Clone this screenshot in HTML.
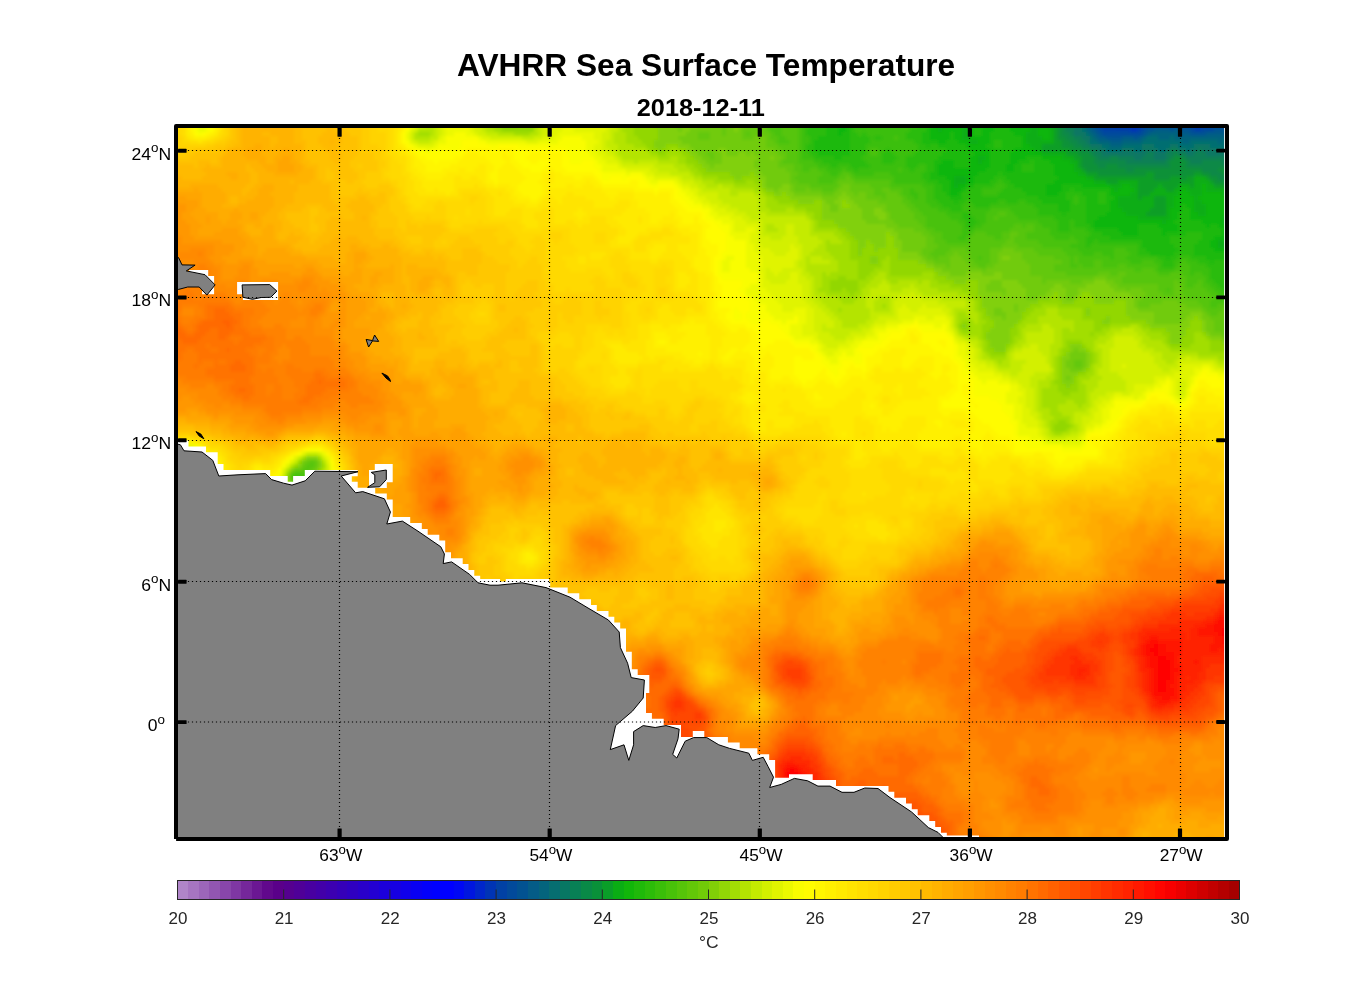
<!DOCTYPE html><html><head><meta charset="utf-8"><title>AVHRR Sea Surface Temperature</title>
<style>html,body{margin:0;padding:0;background:#fff}body{width:1356px;height:1000px;overflow:hidden}svg{display:block}text{font-family:"Liberation Sans",sans-serif}</style></head><body>
<svg width="1356" height="1000" viewBox="0 0 1356 1000">
<rect width="1356" height="1000" fill="#fff"/>
<defs><clipPath id="cp"><rect x="176" y="126" width="1051" height="713"/></clipPath><filter id="sm" x="170" y="120" width="1064" height="726" filterUnits="userSpaceOnUse"><feGaussianBlur stdDeviation="1.6"/></filter></defs>
<g clip-path="url(#cp)">
<rect x="170" y="120" width="1064" height="726" fill="#ffa800"/>
<g filter="url(#sm)">
<g shape-rendering="crispEdges" fill="none" stroke-width="4">
<path stroke="#0026ca" d="M1118 122h4"/>
<path stroke="#0034b5" d="M1114 122h4M1122 122h20M1194 122h12M1114 126h28M1194 126h8M1130 130h8"/>
<path stroke="#0141a5" d="M1102 122h12M1142 122h8M1166 122h28M1206 122h8M1098 126h16M1142 126h4M1190 126h4M1202 126h8M1102 130h28M1138 130h4M1194 130h8"/>
<path stroke="#024a9b" d="M1094 122h8M1150 122h16M1214 122h12M1094 126h4M1146 126h12M1162 126h28M1210 126h16M1098 130h4M1142 130h4M1190 130h4M1202 130h12M1102 134h40"/>
<path stroke="#025291" d="M1226 122h8M1158 126h4M1226 126h8M1094 130h4M1146 130h8M1170 130h4M1182 130h8M1214 130h12M1098 134h4M1142 134h4M1190 134h16M1106 138h16M1134 138h4"/>
<path stroke="#045c87" d="M1090 122h4M1090 126h4M1090 130h4M1154 130h16M1174 130h8M1226 130h8M1094 134h4M1146 134h4M1178 134h12M1206 134h20M1098 138h8M1122 138h12M1138 138h4M1110 142h12"/>
<path stroke="#04647d" d="M1086 126h4M1086 130h4M1090 134h4M1150 134h28M1226 134h8M1094 138h4M1142 138h4M1158 138h12M1174 138h52M1098 142h12M1122 142h20M1182 142h8M1218 142h4M1110 146h12"/>
<path stroke="#066e71" d="M1086 122h4M1082 130h4M1086 134h4M1090 138h4M1146 138h12M1170 138h4M1226 138h4M1090 142h8M1142 142h40M1190 142h28M1222 142h4M1102 146h8M1122 146h20M1154 146h16M1178 146h16M1210 146h16M1106 150h16M1134 150h8M1158 150h8M1186 150h4M1222 150h4"/>
<path stroke="#077763" d="M1082 122h4M1074 126h12M1074 130h8M1074 134h12M1082 138h8M1230 138h4M1086 142h4M1226 142h4M1090 146h12M1142 146h12M1170 146h8M1194 146h16M1226 146h4M1098 150h8M1122 150h12M1142 150h16M1166 150h4M1178 150h8M1190 150h8M1202 150h20M1226 150h4M1102 154h44M1154 154h12M1186 154h8M1206 154h28M1134 158h8M1154 158h12M1226 158h8"/>
<path stroke="#088055" d="M1066 122h16M1066 126h8M1066 130h8M1070 134h4M1074 138h8M1078 142h8M1230 142h4M1082 146h8M1230 146h4M1090 150h8M1170 150h8M1198 150h4M1230 150h4M1094 154h8M1146 154h8M1166 154h8M1178 154h8M1194 154h12M1098 158h12M1118 158h16M1142 158h12M1166 158h4M1186 158h40M1126 162h40M1190 162h12M1222 162h12"/>
<path stroke="#098947" d="M1062 122h4M1062 126h4M1062 130h4M1062 134h8M1066 138h8M1070 142h8M1074 146h8M1082 150h8M1090 154h4M1174 154h4M1094 158h4M1110 158h8M1170 158h4M1182 158h4M1094 162h32M1166 162h4M1186 162h4M1202 162h20M1098 166h8M1118 166h52M1186 166h48M1126 170h8M1202 170h16M1210 174h12M1218 178h16M1226 182h8"/>
<path stroke="#099139" d="M1054 122h8M1058 126h4M1058 130h4M1058 134h4M1058 138h8M1062 142h8M1062 146h12M1070 150h12M1078 154h12M1082 158h12M1174 158h8M1082 162h12M1170 162h16M1082 166h16M1106 166h12M1170 166h16M1086 170h40M1134 170h68M1218 170h16M1098 174h48M1154 174h40M1202 174h8M1222 174h12M1154 178h16M1182 178h4M1210 178h8M1214 182h12M1226 186h8"/>
<path stroke="#0a9e28" d="M1050 122h4M1050 126h8M1054 130h4M1054 134h4M1054 138h4M1054 142h8M1042 146h20M1042 150h28M1066 154h12M1074 158h8M1078 162h4M1078 166h4M1082 170h4M1086 174h12M1146 174h8M1194 174h8M1094 178h60M1170 178h12M1186 178h8M1206 178h4M1106 182h12M1138 182h56M1210 182h4M1138 186h20M1162 186h16M1190 186h4M1214 186h12M1138 190h16M1166 190h8M1226 190h8M1138 194h12M1138 198h4M1154 198h12M1230 198h4M1154 202h12M1230 202h4M1154 206h12M1230 206h4M1150 210h16M1146 214h20M1230 222h4"/>
<path stroke="#0aad14" d="M942 122h4M962 122h12M982 122h8M1018 122h32M942 126h4M962 126h8M986 126h4M1018 126h4M1030 126h20M938 130h4M962 130h8M1030 130h8M1050 130h4M962 134h8M1026 134h12M1050 134h4M962 138h8M1026 138h16M1050 138h4M970 142h8M1026 142h28M1030 146h12M1034 150h8M1042 154h24M978 158h8M1062 158h12M978 162h4M1070 162h8M1074 166h4M1074 170h8M1078 174h8M954 178h12M1086 178h8M1194 178h12M954 182h12M1094 182h12M1118 182h20M1194 182h16M954 186h4M1110 186h12M1130 186h8M1158 186h4M1178 186h12M1194 186h8M1206 186h8M1114 190h4M1134 190h4M1154 190h12M1174 190h8M1186 190h16M1206 190h20M1130 194h8M1150 194h28M1190 194h12M1222 194h12M1118 198h20M1142 198h12M1166 198h8M1194 198h4M1226 198h4M1118 202h36M1166 202h8M1194 202h8M1226 202h4M1118 206h36M1166 206h8M1194 206h12M1226 206h4M1122 210h28M1166 210h4M1194 210h12M1226 210h8M1126 214h20M1166 214h4M1198 214h8M1226 214h8M1138 218h32M1222 218h12M1162 222h4M1222 222h8M1226 226h8M1230 230h4M1218 242h8M1218 246h8"/>
<path stroke="#11b60a" d="M934 122h8M946 122h16M974 122h8M990 122h8M1010 122h8M842 126h4M934 126h8M946 126h16M970 126h16M990 126h4M1010 126h8M1022 126h8M838 130h8M930 130h8M942 130h20M970 130h4M982 130h12M1010 130h20M1038 130h12M838 134h4M930 134h20M954 134h8M970 134h4M982 134h8M1014 134h12M1038 134h12M930 138h20M954 138h8M970 138h20M1022 138h4M1042 138h8M938 142h8M958 142h12M978 142h12M1022 142h4M966 146h20M1022 146h8M970 150h20M1014 150h20M974 154h16M1010 154h32M970 158h8M986 158h4M1010 158h16M1042 158h20M942 162h12M970 162h8M982 162h8M1010 162h8M1050 162h20M938 166h16M970 166h20M1006 166h8M1054 166h20M938 170h48M1006 170h8M1054 170h20M938 174h40M1054 174h24M946 178h8M966 178h8M1058 178h28M950 182h4M966 182h8M1054 182h40M950 186h4M958 186h8M1046 186h16M1082 186h28M1122 186h8M1202 186h4M950 190h12M1046 190h16M1110 190h4M1118 190h16M1182 190h4M1202 190h4M950 194h8M1046 194h12M1110 194h20M1178 194h12M1202 194h20M1114 198h4M1174 198h20M1198 198h28M1110 202h8M1174 202h20M1202 202h24M1110 206h8M1174 206h8M1186 206h8M1206 206h20M1110 210h12M1170 210h12M1190 210h4M1206 210h20M1106 214h20M1170 214h8M1190 214h8M1206 214h20M1098 218h40M1170 218h8M1190 218h32M1094 222h68M1166 222h8M1202 222h20M1094 226h44M1158 226h20M1206 226h4M1218 226h8M1118 230h20M1162 230h16M1222 230h8M1122 234h16M1162 234h4M1222 234h12M1214 238h20M1210 242h8M1226 242h8M1210 246h8M1226 246h4M1214 250h16"/>
<path stroke="#1fb90a" d="M822 122h8M838 122h16M930 122h4M998 122h12M826 126h16M846 126h8M930 126h4M994 126h16M826 130h12M846 130h4M926 130h4M974 130h8M994 130h16M826 134h12M842 134h8M922 134h8M950 134h4M974 134h8M990 134h24M818 138h32M922 138h8M950 138h4M990 138h32M814 142h36M922 142h16M946 142h12M990 142h4M1002 142h20M814 146h36M926 146h4M938 146h28M986 146h8M1002 146h20M814 150h36M946 150h24M990 150h24M818 154h32M942 154h32M990 154h20M834 158h8M938 158h32M990 158h20M1026 158h16M934 162h8M954 162h16M990 162h20M1018 162h12M1034 162h16M934 166h4M954 166h16M990 166h16M1014 166h8M1034 166h20M934 170h4M986 170h20M1014 170h8M1034 170h20M930 174h8M978 174h20M1002 174h52M930 178h16M974 178h20M1006 178h52M938 182h12M974 182h16M1010 182h44M942 186h8M966 186h8M1014 186h32M1062 186h20M942 190h8M962 190h4M1022 190h24M1062 190h8M1074 190h36M946 194h4M958 194h4M1026 194h20M1058 194h8M1082 194h16M1106 194h4M950 198h12M1038 198h28M1086 198h12M1106 198h8M954 202h4M1042 202h28M1086 202h12M1106 202h4M1058 206h12M1086 206h24M1182 206h4M1058 210h12M1086 210h24M1182 210h8M1062 214h4M1086 214h20M1178 214h12M1086 218h12M1178 218h12M1086 222h8M1174 222h28M1090 226h4M1138 226h20M1178 226h28M1210 226h8M1094 230h24M1138 230h24M1178 230h44M1102 234h20M1138 234h24M1166 234h20M1202 234h20M1110 238h60M1202 238h12M1142 242h28M1198 242h12M1142 246h32M1194 246h16M1230 246h4M1146 250h32M1194 250h20M1230 250h4M1150 254h24M1194 254h40M1166 258h4M1206 258h28M1210 262h4M1230 278h4M1226 282h8M1230 286h4"/>
<path stroke="#2cbc09" d="M814 122h8M830 122h8M854 122h16M922 122h8M810 126h16M854 126h12M918 126h12M806 130h20M850 130h4M910 130h16M806 134h20M850 134h8M862 134h4M906 134h16M810 138h8M850 138h20M874 138h8M906 138h16M810 142h4M850 142h20M914 142h8M994 142h8M806 146h8M850 146h16M918 146h8M930 146h8M994 146h8M806 150h8M850 150h16M886 150h4M918 150h28M810 154h8M850 154h16M882 154h12M914 154h28M814 158h20M842 158h20M882 158h16M906 158h32M822 162h44M882 162h12M906 162h28M1030 162h4M830 166h8M850 166h20M906 166h12M926 166h8M1022 166h12M854 170h4M910 170h4M926 170h8M1022 170h12M922 174h8M998 174h4M922 178h8M994 178h12M926 182h12M990 182h8M1002 182h8M934 186h8M974 186h20M1006 186h8M934 190h8M966 190h16M1002 190h20M1070 190h4M934 194h12M962 194h20M998 194h28M1066 194h16M1098 194h8M934 198h16M962 198h76M1066 198h8M1078 198h8M1098 198h8M938 202h16M958 202h8M970 202h28M1006 202h12M1026 202h16M1070 202h4M1078 202h8M1098 202h8M942 206h20M974 206h16M1034 206h24M1070 206h16M950 210h12M1038 210h20M1070 210h16M962 214h8M1038 214h24M1066 214h20M962 218h12M1054 218h32M966 222h12M1058 222h12M1074 222h12M966 226h8M1058 226h12M1074 226h16M1058 230h12M1086 230h8M1090 234h12M1186 234h16M1086 238h24M1170 238h32M1086 242h8M1098 242h44M1170 242h28M1086 246h4M1138 246h4M1174 246h20M1138 250h8M1178 250h16M1138 254h12M1174 254h20M1158 258h8M1170 258h8M1190 258h16M1162 262h12M1198 262h12M1214 262h20M1162 266h12M1206 266h28M1210 270h24M1210 274h24M1210 278h20M1214 282h12M1218 286h12M1222 290h12"/>
<path stroke="#3abf09" d="M806 122h8M870 122h4M878 122h44M802 126h8M866 126h52M802 130h4M854 130h56M802 134h4M858 134h4M866 134h40M802 138h8M870 138h4M882 138h12M898 138h8M802 142h8M870 142h44M802 146h4M866 146h52M802 150h4M866 150h4M878 150h8M890 150h28M802 154h8M866 154h4M878 154h4M894 154h20M802 158h12M862 158h20M898 158h8M814 162h8M866 162h16M894 162h12M818 166h12M838 166h12M870 166h36M918 166h8M826 170h16M846 170h8M858 170h40M902 170h8M914 170h12M830 174h8M854 174h20M890 174h32M894 178h28M894 182h32M998 182h4M922 186h12M994 186h12M910 190h4M926 190h8M982 190h20M910 194h8M926 194h8M982 194h16M914 198h4M926 198h8M1074 198h4M926 202h12M966 202h4M998 202h8M1018 202h8M1074 202h4M930 206h12M962 206h12M990 206h44M938 210h12M962 210h28M1010 210h28M946 214h16M970 214h16M1014 214h24M950 218h12M974 218h12M1018 218h36M958 222h8M978 222h8M1038 222h20M1070 222h4M962 226h4M974 226h8M1042 226h16M1070 226h4M962 230h12M1050 230h8M1070 230h16M962 234h8M1050 234h40M958 238h8M1054 238h16M1074 238h12M1078 242h8M1094 242h4M1070 246h16M1090 246h48M1078 250h36M1126 250h12M1082 254h12M1102 254h12M1130 254h8M1110 258h4M1126 258h32M1178 258h12M1130 262h12M1154 262h8M1174 262h8M1186 262h12M1158 266h4M1174 266h4M1190 266h16M1158 270h16M1190 270h20M1190 274h4M1202 274h8M1206 278h4M1206 282h8M1210 286h8M1214 290h8M1218 294h16M1218 298h16M294 478h8"/>
<path stroke="#48c209" d="M798 122h8M874 122h4M778 126h4M798 126h4M770 130h12M798 130h4M774 134h8M798 134h4M778 138h8M798 138h4M894 138h4M778 142h12M798 142h4M798 146h4M798 150h4M870 150h8M798 154h4M870 154h8M798 158h4M798 162h16M802 166h16M802 170h8M818 170h8M842 170h4M898 170h4M822 174h8M838 174h4M850 174h4M874 174h16M818 178h20M854 178h40M818 182h16M890 182h4M890 186h32M902 190h8M914 190h12M902 194h8M918 194h8M906 198h8M918 198h8M910 202h16M914 206h16M918 210h20M990 210h20M922 214h24M986 214h12M1006 214h8M926 218h24M986 218h8M998 218h20M926 222h32M986 222h52M926 226h36M982 226h32M1022 226h4M1034 226h8M934 230h28M974 230h36M1034 230h16M942 234h20M970 234h4M986 234h16M1026 234h24M942 238h16M966 238h4M994 238h8M1026 238h28M1070 238h4M946 242h24M1038 242h40M1042 246h28M1062 250h16M1114 250h12M1066 254h16M1094 254h8M1114 254h16M978 258h4M1070 258h4M1078 258h32M1114 258h12M1070 262h4M1078 262h16M1102 262h28M1142 262h12M1182 262h4M1070 266h8M1082 266h12M1102 266h16M1126 266h32M1178 266h12M1134 270h8M1154 270h4M1174 270h16M1158 274h12M1182 274h8M1194 274h8M1186 278h20M1186 282h12M1202 282h4M1186 286h8M1202 286h8M1166 290h4M1206 290h8M1210 294h8M1214 298h4M1210 302h24M1210 306h8M294 474h12M290 478h4M302 478h4M294 482h8"/>
<path stroke="#56c509" d="M770 122h28M766 126h12M782 126h16M766 130h4M782 130h16M746 134h4M770 134h4M782 134h16M770 138h8M786 138h12M774 142h4M790 142h8M778 146h20M782 150h16M786 154h12M786 158h12M782 162h16M794 166h8M794 170h8M810 170h8M798 174h24M842 174h8M794 178h24M838 178h8M850 178h4M798 182h20M834 182h4M854 182h36M810 186h28M870 186h20M822 190h12M874 190h8M890 190h12M874 194h12M898 194h4M882 198h4M902 198h4M902 202h8M906 206h8M910 210h8M914 214h8M998 214h8M914 218h12M994 218h4M918 222h8M922 226h4M1014 226h8M1026 226h8M926 230h8M1010 230h24M930 234h12M974 234h12M1002 234h8M1018 234h8M934 238h8M970 238h24M1002 238h8M1014 238h12M934 242h12M970 242h36M1014 242h24M938 246h64M1018 246h24M934 250h16M966 250h24M1034 250h28M930 254h16M970 254h20M1038 254h28M934 258h4M970 258h8M982 258h8M1054 258h16M1074 258h4M974 262h16M1062 262h8M1074 262h4M1094 262h8M978 266h8M1054 266h16M1078 266h4M1094 266h8M1118 266h8M1054 270h80M1142 270h12M1066 274h32M1110 274h8M1126 274h32M1170 274h12M1122 278h64M1122 282h52M1178 282h8M1198 282h4M1158 286h16M1182 286h4M1194 286h8M1158 290h8M1170 290h4M1182 290h24M1162 294h12M1182 294h28M1186 298h28M1198 302h12M1202 306h8M1218 306h16M1206 310h16M1230 310h4M1210 314h8M1230 314h4M1230 318h4M1226 322h8M1226 326h8M1226 330h8M1226 334h8M310 462h4M306 466h8M302 470h8M290 474h4M306 474h4M302 482h4"/>
<path stroke="#63c808" d="M750 122h20M722 126h4M746 126h20M722 130h4M742 130h24M698 134h12M722 134h4M742 134h4M750 134h8M762 134h8M698 138h12M742 138h12M766 138h4M766 142h8M766 146h12M774 150h8M706 154h8M778 154h8M710 158h4M782 158h4M778 162h4M778 166h16M786 170h8M790 174h8M790 178h4M846 178h4M790 182h8M838 182h16M794 186h16M838 186h4M850 186h20M794 190h12M810 190h12M834 190h4M850 190h24M882 190h8M822 194h12M854 194h4M866 194h8M886 194h12M866 198h16M886 198h16M878 202h24M886 206h20M886 210h24M890 214h24M890 218h24M894 222h24M898 226h24M914 230h12M922 234h8M1010 234h8M926 238h8M1010 238h4M926 242h8M1006 242h8M926 246h12M1002 246h16M922 250h12M950 250h16M990 250h12M1014 250h20M922 254h8M946 254h8M958 254h12M990 254h8M1022 254h16M926 258h8M938 258h12M962 258h8M990 258h8M1022 258h32M934 262h16M966 262h8M990 262h8M1026 262h36M946 266h4M970 266h8M986 266h8M1030 266h24M982 270h4M1030 270h24M1030 274h36M1098 274h12M1118 274h8M1042 278h52M1106 278h16M1042 282h4M1070 282h12M1114 282h8M1174 282h4M1118 286h40M1174 286h8M1126 290h4M1142 290h16M1174 290h8M1146 294h16M1174 294h8M1142 298h44M1138 302h24M1178 302h20M1138 306h12M1186 306h16M1202 310h4M1222 310h8M1206 314h4M1218 314h12M1210 318h20M1214 322h12M1214 326h12M1214 330h12M1222 334h4M1230 338h4M1074 362h8M1074 366h8M306 462h4M314 462h4M302 466h4M314 466h4M294 470h8M310 470h4M306 478h4M290 482h4"/>
<path stroke="#71cb08" d="M670 122h12M714 122h20M746 122h4M674 126h8M698 126h24M726 126h8M742 126h4M678 130h4M690 130h32M726 130h8M738 130h4M686 134h12M710 134h12M726 134h16M758 134h4M678 138h20M710 138h32M754 138h12M682 142h84M690 146h76M694 150h24M726 150h48M698 154h8M714 154h8M726 154h12M746 154h4M754 154h24M702 158h8M714 158h8M758 158h12M774 158h8M706 162h16M754 162h24M710 166h4M754 166h24M758 170h28M762 174h28M766 178h24M766 182h24M766 186h16M790 186h4M842 186h8M774 190h4M790 190h4M806 190h4M838 190h12M794 194h28M834 194h8M846 194h8M858 194h8M822 198h16M850 198h16M826 202h8M854 202h24M830 206h8M858 206h28M830 210h8M862 210h12M882 210h4M862 214h12M886 214h4M862 218h16M886 218h4M866 222h28M886 226h12M894 230h20M898 234h24M898 238h28M902 242h24M902 246h24M902 250h20M1002 250h12M918 254h4M954 254h4M998 254h24M922 258h4M950 258h12M998 258h4M1010 258h12M926 262h8M950 262h16M998 262h28M934 266h12M950 266h20M994 266h36M942 270h40M986 270h44M950 274h16M982 274h12M1002 274h28M1002 278h40M1094 278h12M990 282h12M1018 282h24M1046 282h24M1082 282h12M1106 282h8M986 286h16M1022 286h32M1062 286h24M1110 286h8M986 290h20M1026 290h24M1066 290h12M1114 290h12M1130 290h12M1002 294h4M1026 294h20M1066 294h12M1130 294h16M1026 298h12M1066 298h8M1134 298h8M1134 302h4M1162 302h16M1014 306h4M1134 306h4M1150 306h36M994 310h8M1014 310h4M1138 310h64M994 314h12M1154 314h36M1202 314h4M1002 318h4M1154 318h32M1202 318h8M1154 322h28M1206 322h8M1206 326h8M1206 330h8M1210 334h12M1222 338h8M1074 350h4M1070 354h16M1070 358h16M1066 362h8M1082 362h4M1066 366h8M1082 366h4M1070 370h12M1066 378h4M302 462h4M314 470h4M310 474h4M306 482h4M294 486h8"/>
<path stroke="#81d007" d="M658 122h12M682 122h4M694 122h20M734 122h12M502 126h16M654 126h20M682 126h16M734 126h8M658 130h20M682 130h8M734 130h4M658 134h28M658 138h20M654 142h28M654 146h12M678 146h12M658 150h4M686 150h8M718 150h8M690 154h8M722 154h4M738 154h8M750 154h4M694 158h8M722 158h36M770 158h4M698 162h8M722 162h32M702 166h8M714 166h40M706 170h52M730 174h20M754 174h8M734 178h8M758 178h8M762 182h4M762 186h4M782 186h8M766 190h8M778 190h12M774 194h8M786 194h8M842 194h4M790 198h32M838 198h12M798 202h16M822 202h4M834 202h8M846 202h8M822 206h8M838 206h4M850 206h8M822 210h8M838 210h24M874 210h8M822 214h40M874 214h12M822 218h40M878 218h8M834 222h32M838 226h48M846 230h48M850 234h36M890 234h8M854 238h32M894 238h4M858 242h8M870 242h16M894 242h8M858 246h8M874 246h12M894 246h8M858 250h4M874 250h4M898 250h4M858 254h4M898 254h20M870 258h8M898 258h24M1002 258h8M870 262h8M918 262h8M926 266h8M934 270h8M938 274h12M966 274h16M994 274h8M946 278h56M954 282h12M978 282h12M1002 282h16M1094 282h12M978 286h8M1002 286h20M1054 286h8M1086 286h24M978 290h8M1006 290h20M1050 290h16M1078 290h36M978 294h24M1006 294h20M1046 294h8M1058 294h8M1078 294h4M1090 294h40M982 298h44M1038 298h12M1058 298h8M1074 298h4M1094 298h40M982 302h56M1062 302h12M1094 302h20M1126 302h8M982 306h32M1018 306h12M1126 306h8M986 310h8M1002 310h12M1018 310h8M1086 310h4M1126 310h12M986 314h8M1006 314h16M1086 314h4M1126 314h28M1190 314h12M990 318h12M1006 318h16M1106 318h4M1130 318h24M1186 318h8M1198 318h4M994 322h24M1102 322h8M1146 322h8M1182 322h8M1202 322h4M962 326h4M994 326h20M1150 326h40M1202 326h4M990 330h20M1166 330h20M1202 330h4M986 334h24M1170 334h16M1206 334h4M986 338h24M1170 338h12M1210 338h12M990 342h20M1170 342h12M1222 342h12M990 346h16M1070 346h12M994 350h12M1070 350h4M1078 350h8M1066 354h4M1086 354h4M1062 358h8M1086 358h4M1062 362h4M1086 362h4M1062 366h4M1086 366h4M1062 370h8M1082 370h4M1062 374h16M1062 378h4M1070 378h4M1062 382h12M1066 386h4M306 458h12M318 462h4M298 466h4M318 466h4M290 470h4M314 474h4M178 478h8M286 478h4M310 478h4M178 482h8M310 482h4M290 486h4M302 486h8"/>
<path stroke="#92d706" d="M498 122h20M526 122h8M634 122h12M650 122h8M686 122h8M498 126h4M518 126h16M634 126h20M502 130h32M634 130h24M634 134h24M638 138h20M642 142h12M646 146h8M666 146h12M650 150h8M662 150h8M678 150h8M658 154h8M682 154h8M686 158h8M686 162h12M694 166h8M698 170h8M702 174h28M750 174h4M718 178h16M742 178h16M734 182h12M754 182h8M758 186h4M762 190h4M766 194h8M782 194h4M774 198h16M778 202h20M814 202h8M842 202h4M794 206h28M842 206h8M806 210h16M814 214h8M814 218h8M818 222h16M818 226h20M838 230h8M842 234h8M886 234h4M846 238h8M886 238h8M850 242h8M866 242h4M886 242h8M850 246h8M866 246h8M886 246h8M850 250h8M862 250h12M878 250h20M850 254h8M862 254h36M850 258h20M878 258h8M890 258h8M858 262h12M878 262h4M890 262h28M858 266h24M890 266h36M858 270h16M890 270h44M858 274h12M890 274h32M934 274h4M838 278h8M858 278h8M934 278h12M830 282h28M938 282h16M966 282h12M830 286h28M950 286h28M830 290h12M846 290h12M962 290h16M850 294h4M970 294h8M1054 294h4M1082 294h8M974 298h8M1050 298h8M1078 298h16M978 302h4M1038 302h24M1074 302h20M1114 302h12M978 306h4M1030 306h12M1058 306h68M978 310h8M1026 310h8M1082 310h4M1090 310h36M982 314h4M1022 314h8M1082 314h4M1090 314h36M982 318h8M1022 318h4M1082 318h24M1110 318h20M1194 318h4M962 322h8M986 322h8M1018 322h4M1094 322h8M1110 322h36M1190 322h12M958 326h4M966 326h4M982 326h12M1014 326h4M1094 326h16M1142 326h8M1190 326h12M962 330h8M982 330h8M1010 330h8M1094 330h8M1150 330h16M1186 330h16M982 334h4M1010 334h8M1090 334h4M1162 334h8M1186 334h8M1202 334h4M982 338h4M1010 338h4M1166 338h4M1182 338h12M1206 338h4M986 342h4M1010 342h4M1066 342h16M1166 342h4M1182 342h12M1210 342h12M986 346h4M1006 346h4M1066 346h4M1082 346h4M1170 346h20M1210 346h24M986 350h8M1062 350h8M1086 350h4M1210 350h24M990 354h16M1062 354h4M1090 354h4M1058 358h4M1090 358h4M1058 362h4M1090 362h4M1058 366h4M1058 370h4M1086 370h4M1058 374h4M1078 374h8M1058 378h4M1074 378h4M1054 382h8M1074 382h4M1058 386h8M1070 386h8M1058 390h20M1062 394h8M1058 422h8M1054 426h16M1054 430h12M298 462h4M294 466h4M318 470h4M174 474h16M286 474h4M170 478h8M186 478h4M314 478h4M170 482h8M186 482h8M286 482h4M314 482h4M170 486h24M310 486h4M174 490h16M298 490h12M302 526h4M302 530h8M302 534h4M310 542h4M174 622h8M182 650h4M182 654h4M182 786h4M182 790h4M182 794h4M182 798h4M170 802h12M170 806h16M170 810h16M174 814h8"/>
<path stroke="#a2de04" d="M494 122h4M518 122h8M626 122h8M646 122h4M490 126h8M534 126h4M626 126h8M494 130h8M622 130h12M418 134h12M514 134h16M626 134h8M626 138h12M626 142h16M634 146h12M646 150h4M670 150h8M650 154h8M666 154h16M658 158h12M678 158h8M678 162h8M686 166h8M690 170h8M694 174h8M702 178h16M714 182h20M746 182h8M734 186h24M754 190h8M762 194h4M766 198h8M766 202h12M766 206h28M770 210h16M794 210h12M806 214h8M810 218h4M814 222h4M814 226h4M814 230h24M834 234h8M838 238h8M826 242h4M842 242h8M826 246h24M826 250h24M830 254h20M834 258h16M886 258h4M838 262h20M882 262h8M838 266h20M882 266h8M838 270h20M874 270h16M822 274h4M830 274h28M870 274h8M886 274h4M922 274h12M822 278h16M846 278h12M866 278h8M886 278h48M822 282h8M858 282h12M890 282h8M918 282h4M930 282h8M822 286h8M858 286h8M930 286h20M818 290h12M842 290h4M858 290h4M938 290h24M826 294h24M854 294h8M958 294h12M838 298h20M966 298h8M842 302h12M974 302h4M882 306h4M974 306h4M1042 306h16M838 310h4M974 310h4M1034 310h12M1058 310h24M958 314h8M978 314h4M1030 314h16M1058 314h24M958 318h12M978 318h4M1026 318h12M1062 318h20M958 322h4M970 322h4M978 322h8M1022 322h16M1074 322h20M970 326h12M1018 326h8M1074 326h20M1110 326h20M1138 326h4M958 330h4M970 330h12M1018 330h4M1062 330h8M1074 330h20M1102 330h8M1142 330h8M962 334h20M1018 334h4M1062 334h28M1094 334h12M1146 334h16M1194 334h8M978 338h4M1014 338h8M1062 338h36M1150 338h16M1194 338h12M982 342h4M1014 342h4M1062 342h4M1082 342h12M1162 342h4M1194 342h16M982 346h4M1010 346h4M1062 346h4M1086 346h8M1166 346h4M1190 346h20M982 350h4M1006 350h4M1058 350h4M1090 350h4M1170 350h40M986 354h4M1058 354h4M1094 354h4M1198 354h36M990 358h16M1054 358h4M1094 358h4M1218 358h16M998 362h4M1054 362h4M1094 362h4M1054 366h4M1090 366h4M1054 370h4M1090 370h4M1054 374h4M1086 374h8M1054 378h4M1078 378h12M1050 382h4M1078 382h4M1050 386h8M1078 386h8M1042 390h16M1078 390h8M1042 394h20M1070 394h16M1042 398h44M1042 402h24M1074 402h12M1042 406h16M1078 406h4M1050 410h8M1050 414h12M1054 418h16M1050 422h8M1066 422h4M1050 426h4M1070 426h4M1050 430h4M1066 430h4M1054 434h8M302 458h4M318 458h4M322 466h4M174 470h12M170 474h4M190 474h4M318 474h4M190 478h4M318 478h4M194 482h4M318 482h4M194 486h8M286 486h4M314 486h4M170 490h4M190 490h8M290 490h8M310 490h8M170 494h28M302 494h12M174 498h12M306 498h8M306 522h4M298 526h4M306 526h8M298 530h4M310 530h4M298 534h4M306 534h8M302 538h16M302 542h8M314 542h4M306 546h8M182 550h4M178 554h12M174 558h16M178 562h12M186 586h4M182 590h12M182 594h12M186 598h4M182 610h8M170 614h24M170 618h20M170 622h4M182 622h8M170 626h16M170 630h12M170 634h8M170 638h8M170 642h20M170 646h20M174 650h8M186 650h4M170 654h12M186 654h8M170 658h20M170 662h4M186 674h8M182 678h12M178 682h12M186 742h8M178 766h12M174 770h16M174 774h16M170 778h20M174 782h16M174 786h8M186 786h4M174 790h8M186 790h4M174 794h8M186 794h8M170 798h12M186 798h8M182 802h8M186 806h4M186 810h4M170 814h4M182 814h4M170 818h16M174 822h8M174 826h4"/>
<path stroke="#b4e402" d="M486 122h8M534 122h4M622 122h4M426 126h8M482 126h8M618 126h8M418 130h16M486 130h8M534 130h4M618 130h4M414 134h4M430 134h4M498 134h16M530 134h8M614 134h12M414 138h16M614 138h12M614 142h12M618 146h16M618 150h28M618 154h32M622 158h36M670 158h8M634 162h4M658 162h20M674 166h12M678 170h12M690 174h4M694 178h8M702 182h12M706 186h12M722 186h12M730 190h24M730 194h8M754 194h8M758 198h8M758 202h8M758 206h8M758 210h12M786 210h8M766 214h40M806 218h4M810 222h4M766 226h8M810 226h4M766 230h12M810 230h4M810 234h24M818 238h20M822 242h4M830 242h12M818 246h8M814 250h12M810 254h20M806 258h4M822 258h12M806 262h4M830 262h8M806 266h32M806 270h32M810 274h12M826 274h4M878 274h8M814 278h8M874 278h12M814 282h8M870 282h12M886 282h4M898 282h20M922 282h8M814 286h8M866 286h12M890 286h20M914 286h16M814 290h4M862 290h8M890 290h12M918 290h20M814 294h12M862 294h8M922 294h36M818 298h20M858 298h8M878 298h12M942 298h24M822 302h20M854 302h12M874 302h16M966 302h8M826 306h40M874 306h8M886 306h4M966 306h8M830 310h8M842 310h28M874 310h16M954 310h20M1046 310h12M834 314h36M954 314h4M966 314h12M1046 314h12M838 318h32M954 318h4M970 318h8M1038 318h24M842 322h24M954 322h4M974 322h4M1038 322h36M842 326h16M954 326h4M1026 326h16M1050 326h24M1130 326h8M1022 330h20M1054 330h8M1070 330h4M1110 330h12M1134 330h8M958 334h4M1022 334h4M1054 334h8M1106 334h8M1138 334h8M966 338h12M1022 338h4M1054 338h8M1098 338h12M1142 338h8M978 342h4M1018 342h8M1054 342h8M1094 342h12M1142 342h20M978 346h4M1014 346h8M1050 346h12M1094 346h4M1146 346h20M1010 350h4M1050 350h8M1094 350h8M1154 350h16M982 354h4M1006 354h4M1050 354h8M1098 354h4M1162 354h36M982 358h8M1006 358h4M1050 358h4M1098 358h4M1162 358h16M1198 358h20M994 362h4M1002 362h8M1050 362h4M1098 362h4M1166 362h8M1218 362h16M998 366h12M1050 366h4M1094 366h8M1094 370h4M1050 374h4M1094 374h4M1046 378h8M1090 378h12M1038 382h12M1082 382h16M1038 386h12M1086 386h12M1038 390h4M1086 390h8M1038 394h4M1086 394h4M1038 398h4M1086 398h4M1038 402h4M1066 402h8M1086 402h4M1038 406h4M1058 406h20M1082 406h8M1038 410h12M1058 410h28M1042 414h8M1062 414h12M1042 418h12M1070 418h4M1046 422h4M1070 422h4M1046 426h4M1074 426h4M1070 430h8M1050 434h4M1062 434h8M322 462h4M290 466h4M170 470h4M186 470h12M286 470h4M322 470h4M194 474h4M322 474h4M194 478h4M322 478h4M198 482h4M322 482h4M318 486h4M198 490h4M318 490h4M198 494h4M294 494h8M314 494h4M170 498h4M186 498h12M298 498h8M314 498h4M170 502h24M302 502h16M174 506h16M310 506h4M174 510h20M174 514h20M174 518h20M306 518h4M174 522h16M298 522h8M310 522h4M314 526h4M314 530h4M182 534h8M314 534h8M174 538h20M298 538h4M318 538h4M170 542h24M318 542h4M170 546h24M302 546h4M314 546h4M170 550h12M186 550h8M306 550h8M170 554h8M190 554h4M170 558h4M190 558h8M170 562h8M190 562h4M170 566h24M170 570h24M170 574h24M170 578h28M170 582h28M178 586h8M190 586h8M178 590h4M194 590h4M178 594h4M194 594h4M178 598h8M190 598h4M182 602h12M178 606h20M170 610h12M190 610h8M194 614h8M190 618h12M190 622h8M186 626h12M182 630h16M178 634h20M178 638h20M190 642h4M190 646h4M170 650h4M190 650h4M194 654h4M190 658h8M174 662h20M170 666h24M170 670h24M170 674h16M194 674h4M170 678h12M194 678h4M170 682h8M190 682h8M170 686h28M170 690h24M174 694h20M178 698h16M178 702h16M178 706h16M170 710h8M186 710h8M170 714h8M186 714h8M170 718h8M170 722h8M178 738h20M174 742h12M194 742h4M174 746h24M174 750h20M174 754h16M174 758h24M170 762h28M170 766h8M190 766h8M170 770h4M190 770h8M170 774h4M190 774h4M190 778h4M170 782h4M190 782h4M170 786h4M190 786h4M170 790h4M190 790h4M170 794h4M194 794h4M194 798h4M190 802h8M190 806h4M190 810h4M186 814h8M186 818h4M170 822h4M182 822h8M170 826h4M178 826h16M170 830h28M170 834h28M174 838h4M186 838h8M186 842h8M186 846h8"/>
<path stroke="#c4eb01" d="M430 122h4M482 122h4M538 122h4M614 122h8M422 126h4M434 126h4M478 126h4M538 126h4M614 126h4M434 130h4M482 130h4M538 130h4M610 130h8M434 134h4M486 134h12M538 134h4M610 134h4M430 138h8M522 138h12M610 138h4M418 142h12M606 142h8M606 146h12M610 150h8M614 154h4M618 158h4M622 162h12M638 162h20M654 166h20M658 170h20M670 174h20M682 178h12M694 182h8M698 186h8M718 186h4M702 190h28M718 194h12M738 194h16M718 198h40M722 202h36M730 206h28M738 210h20M746 214h20M750 218h56M762 222h48M762 226h4M774 226h12M794 226h16M762 230h4M778 230h8M794 230h16M762 234h24M794 234h16M770 238h12M798 238h20M798 242h24M802 246h16M802 250h12M802 254h8M802 258h4M810 258h12M798 262h8M810 262h20M798 266h8M802 270h4M802 274h8M806 278h8M810 282h4M882 282h4M810 286h4M878 286h12M910 286h4M810 290h4M870 290h20M902 290h16M810 294h4M870 294h40M914 294h8M810 298h8M866 298h12M890 298h8M922 298h20M814 302h8M866 302h8M890 302h4M938 302h28M818 306h8M866 306h8M890 306h4M946 306h20M822 310h8M870 310h4M890 310h4M950 310h4M826 314h8M870 314h24M950 314h4M830 318h8M870 318h8M834 322h8M866 322h8M822 326h4M834 326h8M858 326h12M1042 326h8M822 330h40M954 330h4M1042 330h12M1122 330h12M830 334h20M1026 334h28M1114 334h24M834 338h12M962 338h4M1026 338h28M1110 338h4M1134 338h8M970 342h8M1026 342h28M1106 342h8M1138 342h4M974 346h4M1022 346h8M1038 346h12M1098 346h16M1138 346h8M978 350h4M1014 350h8M1038 350h12M1102 350h8M1142 350h12M978 354h4M1010 354h4M1042 354h8M1102 354h8M1150 354h12M978 358h4M1010 358h4M1046 358h4M1102 358h8M1154 358h8M1178 358h8M1190 358h8M986 362h8M1010 362h16M1046 362h4M1102 362h8M1154 362h12M1174 362h4M1214 362h4M994 366h4M1010 366h12M1102 366h8M1158 366h20M1218 366h16M998 370h24M1050 370h4M1098 370h12M1162 370h8M1010 374h8M1034 374h16M1098 374h20M1030 378h16M1102 378h20M1030 382h8M1098 382h28M1030 386h8M1098 386h28M1034 390h4M1094 390h32M1034 394h4M1090 394h16M1034 398h4M1090 398h8M1034 402h4M1090 402h4M1034 406h4M1090 406h4M1034 410h4M1086 410h4M1038 414h4M1074 414h16M1038 418h4M1074 418h8M1042 422h4M1074 422h8M1042 426h4M1078 426h4M1046 430h4M1078 430h4M1046 434h4M1070 434h8M1050 438h16M306 454h12M298 458h4M294 462h4M170 466h32M198 470h4M198 474h4M198 478h4M282 478h4M202 482h4M282 482h4M202 486h4M322 486h4M202 490h4M286 490h4M202 494h4M290 494h4M318 494h4M198 498h4M294 498h4M318 498h4M194 502h4M298 502h4M318 502h4M170 506h4M190 506h8M302 506h8M314 506h8M170 510h4M194 510h4M306 510h12M170 514h4M194 514h4M302 514h16M170 518h4M194 518h4M298 518h8M310 518h8M170 522h4M190 522h8M314 522h4M174 526h20M294 526h4M318 526h4M174 530h20M294 530h4M318 530h4M170 534h12M190 534h8M294 534h4M170 538h4M194 538h4M294 538h4M322 538h4M194 542h4M298 542h4M322 542h4M194 546h4M298 546h4M318 546h4M194 550h4M302 550h4M314 550h4M194 554h4M198 558h4M194 562h8M194 566h4M194 570h4M194 574h4M198 578h4M198 582h4M170 586h8M198 586h4M170 590h8M198 590h4M170 594h8M198 594h4M170 598h8M194 598h4M170 602h12M194 602h4M170 606h8M198 606h4M198 610h4M202 614h4M202 618h4M198 622h8M198 626h8M198 630h8M198 634h4M198 638h4M194 642h8M194 646h8M194 650h8M198 654h4M198 658h4M194 662h8M194 666h4M194 670h4M198 674h4M198 678h4M198 682h4M198 686h4M194 690h8M170 694h4M194 694h8M170 698h8M194 698h8M170 702h8M194 702h4M170 706h8M194 706h4M178 710h8M194 710h4M178 714h8M194 714h8M178 718h24M178 722h24M170 726h20M198 726h8M170 730h16M198 730h12M174 734h36M170 738h8M198 738h12M170 742h4M198 742h8M170 746h4M198 746h4M170 750h4M194 750h8M170 754h4M190 754h12M170 758h4M198 758h4M198 762h4M198 766h4M194 774h4M194 778h4M194 782h4M194 786h4M194 790h4M194 806h4M194 810h4M194 814h4M190 818h8M190 822h8M194 826h4M198 834h4M170 838h4M178 838h8M194 838h8M170 842h16M194 842h8M170 846h16M194 846h8"/>
<path stroke="#d3f000" d="M426 122h4M434 122h4M478 122h4M610 122h4M418 126h4M438 126h4M474 126h4M542 126h4M610 126h4M414 130h4M438 130h4M474 130h8M542 130h8M606 130h4M410 134h4M438 134h4M478 134h8M542 134h8M602 134h8M410 138h4M490 138h32M534 138h8M602 138h8M414 142h4M430 142h4M602 142h4M602 146h4M602 150h8M606 154h8M614 158h4M618 162h4M622 166h32M650 170h8M654 174h16M678 178h4M682 182h12M690 186h8M698 190h4M698 194h20M706 198h12M710 202h12M718 206h12M726 210h12M734 214h12M742 218h8M746 222h16M758 226h4M786 226h8M758 230h4M786 230h8M758 234h4M786 234h8M758 238h12M782 238h16M758 242h40M762 246h28M794 246h8M770 250h20M798 250h4M774 254h12M798 254h4M798 258h4M794 262h4M794 266h4M766 270h4M782 270h20M766 274h8M778 274h12M798 274h4M766 278h24M798 278h8M770 282h16M798 282h12M802 286h8M802 290h8M802 294h8M910 294h4M802 298h8M898 298h24M806 302h8M894 302h44M810 306h8M894 306h8M906 306h16M926 306h20M814 310h8M894 310h4M910 310h8M942 310h8M814 314h12M894 314h4M946 314h4M814 318h16M878 318h20M950 318h4M814 322h20M874 322h12M950 322h4M814 326h8M826 326h8M870 326h4M950 326h4M814 330h8M862 330h8M818 334h12M850 334h16M954 334h4M818 338h16M846 338h8M958 338h4M1114 338h20M822 342h24M966 342h4M1114 342h24M826 346h12M970 346h4M1030 346h8M1114 346h24M974 350h4M1022 350h16M1110 350h32M974 354h4M1014 354h28M1110 354h40M974 358h4M1014 358h32M1110 358h44M1186 358h4M978 362h8M1026 362h20M1110 362h44M1178 362h36M986 366h8M1022 366h28M1110 366h12M1126 366h32M1178 366h4M1214 366h4M994 370h4M1022 370h28M1110 370h52M1170 370h12M1222 370h12M1002 374h8M1018 374h16M1118 374h56M1010 378h20M1122 378h32M1018 382h12M1126 382h28M1178 382h8M1022 386h8M1126 386h8M1178 386h8M1026 390h8M1126 390h8M1178 390h8M1026 394h8M1106 394h8M1122 394h8M1178 394h8M1026 398h8M1098 398h12M1026 402h8M1094 402h8M1026 406h8M1094 406h4M1030 410h4M1090 410h8M1030 414h8M1090 414h4M1034 418h4M1082 418h12M1038 422h4M1082 422h8M1038 426h4M1082 426h4M1042 430h4M1082 430h4M1042 434h4M1078 434h4M1046 438h4M1066 438h12M318 454h4M322 458h4M170 462h12M190 462h12M202 466h4M326 466h4M202 470h4M326 470h4M202 474h4M282 474h4M326 474h4M202 478h4M326 478h4M206 482h4M326 482h4M206 486h4M282 486h4M206 490h4M322 490h4M206 494h4M286 494h4M322 494h4M202 498h4M290 498h4M198 502h8M294 502h4M198 506h4M298 506h4M198 510h4M298 510h8M318 510h4M198 514h4M298 514h4M318 514h4M198 518h4M294 518h4M318 518h4M198 522h4M294 522h4M318 522h4M170 526h4M194 526h8M322 526h4M170 530h4M194 530h8M322 530h4M198 534h4M322 534h4M198 542h4M294 542h4M198 546h4M294 546h4M322 546h4M198 550h4M298 550h4M318 550h4M198 554h4M298 554h16M202 558h4M202 562h4M198 566h8M198 570h4M198 574h4M202 578h4M202 582h4M202 586h4M198 598h4M198 602h4M202 606h4M202 610h4M206 626h4M206 630h4M202 634h4M202 638h4M202 642h4M202 646h4M202 650h4M202 654h4M202 658h4M198 666h4M198 670h4M202 674h4M202 678h4M202 682h4M202 686h4M202 690h4M202 694h4M202 698h4M198 702h8M198 706h8M198 710h8M202 714h4M202 718h4M202 722h8M190 726h8M206 726h8M186 730h12M210 730h4M170 734h4M210 734h4M210 738h4M206 742h4M202 746h8M202 750h4M202 754h4M202 758h4M202 762h4M198 770h4M198 774h4M198 778h4M198 794h4M198 798h4M198 802h4M198 806h4M198 810h4M198 814h4M198 826h4M198 830h4M202 846h4"/>
<path stroke="#e0f400" d="M422 122h4M438 122h4M474 122h4M542 122h40M590 122h20M414 126h4M470 126h4M546 126h64M410 130h4M442 130h4M470 130h4M550 130h12M574 130h32M442 134h4M474 134h4M550 134h8M594 134h8M438 138h4M482 138h8M542 138h12M594 138h8M410 142h4M434 142h4M526 142h12M598 142h4M418 146h16M594 146h8M594 150h8M598 154h8M602 158h12M606 162h12M618 166h4M626 170h24M646 174h8M654 178h24M678 182h4M682 186h8M690 190h8M694 194h4M698 198h8M702 202h8M710 206h8M714 210h12M718 214h16M730 218h12M734 222h12M734 226h24M734 230h12M754 230h4M750 234h8M750 238h8M750 242h8M754 246h8M790 246h4M754 250h16M790 250h8M758 254h16M786 254h12M762 258h36M762 262h32M762 266h32M758 270h8M770 270h12M762 274h4M774 274h4M790 274h8M762 278h4M790 278h8M762 282h8M786 282h12M762 286h40M766 290h36M770 294h32M774 298h28M778 302h28M782 306h28M902 306h4M922 306h4M782 310h12M806 310h8M898 310h12M918 310h24M806 314h8M898 314h48M806 318h8M898 318h16M926 318h8M946 318h4M806 322h8M886 322h16M802 326h12M874 326h12M802 330h12M870 330h4M950 330h4M802 334h16M866 334h8M814 338h4M854 338h12M954 338h4M818 342h4M846 342h8M958 342h8M822 346h4M838 346h12M966 346h4M822 350h16M966 350h8M826 354h8M966 354h8M970 358h4M970 362h8M974 366h12M1122 366h4M1182 366h20M1210 366h4M978 370h16M1182 370h12M1214 370h8M994 374h8M1174 374h20M1002 378h8M1154 378h12M1170 378h20M1010 382h8M1154 382h4M1174 382h4M1186 382h4M1018 386h4M1134 386h20M1174 386h4M1186 386h4M1018 390h8M1134 390h12M1174 390h4M1022 394h4M1114 394h8M1130 394h12M1174 394h4M1018 398h8M1110 398h4M1134 398h4M1178 398h8M1018 402h8M1102 402h8M1022 406h4M1098 406h8M1022 410h8M1098 410h4M1022 414h8M1094 414h8M1022 418h12M1094 418h8M1022 422h16M1090 422h12M1026 426h12M1086 426h8M1038 430h4M1038 434h4M1082 434h4M1042 438h4M1078 438h4M1046 442h36M190 450h4M302 454h4M194 458h4M294 458h4M182 462h8M202 462h4M290 462h4M326 462h4M206 466h4M286 466h4M206 470h4M282 470h4M206 474h4M206 478h4M210 486h4M326 486h4M210 490h4M282 490h4M326 490h4M282 494h4M206 498h4M286 498h4M322 498h4M206 502h4M290 502h4M322 502h4M202 506h4M294 506h4M322 506h4M202 510h4M294 510h4M322 510h4M202 514h4M294 514h4M322 514h4M202 518h4M322 518h4M202 522h4M290 522h4M322 522h4M202 526h4M290 526h4M202 530h4M290 530h4M326 530h4M202 534h4M290 534h4M326 534h4M198 538h8M290 538h4M326 538h4M202 542h4M326 542h4M202 546h4M202 550h4M294 550h4M202 554h4M314 554h4M206 558h4M298 558h12M206 562h4M206 566h4M202 570h4M202 574h4M206 578h4M206 582h4M202 590h4M202 594h4M202 598h4M202 602h8M206 606h4M206 610h4M206 614h4M206 618h4M206 622h4M210 626h4M210 630h4M206 634h4M206 638h4M206 642h4M206 646h4M206 650h4M206 654h4M202 662h4M202 666h4M202 670h4M206 674h4M206 678h4M206 682h4M206 686h4M206 690h4M206 694h4M206 698h4M206 702h4M206 706h8M206 710h8M206 714h8M206 718h8M210 722h4M214 726h4M214 730h4M214 734h4M214 738h4M210 742h4M210 746h4M206 750h4M206 754h4M202 766h4M198 782h4M198 786h4M198 790h4M198 818h4M198 822h4M202 830h4M202 834h4M202 838h4M202 842h4"/>
<path stroke="#ecf900" d="M418 122h4M442 122h4M458 122h16M582 122h8M198 126h8M442 126h28M198 130h8M446 130h24M562 130h12M406 134h4M446 134h8M466 134h8M558 134h36M406 138h4M442 138h4M478 138h4M554 138h8M582 138h12M438 142h8M486 142h40M538 142h20M586 142h12M414 146h4M434 146h4M586 146h8M426 150h4M586 150h8M590 154h8M594 158h8M598 162h8M602 166h16M602 170h24M626 174h4M642 174h4M646 178h8M650 182h8M674 182h4M678 186h4M682 190h8M686 194h8M690 198h8M694 202h8M702 206h8M710 210h4M710 214h8M714 218h16M722 222h12M730 226h4M730 230h4M746 230h8M730 234h20M734 238h16M746 242h4M746 246h8M746 250h8M746 254h12M726 258h8M746 258h16M722 262h8M746 262h16M722 266h8M746 266h16M722 270h8M750 270h8M758 274h4M758 278h4M758 282h4M750 286h12M746 290h20M746 294h24M754 298h20M758 302h20M766 306h16M766 310h16M794 310h12M770 314h36M774 318h20M798 318h8M914 318h12M934 318h12M782 322h4M798 322h8M902 322h12M918 322h32M790 326h12M886 326h12M934 326h8M946 326h4M790 330h12M874 330h12M946 330h4M790 334h12M874 334h4M950 334h4M794 338h20M866 338h12M810 342h8M854 342h8M954 342h4M818 346h4M850 346h8M958 346h8M818 350h4M838 350h16M958 350h8M822 354h4M834 354h8M846 354h8M958 354h8M826 358h12M962 358h8M830 362h8M966 362h4M966 366h8M1202 366h8M970 370h8M1194 370h8M1210 370h4M974 374h20M1194 374h4M1218 374h16M978 378h24M1166 378h4M1190 378h4M982 382h4M998 382h12M1158 382h8M1170 382h4M1190 382h4M1010 386h8M1154 386h8M1170 386h4M1010 390h8M1146 390h8M1170 390h4M1186 390h4M1006 394h16M1142 394h4M1170 394h4M1186 394h4M1006 398h12M1114 398h20M1138 398h8M1174 398h4M1006 402h12M1110 402h4M1178 402h4M1014 406h8M1106 406h8M1014 410h8M1102 410h8M1014 414h8M1102 414h8M1014 418h8M1102 418h8M1018 422h4M1102 422h4M1018 426h8M1094 426h8M1018 430h20M1086 430h8M1018 434h20M1030 438h12M1082 438h4M1042 442h4M1082 442h4M186 446h8M1062 446h20M186 450h4M194 450h4M186 454h12M322 454h4M170 458h24M198 458h4M326 458h4M206 462h4M210 470h4M210 474h4M210 478h4M278 478h4M210 482h4M278 482h4M278 486h4M210 494h4M326 494h4M210 498h4M326 498h4M210 502h4M286 502h4M326 502h4M206 506h4M290 506h4M326 506h4M206 510h4M290 510h4M326 510h4M206 514h4M290 514h4M290 518h4M326 522h4M206 526h4M326 526h4M206 530h4M206 534h4M206 538h4M206 542h4M290 542h4M206 546h4M290 546h4M326 546h4M206 550h4M290 550h4M322 550h4M206 554h4M294 554h4M318 554h4M210 558h4M294 558h4M310 558h4M210 562h4M210 566h4M206 570h4M206 574h4M206 586h4M206 590h4M206 594h4M206 598h4M210 606h4M210 610h4M210 622h4M214 630h4M210 634h4M210 638h4M206 658h4M206 662h4M206 666h4M206 670h4M210 678h4M210 682h4M210 698h4M210 702h4M214 706h4M214 710h4M214 714h4M214 718h4M214 722h4M218 726h4M218 730h4M218 734h4M218 738h4M214 742h8M214 746h4M210 750h4M206 758h4M206 762h4M202 770h4M202 774h4M202 778h4M202 782h4M202 794h4M202 798h4M202 802h4M202 806h4M202 810h4M202 814h4M202 818h4M202 822h4M202 826h4M206 830h4M206 834h4M206 838h4M206 842h4M206 846h4"/>
<path stroke="#f9fd00" d="M414 122h4M446 122h12M206 126h4M410 126h4M194 130h4M206 130h4M406 130h4M198 134h4M454 134h12M446 138h32M562 138h20M406 142h4M446 142h16M478 142h8M558 142h28M410 146h4M438 146h24M490 146h8M518 146h68M418 150h8M430 150h12M450 150h8M566 150h20M566 154h24M570 158h24M570 162h12M594 162h4M594 166h8M598 170h4M602 174h24M630 174h12M602 178h8M622 178h4M642 178h4M646 182h4M658 182h16M650 186h8M674 186h4M678 190h4M678 194h8M682 198h8M686 202h8M690 206h12M702 210h8M706 214h4M706 218h8M714 222h8M718 226h12M722 230h8M726 234h4M726 238h8M726 242h20M726 246h20M726 250h20M722 254h24M722 258h4M734 258h12M718 262h4M730 262h16M718 266h4M730 266h16M718 270h4M730 270h20M718 274h40M722 278h36M742 282h16M742 286h8M738 290h8M742 294h4M746 298h8M750 302h8M750 306h16M734 310h4M750 310h16M734 314h8M746 314h24M734 318h8M746 318h28M794 318h4M750 322h12M770 322h12M786 322h12M914 322h4M778 326h12M898 326h12M918 326h16M942 326h4M782 330h8M886 330h16M922 330h24M786 334h4M878 334h12M946 334h4M790 338h4M878 338h8M950 338h4M794 342h16M862 342h20M810 346h8M858 346h16M954 346h4M814 350h4M854 350h4M954 350h4M818 354h4M842 354h4M854 354h8M954 354h4M822 358h4M838 358h24M954 358h8M822 362h8M838 362h4M854 362h8M958 362h8M826 366h16M962 366h4M830 370h8M962 370h8M1202 370h8M834 374h4M962 374h12M1198 374h4M1206 374h12M970 378h8M1194 378h4M1218 378h16M974 382h8M986 382h12M1166 382h4M1222 382h12M974 386h36M1162 386h8M1190 386h4M1226 386h8M974 390h36M1154 390h16M1230 390h4M974 394h32M1146 394h4M1166 394h4M990 398h16M1170 398h4M1186 398h4M998 402h8M1114 402h28M1174 402h4M1182 402h4M1002 406h12M1114 406h12M1002 410h12M1110 410h12M1006 414h8M1110 414h12M1010 418h4M1110 418h8M1010 422h8M1106 422h8M1014 426h4M1102 426h8M1014 430h4M1094 430h8M1014 434h4M1086 434h4M1018 438h12M1022 442h20M182 446h4M194 446h4M1026 446h36M1082 446h4M182 450h4M310 450h8M1062 450h20M174 454h12M198 454h4M298 454h4M202 458h4M290 458h4M210 462h4M286 462h4M210 466h4M282 466h4M330 466h4M330 470h4M278 474h4M330 474h4M214 478h4M330 478h4M214 482h4M330 482h4M214 486h4M330 486h4M214 490h4M278 490h4M330 490h4M214 494h4M278 494h4M214 498h4M282 498h4M214 502h4M210 506h8M286 506h4M210 510h4M286 510h4M210 514h4M286 514h4M326 514h4M206 518h4M286 518h4M326 518h4M206 522h4M286 522h4M286 526h4M330 526h4M286 530h4M330 530h4M210 534h4M286 534h4M210 538h4M286 538h4M210 542h4M286 542h4M210 546h4M286 546h4M210 550h4M326 550h4M210 554h4M290 554h4M314 558h4M298 562h12M210 570h4M210 574h4M210 578h4M210 582h4M210 586h4M210 590h4M210 594h4M210 598h4M210 602h4M210 614h4M210 618h4M214 626h4M214 634h4M210 642h4M210 646h4M210 650h4M210 654h4M210 658h4M210 666h4M210 670h4M210 674h4M210 686h4M210 690h4M210 694h4M214 698h4M214 702h4M218 706h4M218 710h4M218 714h4M218 718h4M218 722h4M222 730h4M222 734h4M222 738h4M218 746h4M210 754h4M206 766h4M206 770h4M202 786h4M202 790h4M206 822h4M206 826h8M210 830h4M210 834h4M210 842h4M210 846h4"/>
<path stroke="#fffc00" d="M198 122h12M410 122h4M194 126h4M210 126h4M406 126h4M210 130h4M194 134h4M202 134h4M402 134h4M402 138h4M402 142h4M462 142h16M406 146h4M462 146h28M498 146h20M414 150h4M442 150h8M458 150h8M490 150h8M514 150h52M418 154h44M514 154h16M562 154h4M426 158h28M514 158h12M562 158h8M434 162h4M518 162h12M538 162h12M562 162h8M582 162h12M522 166h24M562 166h32M530 170h12M566 170h32M594 174h8M598 178h4M610 178h12M626 178h16M602 182h28M638 182h8M638 186h12M658 186h16M654 190h4M674 190h4M674 194h4M674 198h8M678 202h8M682 206h8M686 210h16M702 214h4M702 218h4M706 222h8M710 226h8M706 230h16M706 234h20M706 238h20M710 242h16M718 246h8M718 250h8M718 254h4M714 258h8M714 262h4M714 266h4M714 270h4M714 274h4M718 278h4M718 282h24M722 286h20M722 290h16M722 294h20M722 298h24M718 302h32M718 306h32M730 310h4M738 310h12M726 314h8M742 314h4M726 318h8M742 318h4M730 322h20M762 322h8M746 326h32M910 326h8M754 330h28M902 330h4M918 330h4M758 334h28M890 334h16M922 334h24M758 338h32M886 338h16M922 338h28M758 342h16M790 342h4M882 342h8M922 342h16M946 342h8M762 346h4M794 346h16M874 346h12M930 346h12M946 346h8M810 350h4M858 350h20M934 350h20M814 354h4M862 354h12M942 354h12M794 358h8M814 358h8M862 358h4M950 358h4M794 362h28M842 362h12M862 362h4M954 362h4M794 366h32M842 366h8M854 366h12M958 366h4M794 370h28M826 370h4M838 370h8M862 370h4M958 370h4M794 374h24M826 374h8M838 374h8M958 374h4M1202 374h4M798 378h16M830 378h12M958 378h12M1198 378h20M802 382h4M834 382h4M958 382h16M1194 382h4M1206 382h16M958 386h4M970 386h4M1194 386h4M1210 386h16M958 390h4M970 390h4M1190 390h4M1222 390h8M954 394h8M970 394h4M1150 394h16M1222 394h12M950 398h16M970 398h20M1146 398h4M1158 398h12M1226 398h8M942 402h28M974 402h24M1142 402h4M1170 402h4M1186 402h4M942 406h32M978 406h24M1126 406h16M1178 406h8M970 410h32M1122 410h8M974 414h32M1122 414h4M978 418h32M1118 418h4M982 422h28M1114 422h4M990 426h24M1110 426h8M994 430h20M1102 430h12M998 434h16M1090 434h16M1010 438h8M1086 438h4M1014 442h8M1086 442h4M1014 446h12M1086 446h8M178 450h4M198 450h4M306 450h4M318 450h4M1014 450h48M1082 450h16M170 454h4M202 454h4M1054 454h44M206 458h8M1054 458h12M330 462h4M1058 462h4M214 466h4M214 470h4M278 470h4M214 474h4M274 478h4M274 482h4M218 486h4M274 486h4M218 490h4M330 494h4M278 498h4M282 502h4M330 502h4M282 506h4M330 506h4M214 510h4M282 510h4M330 510h4M214 514h4M282 514h4M330 514h4M210 518h4M282 518h4M330 518h4M210 522h4M282 522h4M330 522h4M210 526h4M282 526h4M210 530h4M282 530h4M282 534h4M330 534h4M214 538h4M330 538h4M214 542h4M330 542h4M214 546h4M330 546h4M214 550h4M286 550h4M214 554h4M286 554h4M322 554h4M214 558h4M286 558h8M318 558h4M214 562h4M290 562h8M310 562h4M214 566h4M298 566h4M214 570h4M214 574h4M214 578h4M214 582h4M214 586h4M214 598h4M214 602h4M214 606h4M214 610h4M214 614h4M214 618h4M214 622h4M218 626h4M218 630h4M218 634h4M214 638h4M214 642h4M210 662h4M214 670h4M214 674h4M214 678h4M214 682h4M214 686h4M214 690h4M214 694h4M218 702h4M222 722h4M222 726h4M226 734h4M226 738h4M222 742h4M214 750h4M210 758h4M210 762h4M206 774h4M206 778h4M206 782h4M206 810h4M206 814h4M206 818h4M210 822h4M210 838h4M214 846h4"/>
<path stroke="#fff600" d="M194 122h4M210 122h4M406 122h4M190 126h4M190 130h4M402 130h4M206 134h4M410 150h4M466 150h24M498 150h16M414 154h4M462 154h4M478 154h24M506 154h8M530 154h32M418 158h8M454 158h8M486 158h16M510 158h4M526 158h36M422 162h12M438 162h20M490 162h16M510 162h8M530 162h8M550 162h12M426 166h24M494 166h8M514 166h8M546 166h16M426 170h16M494 170h4M518 170h12M542 170h8M554 170h12M490 174h8M522 174h20M562 174h32M490 178h8M526 178h16M574 178h8M594 178h4M494 182h4M522 182h16M598 182h4M630 182h8M518 186h24M602 186h36M518 190h24M634 190h20M658 190h16M522 194h20M654 194h4M670 194h4M530 198h8M670 198h4M670 202h8M674 206h8M678 210h8M678 214h24M682 218h12M698 218h4M682 222h12M698 222h8M702 226h8M702 230h4M702 234h4M702 238h4M702 242h8M702 246h16M706 250h12M706 254h12M710 258h4M710 262h4M710 266h4M710 270h4M714 278h4M714 282h4M714 286h8M714 290h8M718 294h4M714 298h8M714 302h4M714 306h4M714 310h16M718 314h8M718 318h8M722 322h8M726 326h20M730 330h8M746 330h8M906 330h12M750 334h8M906 334h4M914 334h8M750 338h8M902 338h8M918 338h4M658 342h8M750 342h8M774 342h16M890 342h20M918 342h4M938 342h8M746 346h16M766 346h28M886 346h44M942 346h4M730 350h8M742 350h68M878 350h12M906 350h28M698 354h4M726 354h8M750 354h16M770 354h44M874 354h8M906 354h36M722 358h8M754 358h8M774 358h20M802 358h12M866 358h16M902 358h16M934 358h16M754 362h4M774 362h20M866 362h16M902 362h12M934 362h20M754 366h4M774 366h20M850 366h4M866 366h8M902 366h8M934 366h8M950 366h8M770 370h24M822 370h4M846 370h16M866 370h4M934 370h8M950 370h8M770 374h24M818 374h8M846 374h20M930 374h12M946 374h12M770 378h12M790 378h8M814 378h16M842 378h8M862 378h4M934 378h4M950 378h8M794 382h8M806 382h12M826 382h8M838 382h8M950 382h8M1198 382h8M802 386h12M834 386h8M954 386h4M962 386h8M1198 386h12M950 390h8M962 390h8M1194 390h4M1206 390h16M814 394h4M946 394h8M962 394h8M1190 394h4M1214 394h8M814 398h8M938 398h12M966 398h4M1150 398h8M1190 398h4M1222 398h4M938 402h4M970 402h4M1146 402h24M1190 402h4M1226 402h8M870 406h4M938 406h4M974 406h4M1142 406h4M1174 406h4M1186 406h4M938 410h32M1130 410h8M942 414h8M966 414h8M1126 414h4M970 418h8M1122 418h4M934 422h8M974 422h8M1118 422h4M938 426h4M974 426h16M1118 426h4M974 430h20M1114 430h4M970 434h16M990 434h8M1106 434h8M970 438h12M994 438h16M1090 438h20M186 442h4M970 442h12M994 442h20M1090 442h16M178 446h4M198 446h4M970 446h12M1006 446h8M1094 446h8M170 450h8M202 450h4M302 450h4M978 450h4M1010 450h4M1098 450h4M206 454h4M294 454h4M326 454h4M1014 454h20M1042 454h12M1098 454h4M214 458h4M286 458h4M330 458h4M1046 458h8M1066 458h32M214 462h4M282 462h4M1050 462h8M1062 462h20M1054 466h20M334 470h4M218 474h4M274 474h4M334 474h4M218 478h4M270 478h4M334 478h4M218 482h4M270 482h4M334 482h4M334 486h4M274 490h4M334 490h4M218 494h4M274 494h4M218 498h4M274 498h4M330 498h4M218 502h4M278 502h4M218 506h4M278 506h4M218 510h4M218 514h4M214 518h4M278 518h4M214 522h4M278 522h4M214 526h4M278 526h4M214 530h4M278 530h4M214 534h4M218 538h4M282 538h4M218 542h4M282 542h4M218 546h4M282 546h4M218 550h4M278 550h8M274 554h12M326 554h4M218 558h4M274 558h12M322 558h4M218 562h4M282 562h8M314 562h4M218 566h4M282 566h16M302 566h8M218 570h4M218 574h4M218 578h4M218 582h4M214 590h4M214 594h4M270 598h4M218 602h4M218 606h4M218 610h4M218 622h4M222 630h4M222 634h4M218 638h4M270 638h4M214 646h4M214 650h4M214 654h4M266 654h4M274 654h4M214 658h4M266 658h12M214 662h4M266 662h12M214 666h4M266 666h8M218 694h4M218 698h4M222 706h4M222 710h4M222 714h4M222 718h4M226 730h4M226 742h4M222 746h4M218 750h4M214 754h4M210 766h4M210 770h4M206 786h4M206 790h4M206 794h4M206 798h4M206 802h4M206 806h4M214 826h4M214 830h4M214 834h4M214 838h4M214 842h4"/>
<path stroke="#fff000" d="M190 122h4M214 126h4M402 126h4M214 130h4M190 134h4M210 134h4M398 134h4M194 138h12M398 138h4M398 142h4M402 146h4M406 150h4M410 154h4M466 154h12M502 154h4M414 158h4M462 158h24M502 158h8M414 162h8M458 162h32M506 162h4M414 166h12M450 166h28M486 166h8M502 166h12M418 170h8M442 170h16M466 170h8M486 170h8M498 170h20M550 170h4M422 174h24M486 174h4M498 174h24M542 174h8M554 174h8M426 178h16M486 178h4M498 178h28M542 178h4M554 178h20M582 178h12M486 182h8M498 182h24M538 182h8M554 182h32M590 182h8M494 186h4M510 186h8M542 186h24M574 186h8M594 186h8M514 190h4M542 190h4M602 190h32M514 194h8M542 194h4M606 194h12M634 194h20M658 194h12M518 198h12M538 198h4M610 198h4M634 198h36M530 202h8M638 202h32M638 206h36M646 210h32M650 214h20M674 214h4M650 218h12M674 218h8M694 218h4M650 222h8M678 222h4M694 222h4M678 226h24M690 230h12M698 234h4M698 238h4M698 242h4M698 246h4M698 250h8M698 254h8M694 258h16M694 262h16M694 266h16M698 270h12M706 274h8M710 278h4M710 282h4M710 286h4M710 290h4M714 294h4M710 298h4M710 302h4M710 306h4M710 310h4M710 314h8M710 318h8M690 322h4M714 322h8M682 326h24M718 326h8M678 330h28M722 330h8M738 330h8M654 334h12M686 334h20M726 334h24M910 334h4M654 338h16M682 338h28M722 338h28M910 338h8M654 342h4M666 342h4M678 342h32M722 342h28M910 342h8M654 346h56M722 346h24M666 350h44M718 350h12M738 350h4M890 350h16M682 354h16M702 354h8M718 354h8M734 354h16M766 354h4M882 354h24M686 358h24M718 358h4M730 358h24M762 358h12M882 358h20M918 358h16M694 362h8M722 362h12M746 362h8M758 362h16M882 362h20M914 362h20M746 366h8M758 366h16M874 366h28M910 366h24M942 366h8M746 370h24M870 370h4M882 370h12M902 370h12M922 370h12M942 370h8M750 374h8M766 374h4M866 374h8M926 374h4M942 374h4M750 378h4M766 378h4M782 378h8M850 378h12M866 378h4M922 378h12M938 378h12M750 382h4M766 382h28M818 382h8M846 382h28M918 382h32M770 386h4M794 386h8M814 386h20M842 386h40M898 386h4M918 386h36M802 390h52M862 390h20M894 390h8M926 390h24M1198 390h8M746 394h8M806 394h8M818 394h32M866 394h12M898 394h4M930 394h16M1194 394h20M742 398h16M806 398h8M822 398h24M866 398h8M922 398h16M1194 398h4M1206 398h16M746 402h8M810 402h28M862 402h16M902 402h36M1194 402h4M1206 402h20M814 406h20M862 406h8M874 406h4M898 406h40M1146 406h12M1166 406h8M1190 406h4M1218 406h16M862 410h20M894 410h44M1138 410h12M1174 410h16M1230 410h4M866 414h16M890 414h52M950 414h16M1130 414h8M1182 414h4M878 418h28M926 418h44M1126 418h8M878 422h24M926 422h8M942 422h8M966 422h8M1122 422h4M882 426h20M926 426h12M942 426h12M970 426h4M1122 426h4M882 430h4M890 430h8M922 430h52M1118 430h4M842 434h4M918 434h52M986 434h4M1114 434h4M918 438h36M962 438h8M982 438h12M1110 438h8M182 442h4M190 442h4M918 442h32M962 442h8M982 442h12M1106 442h8M170 446h8M922 446h28M966 446h4M982 446h24M1102 446h12M322 450h4M970 450h8M982 450h28M1102 450h4M210 454h4M290 454h4M974 454h20M1010 454h4M1034 454h8M1102 454h4M982 458h4M1022 458h24M1098 458h8M218 462h4M1030 462h4M1046 462h4M1082 462h4M1098 462h4M218 466h4M278 466h4M334 466h4M1050 466h4M1074 466h8M218 470h4M254 470h8M274 470h4M1054 470h20M222 474h4M270 474h4M222 478h4M222 482h4M222 486h4M270 486h4M222 490h4M270 490h4M222 494h4M334 494h4M222 498h4M222 502h4M274 502h4M222 506h4M334 506h4M222 510h4M278 510h4M334 510h4M222 514h4M278 514h4M334 514h4M218 518h4M274 518h4M334 518h4M218 522h4M274 522h4M334 522h4M218 526h4M274 526h4M334 526h4M218 530h4M334 530h4M218 534h4M278 534h4M222 538h4M222 542h4M222 546h4M278 546h4M222 550h4M274 550h4M330 550h4M218 554h8M266 554h8M526 554h4M266 558h8M526 558h8M274 562h8M318 562h4M278 566h4M310 566h4M278 570h24M270 574h12M270 578h8M270 582h8M218 586h4M218 590h4M218 594h4M266 594h12M218 598h4M262 598h8M274 598h8M266 602h16M274 606h4M274 610h8M218 614h4M270 614h12M218 618h4M270 618h8M222 622h4M222 626h4M274 626h4M270 630h12M266 634h20M222 638h4M262 638h8M274 638h16M218 642h4M258 642h28M218 646h4M258 646h28M218 650h4M258 650h28M218 654h4M258 654h8M270 654h4M278 654h8M218 658h4M258 658h8M278 658h8M218 662h4M262 662h4M278 662h4M218 666h4M258 666h8M274 666h8M218 670h4M262 670h16M218 674h4M218 678h4M218 682h4M218 686h4M218 690h4M222 698h4M222 702h4M226 710h4M226 714h4M226 718h4M226 722h4M226 726h4M230 734h4M230 738h4M230 742h4M226 746h4M222 750h4M218 754h4M214 758h4M214 762h4M210 774h4M210 778h4M210 814h4M210 818h4M214 822h4M218 838h4M218 842h4M218 846h4"/>
<path stroke="#ffea00" d="M214 122h4M402 122h4M186 126h4M186 130h4M398 130h4M186 134h4M214 134h4M190 138h4M206 138h4M398 146h4M402 150h4M406 154h4M410 158h4M410 162h4M410 166h4M478 166h8M410 170h8M458 170h8M474 170h12M414 174h8M446 174h40M550 174h4M418 178h8M442 178h12M462 178h8M478 178h8M546 178h8M422 182h32M482 182h4M546 182h8M586 182h4M422 186h32M486 186h8M498 186h12M566 186h8M582 186h12M426 190h8M438 190h16M506 190h8M546 190h56M446 194h4M510 194h4M546 194h20M574 194h32M618 194h16M510 198h8M542 198h4M554 198h8M586 198h24M614 198h20M514 202h16M538 202h4M558 202h4M594 202h24M630 202h8M526 206h12M594 206h20M630 206h8M578 210h4M626 210h20M574 214h12M622 214h28M670 214h4M578 218h4M614 218h24M642 218h8M662 218h12M618 222h20M642 222h8M658 222h20M622 226h40M674 226h4M626 230h20M678 230h12M626 234h12M682 234h16M618 238h16M690 238h8M618 242h12M690 242h8M654 246h12M678 246h20M650 250h16M678 250h20M650 254h12M682 254h16M650 258h8M686 258h8M690 262h4M690 266h4M694 270h4M678 274h8M698 274h8M678 278h12M698 278h12M678 282h12M698 282h12M678 286h8M698 286h12M698 290h12M698 294h16M702 298h8M706 302h4M706 306h4M706 310h4M706 314h4M686 318h24M682 322h8M694 322h20M650 326h12M670 326h12M706 326h12M650 330h28M706 330h16M650 334h4M666 334h20M706 334h20M650 338h4M670 338h12M710 338h12M646 342h8M670 342h8M710 342h12M610 346h12M646 346h8M710 346h12M614 350h12M646 350h20M710 350h8M614 354h24M646 354h36M710 354h8M614 358h28M650 358h4M674 358h12M710 358h8M618 362h20M682 362h12M702 362h8M714 362h8M734 362h12M690 366h12M722 366h24M742 370h4M874 370h8M894 370h8M914 370h8M742 374h8M758 374h8M874 374h52M742 378h8M754 378h12M870 378h52M742 382h8M754 382h12M874 382h44M746 386h24M774 386h20M882 386h16M902 386h16M742 390h40M786 390h16M854 390h8M882 390h12M902 390h24M742 394h4M754 394h52M850 394h16M878 394h20M902 394h28M738 398h4M758 398h48M846 398h20M874 398h8M890 398h32M1198 398h8M742 402h4M754 402h28M790 402h20M838 402h24M878 402h4M890 402h12M1198 402h8M746 406h12M766 406h12M790 406h24M834 406h28M878 406h20M1158 406h8M1194 406h24M750 410h4M766 410h16M794 410h68M882 410h12M1150 410h12M1166 410h8M1190 410h40M750 414h28M806 414h60M882 414h8M1138 414h20M1174 414h8M1186 414h4M1222 414h12M750 418h44M830 418h24M862 418h16M906 418h20M1134 418h4M1178 418h12M1230 418h4M750 422h16M774 422h20M830 422h24M870 422h8M902 422h24M950 422h16M1126 422h8M750 426h16M774 426h16M830 426h24M874 426h8M902 426h24M954 426h16M1126 426h4M754 430h12M834 430h20M874 430h8M886 430h4M898 430h24M1122 430h4M834 434h8M846 434h8M874 434h44M1118 434h8M838 438h16M874 438h44M954 438h8M1118 438h4M178 442h4M194 442h4M854 442h8M878 442h24M910 442h8M950 442h12M1114 442h8M202 446h4M310 446h12M854 446h8M878 446h20M914 446h8M950 446h16M1114 446h8M206 450h4M298 450h4M326 450h4M854 450h8M882 450h8M918 450h36M962 450h8M1106 450h16M214 454h4M330 454h4M854 454h12M942 454h12M966 454h8M994 454h16M1106 454h12M218 458h4M282 458h4M854 458h8M974 458h8M986 458h12M1010 458h12M1106 458h12M278 462h4M334 462h4M978 462h12M1022 462h8M1034 462h12M1086 462h12M1102 462h12M222 466h4M254 466h8M274 466h4M982 466h4M1026 466h24M1082 466h4M222 470h4M262 470h12M338 470h4M1046 470h8M1074 470h8M254 474h16M338 474h4M1050 474h20M226 478h4M266 478h4M338 478h4M226 482h4M266 482h4M338 482h4M226 486h4M338 486h4M226 490h4M338 490h4M226 494h4M270 494h4M226 498h4M270 498h4M334 498h4M226 502h4M270 502h4M334 502h4M226 506h4M270 506h8M226 510h4M274 510h4M226 514h4M274 514h4M222 518h4M222 522h4M270 522h4M714 522h12M222 526h4M714 526h12M222 530h4M274 530h4M714 530h8M222 534h8M334 534h4M226 538h4M278 538h4M334 538h4M226 542h4M278 542h4M334 542h4M226 546h4M274 546h4M334 546h4M226 550h4M266 550h8M226 554h4M330 554h4M522 554h4M530 554h4M222 558h4M262 558h4M326 558h4M522 558h4M534 558h4M222 562h4M266 562h8M322 562h4M522 562h12M222 566h4M270 566h8M314 566h4M222 570h4M270 570h8M302 570h8M222 574h4M266 574h4M282 574h16M222 578h4M266 578h4M278 578h12M222 582h4M266 582h4M278 582h8M222 586h4M262 586h24M222 590h4M262 590h24M222 594h4M258 594h8M278 594h8M258 598h4M282 598h4M222 602h4M258 602h8M282 602h4M222 606h4M258 606h16M278 606h8M222 610h4M258 610h16M282 610h4M222 614h4M262 614h8M222 618h4M262 618h8M278 618h4M226 622h4M266 622h16M226 626h4M266 626h8M278 626h8M226 630h4M266 630h4M282 630h4M226 634h4M262 634h4M286 634h4M226 638h4M258 638h4M290 638h4M222 642h4M286 642h8M222 646h4M254 646h4M286 646h4M222 650h4M254 650h4M286 650h4M222 654h4M222 658h4M222 662h4M258 662h4M282 662h4M222 666h4M222 670h4M258 670h4M278 670h4M222 674h4M258 674h16M222 678h4M222 690h4M222 694h4M226 702h4M226 706h4M230 730h4M234 734h4M234 738h4M226 750h4M222 754h4M218 758h4M214 766h4M214 770h4M210 782h4M210 786h4M210 790h4M210 794h4M210 798h4M210 810h4M218 830h4M218 834h4"/>
<path stroke="#ffe400" d="M186 122h4M398 122h4M218 126h4M398 126h4M218 130h4M394 130h4M394 134h4M186 138h4M210 138h4M394 138h4M198 142h4M394 142h4M394 146h4M394 150h8M398 154h8M406 158h4M406 162h4M406 166h4M406 170h4M410 174h4M410 178h8M454 178h8M470 178h8M414 182h8M454 182h28M414 186h8M454 186h20M478 186h8M414 190h12M434 190h4M454 190h4M486 190h20M418 194h28M450 194h8M490 194h8M502 194h8M566 194h8M494 198h16M546 198h8M562 198h24M494 202h20M542 202h16M562 202h32M618 202h12M494 206h32M538 206h56M614 206h16M494 210h16M522 210h20M554 210h24M582 210h44M494 214h12M522 214h12M554 214h20M586 214h36M522 218h12M554 218h24M582 218h8M606 218h8M638 218h4M522 222h16M554 222h12M574 222h16M606 222h12M638 222h4M526 226h12M578 226h4M610 226h12M662 226h12M618 230h8M646 230h16M670 230h8M618 234h8M638 234h12M674 234h8M614 238h4M634 238h4M662 238h28M610 242h8M630 242h4M650 242h40M610 246h24M646 246h8M666 246h12M630 250h4M646 250h4M666 250h12M590 254h16M630 254h20M662 254h20M578 258h8M590 258h12M630 258h20M658 258h28M578 262h8M650 262h8M674 262h16M674 266h16M674 270h20M674 274h4M686 274h12M674 278h4M690 278h8M674 282h4M690 282h8M674 286h4M686 286h12M674 290h24M690 294h8M694 298h8M698 302h8M662 306h8M702 306h4M658 310h12M686 310h8M702 310h4M658 314h16M686 314h20M658 318h28M650 322h32M638 326h12M662 326h8M638 330h12M638 334h12M638 338h12M602 342h20M630 342h16M606 346h4M622 346h24M610 350h4M626 350h20M610 354h4M638 354h8M610 358h4M642 358h8M654 358h20M610 362h8M638 362h20M666 362h16M710 362h4M614 366h24M662 366h28M702 366h8M714 366h8M618 370h8M662 370h12M678 370h28M718 370h24M618 374h8M722 374h20M610 378h20M722 378h8M734 378h8M610 382h20M738 382h4M614 386h12M742 386h4M738 390h4M782 390h4M730 394h12M730 398h8M882 398h8M734 402h8M782 402h8M882 402h8M742 406h4M758 406h8M778 406h12M742 410h8M754 410h12M782 410h12M1162 410h4M742 414h8M778 414h28M1158 414h16M1190 414h32M742 418h8M794 418h36M854 418h8M1138 418h40M1190 418h40M742 422h8M766 422h8M794 422h20M818 422h12M854 422h16M1134 422h8M1150 422h12M1174 422h20M1206 422h12M1230 422h4M746 426h4M766 426h8M790 426h12M822 426h8M854 426h20M1130 426h8M1158 426h4M1190 426h4M1206 426h8M750 430h4M766 430h28M822 430h12M854 430h20M1126 430h8M754 434h28M826 434h8M854 434h8M866 434h8M1126 434h12M830 438h8M854 438h20M1122 438h16M170 442h8M198 442h4M834 442h20M862 442h16M902 442h8M1122 442h12M306 446h4M322 446h4M850 446h4M862 446h16M898 446h16M1122 446h8M210 450h8M294 450h4M850 450h4M862 450h20M890 450h28M954 450h8M1122 450h4M218 454h4M286 454h4M850 454h4M866 454h28M898 454h44M954 454h12M1118 454h8M222 458h4M278 458h4M334 458h4M850 458h4M862 458h8M902 458h20M938 458h20M966 458h8M998 458h12M1118 458h8M222 462h4M274 462h4M846 462h24M906 462h16M942 462h12M974 462h4M990 462h32M1114 462h8M226 466h4M250 466h4M262 466h12M338 466h4M850 466h16M906 466h12M978 466h4M986 466h24M1018 466h8M1086 466h36M226 470h4M250 470h4M930 470h16M958 470h4M978 470h32M1022 470h24M1082 470h4M226 474h4M250 474h4M930 474h36M978 474h36M1026 474h8M1042 474h8M1070 474h8M258 478h8M342 478h4M946 478h20M978 478h32M1050 478h16M262 482h4M342 482h4M950 482h4M970 482h4M994 482h12M230 486h4M266 486h4M970 486h8M230 490h4M266 490h4M970 490h8M230 494h4M266 494h4M338 494h4M862 494h4M230 498h4M266 498h4M910 498h4M266 502h4M266 506h4M338 506h4M714 506h4M230 510h4M266 510h8M338 510h4M710 510h12M230 514h4M270 514h4M338 514h4M706 514h20M226 518h4M270 518h4M338 518h4M706 518h24M226 522h4M338 522h4M706 522h8M726 522h8M866 522h12M226 526h4M270 526h4M338 526h4M702 526h12M726 526h8M854 526h4M866 526h20M226 530h8M270 530h4M698 530h16M722 530h8M866 530h20M230 534h4M274 534h4M702 534h28M870 534h20M230 538h4M274 538h4M702 538h20M878 538h8M230 542h4M274 542h4M706 542h12M230 546h4M266 546h8M710 546h8M230 550h4M262 550h4M334 550h4M522 550h12M230 554h4M262 554h4M518 554h4M534 554h4M226 558h4M258 558h4M518 558h4M226 562h4M258 562h8M326 562h4M518 562h4M534 562h4M226 566h4M262 566h8M318 566h4M526 566h8M262 570h8M310 570h4M258 574h8M298 574h4M226 578h4M246 578h20M290 578h4M226 582h4M242 582h24M286 582h4M226 586h4M246 586h16M286 586h4M226 590h4M250 590h12M286 590h4M254 594h4M286 594h4M222 598h4M254 598h4M286 598h4M250 602h8M286 602h4M226 606h4M250 606h8M226 610h4M250 610h8M226 614h4M254 614h8M282 614h4M226 618h4M258 618h4M282 618h4M230 622h4M262 622h4M282 622h4M230 626h4M262 626h4M286 626h4M230 630h4M258 630h8M286 630h4M230 634h4M258 634h4M290 634h4M230 638h4M254 638h4M226 642h4M254 642h4M226 646h4M290 646h4M226 654h4M254 654h4M286 654h4M226 658h4M254 658h4M286 658h4M226 662h4M254 662h4M286 662h4M226 666h4M254 666h4M282 666h4M226 670h4M254 670h4M282 670h4M226 674h4M254 674h4M274 674h8M226 678h4M258 678h8M222 682h4M222 686h4M226 690h4M226 694h4M226 698h4M230 710h4M230 714h4M230 718h4M230 722h4M230 726h4M234 730h4M238 738h4M234 742h4M230 746h4M226 754h4M222 758h4M218 762h4M214 774h4M214 778h4M210 802h4M210 806h4M214 818h4M218 826h4M222 838h4M222 842h4M222 846h4"/>
<path stroke="#ffde00" d="M182 122h4M218 122h4M182 126h4M394 126h4M182 130h4M390 130h4M182 134h4M218 134h4M390 134h4M214 138h4M390 138h4M190 142h8M202 142h4M390 142h4M390 146h4M390 150h4M390 154h8M394 158h12M398 162h8M402 166h4M402 170h4M402 174h8M406 178h4M406 182h8M406 186h8M474 186h4M406 190h8M458 190h28M406 194h12M458 194h4M482 194h8M498 194h4M410 198h52M486 198h8M410 202h16M486 202h8M414 206h8M486 206h8M466 210h4M486 210h8M510 210h12M542 210h12M466 214h4M486 214h8M506 214h16M534 214h20M454 218h4M490 218h32M534 218h20M590 218h16M518 222h4M538 222h16M566 222h8M590 222h16M522 226h4M538 226h40M582 226h28M522 230h20M570 230h48M662 230h8M570 234h24M606 234h12M650 234h24M570 238h24M606 238h8M638 238h24M570 242h24M606 242h4M634 242h16M574 246h36M634 246h12M578 250h52M634 250h12M574 254h16M606 254h8M622 254h8M562 258h16M586 258h4M602 258h8M626 258h4M566 262h12M586 262h24M626 262h24M658 262h16M566 266h44M630 266h32M666 266h8M570 270h16M602 270h12M630 270h24M670 270h4M606 274h8M638 274h16M670 274h4M610 278h4M642 278h12M666 278h8M642 282h12M666 282h8M646 286h8M670 286h4M646 290h8M670 290h4M642 294h12M674 294h16M638 298h16M674 298h20M630 302h12M654 302h44M626 306h12M654 306h8M670 306h32M626 310h12M654 310h4M670 310h16M694 310h8M630 314h8M654 314h4M674 314h12M630 318h12M650 318h8M630 322h20M630 326h8M598 330h4M626 330h12M594 334h12M614 334h4M626 334h12M594 338h44M594 342h8M622 342h8M594 346h12M590 350h20M586 354h16M606 354h4M582 358h20M606 358h4M578 362h32M658 362h8M578 366h8M602 366h12M638 366h24M710 366h4M602 370h16M626 370h12M642 370h20M674 370h4M706 370h12M602 374h16M626 374h8M642 374h80M602 378h8M630 378h4M642 378h80M730 378h4M602 382h8M630 382h4M642 382h16M678 382h12M698 382h40M606 386h8M626 386h8M642 386h12M678 386h12M698 386h44M610 390h16M646 390h4M682 390h8M706 390h32M646 394h4M714 394h16M722 398h8M726 402h8M726 406h16M726 410h8M738 410h4M726 414h4M738 414h4M734 418h8M734 422h8M814 422h4M1142 422h8M1162 422h12M1194 422h12M1218 422h12M742 426h4M802 426h20M1138 426h20M1162 426h28M1194 426h12M1214 426h12M746 430h4M794 430h28M1134 430h32M1190 430h32M750 434h4M782 434h44M862 434h4M1138 434h8M1206 434h16M182 438h8M754 438h24M822 438h8M1138 438h8M1206 438h16M202 442h4M822 442h12M1134 442h12M1210 442h8M206 446h4M302 446h4M826 446h24M1130 446h8M218 450h4M290 450h4M330 450h4M846 450h4M1126 450h12M222 454h4M282 454h4M334 454h4M846 454h4M894 454h4M1126 454h12M274 458h4M842 458h8M870 458h32M922 458h16M958 458h8M1126 458h8M226 462h4M254 462h8M270 462h4M338 462h4M842 462h4M870 462h12M898 462h8M922 462h20M954 462h20M1122 462h4M230 466h4M842 466h8M866 466h12M898 466h8M918 466h60M1010 466h8M1122 466h4M230 470h4M246 470h4M846 470h36M902 470h28M946 470h12M962 470h16M1010 470h12M1086 470h36M230 474h4M246 474h4M342 474h4M850 474h32M910 474h20M966 474h12M1014 474h12M1034 474h8M1078 474h8M230 478h4M250 478h8M850 478h32M930 478h16M966 478h12M1010 478h40M1066 478h12M230 482h4M254 482h8M850 482h36M942 482h8M954 482h16M974 482h20M1006 482h28M234 486h4M262 486h4M342 486h4M850 486h40M946 486h24M978 486h32M1026 486h8M234 490h4M262 490h4M342 490h4M846 490h44M906 490h8M942 490h28M978 490h4M994 490h12M234 494h4M262 494h4M822 494h4M842 494h20M866 494h20M906 494h28M938 494h20M966 494h12M998 494h8M234 498h4M258 498h8M338 498h4M706 498h8M818 498h8M842 498h32M902 498h8M914 498h16M938 498h12M230 502h4M258 502h8M338 502h4M706 502h16M818 502h4M846 502h20M902 502h28M230 506h4M258 506h8M706 506h8M718 506h8M814 506h8M902 506h8M918 506h8M262 510h4M702 510h8M722 510h8M786 510h36M234 514h4M262 514h8M702 514h4M726 514h4M786 514h36M862 514h12M230 518h8M266 518h4M698 518h8M730 518h4M798 518h20M850 518h32M230 522h8M266 522h4M694 522h12M734 522h4M802 522h12M846 522h20M878 522h8M902 522h8M230 526h8M266 526h4M694 526h8M734 526h4M842 526h12M858 526h8M886 526h4M902 526h8M234 530h4M338 530h4M694 530h4M730 530h8M846 530h20M886 530h12M234 534h4M270 534h4M338 534h4M694 534h8M730 534h8M850 534h20M890 534h8M234 538h4M270 538h4M698 538h4M722 538h16M854 538h24M886 538h12M234 542h8M266 542h8M698 542h8M718 542h20M882 542h4M234 546h8M258 546h8M526 546h8M702 546h8M718 546h20M234 550h8M258 550h4M514 550h8M534 550h4M706 550h32M234 554h4M254 554h8M334 554h4M510 554h8M538 554h4M710 554h28M230 558h4M254 558h4M330 558h4M510 558h8M538 558h4M710 558h8M726 558h8M230 562h4M254 562h4M514 562h4M538 562h4M730 562h4M254 566h8M322 566h4M518 566h8M534 566h4M226 570h4M254 570h8M314 570h4M526 570h4M226 574h4M246 574h12M302 574h8M230 578h16M294 578h4M230 582h12M290 582h4M230 586h16M290 586h4M230 590h8M242 590h8M290 590h4M226 594h8M246 594h8M226 598h8M246 598h8M226 602h24M230 606h20M286 606h4M230 610h20M286 610h4M230 614h24M286 614h4M230 618h12M246 618h12M286 618h4M234 622h8M250 622h12M286 622h4M234 626h8M250 626h12M290 626h4M234 630h4M250 630h8M290 630h4M234 634h4M250 634h8M294 634h4M250 638h4M294 638h4M230 642h4M250 642h4M294 642h4M230 646h4M250 646h4M226 650h4M250 650h4M290 650h4M250 654h4M290 654h4M230 658h4M250 658h4M290 658h4M230 662h4M250 662h4M230 666h4M250 666h4M286 666h4M230 670h4M250 670h4M230 674h4M250 674h4M282 674h4M230 678h4M254 678h4M266 678h12M226 682h8M226 686h4M230 694h4M230 698h4M230 702h4M230 706h4M234 710h4M234 714h4M234 718h4M234 722h4M234 726h4M238 734h4M238 742h4M234 746h4M230 750h4M218 766h4M214 782h4M214 790h4M214 794h4M214 814h4M218 822h4M222 830h4M222 834h4"/>
<path stroke="#ffd900" d="M178 122h4M374 122h24M178 126h4M222 126h4M374 126h20M178 130h4M222 130h4M378 130h12M178 134h4M222 134h4M386 134h4M182 138h4M218 138h4M386 138h4M182 142h8M206 142h8M386 142h4M386 146h4M386 150h4M386 154h4M390 158h4M390 162h8M390 166h12M390 170h12M386 174h16M390 178h16M398 182h8M398 186h8M402 190h4M402 194h4M462 194h20M406 198h4M462 198h8M478 198h8M406 202h4M426 202h12M442 202h28M474 202h12M410 206h4M422 206h12M446 206h40M410 210h24M446 210h20M470 210h16M446 214h20M470 214h16M446 218h8M458 218h32M450 222h28M482 222h36M450 226h12M506 226h16M510 230h12M542 230h28M514 234h36M562 234h8M594 234h12M518 238h16M542 238h8M562 238h8M594 238h12M518 242h12M546 242h8M558 242h12M594 242h12M522 246h12M546 246h28M526 250h4M546 250h32M546 254h28M614 254h8M546 258h16M610 258h16M550 262h16M610 262h16M550 266h16M610 266h20M662 266h4M546 270h24M586 270h16M614 270h16M654 270h16M550 274h56M614 274h8M630 274h8M654 274h16M550 278h44M602 278h8M614 278h8M634 278h8M654 278h12M550 282h40M606 282h16M638 282h4M654 282h12M554 286h40M606 286h20M638 286h8M654 286h16M554 290h12M570 290h24M622 290h24M654 290h4M666 290h4M626 294h16M654 294h4M666 294h8M622 298h16M654 298h20M622 302h8M642 302h12M622 306h4M638 306h16M622 310h4M638 310h8M650 310h4M478 314h8M622 314h8M638 314h16M622 318h8M642 318h8M622 322h8M586 326h24M622 326h8M586 330h12M602 330h24M558 334h12M586 334h8M606 334h8M618 334h8M554 338h20M582 338h12M550 342h24M582 342h12M550 346h4M562 346h12M582 346h12M582 350h8M578 354h8M602 354h4M578 358h4M602 358h4M574 362h4M574 366h4M586 366h16M574 370h16M594 370h8M638 370h4M578 374h24M634 374h8M582 378h20M634 378h8M586 382h16M634 382h8M658 382h20M690 382h8M590 386h16M634 386h8M654 386h24M690 386h8M602 390h8M626 390h20M650 390h32M690 390h16M606 394h20M638 394h8M650 394h64M642 398h52M706 398h16M642 402h12M666 402h20M718 402h8M670 406h12M722 406h4M670 410h12M718 410h8M734 410h4M674 414h4M722 414h4M730 414h8M722 418h12M726 422h8M730 426h12M1226 426h8M738 430h8M1166 430h24M1222 430h8M746 434h4M1146 434h28M1186 434h20M1222 434h4M170 438h12M190 438h4M750 438h4M778 438h44M1146 438h12M1186 438h20M1222 438h4M206 442h4M310 442h12M754 442h24M806 442h16M1146 442h8M1190 442h4M1202 442h8M1218 442h8M210 446h12M298 446h4M326 446h4M758 446h4M818 446h8M1138 446h20M1206 446h16M222 450h4M286 450h4M822 450h24M1138 450h16M226 454h4M278 454h4M826 454h20M1138 454h16M226 458h4M270 458h4M338 458h4M802 458h4M826 458h16M1134 458h8M230 462h4M250 462h4M262 462h8M822 462h20M882 462h16M1126 462h12M234 466h4M242 466h8M342 466h4M822 466h20M878 466h20M1126 466h8M234 470h12M342 470h4M810 470h36M882 470h20M1122 470h8M234 474h12M806 474h44M882 474h28M1086 474h36M234 478h16M806 478h12M826 478h24M882 478h48M1078 478h32M234 482h20M802 482h12M830 482h20M886 482h32M922 482h20M1034 482h40M238 486h4M246 486h16M798 486h20M830 486h20M890 486h28M922 486h24M1010 486h16M1034 486h4M238 490h24M798 490h48M890 490h16M914 490h28M982 490h12M1006 490h4M1022 490h16M238 494h24M342 494h4M706 494h8M794 494h28M826 494h16M886 494h20M934 494h4M958 494h8M978 494h8M990 494h8M1006 494h4M1026 494h8M238 498h20M342 498h4M702 498h4M714 498h4M794 498h24M826 498h16M874 498h28M930 498h8M950 498h32M998 498h12M234 502h8M250 502h8M342 502h4M702 502h4M722 502h8M786 502h32M822 502h8M838 502h8M866 502h36M930 502h40M234 506h4M254 506h4M342 506h4M702 506h4M726 506h4M782 506h32M822 506h8M838 506h64M910 506h8M926 506h4M938 506h8M958 506h12M234 510h8M258 510h4M342 510h4M694 510h8M730 510h4M778 510h8M822 510h8M846 510h80M962 510h4M238 514h4M258 514h4M342 514h4M690 514h12M730 514h4M782 514h4M822 514h12M846 514h16M874 514h36M238 518h8M258 518h8M342 518h4M690 518h8M734 518h4M782 518h16M818 518h32M882 518h8M898 518h16M238 522h8M258 522h8M342 522h4M690 522h4M738 522h4M794 522h8M814 522h32M886 522h8M898 522h4M910 522h4M238 526h8M262 526h4M342 526h4M690 526h4M738 526h4M802 526h40M890 526h12M910 526h4M238 530h8M262 530h8M686 530h8M738 530h4M822 530h24M898 530h16M238 534h8M266 534h4M686 534h8M738 534h4M826 534h24M898 534h12M238 538h8M262 538h8M338 538h4M534 538h8M686 538h12M738 538h8M826 538h16M846 538h8M898 538h4M242 542h4M254 542h12M338 542h4M530 542h12M686 542h12M738 542h8M826 542h12M850 542h32M886 542h12M242 546h16M338 546h4M514 546h12M534 546h8M690 546h12M738 546h8M830 546h8M846 546h20M242 550h16M338 550h4M502 550h12M538 550h8M694 550h12M738 550h4M842 550h24M238 554h16M506 554h4M542 554h4M698 554h12M738 554h4M842 554h20M234 558h4M246 558h8M334 558h4M506 558h4M542 558h4M702 558h8M718 558h8M734 558h8M842 558h16M234 562h4M246 562h8M330 562h4M506 562h8M542 562h4M702 562h28M734 562h8M230 566h8M246 566h8M326 566h4M506 566h12M538 566h4M706 566h40M230 570h24M318 570h4M506 570h20M530 570h8M710 570h32M230 574h16M310 574h4M514 574h20M298 578h4M514 578h4M294 582h4M238 590h4M234 594h12M290 594h4M530 594h4M234 598h12M290 598h4M510 598h24M290 602h4M506 602h24M506 606h20M514 610h12M522 614h8M242 618h4M290 618h4M522 618h8M242 622h8M290 622h4M518 622h12M242 626h8M294 626h4M514 626h16M238 630h12M294 630h4M510 630h20M238 634h12M510 634h20M234 638h16M510 638h12M530 638h4M234 642h16M510 642h4M534 642h4M234 646h16M294 646h4M534 646h4M230 650h8M242 650h8M294 650h4M502 650h8M230 654h8M246 654h4M294 654h4M502 654h8M234 658h4M246 658h4M506 658h4M522 658h8M234 662h8M246 662h4M290 662h4M234 666h16M290 666h4M234 670h16M286 670h4M234 674h16M286 674h4M234 678h8M250 678h4M278 678h8M234 682h4M258 682h12M230 686h4M230 690h4M234 706h4M238 714h4M238 718h4M238 730h4M242 734h4M242 738h4M242 742h4M238 746h4M234 750h4M230 754h4M226 758h4M222 762h4M218 770h4M218 774h4M214 786h4M214 798h4M214 802h4M214 806h4M214 810h4M218 818h4M226 842h4M226 846h4"/>
<path stroke="#ffd300" d="M222 122h4M366 122h8M174 126h4M366 126h8M174 130h4M226 130h4M370 130h8M174 134h4M226 134h4M370 134h16M178 138h4M222 138h4M370 138h16M174 142h8M214 142h4M370 142h16M178 146h28M378 146h8M382 150h4M382 154h4M382 158h8M386 162h4M386 166h4M382 170h8M382 174h4M382 178h8M390 182h8M394 186h4M398 190h4M398 194h4M398 198h8M470 198h8M402 202h4M438 202h4M470 202h4M406 206h4M434 206h12M406 210h4M434 210h12M410 214h36M414 218h12M430 218h16M446 222h4M478 222h4M446 226h4M462 226h44M450 230h24M498 230h12M494 234h20M550 234h12M498 238h20M534 238h8M550 238h12M442 242h4M498 242h8M514 242h4M530 242h16M554 242h4M514 246h8M534 246h12M510 250h16M530 250h16M510 254h36M514 258h16M538 258h8M518 262h8M538 262h12M518 266h4M542 266h8M542 270h4M542 274h8M622 274h8M542 278h8M594 278h8M622 278h12M546 282h4M590 282h16M622 282h16M546 286h8M594 286h12M626 286h12M550 290h4M566 290h4M594 290h28M658 290h8M550 294h76M658 294h8M550 298h16M578 298h44M482 302h4M554 302h8M582 302h12M602 302h20M478 306h12M582 306h12M602 306h20M474 310h16M582 310h12M610 310h12M646 310h4M470 314h8M486 314h4M558 314h4M582 314h12M610 314h12M470 318h20M558 318h4M574 318h24M602 318h20M474 322h16M558 322h8M574 322h48M558 326h28M610 326h12M554 330h32M538 334h20M570 334h16M538 338h16M574 338h8M542 342h8M574 342h8M546 346h4M554 346h8M574 346h8M546 350h36M546 354h32M550 358h28M546 362h28M546 366h28M550 370h8M566 370h8M590 370h4M570 374h8M574 378h8M578 382h8M582 386h8M586 390h16M586 394h20M626 394h12M598 398h44M694 398h12M618 402h24M654 402h12M686 402h8M702 402h16M622 406h48M682 406h8M702 406h20M634 410h24M666 410h4M682 410h4M698 410h20M646 414h12M666 414h8M678 414h8M694 414h28M666 418h16M694 418h28M674 422h4M694 422h16M718 422h8M690 426h8M718 426h12M690 430h8M718 430h20M1230 430h4M734 434h12M1174 434h12M1226 434h8M194 438h8M746 438h4M1158 438h28M1226 438h4M210 442h4M306 442h4M322 442h4M750 442h4M778 442h12M794 442h12M1154 442h36M1194 442h8M1226 442h8M222 446h4M286 446h12M330 446h4M754 446h4M762 446h12M802 446h16M1158 446h48M1222 446h12M226 450h4M282 450h4M334 450h4M758 450h8M802 450h20M1154 450h12M1182 450h16M1206 450h24M230 454h4M270 454h8M338 454h4M798 454h16M818 454h8M1154 454h8M1222 454h8M230 458h8M254 458h16M798 458h4M806 458h8M818 458h8M1142 458h12M234 462h16M342 462h4M798 462h24M1138 462h12M1230 462h4M238 466h4M802 466h20M1134 466h8M1230 466h4M806 470h4M1130 470h8M1226 470h8M346 474h4M802 474h4M1122 474h16M1226 474h8M346 478h4M798 478h8M818 478h8M1110 478h16M1226 478h8M346 482h4M798 482h4M814 482h16M918 482h4M1074 482h40M242 486h4M346 486h4M794 486h4M818 486h12M918 486h4M1038 486h28M1086 486h4M346 490h4M706 490h8M794 490h4M1010 490h12M1038 490h4M346 494h4M702 494h4M714 494h8M790 494h4M986 494h4M1010 494h16M1034 494h8M346 498h4M698 498h4M718 498h8M782 498h12M982 498h16M1010 498h4M1022 498h20M242 502h8M346 502h4M698 502h4M730 502h4M778 502h8M830 502h8M970 502h40M238 506h16M690 506h12M730 506h4M774 506h8M830 506h8M930 506h8M946 506h12M970 506h20M242 510h16M686 510h8M734 510h4M774 510h4M830 510h16M926 510h20M954 510h8M966 510h8M242 514h16M686 514h4M734 514h8M774 514h8M834 514h12M910 514h20M958 514h12M246 518h12M686 518h4M738 518h12M762 518h4M778 518h4M890 518h8M914 518h12M246 522h12M686 522h4M742 522h8M782 522h12M894 522h4M914 522h8M246 526h16M682 526h8M742 526h4M790 526h12M914 526h8M246 530h16M342 530h4M510 530h8M534 530h8M682 530h4M742 530h4M802 530h20M914 530h12M246 534h20M342 534h4M510 534h4M530 534h16M682 534h4M742 534h8M806 534h20M910 534h12M246 538h16M510 538h4M530 538h4M542 538h4M682 538h4M746 538h4M810 538h4M818 538h8M842 538h4M902 538h16M246 542h8M506 542h12M526 542h4M542 542h4M682 542h4M746 542h8M822 542h4M838 542h12M898 542h8M494 546h20M542 546h8M686 546h4M746 546h4M822 546h8M838 546h8M866 546h32M494 550h8M546 550h4M690 550h4M742 550h4M826 550h16M866 550h28M338 554h4M498 554h8M546 554h4M690 554h8M742 554h4M830 554h12M862 554h32M238 558h8M502 558h4M546 558h4M694 558h8M742 558h4M834 558h8M858 558h12M878 558h12M238 562h8M334 562h4M502 562h4M546 562h4M694 562h8M742 562h8M838 562h24M238 566h8M330 566h4M502 566h4M542 566h4M694 566h12M746 566h4M842 566h16M322 570h4M502 570h4M538 570h4M698 570h12M742 570h8M314 574h4M506 574h8M534 574h4M706 574h40M302 578h8M510 578h4M518 578h20M710 578h8M730 578h8M510 582h16M530 582h12M714 582h4M294 586h4M510 586h32M294 590h4M510 590h32M506 594h24M534 594h8M502 598h8M534 598h4M502 602h4M530 602h8M290 606h4M502 606h4M526 606h8M290 610h4M506 610h8M526 610h8M290 614h4M510 614h12M530 614h4M294 618h4M514 618h8M530 618h4M294 622h4M510 622h8M530 622h4M510 626h4M530 626h4M506 630h4M530 630h8M298 634h4M506 634h4M530 634h12M298 638h4M506 638h4M522 638h8M534 638h8M298 642h4M502 642h8M514 642h20M538 642h8M498 646h24M526 646h8M538 646h8M238 650h4M494 650h8M510 650h36M238 654h8M498 654h4M510 654h36M238 658h8M294 658h4M502 658h4M510 658h12M530 658h8M242 662h4M294 662h4M502 662h32M506 666h20M290 670h4M506 670h12M510 674h8M242 678h8M286 678h4M510 678h8M238 682h8M250 682h8M270 682h16M506 682h12M234 686h8M262 686h4M506 686h12M234 690h8M506 690h12M234 694h8M506 694h8M234 698h8M234 702h4M238 706h4M238 710h4M238 722h4M238 726h4M242 730h4M242 746h4M238 750h4M234 754h4M230 758h4M226 762h4M222 766h4M222 770h4M218 778h4M218 814h4M222 826h4M226 834h4M226 838h4"/>
<path stroke="#ffcd00" d="M174 122h4M226 122h4M358 122h8M226 126h4M358 126h8M170 130h4M362 130h8M170 134h4M362 134h8M170 138h8M226 138h4M362 138h8M170 142h4M218 142h8M362 142h8M170 146h8M206 146h8M362 146h16M170 150h24M362 150h20M174 154h12M374 154h8M374 158h8M378 162h8M358 166h4M378 166h8M378 170h4M366 174h16M366 178h16M362 182h28M366 186h12M390 186h4M394 190h4M394 194h4M390 198h8M390 202h12M390 206h16M390 210h16M394 214h16M398 218h16M426 218h4M398 222h8M410 222h36M398 226h8M418 226h4M442 226h4M402 230h4M446 230h4M474 230h24M442 234h52M406 238h16M438 238h20M470 238h28M410 242h12M434 242h8M446 242h8M474 242h24M506 242h8M434 246h16M482 246h32M482 250h28M486 254h24M494 258h20M530 258h8M498 262h20M526 262h12M510 266h8M522 266h20M510 270h32M506 274h36M506 278h36M466 282h4M506 282h20M538 282h8M462 286h12M482 286h12M506 286h16M538 286h8M462 290h32M506 290h12M538 290h12M462 294h32M506 294h8M534 294h16M474 298h16M510 298h4M538 298h12M566 298h12M474 302h8M486 302h8M542 302h12M562 302h20M594 302h8M458 306h20M490 306h4M542 306h40M594 306h8M454 310h20M490 310h4M534 310h48M594 310h16M454 314h16M490 314h4M526 314h32M562 314h20M594 314h16M458 318h12M490 318h4M530 318h28M562 318h12M598 318h4M462 322h12M490 322h8M530 322h16M550 322h8M566 322h8M466 326h32M534 326h12M550 326h8M462 330h32M530 330h24M462 334h24M530 334h8M466 338h16M534 338h4M538 342h4M542 346h4M542 350h4M542 354h4M542 358h8M542 362h4M542 366h4M542 370h8M558 370h8M550 374h20M558 378h16M562 382h16M566 386h16M566 390h20M574 394h12M582 398h16M590 402h28M694 402h8M594 406h12M614 406h8M690 406h12M594 410h4M614 410h20M658 410h8M686 410h12M634 414h12M658 414h8M686 414h8M646 418h20M682 418h12M650 422h24M678 422h16M710 422h8M654 426h36M698 426h20M658 430h32M698 430h20M178 434h12M662 434h4M674 434h28M706 434h28M202 438h8M314 438h8M710 438h12M726 438h20M1230 438h4M214 442h8M298 442h8M326 442h4M730 442h20M790 442h4M226 446h4M282 446h4M730 446h24M774 446h28M230 450h4M278 450h4M730 450h12M750 450h8M766 450h12M794 450h8M1166 450h16M1198 450h8M1230 450h4M234 454h8M262 454h8M734 454h8M754 454h12M794 454h4M814 454h4M1162 454h8M1178 454h24M1210 454h12M1230 454h4M238 458h16M342 458h4M782 458h16M814 458h4M1154 458h16M1178 458h20M1218 458h16M778 462h20M1150 462h20M1178 462h20M1222 462h8M346 466h4M782 466h20M1142 466h16M1178 466h28M1226 466h4M346 470h4M782 470h24M1138 470h12M1182 470h28M1222 470h4M786 474h16M1138 474h4M1198 474h8M1218 474h8M790 478h8M1126 478h16M1218 478h8M794 482h4M1114 482h20M1226 482h8M706 486h4M790 486h4M1066 486h20M1090 486h12M1106 486h20M702 490h4M714 490h12M790 490h4M1042 490h20M1086 490h4M1118 490h8M698 494h4M722 494h8M782 494h8M1042 494h12M694 498h4M726 498h8M774 498h8M1014 498h8M1042 498h8M686 502h12M734 502h4M770 502h8M1010 502h8M1022 502h20M346 506h4M626 506h8M682 506h8M734 506h4M770 506h4M990 506h20M346 510h4M626 510h12M642 510h8M682 510h4M738 510h8M766 510h8M946 510h8M974 510h20M346 514h4M626 514h12M642 514h8M678 514h8M742 514h32M930 514h28M970 514h8M346 518h4M642 518h12M674 518h12M750 518h12M766 518h12M926 518h16M958 518h12M346 522h4M514 522h4M642 522h12M666 522h20M750 522h32M922 522h12M346 526h4M506 526h36M666 526h16M746 526h8M762 526h28M922 526h12M506 530h4M518 530h4M526 530h8M542 530h4M674 530h8M746 530h8M766 530h8M786 530h16M926 530h8M502 534h8M514 534h8M546 534h4M678 534h4M750 534h4M762 534h8M802 534h4M922 534h12M342 538h4M498 538h12M514 538h8M526 538h4M546 538h4M678 538h4M750 538h16M806 538h4M814 538h4M918 538h12M342 542h4M490 542h16M518 542h8M546 542h4M754 542h8M806 542h16M906 542h16M342 546h4M486 546h8M550 546h4M682 546h4M750 546h8M814 546h8M898 546h12M342 550h4M486 550h8M550 550h4M686 550h4M746 550h8M818 550h8M894 550h4M482 554h16M550 554h4M686 554h4M746 554h4M826 554h4M894 554h4M338 558h4M478 558h8M494 558h8M550 558h4M686 558h8M746 558h4M830 558h4M870 558h8M890 558h8M478 562h8M498 562h4M686 562h8M750 562h4M834 562h4M862 562h36M334 566h4M494 566h8M546 566h4M690 566h4M750 566h4M838 566h4M858 566h16M326 570h4M494 570h8M542 570h8M690 570h8M750 570h4M842 570h28M318 574h4M494 574h12M538 574h8M698 574h8M746 574h4M846 574h24M310 578h4M486 578h4M502 578h8M538 578h8M702 578h8M718 578h12M738 578h8M298 582h4M486 582h8M506 582h4M526 582h4M542 582h4M706 582h8M718 582h20M298 586h4M490 586h4M506 586h4M542 586h4M710 586h12M490 590h20M542 590h4M638 590h8M710 590h8M294 594h4M494 594h12M542 594h4M638 594h12M294 598h4M494 598h8M538 598h8M642 598h4M294 602h4M498 602h4M538 602h4M294 606h4M498 606h4M534 606h4M294 610h4M502 610h4M534 610h4M294 614h4M506 614h4M534 614h4M510 618h4M534 618h4M298 622h4M506 622h4M534 622h4M298 626h4M506 626h4M534 626h8M298 630h4M538 630h8M502 634h4M542 634h8M502 638h4M542 638h8M494 642h8M546 642h4M298 646h4M494 646h4M522 646h4M546 646h4M298 650h4M490 650h4M546 650h4M298 654h4M494 654h4M546 654h4M298 658h4M498 658h4M538 658h8M498 662h4M534 662h4M294 666h4M502 666h4M526 666h8M502 670h4M518 670h12M706 670h4M290 674h4M502 674h8M518 674h8M706 674h8M290 678h4M502 678h8M518 678h8M246 682h4M286 682h4M502 682h4M518 682h8M242 686h20M266 686h12M502 686h4M518 686h8M242 690h4M502 690h4M518 690h4M242 694h4M502 694h4M514 694h4M242 698h4M502 698h12M238 702h4M242 710h4M242 714h4M242 718h4M242 722h4M242 726h4M246 734h4M246 738h4M246 742h4M242 750h4M238 754h4M234 758h4M230 762h4M226 766h4M222 774h4M218 782h4M218 786h4M218 790h4M218 794h4M218 810h4M222 822h4M226 826h4M374 826h8M226 830h4M374 830h8M378 834h8M378 838h8M230 842h4M378 842h8M230 846h4M378 846h8"/>
<path stroke="#ffc700" d="M170 122h4M230 122h4M326 122h8M342 122h16M170 126h4M230 126h4M342 126h16M230 130h4M346 130h16M230 134h4M350 134h12M230 138h4M358 138h4M226 142h4M358 142h4M214 146h12M358 146h4M194 150h24M358 150h4M170 154h4M186 154h8M358 154h16M170 158h20M354 158h20M350 162h28M350 166h8M362 166h16M326 170h4M354 170h24M326 174h8M358 174h8M326 178h8M358 178h8M338 182h8M354 182h8M338 186h28M378 186h12M338 190h20M362 190h32M338 194h16M370 194h8M386 194h8M386 198h4M386 202h4M382 206h8M310 210h8M378 210h12M310 214h8M378 214h16M310 218h4M374 218h24M310 222h4M378 222h20M406 222h4M310 226h8M378 226h20M406 226h12M422 226h20M310 230h8M394 230h8M406 230h40M394 234h48M398 238h8M422 238h16M458 238h12M402 242h8M422 242h12M454 242h20M406 246h28M450 246h32M414 250h8M434 250h28M478 250h4M446 254h16M482 254h4M450 258h12M482 258h12M482 262h16M478 266h32M478 270h32M458 274h8M478 274h28M458 278h48M458 282h8M470 282h36M526 282h12M458 286h4M474 286h8M494 286h12M522 286h16M458 290h4M494 290h12M518 290h20M458 294h4M494 294h12M514 294h20M458 298h16M490 298h20M514 298h8M526 298h12M454 302h20M494 302h48M446 306h12M494 306h4M506 306h36M442 310h12M494 310h4M506 310h28M442 314h12M494 314h32M442 318h16M494 318h20M522 318h8M438 322h24M498 322h12M526 322h4M546 322h4M454 326h12M498 326h8M526 326h8M546 326h4M450 330h12M494 330h8M526 330h4M446 334h16M486 334h12M526 334h4M446 338h20M482 338h8M526 338h8M446 342h4M458 342h28M506 342h32M466 346h20M502 346h28M538 346h4M470 350h12M506 350h24M538 350h4M470 354h24M510 354h20M538 354h4M470 358h24M538 358h4M474 362h4M510 362h8M538 362h4M510 366h8M538 366h4M510 370h12M534 370h8M538 374h12M550 378h8M554 382h8M554 386h12M554 390h12M554 394h20M562 398h20M578 402h12M586 406h8M606 406h8M586 410h8M598 410h16M518 414h4M590 414h16M610 414h16M630 414h4M590 418h20M614 418h8M630 418h16M590 422h60M590 426h48M650 426h4M594 430h28M650 430h8M170 434h8M190 434h12M606 434h4M650 434h12M666 434h8M702 434h4M210 438h4M310 438h4M322 438h4M654 438h56M722 438h4M222 442h8M286 442h12M330 442h4M662 442h16M690 442h8M706 442h24M230 446h4M278 446h4M334 446h4M726 446h4M234 450h12M258 450h20M338 450h4M726 450h4M742 450h8M778 450h16M242 454h20M342 454h4M730 454h4M742 454h12M766 454h28M1170 454h8M1202 454h8M346 458h4M730 458h36M774 458h8M1170 458h8M1198 458h20M346 462h4M774 462h4M1170 462h8M1198 462h24M778 466h4M1158 466h20M1206 466h20M778 470h4M1150 470h32M1210 470h12M782 474h4M1142 474h56M1206 474h12M782 478h8M1142 478h44M1194 478h24M350 482h4M702 482h8M786 482h8M1134 482h12M1166 482h12M1210 482h16M698 486h8M710 486h20M786 486h4M1102 486h4M1126 486h20M1226 486h8M350 490h4M698 490h4M726 490h4M750 490h4M782 490h8M1062 490h24M1090 490h12M1110 490h8M1126 490h8M350 494h4M606 494h12M642 494h8M674 494h4M694 494h4M730 494h4M746 494h12M774 494h8M1054 494h12M1118 494h12M350 498h4M606 498h48M670 498h24M734 498h4M746 498h12M766 498h8M1050 498h8M1206 498h8M350 502h4M610 502h44M670 502h16M738 502h16M762 502h8M1018 502h4M1042 502h12M1206 502h4M350 506h4M622 506h4M634 506h20M670 506h12M738 506h16M762 506h8M1010 506h36M350 510h4M622 510h4M638 510h4M650 510h4M670 510h12M746 510h20M994 510h24M1030 510h12M538 514h4M622 514h4M638 514h4M650 514h8M670 514h8M978 514h12M1010 514h8M1030 514h12M510 518h4M526 518h24M626 518h16M654 518h4M662 518h12M942 518h16M970 518h8M1026 518h20M502 522h12M518 522h32M634 522h8M654 522h12M934 522h32M1026 522h12M490 526h16M542 526h8M638 526h28M754 526h8M934 526h24M1046 526h8M346 530h4M490 530h16M522 530h4M546 530h8M662 530h12M754 530h12M774 530h12M934 530h8M1046 530h8M346 534h4M490 534h12M522 534h8M550 534h4M662 534h16M754 534h8M770 534h8M782 534h20M934 534h4M1046 534h8M482 538h16M522 538h4M550 538h4M654 538h16M674 538h4M766 538h8M802 538h4M930 538h8M1046 538h4M478 542h12M550 542h4M650 542h20M674 542h8M762 542h12M802 542h4M922 542h12M478 546h8M554 546h4M650 546h32M758 546h16M806 546h8M910 546h16M478 550h8M554 550h4M650 550h16M678 550h8M754 550h16M814 550h4M898 550h16M342 554h4M474 554h8M554 554h4M654 554h8M682 554h4M750 554h8M818 554h8M898 554h8M342 558h4M474 558h4M486 558h8M682 558h4M750 558h4M826 558h4M898 558h8M338 562h4M474 562h4M486 562h12M550 562h4M682 562h4M754 562h4M830 562h4M898 562h4M478 566h16M550 566h4M678 566h12M754 566h4M834 566h4M874 566h24M330 570h4M478 570h16M550 570h4M674 570h16M754 570h4M838 570h4M870 570h8M322 574h4M478 574h16M546 574h8M674 574h24M750 574h4M842 574h4M870 574h8M314 578h4M478 578h8M490 578h12M546 578h8M674 578h8M694 578h8M746 578h4M842 578h36M302 582h8M482 582h4M494 582h12M546 582h8M638 582h8M698 582h8M738 582h4M846 582h32M486 586h4M494 586h12M546 586h8M634 586h16M698 586h12M722 586h16M850 586h12M866 586h8M298 590h4M486 590h4M546 590h16M586 590h12M610 590h8M634 590h4M646 590h12M694 590h16M718 590h8M298 594h4M490 594h4M546 594h12M582 594h36M634 594h4M650 594h8M694 594h32M298 598h4M490 598h4M546 598h12M586 598h28M634 598h8M646 598h12M694 598h28M490 602h8M542 602h8M598 602h16M630 602h20M706 602h12M490 606h8M538 606h12M602 606h8M622 606h16M298 610h4M494 610h8M538 610h20M654 610h4M298 614h4M498 614h8M538 614h4M550 614h4M582 614h4M650 614h8M298 618h4M506 618h4M538 618h4M582 618h4M646 618h8M538 622h8M646 622h4M502 626h4M542 626h4M502 630h4M546 630h8M302 634h4M498 634h4M550 634h12M302 638h4M494 638h8M550 638h16M302 642h4M490 642h4M550 642h20M302 646h4M490 646h4M550 646h20M302 650h4M550 650h8M302 654h4M434 654h8M490 654h4M550 654h4M434 658h8M490 658h8M546 658h4M298 662h4M494 662h4M538 662h8M298 666h4M494 666h8M534 666h8M706 666h8M294 670h4M486 670h16M530 670h8M702 670h4M710 670h4M294 674h4M486 674h16M526 674h8M702 674h4M714 674h4M490 678h12M526 678h8M706 678h8M290 682h4M498 682h4M526 682h8M278 686h8M498 686h4M526 686h8M246 690h28M494 690h8M522 690h8M246 694h8M486 694h16M518 694h4M246 698h4M486 698h16M514 698h8M242 702h8M382 702h8M498 702h20M242 706h4M382 706h8M502 706h12M354 714h12M350 718h16M354 722h8M246 726h4M246 730h4M470 734h8M462 738h16M358 742h4M374 742h8M458 742h20M246 746h4M354 746h12M462 746h8M358 750h4M242 754h4M238 758h4M418 758h8M234 762h4M414 762h12M230 766h4M414 766h12M226 770h4M414 770h24M414 774h24M222 778h4M430 778h8M282 790h16M286 794h20M218 798h4M290 798h24M218 802h4M298 802h16M218 806h4M298 806h16M374 806h8M290 810h20M374 810h12M222 814h4M286 814h20M374 814h16M222 818h4M290 818h12M378 818h12M226 822h4M290 822h12M374 822h16M294 826h4M370 826h4M382 826h4M230 830h4M366 830h8M382 830h8M230 834h4M370 834h8M386 834h4M230 838h4M374 838h4M386 838h8M374 842h4M386 842h4M234 846h4M370 846h8M386 846h4"/>
<path stroke="#ffc100" d="M234 122h4M318 122h8M334 122h8M234 126h4M314 126h28M234 130h4M302 130h24M334 130h12M234 134h4M302 134h20M338 134h12M234 138h4M302 138h16M342 138h16M230 142h8M306 142h12M342 142h16M226 146h8M306 146h16M338 146h20M218 150h8M306 150h20M338 150h20M194 154h28M306 154h24M342 154h16M190 158h28M306 158h24M342 158h12M170 162h28M210 162h8M310 162h24M338 162h12M170 166h8M194 166h4M318 166h32M170 170h8M318 170h8M330 170h24M170 174h4M318 174h8M334 174h24M318 178h8M334 178h24M322 182h16M346 182h8M330 186h8M330 190h8M358 190h4M330 194h8M354 194h16M378 194h8M330 198h28M366 198h20M334 202h16M370 202h16M306 206h16M338 206h8M374 206h8M302 210h8M318 210h8M338 210h12M374 210h4M286 214h24M318 214h36M370 214h8M286 218h24M314 218h16M342 218h12M370 218h4M290 222h20M314 222h12M370 222h8M294 226h16M318 226h8M370 226h8M302 230h8M318 230h8M374 230h20M306 234h16M374 234h20M310 238h8M378 238h20M310 242h4M394 242h8M398 246h8M402 250h12M422 250h12M462 250h16M410 254h16M430 254h16M462 254h20M434 258h4M442 258h8M462 258h20M446 262h36M446 266h32M446 270h32M450 274h8M466 274h12M454 278h4M454 282h4M454 286h4M434 290h8M454 290h4M434 294h8M454 294h4M438 298h8M450 298h8M522 298h4M442 302h12M438 306h8M498 306h8M438 310h4M498 310h8M418 314h4M434 314h8M410 318h12M430 318h12M514 318h8M402 322h16M430 322h8M510 322h16M398 326h20M430 326h24M506 326h20M402 330h4M434 330h16M502 330h12M518 330h8M434 334h12M498 334h28M438 338h8M490 338h36M438 342h8M450 342h8M486 342h20M438 346h28M486 346h16M530 346h8M414 350h36M462 350h8M482 350h24M530 350h8M414 354h24M466 354h4M494 354h16M530 354h8M414 358h20M466 358h4M494 358h44M414 362h4M466 362h8M478 362h20M502 362h8M518 362h20M470 366h8M490 366h4M502 366h8M518 366h20M494 370h16M522 370h12M494 374h44M494 378h56M482 382h8M498 382h20M530 382h24M498 386h20M530 386h24M498 390h16M530 390h24M490 394h20M530 394h24M490 398h20M534 398h28M490 402h16M562 402h16M514 406h12M570 406h16M510 410h28M574 410h12M510 414h8M522 414h20M578 414h12M606 414h4M626 414h4M514 418h28M582 418h8M610 418h4M622 418h8M518 422h20M582 422h8M522 426h16M566 426h8M582 426h8M638 426h12M178 430h16M522 430h12M566 430h8M586 430h8M622 430h28M202 434h8M526 434h4M594 434h12M610 434h12M646 434h4M214 438h8M286 438h24M326 438h4M578 438h4M602 438h8M646 438h8M230 442h4M282 442h4M334 442h4M578 442h4M646 442h16M678 442h12M698 442h8M234 446h12M254 446h12M274 446h4M338 446h4M662 446h20M686 446h40M246 450h12M342 450h4M670 450h8M690 450h20M722 450h4M346 454h4M690 454h20M726 454h4M690 458h20M726 458h4M766 458h8M690 462h16M730 462h36M770 462h4M350 466h4M690 466h12M774 466h4M350 470h4M566 470h8M662 470h4M694 470h4M774 470h4M350 474h4M566 474h8M650 474h16M698 474h12M778 474h4M350 478h4M650 478h12M698 478h16M778 478h4M1186 478h8M646 482h12M698 482h4M710 482h20M738 482h12M782 482h4M1146 482h20M1178 482h32M350 486h4M638 486h16M694 486h4M730 486h24M782 486h4M1146 486h4M1158 486h28M1198 486h28M602 490h20M634 490h20M670 490h12M694 490h4M730 490h20M754 490h4M774 490h8M1102 490h8M1134 490h12M1178 490h4M1190 490h44M602 494h4M618 494h24M650 494h8M666 494h8M678 494h16M734 494h12M758 494h16M1066 494h52M1130 494h12M1186 494h36M1226 494h8M602 498h4M654 498h16M738 498h8M758 498h8M1058 498h12M1082 498h4M1110 498h20M1194 498h12M1214 498h4M1226 498h8M562 502h8M598 502h12M654 502h16M754 502h8M1054 502h8M1198 502h8M1210 502h8M1230 502h4M530 506h8M550 506h44M606 506h16M654 506h16M754 506h8M1046 506h12M1198 506h16M490 510h16M526 510h60M614 510h8M654 510h16M1018 510h12M1042 510h12M1202 510h12M350 514h4M490 514h24M522 514h16M542 514h36M618 514h4M658 514h12M990 514h20M1018 514h12M1042 514h12M350 518h4M486 518h24M514 518h12M550 518h24M622 518h4M658 518h4M978 518h12M1006 518h20M1046 518h12M486 522h16M550 522h20M626 522h8M966 522h12M1010 522h16M1038 522h24M482 526h8M550 526h12M630 526h8M958 526h8M1022 526h24M1054 526h8M482 530h8M554 530h8M634 530h28M942 530h16M1038 530h8M1054 530h8M478 534h12M554 534h8M638 534h24M778 534h4M938 534h12M1038 534h8M1054 534h4M346 538h4M474 538h8M554 538h8M642 538h12M670 538h4M774 538h28M938 538h8M1042 538h4M1050 538h8M346 542h4M474 542h4M554 542h8M642 542h8M670 542h4M774 542h8M790 542h12M934 542h8M1038 542h20M346 546h4M474 546h4M558 546h4M642 546h8M774 546h8M798 546h8M926 546h8M1038 546h32M346 550h4M474 550h4M558 550h4M642 550h8M666 550h12M770 550h8M810 550h4M914 550h16M1058 550h12M470 554h4M558 554h4M642 554h12M662 554h20M758 554h16M814 554h4M906 554h8M1066 554h4M470 558h4M554 558h8M642 558h28M678 558h4M754 558h8M818 558h8M906 558h4M342 562h4M470 562h4M554 562h4M646 562h36M758 562h4M826 562h4M902 562h4M338 566h4M474 566h4M554 566h4M650 566h28M758 566h4M830 566h4M898 566h4M334 570h4M474 570h4M554 570h4M654 570h20M758 570h4M834 570h4M878 570h12M326 574h4M474 574h4M554 574h4M638 574h36M754 574h4M838 574h4M878 574h8M318 578h4M474 578h4M554 578h4M634 578h40M682 578h12M750 578h4M838 578h4M878 578h8M310 582h4M478 582h4M554 582h16M626 582h12M646 582h52M742 582h12M838 582h8M878 582h4M302 586h4M482 586h4M554 586h80M650 586h16M674 586h12M690 586h8M738 586h4M838 586h12M862 586h4M874 586h4M302 590h4M482 590h4M562 590h24M598 590h12M618 590h16M658 590h8M674 590h20M726 590h16M842 590h32M486 594h4M558 594h24M618 594h16M658 594h8M674 594h20M726 594h16M846 594h16M486 598h4M558 598h12M574 598h12M614 598h20M658 598h8M674 598h20M722 598h4M298 602h4M486 602h4M550 602h16M578 602h20M614 602h16M650 602h56M718 602h8M298 606h4M486 606h4M550 606h16M578 606h24M610 606h12M638 606h36M690 606h28M486 610h8M558 610h8M574 610h16M602 610h52M658 610h8M702 610h12M302 614h4M486 614h12M542 614h8M554 614h8M574 614h8M586 614h4M606 614h28M642 614h8M658 614h4M674 614h16M302 618h4M490 618h16M542 618h16M574 618h8M586 618h8M606 618h16M642 618h4M654 618h8M674 618h16M302 622h4M434 622h8M490 622h16M546 622h4M574 622h16M606 622h8M638 622h8M650 622h8M670 622h24M302 626h4M434 626h8M490 626h12M546 626h20M582 626h4M602 626h12M634 626h20M670 626h24M302 630h4M434 630h8M486 630h16M554 630h16M602 630h12M638 630h8M450 634h4M486 634h12M562 634h8M306 638h4M446 638h8M486 638h8M566 638h8M578 638h8M306 642h4M446 642h4M486 642h4M570 642h20M426 646h20M486 646h4M570 646h24M426 650h20M486 650h4M558 650h40M426 654h8M442 654h4M482 654h8M554 654h24M582 654h24M302 658h4M426 658h8M442 658h4M482 658h8M550 658h8M562 658h12M586 658h20M302 662h4M430 662h12M486 662h8M546 662h4M566 662h8M586 662h12M702 662h12M430 666h8M482 666h12M542 666h4M698 666h8M714 666h4M298 670h4M482 670h4M538 670h4M698 670h4M714 670h8M482 674h4M534 674h8M698 674h4M718 674h4M294 678h4M398 678h8M486 678h4M534 678h4M702 678h4M714 678h8M398 682h16M486 682h12M534 682h4M706 682h8M286 686h4M394 686h24M486 686h12M534 686h4M274 690h8M382 690h36M482 690h12M530 690h8M254 694h8M378 694h20M410 694h8M482 694h4M522 694h8M250 698h4M378 698h16M478 698h8M522 698h4M366 702h16M390 702h4M482 702h16M518 702h4M754 702h8M246 706h4M354 706h28M390 706h8M482 706h20M514 706h8M750 706h12M246 710h4M350 710h48M482 710h32M754 710h4M246 714h4M346 714h8M366 714h28M478 714h32M246 718h4M346 718h4M366 718h24M478 718h12M246 722h4M346 722h8M362 722h28M478 722h8M346 726h20M370 726h16M470 726h8M350 730h8M374 730h12M466 730h16M250 734h4M354 734h8M370 734h16M462 734h8M478 734h4M250 738h4M354 738h32M442 738h20M478 738h4M250 742h4M354 742h4M362 742h12M382 742h8M438 742h20M478 742h4M322 746h12M350 746h4M366 746h24M438 746h24M470 746h8M246 750h4M322 750h24M350 750h8M362 750h8M382 750h8M446 750h28M322 754h24M354 754h8M414 754h16M454 754h8M242 758h4M322 758h24M386 758h8M410 758h8M426 758h8M238 762h4M322 762h4M330 762h16M386 762h8M410 762h4M426 762h8M234 766h4M318 766h32M390 766h4M410 766h4M426 766h16M230 770h4M310 770h44M394 770h4M410 770h4M438 770h8M226 774h4M310 774h52M410 774h4M438 774h8M286 778h4M322 778h16M342 778h24M398 778h32M438 778h4M222 782h4M282 782h16M330 782h4M346 782h20M402 782h40M282 786h20M350 786h12M402 786h28M278 790h4M298 790h12M398 790h32M278 794h8M306 794h8M398 794h32M282 798h8M314 798h8M398 798h24M278 802h20M314 802h8M374 802h12M274 806h24M314 806h4M370 806h4M382 806h8M222 810h4M278 810h12M310 810h4M370 810h4M386 810h12M282 814h4M306 814h8M370 814h4M390 814h12M226 818h4M282 818h8M302 818h8M370 818h8M390 818h12M286 822h4M302 822h4M366 822h8M390 822h12M230 826h4M286 826h8M298 826h8M362 826h8M386 826h12M286 830h24M362 830h4M390 830h4M234 834h4M286 834h24M362 834h8M390 834h8M234 838h4M358 838h16M394 838h4M234 842h4M358 842h16M390 842h8M302 846h8M342 846h12M358 846h12M390 846h4"/>
<path stroke="#ffba00" d="M238 122h4M250 122h12M310 122h8M238 126h4M250 126h12M298 126h16M238 130h4M294 130h8M326 130h8M238 134h4M262 134h8M294 134h8M322 134h16M238 138h4M270 138h8M294 138h8M318 138h24M238 142h4M270 142h8M294 142h12M318 142h12M334 142h8M234 146h8M270 146h4M302 146h4M322 146h16M226 150h4M302 150h4M326 150h12M222 154h4M302 154h4M330 154h12M218 158h4M302 158h4M330 158h12M198 162h12M218 162h4M302 162h8M334 162h4M178 166h16M198 166h8M210 166h12M246 166h4M306 166h12M178 170h24M246 170h8M314 170h4M174 174h32M250 174h8M314 174h4M182 178h20M250 178h8M314 178h4M250 182h8M290 182h4M310 182h12M246 186h8M298 186h32M242 190h8M298 190h32M242 194h4M294 194h36M230 198h8M294 198h36M358 198h8M230 202h8M294 202h40M350 202h20M286 206h20M322 206h16M346 206h28M282 210h20M326 210h12M350 210h24M278 214h8M354 214h16M278 218h8M330 218h12M354 218h8M366 218h4M282 222h8M326 222h44M282 226h12M326 226h44M282 230h20M326 230h48M278 234h12M294 234h12M322 234h52M278 238h8M302 238h8M318 238h16M342 238h4M358 238h20M298 242h12M314 242h16M362 242h32M294 246h28M370 246h12M390 246h8M302 250h16M398 250h4M398 254h12M426 254h4M402 258h32M438 258h4M402 262h44M402 266h4M418 266h28M402 270h4M438 270h8M402 274h4M442 274h8M402 278h8M450 278h4M402 282h8M434 282h8M450 282h4M406 286h4M434 286h12M450 286h4M406 290h4M430 290h4M442 290h12M382 294h12M406 294h8M430 294h4M442 294h12M382 298h12M410 298h28M446 298h4M386 302h8M410 302h32M390 306h4M414 306h24M410 310h28M406 314h12M422 314h12M398 318h12M422 318h8M394 322h8M418 322h12M394 326h4M418 326h12M394 330h8M406 330h28M514 330h4M398 334h20M422 334h12M402 338h16M426 338h12M402 342h36M402 346h36M402 350h12M450 350h12M406 354h8M438 354h28M410 358h4M434 358h32M410 362h4M418 362h16M446 362h20M498 362h4M410 366h24M446 366h12M462 366h8M478 366h12M494 366h8M410 370h20M466 370h28M426 374h4M478 374h16M478 378h16M478 382h4M490 382h8M518 382h12M438 386h4M478 386h20M518 386h12M434 390h12M482 390h16M514 390h16M434 394h8M482 394h8M510 394h20M482 398h8M510 398h24M482 402h8M506 402h56M486 406h28M526 406h20M562 406h8M506 410h4M538 410h4M566 410h8M506 414h4M542 414h4M566 414h12M506 418h8M542 418h4M566 418h16M502 422h16M538 422h8M558 422h24M178 426h16M494 426h28M538 426h28M574 426h8M170 430h8M194 430h16M498 430h24M534 430h32M574 430h12M210 434h12M314 434h12M502 434h12M518 434h8M530 434h64M622 434h24M222 438h12M282 438h4M330 438h8M526 438h16M558 438h20M582 438h20M610 438h36M234 442h4M246 442h12M278 442h4M338 442h4M558 442h20M582 442h28M622 442h8M638 442h8M246 446h8M266 446h8M342 446h4M554 446h52M626 446h4M642 446h20M682 446h4M346 450h4M562 450h40M642 450h8M662 450h8M678 450h12M710 450h12M558 454h24M590 454h12M646 454h4M666 454h24M710 454h4M722 454h4M350 458h4M558 458h20M594 458h12M666 458h12M686 458h4M710 458h4M722 458h4M350 462h4M558 462h20M598 462h8M662 462h12M686 462h4M706 462h24M766 462h4M562 466h20M598 466h4M658 466h16M682 466h8M702 466h72M558 470h8M574 470h8M622 470h4M646 470h16M666 470h12M682 470h12M698 470h20M722 470h40M770 470h4M558 474h8M574 474h12M614 474h16M646 474h4M666 474h12M682 474h16M710 474h40M774 474h4M558 478h36M618 478h16M638 478h12M662 478h12M686 478h12M714 478h40M562 482h40M626 482h20M658 482h8M670 482h16M690 482h8M730 482h8M750 482h8M778 482h4M562 486h12M578 486h60M654 486h40M754 486h4M778 486h4M1150 486h8M1186 486h12M354 490h4M558 490h16M586 490h16M622 490h12M654 490h16M682 490h12M758 490h4M770 490h4M1146 490h32M1182 490h8M354 494h4M558 494h20M598 494h4M658 494h8M1142 494h44M1222 494h4M354 498h4M554 498h32M594 498h8M1070 498h12M1086 498h24M1130 498h16M1154 498h8M1174 498h20M1218 498h8M354 502h4M530 502h32M570 502h28M1062 502h28M1094 502h48M1178 502h20M1218 502h12M354 506h4M490 506h20M526 506h4M538 506h12M594 506h12M1058 506h12M1078 506h12M1102 506h36M1190 506h8M1214 506h20M354 510h4M486 510h4M506 510h8M518 510h8M586 510h28M1054 510h16M1082 510h4M1130 510h8M1194 510h8M1214 510h8M1226 510h8M486 514h4M514 514h8M578 514h12M614 514h4M1054 514h16M1198 514h24M482 518h4M574 518h8M618 518h4M990 518h16M1058 518h24M1210 518h12M350 522h4M482 522h4M570 522h8M622 522h4M978 522h12M1002 522h8M1062 522h16M350 526h4M562 526h8M626 526h4M966 526h16M1014 526h8M1062 526h16M350 530h4M478 530h4M562 530h4M630 530h4M958 530h8M1022 530h16M1062 530h8M350 534h4M474 534h4M562 534h4M634 534h4M950 534h8M1026 534h12M1058 534h8M350 538h4M562 538h4M638 538h4M946 538h8M1030 538h12M1058 538h24M350 542h4M470 542h4M562 542h4M638 542h4M782 542h8M942 542h8M1030 542h8M1058 542h32M470 546h4M562 546h4M638 546h4M782 546h16M934 546h12M1034 546h4M1070 546h20M470 550h4M562 550h4M638 550h4M778 550h8M802 550h8M930 550h4M1034 550h24M1070 550h20M346 554h4M562 554h4M638 554h4M774 554h8M810 554h4M914 554h16M1050 554h16M1070 554h16M346 558h4M562 558h4M638 558h4M670 558h8M762 558h16M814 558h4M910 558h4M1058 558h24M346 562h4M558 562h4M638 562h8M762 562h12M818 562h8M906 562h4M1066 562h4M342 566h4M470 566h4M558 566h4M634 566h16M762 566h8M826 566h4M902 566h4M338 570h4M470 570h4M558 570h4M630 570h24M762 570h4M830 570h4M890 570h8M330 574h4M470 574h4M558 574h4M626 574h12M758 574h4M834 574h4M886 574h4M322 578h8M470 578h4M558 578h12M622 578h12M754 578h8M834 578h4M314 582h4M474 582h4M570 582h56M754 582h4M834 582h4M882 582h4M306 586h4M478 586h4M666 586h8M686 586h4M742 586h20M834 586h4M878 586h4M478 590h4M666 590h8M742 590h20M834 590h8M874 590h4M302 594h4M478 594h8M666 594h8M742 594h20M838 594h8M862 594h12M302 598h4M474 598h12M570 598h4M666 598h8M726 598h36M842 598h20M302 602h4M470 602h16M566 602h12M726 602h32M842 602h16M302 606h4M470 606h16M566 606h12M674 606h16M718 606h16M846 606h4M302 610h4M454 610h4M466 610h20M566 610h8M590 610h12M666 610h36M714 610h8M466 614h20M562 614h12M590 614h16M634 614h8M662 614h12M690 614h24M434 618h8M466 618h24M558 618h16M594 618h12M622 618h20M662 618h12M690 618h8M706 618h8M306 622h4M430 622h4M442 622h16M470 622h20M550 622h24M590 622h16M614 622h8M630 622h8M658 622h12M694 622h4M306 626h4M430 626h4M442 626h16M474 626h16M566 626h16M586 626h16M614 626h4M630 626h4M654 626h16M694 626h8M706 626h8M306 630h4M430 630h4M442 630h20M478 630h8M570 630h32M614 630h8M630 630h8M646 630h8M662 630h40M706 630h8M306 634h4M430 634h20M454 634h16M478 634h8M570 634h20M598 634h24M634 634h12M666 634h12M690 634h8M426 638h20M454 638h20M478 638h8M574 638h4M586 638h4M614 638h4M418 642h28M450 642h24M478 642h8M590 642h4M306 646h4M418 646h8M446 646h40M594 646h8M306 650h4M418 650h8M446 650h40M598 650h12M702 650h12M306 654h4M418 654h8M446 654h8M470 654h12M578 654h4M606 654h4M702 654h16M306 658h4M402 658h24M446 658h4M474 658h8M558 658h4M574 658h12M606 658h4M702 658h16M306 662h4M390 662h40M442 662h4M466 662h4M474 662h12M550 662h16M574 662h12M598 662h8M698 662h4M714 662h4M302 666h4M390 666h40M438 666h4M462 666h8M478 666h4M546 666h56M694 666h4M718 666h4M390 670h52M462 670h8M478 670h4M542 670h56M694 670h4M722 670h4M298 674h4M386 674h56M458 674h12M478 674h4M542 674h8M554 674h12M578 674h16M722 674h4M386 678h12M406 678h16M430 678h12M458 678h8M482 678h4M538 678h8M698 678h4M722 678h4M294 682h4M378 682h20M414 682h8M430 682h12M482 682h4M538 682h4M702 682h4M714 682h4M290 686h4M378 686h16M418 686h8M430 686h12M482 686h4M538 686h4M282 690h8M374 690h8M418 690h24M478 690h4M538 690h4M262 694h20M370 694h8M398 694h12M418 694h24M474 694h8M530 694h8M254 698h4M362 698h16M394 698h28M430 698h16M474 698h4M526 698h4M754 698h8M250 702h4M354 702h12M394 702h8M410 702h8M430 702h24M478 702h4M522 702h4M750 702h4M762 702h4M250 706h4M346 706h8M398 706h4M430 706h24M478 706h4M522 706h4M762 706h4M346 710h4M398 710h4M410 710h12M430 710h24M478 710h4M514 710h8M750 710h4M758 710h4M342 714h4M394 714h12M410 714h16M442 714h12M474 714h4M510 714h8M754 714h8M342 718h4M390 718h16M410 718h20M466 718h12M490 718h20M342 722h4M390 722h12M406 722h28M462 722h16M486 722h8M250 726h4M342 726h4M366 726h4M386 726h16M406 726h12M426 726h24M462 726h8M478 726h12M250 730h4M334 730h16M358 730h16M386 730h16M434 730h20M458 730h8M482 730h4M330 734h24M362 734h8M386 734h16M438 734h24M482 734h4M326 738h28M386 738h20M438 738h4M482 738h4M322 742h32M390 742h16M434 742h4M250 746h4M318 746h4M334 746h16M390 746h48M478 746h4M250 750h4M318 750h4M346 750h4M370 750h12M390 750h12M406 750h40M474 750h4M246 754h4M318 754h4M346 754h8M362 754h8M378 754h36M430 754h12M446 754h8M462 754h12M314 758h8M346 758h12M362 758h4M378 758h8M394 758h16M434 758h4M450 758h20M242 762h4M302 762h20M326 762h4M346 762h8M378 762h8M394 762h16M434 762h8M450 762h8M302 766h16M350 766h8M374 766h16M394 766h16M442 766h12M302 770h8M354 770h40M398 770h12M446 770h4M230 774h4M282 774h16M302 774h8M362 774h16M390 774h20M446 774h4M226 778h4M278 778h8M290 778h32M338 778h4M366 778h8M394 778h4M442 778h4M278 782h4M298 782h8M318 782h12M334 782h12M366 782h8M394 782h8M442 782h4M222 786h4M278 786h4M302 786h8M322 786h28M362 786h8M394 786h8M430 786h12M222 790h4M310 790h16M346 790h24M390 790h8M430 790h4M222 794h4M274 794h4M314 794h16M350 794h20M386 794h12M430 794h4M222 798h4M274 798h8M322 798h8M354 798h44M422 798h8M222 802h4M270 802h8M322 802h12M350 802h24M386 802h36M222 806h4M270 806h4M318 806h16M346 806h24M390 806h24M270 810h8M314 810h12M346 810h24M398 810h12M226 814h4M274 814h8M314 814h12M342 814h8M354 814h16M402 814h8M230 818h4M278 818h4M310 818h20M338 818h8M358 818h12M402 818h4M230 822h4M278 822h8M306 822h36M358 822h8M402 822h4M234 826h4M278 826h8M306 826h28M358 826h4M398 826h8M234 830h8M278 830h8M310 830h16M358 830h4M394 830h12M238 834h4M278 834h8M310 834h4M354 834h8M398 834h4M238 838h4M282 838h32M354 838h4M398 838h8M238 842h4M286 842h28M342 842h16M398 842h4M238 846h4M286 846h16M310 846h4M338 846h4M354 846h4M394 846h4M1186 846h8"/>
<path stroke="#ffb300" d="M242 122h8M262 122h48M242 126h8M262 126h36M242 130h52M242 134h20M270 134h24M242 138h28M278 138h16M242 142h28M278 142h16M330 142h4M242 146h12M262 146h8M274 146h28M230 150h16M262 150h20M290 150h12M226 154h16M262 154h16M294 154h8M222 158h24M266 158h8M294 158h8M222 162h36M266 162h8M298 162h4M206 166h4M222 166h24M250 166h12M302 166h4M202 170h44M254 170h12M302 170h12M206 174h20M238 174h12M258 174h16M298 174h16M170 178h12M202 178h28M238 178h12M258 178h56M170 182h80M258 182h32M294 182h16M178 186h12M218 186h28M254 186h8M274 186h24M222 190h20M250 190h8M274 190h24M226 194h16M246 194h12M270 194h24M226 198h4M238 198h16M274 198h20M226 202h4M238 202h8M274 202h20M222 206h16M274 206h12M270 210h12M266 214h12M262 218h16M362 218h4M262 222h20M246 226h8M262 226h4M274 226h8M246 230h16M274 230h8M250 234h12M274 234h4M290 234h4M274 238h4M286 238h16M334 238h8M346 238h12M278 242h20M330 242h32M290 246h4M322 246h28M358 246h12M382 246h8M294 250h8M318 250h32M366 250h32M302 254h44M370 254h28M334 258h12M374 258h28M338 262h8M370 262h32M366 266h24M394 266h8M406 266h12M394 270h8M406 270h32M394 274h8M406 274h36M394 278h8M410 278h12M434 278h16M394 282h8M410 282h8M430 282h4M442 282h8M382 286h24M410 286h8M430 286h4M446 286h4M378 290h28M410 290h8M426 290h4M378 294h4M394 294h12M414 294h16M378 298h4M394 298h16M378 302h8M394 302h16M382 306h8M394 306h8M406 306h8M390 310h20M394 314h12M394 318h4M390 322h4M386 326h8M386 330h8M390 334h8M418 334h4M394 338h8M418 338h8M394 342h8M394 346h8M390 350h12M394 354h12M402 358h8M406 362h4M434 362h12M406 366h4M434 366h12M458 366h4M406 370h4M430 370h8M442 370h24M406 374h20M430 374h8M446 374h4M462 374h16M422 378h20M474 378h4M430 382h16M474 382h4M430 386h8M442 386h8M474 386h4M430 390h4M446 390h8M478 390h4M430 394h4M442 394h12M478 394h4M434 398h16M478 398h4M478 402h4M478 406h8M546 406h16M482 410h24M542 410h24M486 414h8M498 414h8M546 414h20M490 418h16M546 418h20M174 422h12M486 422h16M546 422h12M170 426h8M194 426h16M486 426h8M210 430h12M486 430h12M222 434h8M286 434h28M326 434h8M482 434h20M514 434h4M234 438h8M250 438h4M278 438h4M338 438h8M486 438h40M542 438h16M238 442h8M258 442h20M342 442h8M490 442h20M526 442h32M610 442h12M630 442h8M346 446h4M494 446h8M534 446h20M606 446h20M630 446h12M350 450h4M494 450h4M546 450h16M602 450h40M650 450h12M350 454h4M550 454h8M582 454h8M602 454h44M650 454h16M714 454h8M382 458h12M550 458h8M578 458h16M606 458h60M678 458h8M714 458h8M354 462h4M382 462h12M550 462h8M578 462h20M606 462h56M674 462h12M354 466h4M382 466h16M554 466h8M582 466h16M602 466h56M674 466h8M354 470h4M382 470h8M554 470h4M582 470h40M626 470h20M678 470h4M718 470h4M762 470h8M354 474h4M554 474h4M586 474h28M630 474h16M678 474h4M750 474h24M354 478h4M550 478h8M594 478h24M634 478h4M674 478h12M754 478h8M774 478h4M354 482h4M550 482h12M602 482h24M666 482h4M686 482h4M758 482h4M774 482h4M354 486h4M554 486h8M574 486h4M758 486h4M774 486h4M370 490h4M550 490h8M574 490h12M762 490h8M546 494h12M578 494h20M358 498h4M490 498h8M506 498h4M530 498h24M586 498h8M1146 498h8M1162 498h12M358 502h4M486 502h28M526 502h4M1090 502h4M1142 502h4M1150 502h28M358 506h4M486 506h4M510 506h16M1070 506h8M1090 506h12M1138 506h4M1154 506h12M1178 506h12M482 510h4M514 510h4M1070 510h12M1086 510h44M1138 510h4M1154 510h8M1182 510h12M1222 510h4M354 514h4M482 514h4M590 514h24M1070 514h20M1118 514h20M1154 514h4M1182 514h16M1222 514h12M354 518h4M478 518h4M582 518h8M614 518h4M1082 518h8M1126 518h8M1182 518h8M1194 518h16M1222 518h12M478 522h4M578 522h4M618 522h4M990 522h12M1078 522h12M1210 522h24M478 526h4M570 526h4M622 526h4M982 526h12M1006 526h8M1078 526h8M1210 526h12M474 530h4M566 530h4M626 530h4M966 530h16M1014 530h8M1070 530h16M354 534h4M470 534h4M566 534h4M626 534h8M958 534h4M1018 534h8M1066 534h20M354 538h4M470 538h4M566 538h4M630 538h8M954 538h4M1022 538h8M1082 538h8M566 542h4M634 542h4M950 542h4M1026 542h4M1090 542h4M350 546h4M466 546h4M566 546h4M634 546h4M946 546h8M1030 546h4M1090 546h4M350 550h4M466 550h4M566 550h4M634 550h4M786 550h16M934 550h12M1030 550h4M1090 550h4M350 554h4M466 554h4M566 554h4M634 554h4M782 554h4M806 554h4M930 554h4M1034 554h16M1086 554h8M350 558h4M466 558h4M566 558h4M630 558h8M778 558h4M810 558h4M914 558h16M1050 558h8M1082 558h8M350 562h4M466 562h4M562 562h8M630 562h8M774 562h8M814 562h4M910 562h4M1054 562h12M1070 562h16M346 566h4M466 566h4M562 566h4M626 566h8M770 566h8M818 566h8M906 566h4M1062 566h20M342 570h4M466 570h4M562 570h8M622 570h8M766 570h8M826 570h4M898 570h8M334 574h4M466 574h4M562 574h12M606 574h8M618 574h8M762 574h8M830 574h4M890 574h8M330 578h4M466 578h4M570 578h12M594 578h28M762 578h4M830 578h4M886 578h4M318 582h4M470 582h4M758 582h8M830 582h4M886 582h4M310 586h4M470 586h8M762 586h4M830 586h4M882 586h4M306 590h4M474 590h4M762 590h4M830 590h4M878 590h4M470 594h8M762 594h4M830 594h8M874 594h4M466 598h8M762 598h4M834 598h8M862 598h12M454 602h16M758 602h8M838 602h4M858 602h4M306 606h4M450 606h20M734 606h24M838 606h8M850 606h12M306 610h4M446 610h8M458 610h8M722 610h24M834 610h28M306 614h4M438 614h28M714 614h12M738 614h8M830 614h20M306 618h4M430 618h4M442 618h24M698 618h8M714 618h8M830 618h16M426 622h4M458 622h12M622 622h8M698 622h24M834 622h12M426 626h4M458 626h16M618 626h12M702 626h4M714 626h16M838 626h8M426 630h4M462 630h16M622 630h8M654 630h8M702 630h4M714 630h16M838 630h4M310 634h4M422 634h8M470 634h8M590 634h8M622 634h12M646 634h4M658 634h8M678 634h12M698 634h28M310 638h4M414 638h12M474 638h4M590 638h24M618 638h8M638 638h4M662 638h20M690 638h24M310 642h4M410 642h8M474 642h4M594 642h24M694 642h20M310 646h4M410 646h8M602 646h8M694 646h24M310 650h4M406 650h12M610 650h4M694 650h8M714 650h8M402 654h16M454 654h16M610 654h4M694 654h8M718 654h4M390 658h12M450 658h24M610 658h4M694 658h8M718 658h4M386 662h4M446 662h4M454 662h12M470 662h4M606 662h4M690 662h8M718 662h4M306 666h4M386 666h4M442 666h8M454 666h8M470 666h8M602 666h8M722 666h4M302 670h4M386 670h4M442 670h20M470 670h8M598 670h4M726 670h4M378 674h8M442 674h16M470 674h8M550 674h4M566 674h12M594 674h8M694 674h4M726 674h4M298 678h4M374 678h12M422 678h8M442 678h16M466 678h16M546 678h20M578 678h20M726 678h4M374 682h4M422 682h8M442 682h40M542 682h4M698 682h4M718 682h8M294 686h4M370 686h8M426 686h4M442 686h40M542 686h4M702 686h16M290 690h4M362 690h12M442 690h12M462 690h16M542 690h4M282 694h4M358 694h12M442 694h32M538 694h4M754 694h4M258 698h8M354 698h8M422 698h8M446 698h28M530 698h4M742 698h12M762 698h4M254 702h4M346 702h8M402 702h8M418 702h12M454 702h24M526 702h4M742 702h8M342 706h4M402 706h28M454 706h8M474 706h4M746 706h4M766 706h4M250 710h4M342 710h4M402 710h8M422 710h8M454 710h8M470 710h8M522 710h4M746 710h4M762 710h4M250 714h4M338 714h4M406 714h4M426 714h16M454 714h20M518 714h4M746 714h8M762 714h4M250 718h4M338 718h4M406 718h4M430 718h36M510 718h8M250 722h4M338 722h4M402 722h4M434 722h28M494 722h16M334 726h8M402 726h4M418 726h8M450 726h12M490 726h4M326 730h8M402 730h32M454 730h4M486 730h4M254 734h4M326 734h4M402 734h36M486 734h4M254 738h4M322 738h4M406 738h32M486 738h4M254 742h4M318 742h4M406 742h28M482 742h4M254 746h4M482 746h4M314 750h4M402 750h4M478 750h4M250 754h4M310 754h8M370 754h8M442 754h4M474 754h8M246 758h4M298 758h16M358 758h4M366 758h12M438 758h12M470 758h8M294 762h8M354 762h24M442 762h8M458 762h12M238 766h4M290 766h12M358 766h16M454 766h8M234 770h4M282 770h20M450 770h8M274 774h8M298 774h4M378 774h12M450 774h4M274 778h4M374 778h20M446 778h4M226 782h4M274 782h4M306 782h12M374 782h4M390 782h4M446 782h4M274 786h4M310 786h12M370 786h8M386 786h8M442 786h4M274 790h4M326 790h20M370 790h20M434 790h8M330 794h20M370 794h16M434 794h4M270 798h4M330 798h24M430 798h4M266 802h4M334 802h16M422 802h8M266 806h4M334 806h12M414 806h8M226 810h4M266 810h4M326 810h20M410 810h4M230 814h4M266 814h8M326 814h16M350 814h4M410 814h4M234 818h4M266 818h12M330 818h8M346 818h12M406 818h4M234 822h8M266 822h12M342 822h16M406 822h4M238 826h4M270 826h8M334 826h24M406 826h4M1158 826h4M242 830h4M270 830h8M326 830h32M406 830h4M242 834h8M266 834h12M314 834h16M346 834h8M402 834h4M1142 834h8M1174 834h16M242 838h8M266 838h16M314 838h12M342 838h12M1142 838h4M1174 838h20M242 842h8M278 842h8M314 842h16M338 842h4M402 842h4M1166 842h4M1174 842h28M242 846h8M282 846h4M314 846h24M398 846h8M1162 846h8M1178 846h8M1194 846h8"/>
<path stroke="#ffac00" d="M254 146h8M246 150h16M282 150h8M242 154h20M278 154h16M246 158h20M274 158h8M290 158h4M258 162h8M274 162h4M290 162h8M262 166h16M294 166h8M266 170h12M294 170h8M226 174h12M274 174h24M230 178h8M170 186h8M190 186h28M262 186h12M170 190h24M198 190h24M258 190h16M202 194h24M258 194h12M202 198h24M254 198h20M202 202h24M246 202h28M202 206h20M238 206h36M206 210h28M238 210h32M218 214h12M242 214h8M258 214h8M218 218h12M242 218h8M258 218h4M222 222h4M238 222h24M242 226h4M254 226h8M266 226h8M242 230h4M262 230h12M246 234h4M262 234h12M250 238h24M254 242h24M258 246h32M350 246h8M258 250h8M286 250h8M350 250h16M258 254h4M290 254h12M346 254h8M366 254h4M306 258h28M346 258h8M366 258h8M318 262h20M346 262h8M362 262h8M322 266h32M358 266h8M390 266h4M338 270h16M362 270h32M342 274h8M362 274h12M382 274h12M362 278h8M378 278h16M422 278h12M362 282h8M378 282h16M418 282h12M354 286h16M374 286h8M418 286h12M358 290h20M418 290h8M370 294h8M374 298h4M374 302h4M374 306h8M402 306h4M370 310h8M382 310h8M386 314h8M366 318h4M386 318h8M382 322h8M382 326h4M378 330h8M374 334h16M374 338h20M370 342h24M370 346h24M370 350h20M374 354h20M382 358h20M390 362h4M398 362h8M398 366h8M398 370h8M438 370h4M402 374h4M438 374h8M450 374h12M406 378h16M442 378h32M422 382h8M446 382h28M426 386h4M450 386h8M466 386h8M426 390h4M454 390h24M426 394h4M454 394h24M426 398h8M450 398h28M430 402h48M434 406h44M414 410h12M438 410h44M414 414h8M438 414h48M494 414h4M174 418h12M414 418h4M438 418h52M170 422h4M186 422h24M414 422h4M434 422h52M210 426h16M414 426h4M434 426h16M466 426h20M222 430h8M314 430h16M466 430h20M230 434h16M282 434h4M334 434h12M470 434h12M242 438h8M254 438h8M346 438h8M474 438h12M350 442h4M478 442h12M510 442h16M350 446h8M486 446h8M502 446h8M526 446h8M354 450h4M386 450h8M490 450h4M498 450h8M534 450h12M354 454h4M382 454h16M490 454h12M542 454h8M354 458h4M378 458h4M394 458h4M494 458h4M546 458h4M374 462h8M394 462h8M546 462h4M358 466h4M370 466h12M398 466h4M550 466h4M358 470h4M370 470h12M390 470h12M474 470h8M550 470h4M358 474h4M370 474h32M474 474h8M546 474h8M358 478h40M538 478h12M762 478h12M358 482h20M534 482h16M762 482h4M770 482h4M358 486h24M534 486h20M762 486h12M358 490h12M374 490h8M490 490h4M534 490h16M358 494h28M486 494h24M530 494h16M362 498h4M482 498h8M498 498h8M510 498h4M526 498h4M482 502h4M514 502h12M1146 502h4M482 506h4M1142 506h12M1166 506h12M358 510h4M478 510h4M1142 510h12M1162 510h20M358 514h4M478 514h4M1090 514h28M1138 514h16M1158 514h12M1174 514h8M474 518h4M590 518h12M610 518h4M1090 518h12M1110 518h16M1134 518h4M1146 518h16M1178 518h4M1190 518h4M354 522h4M474 522h4M582 522h8M614 522h4M1090 522h8M1114 522h20M1178 522h32M354 526h4M470 526h8M574 526h8M618 526h4M994 526h12M1086 526h16M1122 526h4M1182 526h28M1222 526h12M354 530h4M390 530h8M470 530h4M570 530h4M618 530h8M982 530h12M1010 530h4M1086 530h16M1202 530h32M390 534h8M618 534h8M962 534h20M1014 534h4M1086 534h16M1210 534h16M390 538h8M622 538h8M958 538h8M1018 538h4M1090 538h12M354 542h4M390 542h12M466 542h4M626 542h8M954 542h8M1022 542h4M1094 542h8M354 546h4M390 546h8M462 546h4M626 546h8M954 546h8M1026 546h4M1094 546h8M354 550h4M390 550h8M462 550h4M626 550h8M946 550h12M1026 550h4M1094 550h8M354 554h4M458 554h8M570 554h4M626 554h8M786 554h20M934 554h12M1030 554h4M1094 554h4M354 558h4M458 558h8M570 558h4M626 558h4M782 558h8M806 558h4M930 558h8M1030 558h20M1090 558h4M354 562h4M462 562h4M570 562h4M622 562h8M782 562h4M810 562h4M914 562h16M1034 562h8M1046 562h8M1086 562h8M350 566h4M462 566h4M566 566h8M618 566h8M778 566h4M814 566h4M910 566h8M1050 566h12M1082 566h12M346 570h8M462 570h4M570 570h8M606 570h16M774 570h8M822 570h4M906 570h4M1054 570h44M338 574h8M462 574h4M574 574h8M598 574h8M614 574h4M770 574h8M826 574h4M898 574h4M1058 574h8M1082 574h8M334 578h4M582 578h12M766 578h8M826 578h4M890 578h8M322 582h8M466 582h4M766 582h8M826 582h4M890 582h4M314 586h4M466 586h4M766 586h8M826 586h4M886 586h4M466 590h8M766 590h8M826 590h4M882 590h4M306 594h4M462 594h8M766 594h8M822 594h8M878 594h8M306 598h4M454 598h12M766 598h4M822 598h12M874 598h8M306 602h4M450 602h4M766 602h4M822 602h16M862 602h20M446 606h4M758 606h20M822 606h16M862 606h20M310 610h4M438 610h8M746 610h16M770 610h8M822 610h12M862 610h20M310 614h4M430 614h8M726 614h12M746 614h8M770 614h8M822 614h8M850 614h20M310 618h4M426 618h4M722 618h28M822 618h8M846 618h16M310 622h4M722 622h28M830 622h4M846 622h4M310 626h4M422 626h4M730 626h12M834 626h4M846 626h4M310 630h4M422 630h4M730 630h4M834 630h4M842 630h8M414 634h8M650 634h8M726 634h8M834 634h12M410 638h4M626 638h12M642 638h4M658 638h4M682 638h8M714 638h12M406 642h4M618 642h12M662 642h16M682 642h12M714 642h8M402 646h8M610 646h12M686 646h8M718 646h4M402 650h4M614 650h4M686 650h8M722 650h4M310 654h4M390 654h12M614 654h4M686 654h8M722 654h4M310 658h4M382 658h8M686 658h8M722 658h4M310 662h4M382 662h4M450 662h4M610 662h4M686 662h4M722 662h4M382 666h4M450 666h4M610 666h4M690 666h4M726 666h4M306 670h4M374 670h12M602 670h8M690 670h4M302 674h4M370 674h8M602 674h4M730 674h4M370 678h4M566 678h12M598 678h4M694 678h4M730 678h4M298 682h4M366 682h8M546 682h20M590 682h8M726 682h8M358 686h12M546 686h4M718 686h8M294 690h4M358 690h4M454 690h8M546 690h4M742 690h12M286 694h4M354 694h4M542 694h4M734 694h20M758 694h4M266 698h20M346 698h8M534 698h8M734 698h8M258 702h4M342 702h4M530 702h4M738 702h4M766 702h4M254 706h4M462 706h12M526 706h4M742 706h4M254 710h4M338 710h4M462 710h8M742 710h4M766 710h4M334 714h4M522 714h4M766 714h4M334 718h4M518 718h4M746 718h20M330 722h8M510 722h4M254 726h4M326 726h8M494 726h12M254 730h4M322 730h4M490 730h8M322 734h4M490 734h4M258 738h4M318 738h4M490 738h4M258 742h4M314 742h4M486 742h4M258 746h4M314 746h4M486 746h4M254 750h4M310 750h4M482 750h4M254 754h4M302 754h8M482 754h4M250 758h4M294 758h4M478 758h4M246 762h4M290 762h4M470 762h4M242 766h4M282 766h8M462 766h8M238 770h4M274 770h8M458 770h4M234 774h4M270 774h4M454 774h4M230 778h4M270 778h4M450 778h4M270 782h4M378 782h12M226 786h4M270 786h4M378 786h8M446 786h4M270 790h4M442 790h4M270 794h4M438 794h4M266 798h4M434 798h4M262 802h4M430 802h8M226 806h4M262 806h4M422 806h8M230 810h4M262 810h4M414 810h8M1158 810h8M234 814h4M262 814h4M1154 814h12M238 818h4M258 818h8M410 818h4M1150 818h16M1230 818h4M242 822h4M254 822h12M410 822h4M1150 822h20M1186 822h12M242 826h28M410 826h4M1146 826h12M1162 826h36M1210 826h16M246 830h24M410 830h4M1138 830h88M250 834h16M330 834h16M406 834h4M1134 834h8M1150 834h24M1190 834h36M250 838h16M326 838h16M406 838h4M1134 838h8M1146 838h28M1194 838h12M1214 838h12M250 842h4M262 842h16M330 842h8M406 842h4M1138 842h28M1170 842h4M1202 842h4M1214 842h12M250 846h4M266 846h16M406 846h4M1142 846h20M1170 846h8M1202 846h4M1214 846h12"/>
<path stroke="#ffa500" d="M282 158h8M278 162h12M278 166h16M278 170h16M194 190h4M174 194h28M186 198h16M198 202h4M198 206h4M194 210h12M234 210h4M190 214h28M230 214h12M250 214h8M194 218h12M210 218h8M230 218h12M250 218h8M198 222h8M210 222h12M226 222h12M202 226h40M198 230h24M238 230h4M198 234h16M238 234h8M242 238h8M246 242h8M246 246h12M242 250h16M266 250h20M242 254h16M262 254h28M354 254h12M254 258h52M354 258h12M266 262h52M354 262h8M294 266h8M314 266h8M354 266h4M318 270h20M354 270h8M322 274h20M350 274h12M374 274h8M338 278h24M370 278h8M342 282h20M370 282h8M346 286h8M370 286h4M346 290h12M350 294h20M362 298h12M366 302h8M366 306h8M366 310h4M378 310h4M362 314h24M358 318h8M370 318h16M354 322h28M354 326h28M370 330h8M370 334h4M366 338h8M362 342h8M362 346h8M366 350h4M366 354h8M370 358h12M370 362h20M394 362h4M386 366h12M394 370h4M394 374h8M394 378h12M394 382h8M410 382h12M422 386h4M458 386h8M422 390h4M402 394h12M418 394h8M402 398h24M406 402h24M410 406h24M410 410h4M426 410h12M190 414h8M410 414h4M422 414h16M170 418h4M186 418h24M410 418h4M418 418h20M210 422h20M390 422h12M410 422h4M418 422h16M226 426h4M318 426h16M390 426h12M410 426h4M418 426h16M450 426h16M230 430h16M286 430h28M330 430h16M390 430h8M410 430h44M462 430h4M246 434h12M278 434h4M346 434h8M390 434h8M414 434h16M438 434h12M466 434h4M262 438h16M354 438h16M394 438h8M442 438h8M466 438h8M354 442h48M470 442h8M358 446h44M474 446h12M510 446h16M358 450h28M394 450h8M482 450h8M506 450h8M530 450h4M358 454h24M398 454h4M486 454h4M502 454h4M534 454h8M358 458h20M398 458h4M474 458h4M486 458h8M498 458h4M542 458h4M358 462h16M402 462h4M470 462h32M362 466h8M402 466h4M470 466h28M546 466h4M362 470h8M402 470h4M470 470h4M482 470h16M542 470h8M362 474h8M402 474h4M470 474h4M482 474h20M534 474h12M398 478h4M470 478h36M530 478h8M378 482h24M470 482h28M530 482h4M766 482h4M382 486h16M470 486h32M530 486h4M382 490h12M470 490h20M494 490h16M530 490h4M386 494h8M474 494h12M510 494h8M526 494h4M366 498h24M474 498h8M514 498h12M362 502h8M378 502h16M474 502h8M362 506h4M382 506h20M474 506h8M362 510h8M378 510h24M474 510h4M362 514h8M378 514h24M474 514h4M1170 514h4M358 518h8M382 518h24M470 518h4M602 518h8M1102 518h8M1138 518h8M1162 518h16M358 522h4M386 522h24M470 522h4M590 522h16M610 522h4M1098 522h16M1134 522h4M1146 522h16M1174 522h4M358 526h4M386 526h24M582 526h8M614 526h4M1102 526h20M1126 526h8M1150 526h4M1178 526h4M358 530h4M386 530h4M398 530h8M466 530h4M574 530h4M614 530h4M994 530h16M1102 530h24M1178 530h24M358 534h4M386 534h4M398 534h8M466 534h4M570 534h4M614 534h4M982 534h12M1010 534h4M1102 534h16M1202 534h8M1226 534h8M358 538h4M386 538h4M398 538h8M466 538h4M570 538h4M614 538h8M966 538h12M1014 538h4M1102 538h12M1206 538h20M358 542h4M386 542h4M402 542h4M570 542h4M618 542h8M962 542h8M1018 542h4M1102 542h8M1118 542h4M358 546h4M386 546h4M398 546h8M570 546h4M622 546h4M962 546h4M1022 546h4M1102 546h8M358 550h4M386 550h4M398 550h12M458 550h4M570 550h4M622 550h4M958 550h8M1022 550h4M1102 550h4M358 554h8M386 554h24M454 554h4M622 554h4M946 554h16M1026 554h4M1098 554h8M358 558h8M386 558h16M454 558h4M574 558h4M618 558h8M790 558h16M938 558h12M1026 558h4M1094 558h8M358 562h8M394 562h4M454 562h8M574 562h4M614 562h8M786 562h4M802 562h8M930 562h12M1026 562h8M1042 562h4M1094 562h8M354 566h12M458 566h4M574 566h8M610 566h8M782 566h8M810 566h4M918 566h12M1034 566h16M1094 566h8M354 570h4M578 570h4M598 570h8M782 570h4M818 570h4M910 570h8M1046 570h8M1098 570h4M346 574h8M582 574h16M778 574h8M822 574h4M902 574h8M1046 574h12M1066 574h16M1090 574h12M338 578h8M462 578h4M774 578h8M898 578h4M1046 578h48M330 582h8M358 582h16M462 582h4M774 582h4M894 582h4M1050 582h24M1082 582h8M318 586h4M358 586h16M462 586h4M774 586h8M822 586h4M890 586h8M1050 586h20M1082 586h4M310 590h4M358 590h16M462 590h4M774 590h8M822 590h4M886 590h12M1058 590h4M310 594h4M358 594h16M454 594h8M774 594h8M886 594h8M310 598h4M362 598h12M450 598h4M770 598h12M818 598h4M882 598h8M310 602h4M446 602h4M770 602h12M814 602h8M882 602h4M310 606h4M442 606h4M778 606h4M814 606h8M882 606h4M314 610h4M434 610h4M762 610h8M778 610h4M814 610h8M882 610h4M314 614h4M426 614h4M754 614h16M778 614h4M814 614h8M870 614h16M314 618h4M422 618h4M750 618h32M814 618h8M862 618h20M314 622h4M422 622h4M750 622h32M814 622h16M850 622h16M870 622h12M314 626h4M418 626h4M742 626h24M814 626h20M850 626h4M314 630h4M414 630h8M734 630h12M826 630h8M850 630h4M314 634h4M410 634h4M734 634h12M826 634h8M846 634h8M314 638h4M406 638h4M646 638h12M726 638h16M830 638h20M314 642h4M402 642h4M630 642h16M658 642h4M678 642h4M722 642h8M738 642h4M842 642h8M314 646h4M398 646h4M622 646h8M666 646h20M722 646h8M314 650h4M394 650h8M618 650h8M682 650h4M726 650h4M314 654h4M382 654h8M618 654h4M682 654h4M726 654h4M314 658h4M378 658h4M614 658h4M682 658h4M726 658h4M378 662h4M614 662h4M682 662h4M726 662h4M310 666h4M370 666h12M686 666h4M730 666h4M370 670h4M610 670h4M730 670h4M306 674h4M606 674h4M690 674h4M734 674h4M302 678h4M366 678h4M602 678h4M734 678h8M358 682h8M566 682h24M598 682h4M694 682h4M734 682h12M298 686h4M354 686h4M550 686h12M698 686h4M726 686h28M298 690h4M350 690h8M702 690h40M754 690h4M290 694h8M346 694h8M546 694h4M722 694h12M762 694h4M286 698h4M342 698h4M726 698h8M766 698h4M262 702h20M338 702h4M534 702h4M730 702h8M770 702h4M258 706h4M338 706h4M530 706h4M738 706h4M770 706h4M258 710h4M334 710h4M526 710h4M738 710h4M770 710h4M254 714h4M330 714h4M526 714h4M742 714h4M254 718h4M326 718h8M522 718h4M742 718h4M766 718h4M254 722h4M322 722h8M514 722h4M742 722h24M318 726h8M506 726h8M258 730h4M318 730h4M498 730h4M258 734h4M314 734h8M494 734h4M310 738h8M494 738h4M262 742h4M306 742h8M490 742h4M262 746h4M306 746h8M490 746h4M258 750h4M302 750h8M486 750h4M258 754h4M294 754h8M254 758h8M286 758h8M482 758h4M250 762h8M278 762h12M474 762h4M246 766h8M266 766h16M470 766h4M242 770h4M266 770h8M462 770h4M238 774h4M266 774h4M458 774h4M234 778h4M266 778h4M454 778h4M230 782h4M266 782h4M450 782h4M450 786h4M226 790h4M446 790h4M226 794h4M266 794h4M442 794h4M226 798h4M262 798h4M438 798h4M226 802h4M230 806h4M430 806h8M1158 806h12M234 810h4M422 810h4M1150 810h8M1166 810h8M1230 810h4M238 814h12M258 814h4M414 814h4M1142 814h12M1166 814h8M1190 814h12M1226 814h8M242 818h16M414 818h4M1142 818h8M1166 818h8M1182 818h24M1218 818h12M246 822h8M414 822h4M1142 822h8M1170 822h16M1198 822h36M414 826h4M1138 826h8M1198 826h12M1226 826h8M1134 830h4M1226 830h8M410 834h4M1226 834h4M410 838h4M1130 838h4M1206 838h8M1226 838h8M254 842h8M1130 842h8M1206 842h8M1226 842h8M254 846h12M410 846h4M1134 846h8M1206 846h8M1226 846h8"/>
<path stroke="#ff9f00" d="M170 194h4M174 198h12M178 202h20M186 206h12M186 210h8M182 214h8M182 218h12M206 218h4M186 222h12M206 222h4M190 226h12M190 230h8M222 230h16M190 234h8M214 234h24M194 238h48M222 242h24M234 246h12M234 250h8M230 254h12M222 258h32M226 262h12M254 262h12M254 266h40M302 266h12M258 270h48M314 270h4M258 274h12M290 274h12M318 274h4M322 278h16M330 282h12M338 286h8M342 290h4M346 294h4M346 298h16M334 302h4M346 302h20M330 306h12M346 306h20M330 310h8M346 310h20M346 314h16M346 318h12M346 322h8M346 326h8M342 330h28M342 334h28M342 338h24M346 342h16M350 346h12M350 350h16M362 354h4M366 358h4M366 362h4M366 366h20M370 370h24M386 374h8M390 378h4M390 382h4M402 382h8M390 386h32M390 390h32M394 394h8M414 394h4M398 398h4M402 402h4M402 406h8M186 410h12M406 410h4M170 414h20M198 414h8M386 414h12M406 414h4M210 418h4M218 418h12M386 418h24M230 422h4M322 422h16M386 422h4M402 422h8M230 426h20M294 426h24M334 426h12M386 426h4M402 426h8M246 430h8M282 430h4M346 430h8M386 430h4M398 430h12M454 430h8M258 434h8M274 434h4M354 434h16M386 434h4M398 434h16M430 434h8M450 434h16M370 438h24M402 438h40M450 438h16M402 442h12M438 442h32M402 446h8M446 446h28M402 450h8M454 450h28M514 450h16M402 454h8M458 454h28M506 454h12M530 454h4M402 458h8M462 458h12M478 458h8M502 458h8M538 458h4M406 462h4M462 462h8M502 462h4M542 462h4M406 466h4M462 466h8M498 466h8M542 466h4M406 470h4M466 470h4M498 470h8M534 470h8M406 474h4M466 474h4M502 474h8M530 474h4M402 478h4M466 478h4M506 478h4M526 478h4M402 482h4M466 482h4M498 482h16M526 482h4M398 486h8M466 486h4M502 486h16M522 486h8M394 490h12M466 490h4M510 490h8M522 490h8M394 494h16M466 494h8M518 494h8M390 498h20M470 498h4M370 502h8M394 502h16M470 502h4M366 506h16M402 506h4M470 506h4M370 510h8M402 510h8M466 510h8M370 514h8M402 514h8M466 514h8M366 518h16M406 518h4M466 518h4M362 522h24M410 522h4M466 522h4M606 522h4M1138 522h8M1162 522h12M362 526h24M410 526h4M466 526h4M590 526h24M1134 526h4M1146 526h4M1154 526h8M1170 526h8M362 530h8M382 530h4M406 530h8M578 530h8M606 530h8M1126 530h8M1146 530h12M1174 530h4M362 534h8M382 534h4M406 534h4M574 534h4M610 534h4M994 534h16M1118 534h12M1146 534h8M1178 534h24M362 538h4M382 538h4M406 538h8M462 538h4M610 538h4M978 538h36M1114 538h16M1198 538h8M1226 538h8M362 542h4M378 542h8M406 542h12M462 542h4M614 542h4M970 542h8M998 542h20M1110 542h8M1122 542h8M1210 542h16M362 546h8M378 546h8M406 546h16M458 546h4M574 546h4M618 546h4M966 546h8M1014 546h8M1110 546h20M1214 546h4M362 550h12M378 550h8M410 550h12M454 550h4M574 550h4M618 550h4M966 550h4M1018 550h4M1106 550h16M366 554h8M378 554h8M410 554h12M574 554h4M614 554h8M962 554h4M1018 554h8M1106 554h8M366 558h8M382 558h4M402 558h20M450 558h4M578 558h4M614 558h4M950 558h12M1018 558h8M1102 558h8M366 562h8M382 562h12M398 562h12M450 562h4M578 562h8M606 562h8M790 562h12M942 562h8M1022 562h4M1102 562h4M366 566h8M386 566h16M454 566h4M582 566h4M590 566h20M790 566h20M930 566h8M1026 566h8M1102 566h4M358 570h20M458 570h4M582 570h16M786 570h8M814 570h4M918 570h8M1034 570h12M1102 570h4M354 574h24M458 574h4M786 574h8M818 574h4M910 574h8M1038 574h8M1102 574h4M346 578h32M458 578h4M782 578h8M822 578h4M902 578h8M1038 578h8M1094 578h8M338 582h20M374 582h4M458 582h4M778 582h12M822 582h4M898 582h8M1026 582h24M1074 582h8M1090 582h4M322 586h24M350 586h8M374 586h4M454 586h8M782 586h4M898 586h8M1022 586h28M1070 586h12M1086 586h4M314 590h4M350 590h8M374 590h4M450 590h12M782 590h8M818 590h4M898 590h8M1022 590h36M1062 590h24M354 594h4M374 594h4M450 594h4M782 594h8M818 594h4M894 594h12M1034 594h8M350 598h12M374 598h8M446 598h4M782 598h8M814 598h4M890 598h12M314 602h4M350 602h32M438 602h8M782 602h4M810 602h4M886 602h16M314 606h4M350 606h32M430 606h12M782 606h4M806 606h8M886 606h8M318 610h4M350 610h12M370 610h12M426 610h8M782 610h4M802 610h12M886 610h8M318 614h8M374 614h8M422 614h4M782 614h4M798 614h16M886 614h4M318 618h8M418 618h4M782 618h4M798 618h16M882 618h8M318 622h8M418 622h4M782 622h4M798 622h16M866 622h4M882 622h8M318 626h4M414 626h4M766 626h16M802 626h12M854 626h32M318 630h4M410 630h4M746 630h32M806 630h20M854 630h8M870 630h12M318 634h4M402 634h8M746 634h16M810 634h16M854 634h4M318 638h4M402 638h4M742 638h8M822 638h8M850 638h8M398 642h4M646 642h12M730 642h8M742 642h8M830 642h12M850 642h8M390 646h8M630 646h16M662 646h4M730 646h16M838 646h16M378 650h16M626 650h4M666 650h16M730 650h12M846 650h4M374 654h8M622 654h4M674 654h8M730 654h4M370 658h8M618 658h4M678 658h4M730 658h4M314 662h4M370 662h8M618 662h4M730 662h4M314 666h4M366 666h4M614 666h4M310 670h4M366 670h4M614 670h4M686 670h4M734 670h4M366 674h4M610 674h8M738 674h4M306 678h4M358 678h8M606 678h8M690 678h4M742 678h8M302 682h4M354 682h4M602 682h4M690 682h4M746 682h8M302 686h4M350 686h4M562 686h8M586 686h12M694 686h4M754 686h4M302 690h4M346 690h4M550 690h4M698 690h4M758 690h4M298 694h4M342 694h4M706 694h16M290 698h4M338 698h4M542 698h4M718 698h8M894 698h4M914 698h4M282 702h4M334 702h4M538 702h4M722 702h8M910 702h12M262 706h8M334 706h4M534 706h4M726 706h12M774 706h4M906 706h8M262 710h4M330 710h4M530 710h4M734 710h4M906 710h4M258 714h8M326 714h4M738 714h4M770 714h4M258 718h4M322 718h4M526 718h4M738 718h4M258 722h4M318 722h4M518 722h4M738 722h4M766 722h4M258 726h4M314 726h4M514 726h4M738 726h24M314 730h4M502 730h8M262 734h4M310 734h4M498 734h4M262 738h4M302 738h8M302 742h4M494 742h4M298 746h8M494 746h4M262 750h8M294 750h8M490 750h4M262 754h32M486 754h4M262 758h24M486 758h4M258 762h20M478 762h8M254 766h12M474 766h4M246 770h20M466 770h8M242 774h4M258 774h8M462 774h4M262 778h4M458 778h4M234 782h4M454 782h4M230 786h4M266 786h4M230 790h4M266 790h4M450 790h4M262 794h4M446 794h4M258 798h4M442 798h4M230 802h4M258 802h4M438 802h4M1162 802h12M234 806h4M258 806h4M438 806h4M1150 806h8M1170 806h8M1226 806h8M238 810h24M426 810h12M1138 810h12M1174 810h8M1186 810h20M1222 810h8M250 814h8M418 814h8M1134 814h8M1174 814h16M1202 814h24M1134 818h8M1174 818h8M1206 818h12M1134 822h8M418 826h4M1130 826h8M414 830h4M1078 830h4M1130 830h4M414 834h4M1078 834h4M1130 834h4M1230 834h4M1126 838h4M410 842h4M1126 842h4M1110 846h24"/>
<path stroke="#ff9700" d="M170 198h4M170 202h8M170 206h16M170 210h16M170 214h12M170 218h12M170 222h16M170 226h20M174 230h16M178 234h12M182 238h12M182 242h40M214 246h20M214 250h20M214 254h16M210 258h12M214 262h12M238 262h16M222 266h20M250 266h4M222 270h16M250 270h8M306 270h8M222 274h16M250 274h8M270 274h20M302 274h16M222 278h12M250 278h52M314 278h8M250 282h12M278 282h16M314 282h16M254 286h4M318 286h20M318 290h4M326 290h16M330 294h16M330 298h16M298 302h4M330 302h4M338 302h8M342 306h4M326 310h4M338 310h8M326 314h20M322 318h24M322 322h12M342 322h4M322 326h8M338 326h8M334 330h8M334 334h8M334 338h8M338 342h8M346 346h4M346 350h4M346 354h16M350 358h16M354 362h12M354 366h12M358 370h12M366 374h20M370 378h20M382 382h8M382 386h8M382 390h8M386 394h8M182 398h8M386 398h12M170 402h24M390 402h12M170 406h32M386 406h16M170 410h16M198 410h8M386 410h20M206 414h8M218 414h16M382 414h4M398 414h8M214 418h4M230 418h24M322 418h20M370 418h16M234 422h20M306 422h16M338 422h8M366 422h20M250 426h8M286 426h8M346 426h8M358 426h16M382 426h4M254 430h28M354 430h20M382 430h4M266 434h8M370 434h16M414 442h24M410 446h36M410 450h4M446 450h8M410 454h4M454 454h4M518 454h12M410 458h4M454 458h8M510 458h12M530 458h8M410 462h4M454 462h8M506 462h8M534 462h8M410 466h4M458 466h4M506 466h4M534 466h8M458 470h8M506 470h8M530 470h4M458 474h8M510 474h4M522 474h8M406 478h4M462 478h4M510 478h16M406 482h4M462 482h4M514 482h12M406 486h4M462 486h4M518 486h4M406 490h4M462 490h4M518 490h4M410 494h4M462 494h4M410 498h4M466 498h4M410 502h4M466 502h4M406 506h8M462 506h8M410 510h4M462 510h4M410 514h4M458 514h8M410 518h8M462 518h4M414 522h8M462 522h4M414 526h8M462 526h4M1138 526h8M1162 526h8M370 530h12M414 530h8M462 530h4M586 530h20M1134 530h12M1158 530h8M1170 530h4M370 534h12M410 534h8M462 534h4M578 534h4M606 534h4M1130 534h16M1154 534h8M1174 534h4M366 538h16M414 538h8M574 538h4M1130 538h28M1178 538h20M366 542h12M418 542h8M458 542h4M574 542h4M610 542h4M978 542h4M986 542h12M1130 542h20M1202 542h8M1226 542h8M370 546h8M422 546h4M450 546h8M614 546h4M974 546h4M994 546h20M1130 546h12M1206 546h8M1218 546h8M374 550h4M422 550h4M446 550h8M578 550h4M614 550h4M970 550h4M1010 550h8M1122 550h20M1210 550h8M374 554h4M422 554h4M446 554h8M578 554h8M610 554h4M966 554h4M1010 554h8M1114 554h24M374 558h8M422 558h4M582 558h16M606 558h8M962 558h4M1010 558h8M1110 558h24M374 562h8M410 562h16M586 562h20M950 562h12M1014 562h8M1106 562h12M374 566h12M402 566h12M450 566h4M586 566h4M938 566h8M1018 566h8M1106 566h20M378 570h28M454 570h4M794 570h20M926 570h8M1018 570h16M1106 570h20M378 574h28M454 574h4M794 574h4M814 574h4M918 574h8M1018 574h20M1106 574h4M1118 574h8M378 578h8M454 578h4M790 578h4M818 578h4M910 578h4M1014 578h24M1102 578h8M378 582h4M454 582h4M790 582h4M818 582h4M906 582h4M1010 582h16M1094 582h8M346 586h4M378 586h4M446 586h8M786 586h4M818 586h4M906 586h4M1006 586h16M1090 586h4M318 590h8M334 590h16M378 590h4M446 590h4M906 590h4M1006 590h16M1086 590h8M314 594h8M338 594h16M378 594h8M438 594h12M790 594h4M814 594h4M906 594h4M1006 594h28M1042 594h36M314 598h8M338 598h12M382 598h4M434 598h12M790 598h4M806 598h8M902 598h8M1010 598h4M1038 598h4M318 602h4M330 602h20M382 602h8M430 602h8M786 602h24M902 602h8M318 606h32M382 606h4M426 606h4M786 606h20M894 606h16M322 610h28M362 610h8M382 610h4M422 610h4M786 610h16M894 610h16M326 614h48M382 614h4M418 614h4M786 614h12M890 614h24M326 618h24M366 618h20M414 618h4M786 618h12M890 618h4M906 618h8M326 622h16M374 622h4M414 622h4M786 622h4M794 622h4M890 622h4M910 622h4M322 626h16M398 626h16M782 626h4M794 626h8M886 626h8M322 630h8M398 630h12M778 630h4M798 630h8M862 630h8M882 630h12M322 634h4M398 634h4M762 634h16M802 634h8M858 634h28M322 638h4M390 638h12M750 638h12M810 638h12M858 638h20M318 642h4M386 642h12M750 642h4M818 642h12M858 642h4M318 646h4M370 646h20M646 646h16M746 646h4M834 646h4M854 646h4M318 650h4M366 650h12M630 650h8M646 650h4M662 650h4M742 650h8M838 650h8M850 650h4M318 654h4M366 654h8M626 654h8M670 654h4M734 654h12M842 654h12M318 658h4M366 658h4M622 658h12M674 658h4M734 658h4M318 662h4M366 662h4M622 662h8M678 662h4M734 662h4M362 666h4M618 666h8M682 666h4M734 666h4M314 670h4M362 670h4M618 670h4M738 670h4M310 674h4M354 674h12M618 674h4M686 674h4M742 674h8M310 678h4M350 678h8M614 678h4M686 678h4M750 678h4M306 682h4M350 682h4M606 682h8M754 682h4M306 686h4M346 686h4M570 686h16M598 686h4M758 686h4M306 690h4M342 690h4M554 690h12M694 690h4M762 690h4M902 690h4M302 694h8M334 694h8M550 694h4M702 694h4M766 694h4M890 694h32M294 698h12M334 698h4M546 698h4M710 698h8M770 698h4M890 698h4M898 698h16M918 698h8M286 702h8M330 702h4M542 702h4M718 702h4M774 702h4M890 702h20M922 702h4M270 706h16M326 706h8M722 706h4M886 706h20M914 706h16M266 710h8M322 710h8M534 710h4M726 710h8M774 710h4M886 710h20M910 710h24M266 714h4M318 714h8M530 714h4M730 714h8M774 714h4M902 714h16M922 714h12M262 718h4M310 718h12M530 718h4M734 718h4M770 718h4M906 718h8M262 722h4M310 722h8M522 722h4M734 722h4M262 726h4M310 726h4M518 726h4M734 726h4M762 726h4M262 730h4M310 730h4M510 730h4M734 730h32M266 734h4M302 734h8M502 734h8M266 738h4M298 738h4M498 738h4M266 742h4M294 742h8M498 742h4M266 746h4M290 746h8M1194 746h8M270 750h24M494 750h4M1190 750h12M490 754h4M1130 754h16M1194 754h8M490 758h4M1130 758h16M1202 758h4M486 762h4M1130 762h12M1198 762h24M478 766h4M1194 766h28M474 770h4M1094 770h4M1194 770h16M246 774h12M466 774h4M238 778h8M254 778h8M462 778h4M258 782h8M458 782h4M234 786h4M262 786h4M454 786h4M262 790h4M454 790h4M230 794h4M258 794h4M450 794h8M230 798h4M254 798h4M446 798h4M1166 798h8M234 802h4M254 802h4M442 802h4M990 802h4M1154 802h8M1174 802h8M1202 802h32M238 806h20M990 806h8M1138 806h12M1178 806h48M438 810h4M1130 810h8M1182 810h4M1206 810h16M426 814h8M1122 814h12M418 818h4M1122 818h12M418 822h4M1002 822h4M1118 822h16M1002 826h12M1074 826h20M1118 826h12M418 830h4M1002 830h12M1070 830h8M1082 830h12M1102 830h16M1126 830h4M1002 834h8M1070 834h8M1082 834h8M1102 834h16M1126 834h4M414 838h4M998 838h12M1026 838h4M1070 838h20M1110 838h16M414 842h4M998 842h8M1022 842h12M1066 842h16M1102 842h24M414 846h4M998 846h8M1014 846h16M1062 846h20M1102 846h8"/>
<path stroke="#ff9000" d="M170 230h4M174 234h4M174 238h8M170 242h12M170 246h44M170 250h20M206 250h8M170 254h8M206 254h8M170 258h8M206 258h4M182 262h12M210 262h4M182 266h12M214 266h8M242 266h8M186 270h4M218 270h4M238 270h12M218 274h4M238 274h12M170 278h4M218 278h4M234 278h16M302 278h12M170 282h8M218 282h20M246 282h4M262 282h16M294 282h8M310 282h4M170 286h8M226 286h8M246 286h8M258 286h40M310 286h8M170 290h4M250 290h12M274 290h24M306 290h12M322 290h4M274 294h8M290 294h40M274 298h8M290 298h40M274 302h4M290 302h8M302 302h8M326 302h4M294 306h12M326 306h4M298 310h4M322 314h4M298 318h8M318 318h4M290 322h16M314 322h8M334 322h8M290 326h16M314 326h8M330 326h8M314 330h20M314 334h20M330 338h4M334 342h4M334 346h12M342 350h4M342 354h4M342 358h8M346 362h8M346 366h8M350 370h8M354 374h12M362 378h8M170 382h4M366 382h16M170 386h8M374 386h8M170 390h16M378 390h4M170 394h28M378 394h8M170 398h12M190 398h8M378 398h8M194 402h12M382 402h8M202 406h12M222 406h8M382 406h4M206 410h36M378 410h8M214 414h4M234 414h24M322 414h24M362 414h20M254 418h8M302 418h20M342 418h8M358 418h12M254 422h12M286 422h20M346 422h20M258 426h28M354 426h4M374 426h8M374 430h8M414 450h32M414 454h16M446 454h8M414 458h8M450 458h4M522 458h8M414 462h4M450 462h4M514 462h20M414 466h4M454 466h4M510 466h24M410 470h4M454 470h4M514 470h16M410 474h4M454 474h4M514 474h8M410 478h4M454 478h8M410 482h4M458 482h4M410 486h4M458 486h4M410 490h4M458 490h4M414 494h4M458 494h4M414 498h4M458 498h8M414 502h4M462 502h4M414 506h4M458 506h4M414 510h4M458 510h4M414 514h4M454 514h4M418 518h8M454 518h8M422 522h8M458 522h4M422 526h12M458 526h4M422 530h16M458 530h4M1166 530h4M418 534h20M458 534h4M582 534h24M1162 534h12M422 538h20M458 538h4M578 538h4M602 538h8M1158 538h8M1170 538h8M426 542h32M578 542h4M606 542h4M982 542h4M1150 542h8M1170 542h32M426 546h24M578 546h4M610 546h4M978 546h16M1142 546h8M1170 546h20M1198 546h8M1226 546h8M426 550h20M582 550h4M610 550h4M974 550h36M1142 550h4M1182 550h8M1202 550h8M1218 550h16M426 554h4M442 554h4M586 554h12M606 554h4M970 554h8M998 554h12M1138 554h8M1182 554h8M1198 554h24M426 558h4M442 558h8M598 558h8M966 558h4M1006 558h4M1134 558h8M1198 558h16M426 562h4M442 562h8M962 562h4M1006 562h8M1118 562h16M414 566h16M442 566h8M946 566h16M1010 566h8M1126 566h8M406 570h12M446 570h8M934 570h12M1014 570h4M1126 570h4M406 574h8M450 574h4M798 574h4M810 574h4M926 574h4M1010 574h8M1110 574h8M1126 574h4M386 578h24M450 578h4M794 578h4M814 578h4M914 578h8M1010 578h4M1110 578h20M382 582h20M446 582h8M910 582h4M1006 582h4M1102 582h8M1118 582h12M382 586h8M438 586h8M790 586h4M910 586h4M1002 586h4M1094 586h4M326 590h8M382 590h12M430 590h16M790 590h4M814 590h4M910 590h4M1002 590h4M1094 590h4M322 594h16M386 594h12M426 594h12M794 594h4M810 594h4M910 594h4M1002 594h4M1078 594h16M322 598h16M386 598h12M426 598h8M794 598h12M910 598h4M1002 598h8M1014 598h24M1042 598h32M322 602h8M390 602h4M422 602h8M910 602h4M1006 602h8M1034 602h4M386 606h8M418 606h8M910 606h8M386 610h8M414 610h8M910 610h8M386 614h8M410 614h8M914 614h4M350 618h16M386 618h12M410 618h4M894 618h12M914 618h8M342 622h32M378 622h36M790 622h4M894 622h16M914 622h16M338 626h40M390 626h8M786 626h8M894 626h40M330 630h16M358 630h12M390 630h8M782 630h4M794 630h4M894 630h8M910 630h28M326 634h16M358 634h12M390 634h8M778 634h4M798 634h4M886 634h12M918 634h20M326 638h20M362 638h8M382 638h8M762 638h12M802 638h8M878 638h8M926 638h12M322 642h24M362 642h24M754 642h8M810 642h8M862 642h16M322 646h20M358 646h12M750 646h8M818 646h16M858 646h4M322 650h4M354 650h12M638 650h8M650 650h12M750 650h8M834 650h4M854 650h4M322 654h4M354 654h12M634 654h4M666 654h4M746 654h8M838 654h4M854 654h4M322 658h4M362 658h4M670 658h4M738 658h8M842 658h12M322 662h4M362 662h4M630 662h4M674 662h4M738 662h4M846 662h8M318 666h4M358 666h4M626 666h8M678 666h4M738 666h4M846 666h8M318 670h4M354 670h8M622 670h4M682 670h4M742 670h8M850 670h4M314 674h4M338 674h16M750 674h8M850 674h4M314 678h4M338 678h12M618 678h4M754 678h4M310 682h4M338 682h12M614 682h8M686 682h4M758 682h4M310 686h4M338 686h8M602 686h8M690 686h4M902 686h8M310 690h4M334 690h8M566 690h8M586 690h16M886 690h16M906 690h16M310 694h4M330 694h4M554 694h4M698 694h4M886 694h4M922 694h4M306 698h8M330 698h4M550 698h4M706 698h4M774 698h4M882 698h8M926 698h12M294 702h16M326 702h4M546 702h4M714 702h4M882 702h8M926 702h16M286 706h40M538 706h4M718 706h4M778 706h4M882 706h4M930 706h12M274 710h20M306 710h16M538 710h4M722 710h4M778 710h4M878 710h8M934 710h12M270 714h4M306 714h12M534 714h4M722 714h8M878 714h24M918 714h4M934 714h12M266 718h4M306 718h4M534 718h4M722 718h12M774 718h4M882 718h24M914 718h32M266 722h4M306 722h4M526 722h12M730 722h4M770 722h4M902 722h24M266 726h4M306 726h4M522 726h4M726 726h8M766 726h4M266 730h4M302 730h8M514 730h4M726 730h8M766 730h4M854 730h8M1226 730h8M294 734h8M510 734h4M734 734h32M850 734h12M1226 734h8M290 738h8M502 738h4M754 738h8M1230 738h4M270 742h4M286 742h8M1106 742h8M1146 742h8M1194 742h8M1214 742h8M1230 742h4M270 746h20M498 746h4M1106 746h12M1126 746h36M1190 746h4M1202 746h20M498 750h4M1102 750h16M1122 750h44M1186 750h4M1202 750h32M494 754h4M1098 754h16M1122 754h8M1146 754h20M1182 754h12M1202 754h32M494 758h4M1098 758h8M1126 758h4M1146 758h16M1178 758h24M1206 758h24M490 762h4M1094 762h12M1122 762h8M1142 762h16M1182 762h16M1222 762h8M482 766h8M738 766h20M1090 766h16M1114 766h40M1182 766h12M1222 766h12M478 770h4M738 770h20M950 770h4M1090 770h4M1098 770h8M1110 770h44M1182 770h12M1210 770h24M470 774h4M738 774h20M954 774h8M974 774h16M1086 774h28M1146 774h12M1186 774h40M246 778h8M466 778h4M750 778h4M954 778h16M974 778h20M1090 778h8M1186 778h36M238 782h20M462 782h8M954 782h20M978 782h24M1186 782h8M1202 782h16M238 786h4M254 786h8M458 786h8M958 786h16M978 786h28M1182 786h8M1206 786h8M234 790h8M254 790h8M458 790h4M958 790h16M978 790h28M234 794h8M250 794h8M458 794h4M962 794h8M982 794h20M1166 794h16M1210 794h4M234 798h8M250 798h4M450 798h8M986 798h12M1154 798h12M1174 798h60M238 802h16M446 802h4M982 802h8M994 802h8M1090 802h12M1138 802h16M1182 802h20M442 806h4M982 806h8M998 806h4M1090 806h12M1118 806h20M982 810h20M1086 810h44M434 814h4M990 814h12M1086 814h36M422 818h8M994 818h16M1082 818h40M422 822h4M982 822h20M1006 822h12M1066 822h52M422 826h4M982 826h20M1014 826h4M1066 826h8M1094 826h24M422 830h4M986 830h16M1014 830h4M1042 830h8M1066 830h4M1094 830h8M1118 830h8M418 834h4M990 834h12M1010 834h8M1022 834h32M1066 834h4M1090 834h12M1118 834h8M994 838h4M1010 838h16M1030 838h40M1090 838h20M994 842h4M1006 842h16M1034 842h32M1082 842h20M994 846h4M1006 846h8M1030 846h32M1082 846h4M1094 846h8"/>
<path stroke="#ff8a00" d="M170 234h4M170 238h4M190 250h16M178 254h20M202 254h4M178 258h28M170 262h12M194 262h16M170 266h12M194 266h4M206 266h8M178 270h8M190 270h8M210 270h8M170 274h8M182 274h8M210 274h8M174 278h4M206 278h12M206 282h12M238 282h8M302 282h8M210 286h16M234 286h12M298 286h12M174 290h4M214 290h36M262 290h12M298 290h8M170 294h4M226 294h48M282 294h8M230 298h44M282 298h8M234 302h8M262 302h12M278 302h12M310 302h16M266 306h28M306 306h8M322 306h4M182 310h12M270 310h28M302 310h8M322 310h4M182 314h12M266 314h44M318 314h4M262 318h36M306 318h12M258 322h32M306 322h8M262 326h12M282 326h8M306 326h8M286 330h28M286 334h28M286 338h8M302 338h28M306 342h28M282 346h4M310 346h24M278 350h12M310 350h32M278 354h12M310 354h32M274 358h16M330 358h12M278 362h4M334 362h12M334 366h12M346 370h4M350 374h4M170 378h8M354 378h8M174 382h8M358 382h8M178 386h12M206 386h8M358 386h16M186 390h32M358 390h20M198 394h20M362 394h16M198 398h24M370 398h8M206 402h24M338 402h8M374 402h8M214 406h8M230 406h12M334 406h16M358 406h24M242 410h20M322 410h56M258 414h8M302 414h20M346 414h16M262 418h8M286 418h16M350 418h8M266 422h12M282 422h4M430 454h16M422 458h8M446 458h4M418 462h8M446 462h4M418 466h4M450 466h4M414 470h8M450 470h4M414 474h4M450 474h4M414 478h4M414 482h4M454 482h4M414 486h4M454 486h4M414 490h4M454 490h4M454 494h4M454 498h4M458 502h4M418 506h4M418 510h4M454 510h4M418 514h8M426 518h4M450 518h4M430 522h4M450 522h8M434 526h24M438 530h8M454 530h4M438 534h8M454 534h4M442 538h16M582 538h8M594 538h8M1166 538h4M582 542h4M602 542h4M1158 542h12M582 546h8M606 546h4M1150 546h20M1190 546h8M586 550h12M602 550h8M1146 550h8M1162 550h20M1190 550h12M430 554h12M598 554h8M978 554h20M1146 554h8M1162 554h20M1190 554h8M1222 554h12M430 558h12M970 558h24M998 558h8M1142 558h8M1162 558h8M1178 558h20M1214 558h12M430 562h12M966 562h4M978 562h12M1002 562h4M1134 562h8M1194 562h16M430 566h12M962 566h4M978 566h12M1006 566h4M1134 566h4M418 570h28M946 570h16M982 570h4M1010 570h4M1130 570h8M414 574h8M442 574h8M802 574h8M930 574h28M1006 574h4M1130 574h8M410 578h8M442 578h8M798 578h4M810 578h4M922 578h8M1002 578h8M1130 578h8M402 582h16M430 582h16M794 582h4M814 582h4M914 582h8M998 582h8M1110 582h8M1130 582h4M390 586h28M426 586h12M794 586h4M814 586h4M914 586h8M994 586h8M1098 586h32M394 590h36M794 590h4M810 590h4M914 590h8M994 590h8M1098 590h4M398 594h28M798 594h12M914 594h4M994 594h8M1094 594h8M398 598h28M914 598h4M998 598h4M1074 598h20M394 602h8M406 602h16M914 602h4M1002 602h4M1014 602h20M1038 602h40M394 606h8M410 606h8M918 606h4M1002 606h12M1030 606h20M1066 606h8M394 610h4M410 610h4M918 610h4M950 610h12M394 614h4M406 614h4M918 614h16M950 614h12M1038 614h8M398 618h12M922 618h16M950 618h20M930 622h8M950 622h12M378 626h12M934 626h4M346 630h12M370 630h20M786 630h8M902 630h8M938 630h4M342 634h16M370 634h20M782 634h4M790 634h8M898 634h20M938 634h4M346 638h4M354 638h8M370 638h12M774 638h4M798 638h4M886 638h12M910 638h16M938 638h4M346 642h4M354 642h8M762 642h8M802 642h8M878 642h4M930 642h8M342 646h16M758 646h4M810 646h8M862 646h16M326 650h28M758 650h4M818 650h16M858 650h8M326 654h28M638 654h16M662 654h4M754 654h8M834 654h4M858 654h4M326 658h36M634 658h4M666 658h4M746 658h16M838 658h4M854 658h8M326 662h4M338 662h24M634 662h4M670 662h4M742 662h20M842 662h4M854 662h4M902 662h4M322 666h8M338 666h20M634 666h4M674 666h4M742 666h20M842 666h4M854 666h4M322 670h4M334 670h20M626 670h8M678 670h4M750 670h12M842 670h8M854 670h8M318 674h4M334 674h4M622 674h4M682 674h4M758 674h4M846 674h4M854 674h8M318 678h4M334 678h4M622 678h4M682 678h4M758 678h4M846 678h20M902 678h4M314 682h8M330 682h8M622 682h4M850 682h16M882 682h4M898 682h16M314 686h8M330 686h8M610 686h16M686 686h4M762 686h4M858 686h8M878 686h24M910 686h16M314 690h4M326 690h8M574 690h12M602 690h8M618 690h8M690 690h4M766 690h4M878 690h8M922 690h16M314 694h4M326 694h4M558 694h12M590 694h16M694 694h4M770 694h4M874 694h12M926 694h20M314 698h16M702 698h4M866 698h16M938 698h8M310 702h16M550 702h4M710 702h4M778 702h4M866 702h16M942 702h4M542 706h4M714 706h4M830 706h8M862 706h20M942 706h4M294 710h12M718 710h4M782 710h4M826 710h12M862 710h16M946 710h4M274 714h32M538 714h4M718 714h4M778 714h8M826 714h16M854 714h24M946 714h12M270 718h8M290 718h16M538 718h4M718 718h4M778 718h4M846 718h36M946 718h12M270 722h4M294 722h12M538 722h4M718 722h12M774 722h4M842 722h60M926 722h32M1226 722h8M270 726h4M294 726h12M526 726h16M718 726h8M770 726h4M842 726h44M890 726h68M1222 726h12M270 730h4M290 730h12M518 730h4M718 730h8M842 730h12M862 730h64M938 730h16M1218 730h8M270 734h4M286 734h8M514 734h4M722 734h12M766 734h4M846 734h4M862 734h24M890 734h16M910 734h8M938 734h20M1070 734h12M1218 734h8M270 738h4M286 738h4M506 738h12M730 738h24M762 738h4M846 738h32M938 738h20M1066 738h48M1126 738h12M1146 738h4M1210 738h20M274 742h12M502 742h8M734 742h32M850 742h8M942 742h20M970 742h8M1018 742h8M1066 742h40M1114 742h32M1154 742h8M1182 742h12M1202 742h12M1222 742h8M502 746h4M734 746h24M946 746h8M962 746h20M1018 746h12M1046 746h8M1062 746h44M1118 746h8M1162 746h28M1222 746h12M734 750h8M966 750h20M1018 750h12M1046 750h4M1058 750h20M1086 750h16M1118 750h4M1166 750h20M498 754h4M966 754h20M1018 754h12M1058 754h16M1090 754h8M1114 754h8M1166 754h16M498 758h4M734 758h8M966 758h16M1058 758h8M1090 758h8M1106 758h20M1162 758h16M1230 758h4M494 762h4M734 762h24M962 762h20M1090 762h4M1106 762h16M1158 762h12M1174 762h8M1230 762h4M490 766h4M730 766h8M758 766h4M942 766h52M1086 766h4M1106 766h8M1154 766h28M482 770h8M730 770h8M758 770h4M942 770h8M954 770h44M1082 770h8M1106 770h4M1154 770h28M474 774h4M734 774h4M758 774h4M946 774h8M962 774h12M990 774h12M1078 774h8M1114 774h32M1158 774h28M1226 774h8M470 778h4M734 778h16M754 778h4M950 778h4M970 778h4M994 778h16M1074 778h16M1098 778h24M1130 778h56M1222 778h12M470 782h4M734 782h24M950 782h4M974 782h4M1002 782h12M1078 782h44M1130 782h56M1194 782h8M1218 782h8M242 786h12M466 786h4M730 786h24M954 786h4M974 786h4M1006 786h8M1078 786h44M1130 786h20M1166 786h16M1190 786h16M1214 786h12M242 790h12M462 790h8M730 790h20M954 790h4M974 790h4M1006 790h8M1082 790h24M1114 790h8M1134 790h12M1166 790h64M242 794h8M462 794h4M954 794h8M970 794h12M1002 794h12M1086 794h16M1118 794h4M1138 794h28M1182 794h28M1214 794h20M242 798h8M458 798h4M958 798h28M998 798h8M1086 798h20M1114 798h12M1134 798h20M450 802h8M966 802h16M1002 802h4M1082 802h8M1102 802h4M1114 802h24M974 806h8M1002 806h4M1082 806h8M1102 806h16M442 810h4M974 810h8M1002 810h4M1082 810h4M438 814h4M974 814h16M1002 814h16M1078 814h8M430 818h8M974 818h20M1010 818h12M1058 818h24M426 822h4M974 822h8M1018 822h4M1058 822h8M426 826h4M978 826h4M1018 826h48M978 830h8M1018 830h24M1050 830h16M422 834h4M982 834h8M1018 834h4M1054 834h12M418 838h4M986 838h8M418 842h4M986 842h8M418 846h4M974 846h20M1086 846h8"/>
<path stroke="#ff8200" d="M198 254h4M198 266h8M170 270h8M198 270h12M178 274h4M190 274h20M178 278h28M178 282h28M178 286h32M178 290h8M190 290h24M174 294h8M194 294h32M170 298h4M194 298h8M226 298h4M230 302h4M242 302h20M182 306h16M234 306h32M314 306h8M194 310h8M254 310h16M310 310h12M178 314h4M194 314h8M254 314h12M310 314h8M182 318h12M250 318h12M182 322h8M250 322h8M250 326h12M274 326h8M262 330h24M266 334h20M274 338h12M294 338h8M274 342h32M274 346h8M286 346h24M258 350h8M274 350h4M290 350h20M258 354h4M270 354h8M290 354h20M270 358h4M290 358h40M270 362h8M282 362h52M258 366h28M294 366h40M262 370h4M274 370h12M302 370h12M326 370h20M170 374h8M274 374h12M330 374h20M178 378h8M278 378h12M350 378h4M182 382h32M278 382h16M354 382h4M190 386h16M214 386h8M266 386h8M282 386h12M354 386h4M218 390h4M266 390h8M282 390h16M350 390h8M218 394h8M266 394h4M282 394h12M338 394h24M222 398h12M282 398h12M330 398h40M230 402h12M322 402h16M346 402h28M242 406h24M318 406h16M350 406h8M262 410h4M302 410h20M266 414h4M282 414h20M270 418h16M278 422h4M430 458h16M426 462h8M442 462h4M422 466h8M446 466h4M422 470h4M446 470h4M418 474h8M418 478h4M450 478h4M418 482h4M450 482h4M418 486h8M450 486h4M418 490h8M450 490h4M418 494h12M450 494h4M418 498h8M450 498h4M418 502h8M454 502h4M422 506h4M454 506h4M422 510h4M426 514h4M450 514h4M430 518h4M446 518h4M434 522h16M446 530h8M446 534h8M590 538h4M586 542h16M590 546h16M598 550h4M1154 550h8M1154 554h8M994 558h4M1150 558h12M1170 558h8M1226 558h8M970 562h8M990 562h12M1142 562h52M1210 562h24M966 566h12M990 566h4M998 566h8M1138 566h8M1158 566h20M1194 566h16M962 570h20M986 570h24M1138 570h4M422 574h20M958 574h48M1138 574h8M418 578h24M802 578h8M930 578h48M986 578h16M1138 578h12M418 582h12M798 582h4M810 582h4M922 582h32M966 582h12M990 582h8M1134 582h8M418 586h8M798 586h4M810 586h4M922 586h28M966 586h12M986 586h8M1130 586h4M798 590h12M922 590h24M970 590h8M986 590h8M1102 590h24M918 594h24M966 594h12M986 594h8M1102 594h12M918 598h16M962 598h16M990 598h8M1094 598h12M402 602h4M918 602h8M950 602h36M994 602h8M1078 602h4M1086 602h8M402 606h8M922 606h4M946 606h40M998 606h4M1014 606h16M1050 606h16M1074 606h4M398 610h12M922 610h12M938 610h12M962 610h24M998 610h16M1026 610h48M398 614h8M934 614h16M962 614h20M1002 614h8M1030 614h8M1046 614h12M938 618h12M970 618h8M1030 618h24M938 622h12M962 622h16M1034 622h12M938 626h40M942 630h32M786 634h4M942 634h16M350 638h4M778 638h20M898 638h12M942 638h12M350 642h4M770 642h12M794 642h8M882 642h48M938 642h20M762 646h12M798 646h12M878 646h40M934 646h20M762 650h4M810 650h8M866 650h48M946 650h8M654 654h8M762 654h4M818 654h16M862 654h52M638 658h8M834 658h4M862 658h52M330 662h8M638 662h4M762 662h4M834 662h8M858 662h24M886 662h16M906 662h4M330 666h8M670 666h4M762 666h4M834 666h8M858 666h52M326 670h8M634 670h4M674 670h4M762 670h4M838 670h4M862 670h48M322 674h12M626 674h8M678 674h4M762 674h4M842 674h4M862 674h48M322 678h12M626 678h4M762 678h4M842 678h4M866 678h36M906 678h8M926 678h8M322 682h8M626 682h4M682 682h4M762 682h4M842 682h8M866 682h16M886 682h12M914 682h24M322 686h8M626 686h4M842 686h16M866 686h12M926 686h20M318 690h8M610 690h8M626 690h4M842 690h36M938 690h12M318 694h8M570 694h20M606 694h24M774 694h4M854 694h20M946 694h8M554 698h4M590 698h36M698 698h4M778 698h4M850 698h16M946 698h4M706 702h4M782 702h4M830 702h12M850 702h16M946 702h4M546 706h8M710 706h4M782 706h4M822 706h8M838 706h24M946 706h8M542 710h8M622 710h8M714 710h4M786 710h4M818 710h8M838 710h24M950 710h12M542 714h4M786 714h4M818 714h8M842 714h12M958 714h4M278 718h12M542 718h4M782 718h8M822 718h24M958 718h4M1226 718h8M274 722h4M286 722h8M542 722h4M714 722h4M778 722h8M834 722h8M958 722h8M978 722h12M1218 722h8M274 726h4M286 726h8M542 726h4M714 726h4M774 726h8M838 726h4M886 726h4M958 726h20M986 726h12M1002 726h4M1070 726h4M1214 726h8M274 730h4M282 730h8M522 730h20M714 730h4M770 730h8M838 730h4M926 730h12M954 730h24M994 730h12M1026 730h8M1058 730h24M1214 730h4M274 734h12M518 734h4M618 734h8M714 734h8M770 734h4M838 734h8M886 734h4M906 734h4M918 734h20M958 734h20M1022 734h28M1058 734h12M1082 734h32M1126 734h16M1206 734h12M274 738h12M518 738h4M618 738h12M726 738h4M766 738h4M842 738h4M878 738h60M958 738h24M1014 738h52M1114 738h12M1138 738h8M1150 738h8M1170 738h40M510 742h8M618 742h12M726 742h8M766 742h4M842 742h8M858 742h20M906 742h36M962 742h8M978 742h12M1014 742h4M1026 742h40M1162 742h20M506 746h8M614 746h12M726 746h8M758 746h8M842 746h16M866 746h4M926 746h20M954 746h8M982 746h8M1014 746h4M1030 746h16M1054 746h8M502 750h8M610 750h16M726 750h8M742 750h16M842 750h12M934 750h32M986 750h4M1014 750h4M1030 750h16M1050 750h8M1078 750h8M502 754h4M726 754h32M962 754h4M986 754h4M1010 754h8M1030 754h28M1074 754h16M726 758h8M742 758h16M962 758h4M982 758h12M1006 758h28M1050 758h8M1066 758h24M498 762h4M726 762h8M758 762h4M938 762h24M982 762h16M1006 762h16M1058 762h32M1170 762h4M494 766h4M726 766h4M934 766h8M994 766h20M1074 766h12M490 770h4M594 770h8M726 770h4M934 770h8M998 770h12M1070 770h12M478 774h8M730 774h4M942 774h4M1002 774h12M1062 774h16M474 778h4M730 778h4M758 778h4M926 778h4M942 778h8M1010 778h8M1054 778h20M1122 778h8M474 782h4M730 782h4M758 782h4M922 782h8M946 782h4M1014 782h4M1054 782h24M1122 782h8M1226 782h8M470 786h4M754 786h4M946 786h8M1014 786h8M1066 786h12M1122 786h8M1150 786h16M1226 786h8M470 790h4M726 790h4M750 790h8M942 790h12M1014 790h8M1070 790h12M1106 790h8M1122 790h12M1146 790h20M1230 790h4M466 794h4M726 794h28M942 794h12M1014 794h8M1074 794h12M1102 794h16M1122 794h16M462 798h4M726 798h12M942 798h16M1006 798h16M1074 798h12M1106 798h8M1126 798h8M458 802h4M946 802h20M1006 802h8M1074 802h8M1106 802h8M446 806h12M962 806h12M1006 806h4M1074 806h8M446 810h4M966 810h8M1006 810h20M1074 810h8M442 814h4M554 814h4M970 814h4M1018 814h12M1058 814h20M438 818h8M554 818h4M970 818h4M1022 818h12M1054 818h4M430 822h8M470 822h8M550 822h8M966 822h8M1022 822h36M430 826h4M470 826h8M550 826h8M962 826h16M426 830h4M474 830h4M546 830h12M958 830h20M546 834h8M962 834h20M422 838h4M546 838h8M970 838h16M970 842h16M966 846h8"/>
<path stroke="#ff7c00" d="M186 290h4M182 294h12M174 298h20M202 298h24M170 302h60M178 306h4M198 306h8M230 306h4M178 310h4M202 310h4M234 310h20M202 314h4M242 314h12M178 318h4M194 318h12M242 318h8M178 322h4M190 322h8M242 322h8M182 326h12M242 326h8M186 330h8M246 330h16M250 334h16M230 338h12M266 338h8M170 342h4M234 342h4M262 342h12M206 346h4M254 346h20M186 350h8M210 350h8M246 350h12M266 350h8M182 354h16M250 354h8M262 354h8M182 358h16M254 358h16M178 362h20M202 362h12M218 362h8M254 362h16M174 366h20M198 366h16M254 366h4M286 366h8M170 370h36M254 370h8M266 370h8M286 370h16M314 370h12M178 374h28M254 374h20M286 374h28M322 374h8M186 378h28M250 378h28M290 378h24M326 378h12M342 378h8M214 382h20M250 382h28M294 382h16M346 382h8M222 386h8M254 386h12M274 386h8M294 386h12M346 386h8M222 390h8M254 390h12M274 390h8M298 390h8M326 390h24M226 394h8M254 394h12M270 394h12M294 394h12M322 394h16M234 398h8M250 398h32M294 398h8M314 398h16M242 402h56M310 402h12M266 406h52M266 410h36M270 414h12M434 462h8M430 466h16M426 470h4M426 474h4M446 474h4M422 478h8M446 478h4M422 482h8M446 482h4M426 486h24M426 490h24M430 494h8M446 494h4M426 498h8M426 502h4M450 502h4M426 506h4M450 506h4M426 510h4M450 510h4M430 514h4M446 514h4M434 518h12M994 566h4M1146 566h12M1178 566h16M1210 566h24M1142 570h44M1198 570h12M1222 570h12M1146 574h36M978 578h8M1150 578h32M802 582h8M954 582h12M978 582h12M1142 582h40M802 586h8M950 586h16M978 586h8M1134 586h48M946 590h8M962 590h8M978 590h8M1126 590h12M942 594h12M962 594h4M978 594h8M1114 594h12M934 598h28M978 598h12M1106 598h12M926 602h24M986 602h8M1082 602h4M1094 602h12M926 606h20M986 606h12M1078 606h20M934 610h4M986 610h12M1014 610h12M1074 610h8M982 614h20M1010 614h20M1058 614h20M978 618h8M994 618h36M1054 618h4M978 622h8M998 622h36M1046 622h8M978 626h12M1006 626h36M974 630h4M990 630h4M958 634h16M990 634h12M954 638h12M990 638h12M782 642h12M958 642h8M990 642h8M774 646h24M918 646h16M954 646h16M986 646h8M766 650h8M798 650h12M914 650h32M954 650h16M986 650h8M766 654h4M806 654h12M914 654h4M942 654h28M646 658h8M662 658h4M762 658h4M814 658h20M914 658h4M942 658h16M642 662h4M666 662h4M826 662h8M882 662h4M910 662h8M942 662h12M638 666h4M826 666h8M910 666h4M938 666h20M638 670h4M766 670h4M826 670h12M910 670h4M930 670h28M634 674h4M674 674h4M766 674h4M826 674h16M910 674h4M922 674h28M630 678h8M678 678h4M766 678h4M834 678h8M914 678h12M934 678h16M970 678h4M630 682h4M766 682h4M834 682h8M938 682h12M966 682h12M630 686h8M682 686h4M766 686h4M834 686h8M946 686h8M962 686h16M630 690h8M686 690h4M770 690h8M830 690h12M950 690h24M630 694h8M690 694h4M778 694h4M826 694h28M954 694h16M558 698h16M582 698h8M626 698h16M782 698h4M826 698h24M950 698h16M554 702h4M586 702h52M702 702h4M818 702h12M842 702h8M950 702h16M554 706h4M590 706h4M606 706h32M706 706h4M786 706h8M814 706h8M954 706h16M978 706h8M550 710h4M614 710h8M630 710h8M790 710h4M814 710h4M962 710h24M1006 710h8M1042 710h4M1230 710h4M546 714h4M614 714h24M714 714h4M790 714h8M814 714h4M962 714h24M1006 714h8M1042 714h4M1226 714h8M546 718h4M622 718h12M714 718h4M790 718h4M814 718h8M962 718h32M1002 718h12M1074 718h4M1222 718h4M278 722h8M546 722h4M786 722h4M814 722h20M966 722h12M990 722h24M1022 722h12M1058 722h20M1214 722h4M278 726h8M546 726h4M782 726h4M826 726h12M978 726h8M998 726h4M1006 726h32M1046 726h24M1074 726h8M1210 726h4M278 730h4M542 730h8M618 730h12M710 730h4M778 730h4M826 730h12M978 730h16M1006 730h20M1034 730h24M1082 730h28M1122 730h24M1206 730h8M522 734h20M614 734h4M626 734h8M774 734h4M826 734h12M978 734h44M1050 734h8M1114 734h12M1142 734h16M1174 734h16M1198 734h8M522 738h4M614 738h4M630 738h8M718 738h8M770 738h4M826 738h16M982 738h32M1158 738h12M518 742h4M610 742h8M630 742h8M722 742h4M830 742h12M878 742h28M990 742h24M514 746h8M578 746h12M602 746h12M626 746h12M722 746h4M766 746h4M834 746h8M858 746h8M870 746h8M882 746h12M906 746h20M990 746h24M510 750h8M574 750h16M598 750h12M626 750h12M722 750h4M758 750h8M834 750h8M854 750h20M910 750h8M926 750h8M990 750h24M506 754h8M570 754h16M598 754h40M722 754h4M758 754h4M838 754h36M934 754h28M990 754h20M502 758h8M566 758h20M594 758h12M618 758h16M722 758h4M758 758h4M842 758h16M866 758h8M934 758h28M994 758h12M1034 758h16M502 762h4M562 762h24M594 762h12M622 762h8M722 762h4M842 762h12M870 762h4M930 762h8M998 762h8M1022 762h12M1038 762h20M498 766h4M558 766h48M718 766h8M762 766h4M846 766h8M926 766h8M1014 766h12M1046 766h28M494 770h4M558 770h36M602 770h4M718 770h8M762 770h4M922 770h12M1010 770h12M1054 770h16M486 774h8M558 774h48M722 774h8M762 774h4M918 774h24M1014 774h4M1050 774h12M478 778h8M586 778h16M722 778h8M762 778h4M914 778h12M930 778h12M1018 778h4M1050 778h4M478 782h4M530 782h8M722 782h8M762 782h4M914 782h8M930 782h16M1018 782h4M1050 782h4M474 786h4M534 786h4M722 786h8M758 786h4M922 786h24M1022 786h4M1054 786h12M474 790h4M530 790h12M566 790h4M722 790h4M758 790h4M926 790h16M1022 790h4M1058 790h12M470 794h4M514 794h4M522 794h24M722 794h4M754 794h4M930 794h12M1022 794h4M1058 794h16M466 798h4M514 798h4M522 798h20M722 798h4M738 798h16M938 798h4M1022 798h4M1058 798h16M462 802h4M526 802h16M722 802h16M938 802h8M1014 802h16M1054 802h20M458 806h8M522 806h12M550 806h12M942 806h20M1010 806h20M1046 806h28M450 810h12M514 810h16M550 810h12M946 810h20M1026 810h8M1050 810h24M446 814h8M462 814h4M514 814h12M550 814h4M558 814h4M962 814h8M1030 814h28M446 818h4M462 818h16M514 818h12M546 818h8M558 818h4M962 818h8M1034 818h20M438 822h8M466 822h4M478 822h4M514 822h8M546 822h4M558 822h8M962 822h4M434 826h4M466 826h4M478 826h4M510 826h16M542 826h8M558 826h8M958 826h4M430 830h4M466 830h8M478 830h4M498 830h32M538 830h8M558 830h8M426 834h4M470 834h16M490 834h40M538 834h8M554 834h8M958 834h4M426 838h4M474 838h40M542 838h4M554 838h4M958 838h12M422 842h4M474 842h12M490 842h16M542 842h20M962 842h8M422 846h4M474 846h12M498 846h8M546 846h16M962 846h4"/>
<path stroke="#ff7300" d="M170 306h8M206 306h24M170 310h8M206 310h8M226 310h8M170 314h8M206 314h8M230 314h12M174 318h4M206 318h8M234 318h8M198 322h4M238 322h4M178 326h4M194 326h4M234 326h8M182 330h4M194 330h4M210 330h8M234 330h12M186 334h8M206 334h12M230 334h20M170 338h8M202 338h16M226 338h4M242 338h24M174 342h8M198 342h36M238 342h24M170 346h36M210 346h44M170 350h16M194 350h16M218 350h8M230 350h16M170 354h12M198 354h52M170 358h12M198 358h56M170 362h8M198 362h4M214 362h4M226 362h8M242 362h12M170 366h4M194 366h4M214 366h16M246 366h8M206 370h24M246 370h8M206 374h48M314 374h8M214 378h36M314 378h12M338 378h4M234 382h16M310 382h8M322 382h24M230 386h24M306 386h40M230 390h8M246 390h8M306 390h20M234 394h20M306 394h16M242 398h8M302 398h12M298 402h12M430 470h16M430 474h4M442 474h4M430 478h4M438 478h8M430 482h16M438 494h8M434 498h4M446 498h4M430 502h4M446 502h4M430 506h4M430 510h4M446 510h4M434 514h12M1186 570h12M1210 570h12M1182 574h12M1218 574h16M1182 578h8M1182 582h8M1182 586h8M954 590h8M1138 590h44M954 594h8M1126 594h12M1166 594h4M1118 598h12M1106 602h16M1098 606h8M1082 610h16M1078 614h12M986 618h8M1058 618h24M986 622h12M1054 622h4M990 626h16M1042 626h8M978 630h12M994 630h44M974 634h16M1002 634h32M966 638h12M986 638h4M1002 638h28M966 642h24M998 642h8M1022 642h4M970 646h16M994 646h8M774 650h24M970 650h16M994 650h4M770 654h4M802 654h4M918 654h24M970 654h24M654 658h8M766 658h4M810 658h4M918 658h24M958 658h16M982 658h8M646 662h4M766 662h4M814 662h12M918 662h24M954 662h20M642 666h4M666 666h4M766 666h4M818 666h8M914 666h24M958 666h16M670 670h4M818 670h8M914 670h16M958 670h20M638 674h4M670 674h4M818 674h8M914 674h8M950 674h32M638 678h4M670 678h8M818 678h16M950 678h20M974 678h8M634 682h8M678 682h4M770 682h4M822 682h12M950 682h16M978 682h4M638 686h4M770 686h4M822 686h12M954 686h8M978 686h4M638 690h8M778 690h4M818 690h12M974 690h8M638 694h8M782 694h4M810 694h16M970 694h16M574 698h8M642 698h8M694 698h4M786 698h8M806 698h20M966 698h24M558 702h12M578 702h8M638 702h12M698 702h4M786 702h32M966 702h24M1002 702h12M1230 702h4M558 706h4M582 706h8M594 706h12M638 706h12M794 706h20M970 706h8M986 706h4M1002 706h16M1034 706h16M1226 706h8M554 710h4M590 710h24M638 710h4M710 710h4M794 710h20M986 710h20M1014 710h4M1026 710h16M1046 710h8M1226 710h4M550 714h8M602 714h12M638 714h4M710 714h4M798 714h16M986 714h20M1014 714h28M1046 714h8M1074 714h8M1222 714h4M550 718h8M602 718h20M634 718h8M650 718h4M710 718h4M794 718h8M806 718h8M994 718h8M1014 718h40M1066 718h8M1078 718h8M1218 718h4M550 722h8M602 722h44M710 722h4M790 722h4M810 722h4M1014 722h8M1034 722h24M1078 722h28M1210 722h4M550 726h12M614 726h32M710 726h4M786 726h4M810 726h16M1038 726h8M1082 726h32M1118 726h28M1206 726h4M550 730h16M610 730h8M630 730h16M782 730h4M818 730h8M1110 730h12M1146 730h12M1202 730h4M542 734h24M610 734h4M634 734h8M710 734h4M818 734h8M1158 734h16M1190 734h8M526 738h40M594 738h8M610 738h4M638 738h4M714 738h4M774 738h4M822 738h4M522 742h4M546 742h20M578 742h32M638 742h4M714 742h8M770 742h4M822 742h8M522 746h4M542 746h36M590 746h12M638 746h8M714 746h8M770 746h4M826 746h8M878 746h4M894 746h12M518 750h4M542 750h32M590 750h8M638 750h8M714 750h8M766 750h4M826 750h8M874 750h36M918 750h8M514 754h8M538 754h8M554 754h16M586 754h12M638 754h4M714 754h8M762 754h4M830 754h8M874 754h24M906 754h28M510 758h8M538 758h4M554 758h12M586 758h8M606 758h12M634 758h4M714 758h8M762 758h4M834 758h8M858 758h8M874 758h8M894 758h4M914 758h20M506 762h8M534 762h12M554 762h8M586 762h8M606 762h4M614 762h8M630 762h4M710 762h12M762 762h4M838 762h4M854 762h16M874 762h8M918 762h12M1034 762h4M502 766h12M534 766h8M550 766h8M606 766h4M618 766h16M710 766h8M838 766h8M854 766h44M918 766h8M1026 766h20M498 770h16M534 770h4M550 770h8M606 770h8M618 770h12M714 770h4M842 770h20M874 770h24M914 770h8M1022 770h32M494 774h24M530 774h8M550 774h8M606 774h8M714 774h8M846 774h12M878 774h20M910 774h8M1018 774h32M486 778h32M526 778h12M554 778h32M602 778h8M710 778h12M846 778h4M906 778h8M1022 778h8M1038 778h12M482 782h4M498 782h20M526 782h4M538 782h4M558 782h52M710 782h12M906 782h8M1022 782h8M1042 782h8M478 786h4M510 786h8M526 786h8M538 786h8M558 786h52M710 786h12M762 786h4M914 786h8M1026 786h4M1046 786h8M478 790h4M510 790h20M542 790h8M558 790h8M570 790h40M714 790h8M762 790h4M918 790h8M1026 790h12M1050 790h8M474 794h4M510 794h4M518 794h4M546 794h4M558 794h48M718 794h4M758 794h4M922 794h8M1026 794h12M1050 794h8M470 798h4M506 798h8M518 798h4M542 798h60M718 798h4M754 798h4M930 798h8M1026 798h32M466 802h4M506 802h20M542 802h32M586 802h8M718 802h4M738 802h16M934 802h4M1030 802h24M466 806h4M510 806h12M534 806h16M562 806h12M714 806h24M938 806h4M1030 806h16M462 810h8M506 810h8M530 810h20M562 810h12M710 810h20M942 810h4M1034 810h16M454 814h8M466 814h12M506 814h8M526 814h8M542 814h8M562 814h12M710 814h20M942 814h20M450 818h12M478 818h4M494 818h4M506 818h8M526 818h4M542 818h4M562 818h12M710 818h20M946 818h16M446 822h8M458 822h8M482 822h4M490 822h8M506 822h8M522 822h24M566 822h8M706 822h20M954 822h8M438 826h12M462 826h4M482 826h4M494 826h16M526 826h16M566 826h8M702 826h24M954 826h4M434 830h4M462 830h4M482 830h16M530 830h8M566 830h4M698 830h28M954 830h4M430 834h8M462 834h8M486 834h4M530 834h8M562 834h4M698 834h24M954 834h4M430 838h4M466 838h8M514 838h28M558 838h4M698 838h24M954 838h4M426 842h4M470 842h4M486 842h4M506 842h8M522 842h20M562 842h4M698 842h12M714 842h8M958 842h4M426 846h4M470 846h4M486 846h12M506 846h4M522 846h24M562 846h8M698 846h8M958 846h4"/>
<path stroke="#ff6a00" d="M214 310h12M214 314h16M170 318h4M214 318h20M170 322h8M202 322h20M230 322h8M170 326h8M198 326h28M230 326h4M170 330h12M198 330h12M218 330h16M170 334h16M194 334h12M218 334h12M178 338h24M218 338h8M182 342h16M226 350h4M234 362h8M230 366h16M230 370h16M318 382h4M238 390h8M434 474h8M434 478h4M438 498h8M434 502h4M446 506h4M434 510h12M1194 574h24M1190 578h12M1214 578h16M1190 582h8M1190 586h4M1182 590h8M1138 594h28M1170 594h12M1130 598h16M1122 602h8M1106 606h16M1098 610h12M1090 614h8M1082 618h8M1058 622h28M1050 626h8M1038 630h12M1034 634h4M978 638h8M1030 638h4M1006 642h16M1026 642h4M1002 646h28M998 650h8M1010 650h12M774 654h8M790 654h12M994 654h8M770 658h4M802 658h8M974 658h8M990 658h8M650 662h4M662 662h4M770 662h4M810 662h4M974 662h24M646 666h4M770 666h4M810 666h8M974 666h20M642 670h4M666 670h4M770 670h4M814 670h4M978 670h8M642 674h4M666 674h4M770 674h4M814 674h4M982 674h4M642 678h4M666 678h4M770 678h4M814 678h4M982 678h12M642 682h4M662 682h16M814 682h8M982 682h12M642 686h8M654 686h16M678 686h4M774 686h8M814 686h8M982 686h8M646 690h20M682 690h4M782 690h8M810 690h8M982 690h16M646 694h16M686 694h4M786 694h12M802 694h8M986 694h20M650 698h8M794 698h12M990 698h24M1222 698h12M570 702h8M650 702h8M990 702h12M1014 702h4M1034 702h16M1222 702h8M562 706h8M578 706h4M650 706h8M702 706h4M990 706h12M1018 706h16M1050 706h12M1222 706h4M558 710h8M582 710h8M642 710h16M706 710h4M1018 710h8M1054 710h8M1222 710h4M558 714h4M586 714h16M642 714h20M1054 714h20M1082 714h8M1218 714h4M558 718h4M590 718h12M642 718h8M654 718h8M802 718h4M1054 718h12M1086 718h24M1214 718h4M558 722h8M590 722h12M646 722h16M794 722h16M1106 722h40M1206 722h4M562 726h8M594 726h20M646 726h12M790 726h8M806 726h4M1114 726h4M1146 726h12M1202 726h4M566 730h12M594 730h16M646 730h4M706 730h4M786 730h8M810 730h8M1158 730h44M566 734h12M590 734h20M642 734h8M778 734h8M814 734h4M566 738h28M602 738h8M642 738h8M710 738h4M778 738h4M814 738h8M526 742h20M566 742h12M642 742h12M710 742h4M774 742h4M818 742h4M526 746h16M646 746h12M710 746h4M822 746h4M522 750h4M530 750h12M646 750h8M706 750h8M770 750h4M822 750h4M522 754h4M530 754h8M546 754h8M642 754h4M706 754h8M766 754h4M826 754h4M898 754h8M518 758h8M530 758h8M542 758h12M638 758h4M706 758h8M826 758h8M882 758h12M898 758h16M514 762h8M530 762h4M546 762h8M610 762h4M634 762h4M706 762h4M830 762h8M882 762h36M514 766h8M526 766h8M542 766h8M610 766h8M634 766h4M702 766h8M834 766h4M898 766h20M514 770h20M538 770h12M614 770h4M630 770h4M706 770h8M766 770h4M838 770h4M862 770h12M898 770h16M518 774h12M538 774h12M614 774h20M706 774h8M766 774h4M842 774h4M858 774h20M898 774h12M518 778h8M538 778h16M610 778h20M706 778h4M766 778h4M842 778h4M850 778h56M1030 778h8M486 782h12M518 782h8M542 782h16M610 782h8M706 782h4M766 782h4M842 782h16M866 782h40M1030 782h12M482 786h28M518 786h8M546 786h12M610 786h4M706 786h4M766 786h4M842 786h12M866 786h16M886 786h28M1030 786h16M482 790h4M490 790h20M550 790h8M610 790h4M706 790h8M766 790h4M846 790h8M866 790h8M886 790h32M1038 790h12M478 794h4M502 794h8M550 794h8M606 794h4M710 794h8M762 794h4M846 794h4M862 794h12M918 794h4M1038 794h12M474 798h4M502 798h4M602 798h8M710 798h8M758 798h4M846 798h4M858 798h12M922 798h8M470 802h8M502 802h4M574 802h12M594 802h12M698 802h20M754 802h4M862 802h8M926 802h8M470 806h8M502 806h8M574 806h24M698 806h16M738 806h12M862 806h8M934 806h4M470 810h12M502 810h4M574 810h16M698 810h12M730 810h8M938 810h4M478 814h28M534 814h8M574 814h8M706 814h4M730 814h4M938 814h4M482 818h12M498 818h8M530 818h12M574 818h8M702 818h8M942 818h4M454 822h4M486 822h4M498 822h8M574 822h4M694 822h12M726 822h4M862 822h4M946 822h8M450 826h12M486 826h8M574 826h4M694 826h8M726 826h4M858 826h12M950 826h4M438 830h24M570 830h4M694 830h4M726 830h4M858 830h8M950 830h4M438 834h4M458 834h4M566 834h4M694 834h4M722 834h4M950 834h4M434 838h8M458 838h8M562 838h8M694 838h4M722 838h4M850 838h12M950 838h4M430 842h8M458 842h12M514 842h8M566 842h8M694 842h4M710 842h4M722 842h4M858 842h4M950 842h8M430 846h8M462 846h8M510 846h12M570 846h8M694 846h4M706 846h20M862 846h8M942 846h16"/>
<path stroke="#ff6200" d="M222 322h8M226 326h4M438 502h8M434 506h12M1202 578h12M1230 578h4M1198 582h32M1194 586h8M1190 590h8M1182 594h12M1146 598h32M1130 602h24M1122 606h28M1110 610h12M1098 614h20M1090 618h24M1086 622h8M1058 626h28M1050 630h8M1062 630h20M1038 634h12M1034 638h8M1030 642h8M1030 646h4M1006 650h4M1022 650h8M782 654h8M1002 654h24M774 658h8M798 658h4M998 658h28M654 662h8M774 662h4M806 662h4M998 662h28M650 666h4M662 666h4M994 666h28M646 670h4M810 670h4M986 670h28M646 674h4M774 674h4M810 674h4M986 674h20M646 678h4M662 678h4M774 678h4M994 678h8M646 682h16M774 682h4M810 682h4M994 682h8M650 686h4M670 686h8M782 686h4M810 686h4M990 686h16M666 690h4M790 690h8M802 690h8M998 690h12M662 694h4M798 694h4M1006 694h8M1218 694h16M658 698h4M690 698h4M1014 698h4M1034 698h16M1058 698h8M1218 698h4M658 702h4M694 702h4M1018 702h16M1050 702h20M1218 702h4M570 706h8M658 706h4M698 706h4M1062 706h12M1102 706h8M1218 706h4M566 710h16M658 710h4M1062 710h52M1218 710h4M562 714h8M582 714h4M662 714h4M706 714h4M1090 714h32M1138 714h4M1214 714h4M562 718h8M582 718h8M662 718h4M1110 718h20M1134 718h12M1206 718h8M566 722h24M662 722h4M706 722h4M1146 722h4M1202 722h4M570 726h24M658 726h8M706 726h4M798 726h8M1158 726h44M578 730h16M650 730h16M794 730h16M578 734h12M650 734h12M706 734h4M786 734h28M650 738h12M706 738h4M782 738h4M810 738h4M654 742h8M706 742h4M778 742h4M814 742h4M658 746h4M702 746h8M774 746h4M818 746h4M526 750h4M654 750h4M702 750h4M774 750h4M526 754h4M646 754h4M702 754h4M770 754h4M822 754h4M526 758h4M642 758h4M698 758h8M766 758h4M522 762h8M638 762h4M698 762h8M766 762h4M826 762h4M522 766h4M638 766h4M698 766h4M766 766h4M830 766h4M634 770h4M698 770h8M834 770h4M634 774h4M702 774h4M834 774h8M630 778h4M702 778h4M838 778h4M618 782h16M702 782h4M838 782h4M858 782h8M614 786h8M698 786h8M838 786h4M854 786h12M882 786h4M486 790h4M614 790h4M698 790h8M842 790h4M854 790h12M874 790h12M482 794h20M610 794h8M698 794h12M766 794h4M842 794h4M850 794h12M874 794h44M478 798h24M610 798h4M694 798h16M762 798h4M842 798h4M850 798h8M870 798h8M902 798h20M478 802h8M494 802h8M606 802h8M694 802h4M758 802h4M838 802h24M870 802h8M918 802h8M478 806h8M494 806h8M598 806h12M690 806h8M750 806h4M838 806h24M870 806h8M922 806h12M482 810h20M590 810h16M690 810h8M738 810h12M838 810h12M854 810h24M922 810h16M582 814h16M694 814h12M734 814h4M842 814h36M934 814h4M582 818h4M690 818h12M730 818h4M846 818h28M938 818h4M578 822h4M690 822h4M730 822h4M846 822h16M866 822h8M938 822h8M578 826h4M686 826h8M730 826h4M846 826h12M870 826h4M942 826h8M574 830h8M686 830h8M730 830h4M846 830h12M866 830h4M946 830h4M442 834h16M570 834h8M682 834h12M726 834h4M846 834h20M946 834h4M442 838h16M570 838h8M686 838h8M726 838h4M842 838h8M862 838h4M946 838h4M438 842h20M574 842h4M690 842h4M726 842h4M842 842h16M862 842h12M942 842h8M438 846h24M578 846h4M690 846h4M850 846h12M870 846h8M938 846h4"/>
<path stroke="#ff5800" d="M1230 582h4M1202 586h24M1198 590h12M1194 594h8M1178 598h12M1154 602h20M1150 606h8M1122 610h24M1118 614h12M1114 618h16M1094 622h36M1086 626h12M1106 626h12M1058 630h4M1082 630h8M1050 634h36M1042 638h36M1038 642h4M1034 646h4M1030 650h8M1026 654h8M1114 654h4M782 658h16M1026 658h8M1114 658h8M778 662h4M802 662h4M1026 662h8M1114 662h8M654 666h8M774 666h4M806 666h4M1022 666h8M1114 666h8M650 670h4M662 670h4M774 670h4M806 670h4M1014 670h16M1114 670h12M650 674h16M1006 674h20M1110 674h12M650 678h12M778 678h4M810 678h4M1002 678h20M1110 678h12M778 682h8M1002 682h24M1110 682h12M786 686h8M806 686h4M1006 686h20M1114 686h8M670 690h4M678 690h4M798 690h4M1010 690h20M1110 690h12M1218 690h16M666 694h4M682 694h4M1014 694h32M1062 694h8M1110 694h12M1214 694h4M662 698h4M686 698h4M1018 698h16M1050 698h8M1066 698h8M1102 698h20M1214 698h4M662 702h4M1070 702h4M1086 702h32M1214 702h4M662 706h4M1074 706h28M1110 706h12M1214 706h4M662 710h4M702 710h4M1114 710h8M1134 710h8M1206 710h12M570 714h12M1122 714h4M1134 714h4M1142 714h4M1202 714h12M570 718h12M666 718h4M706 718h4M1130 718h4M1146 718h4M1198 718h8M666 722h4M1150 722h16M1170 722h32M666 726h4M702 726h4M666 730h4M698 730h8M662 734h8M698 734h8M662 738h4M698 738h8M786 738h24M662 742h4M698 742h8M782 742h4M806 742h8M662 746h4M698 746h4M778 746h4M814 746h4M658 750h8M698 750h4M818 750h4M650 754h12M694 754h8M774 754h4M646 758h8M694 758h4M770 758h4M822 758h4M642 762h8M694 762h4M642 766h4M690 766h8M826 766h4M638 770h4M690 770h8M770 770h4M830 770h4M638 774h4M678 774h24M770 774h4M830 774h4M634 778h8M674 778h28M770 778h4M834 778h4M634 782h8M678 782h24M770 782h4M834 782h4M622 786h16M682 786h16M770 786h4M834 786h4M618 790h16M682 790h16M770 790h4M838 790h4M618 794h4M682 794h16M770 794h4M838 794h4M614 798h8M682 798h12M766 798h4M838 798h4M878 798h24M486 802h8M614 802h4M646 802h4M682 802h12M762 802h4M834 802h4M878 802h20M902 802h16M486 806h8M610 806h8M638 806h12M682 806h8M754 806h4M834 806h4M878 806h16M914 806h8M606 810h8M634 810h16M678 810h12M750 810h8M834 810h4M850 810h4M878 810h16M914 810h8M598 814h16M634 814h16M682 814h12M738 814h4M834 814h8M878 814h4M922 814h12M586 818h16M606 818h8M638 818h12M686 818h4M734 818h4M838 818h8M874 818h8M926 818h12M582 822h8M638 822h16M686 822h4M734 822h4M838 822h8M874 822h8M906 822h4M930 822h8M582 826h4M638 826h16M682 826h4M842 826h4M874 826h8M934 826h8M582 830h4M638 830h12M678 830h8M842 830h4M870 830h20M934 830h12M578 834h8M634 834h12M674 834h8M730 834h4M842 834h4M866 834h8M878 834h12M938 834h8M578 838h8M634 838h12M674 838h12M730 838h4M838 838h4M866 838h24M938 838h8M578 842h8M634 842h8M674 842h16M730 842h4M838 842h4M874 842h16M934 842h8M582 846h8M634 846h8M678 846h12M726 846h4M834 846h16M878 846h8M930 846h8"/>
<path stroke="#ff5000" d="M1226 586h8M1210 590h16M1202 594h16M1190 598h16M1174 602h8M1158 606h16M1146 610h16M1130 614h16M1130 618h8M1130 622h4M1098 626h8M1118 626h12M1090 630h12M1106 630h16M1086 634h4M1114 634h4M1078 638h8M1042 642h32M1114 642h4M1038 646h20M1110 646h12M1038 650h12M1110 650h12M1034 654h12M1106 654h8M1118 654h4M1034 658h8M1106 658h8M1122 658h4M782 662h4M794 662h8M1034 662h8M1106 662h8M1122 662h4M778 666h4M802 666h4M1030 666h8M1106 666h8M1122 666h8M654 670h8M778 670h4M1030 670h4M1106 670h8M1126 670h4M778 674h4M806 674h4M1026 674h8M1106 674h4M1122 674h8M806 678h4M1022 678h8M1106 678h4M1122 678h4M786 682h4M806 682h4M1026 682h4M1106 682h4M1122 682h4M794 686h12M1026 686h8M1106 686h8M1122 686h4M1214 686h12M1230 686h4M674 690h4M1030 690h16M1058 690h12M1102 690h8M1122 690h8M1210 690h8M670 694h4M1046 694h16M1070 694h4M1086 694h24M1122 694h12M1210 694h4M666 698h4M1074 698h28M1122 698h16M1210 698h4M690 702h4M1074 702h12M1118 702h24M1210 702h4M694 706h4M1122 706h4M1134 706h12M1206 706h8M666 710h4M698 710h4M1122 710h12M1142 710h4M1198 710h8M666 714h4M702 714h4M1126 714h8M1146 714h4M1194 714h8M1150 718h8M1170 718h28M702 722h4M1166 722h4M686 726h16M670 730h4M690 730h8M670 734h4M690 734h8M666 738h4M694 738h4M666 742h4M694 742h4M786 742h20M666 746h4M690 746h8M782 746h4M806 746h8M666 750h4M690 750h8M778 750h4M814 750h4M662 754h8M690 754h4M818 754h4M654 758h12M686 758h8M774 758h4M818 758h4M650 762h12M682 762h12M770 762h4M822 762h4M646 766h16M682 766h8M770 766h4M822 766h4M642 770h48M826 770h4M642 774h36M826 774h4M642 778h16M666 778h8M830 778h4M642 782h12M670 782h8M830 782h4M638 786h20M674 786h8M774 786h4M830 786h4M634 790h28M678 790h4M774 790h4M834 790h4M622 794h40M678 794h4M774 794h4M834 794h4M622 798h44M674 798h8M770 798h4M834 798h4M618 802h28M650 802h16M674 802h8M766 802h4M898 802h4M618 806h4M630 806h8M650 806h12M670 806h12M758 806h8M830 806h4M894 806h20M614 810h8M630 810h4M650 810h8M666 810h12M758 810h4M830 810h4M894 810h8M906 810h8M614 814h8M630 814h4M650 814h8M666 814h16M742 814h16M830 814h4M882 814h40M602 818h4M614 818h8M630 818h8M650 818h8M670 818h16M738 818h4M826 818h12M882 818h12M902 818h24M590 822h48M654 822h4M670 822h16M830 822h8M882 822h12M902 822h4M910 822h20M586 826h8M610 826h28M654 826h4M670 826h12M734 826h4M834 826h8M882 826h32M922 826h12M586 830h4M614 830h24M650 830h8M670 830h8M734 830h4M834 830h8M890 830h20M922 830h12M586 834h4M614 834h20M646 834h8M670 834h4M734 834h4M834 834h8M874 834h4M890 834h16M926 834h12M586 838h4M610 838h24M646 838h4M670 838h4M734 838h4M834 838h4M890 838h12M918 838h20M586 842h8M606 842h28M642 842h4M670 842h4M734 842h4M830 842h8M890 842h12M914 842h20M590 846h44M642 846h4M670 846h8M730 846h8M830 846h4M886 846h16M910 846h20"/>
<path stroke="#ff4600" d="M1226 590h8M1218 594h12M1206 598h12M1182 602h32M1174 606h8M1162 610h8M1146 614h16M1138 618h12M1134 622h8M1130 626h4M1102 630h4M1122 630h8M1090 634h8M1106 634h8M1118 634h4M1086 638h8M1110 638h12M1074 642h16M1110 642h4M1118 642h4M1058 646h8M1078 646h12M1106 646h4M1122 646h4M1050 650h8M1082 650h16M1102 650h8M1122 650h4M1046 654h8M1094 654h12M1122 654h4M1042 658h8M1098 658h8M1126 658h4M786 662h8M1042 662h4M1102 662h4M1126 662h8M782 666h20M1038 666h4M1102 666h4M1130 666h4M782 670h4M802 670h4M1034 670h8M1102 670h4M1130 670h4M782 674h4M802 674h4M1034 674h4M1102 674h4M1130 674h4M782 678h8M802 678h4M1030 678h8M1098 678h8M1126 678h8M790 682h16M1030 682h12M1054 682h4M1098 682h8M1126 682h8M1230 682h4M1034 686h40M1098 686h8M1126 686h8M1206 686h8M1226 686h4M1046 690h12M1070 690h32M1130 690h8M1206 690h4M674 694h8M1074 694h12M1134 694h4M1206 694h4M670 698h4M682 698h4M1138 698h4M1202 698h8M666 702h4M686 702h4M1142 702h4M1198 702h12M666 706h4M686 706h8M1126 706h8M1194 706h12M686 710h12M1146 710h4M1190 710h8M670 714h4M678 714h16M1150 714h4M1170 714h24M670 718h24M702 718h4M1158 718h12M670 722h32M670 726h16M674 730h16M674 734h16M670 738h24M670 742h4M682 742h12M670 746h4M682 746h8M786 746h20M670 750h20M782 750h4M806 750h8M670 754h20M778 754h4M814 754h4M666 758h20M662 762h8M674 762h8M818 762h4M662 766h20M822 770h4M822 774h4M658 778h8M774 778h4M826 778h4M654 782h16M774 782h4M826 782h4M658 786h16M662 790h16M778 790h4M830 790h4M662 794h16M830 794h4M666 798h8M774 798h4M830 798h4M666 802h8M770 802h4M830 802h4M622 806h8M662 806h8M766 806h4M622 810h8M658 810h8M762 810h4M826 810h4M902 810h4M622 814h8M658 814h8M758 814h4M826 814h4M622 818h8M658 818h12M742 818h12M822 818h4M894 818h8M658 822h12M738 822h4M822 822h8M894 822h8M594 826h16M658 826h12M738 826h4M826 826h8M914 826h8M590 830h24M658 830h12M738 830h4M826 830h8M910 830h12M590 834h8M602 834h12M654 834h16M826 834h8M906 834h20M590 838h20M650 838h20M738 838h4M826 838h8M902 838h16M594 842h12M646 842h4M658 842h12M738 842h4M822 842h8M902 842h12M646 846h4M658 846h12M738 846h4M822 846h8M902 846h8"/>
<path stroke="#ff3d00" d="M1230 594h4M1218 598h16M1214 602h8M1182 606h36M1170 610h40M1162 614h8M1186 614h8M1150 618h16M1142 622h16M1134 626h8M1130 630h8M1098 634h8M1122 634h8M1094 638h16M1122 638h8M1090 642h8M1102 642h8M1122 642h12M1066 646h12M1090 646h16M1126 646h8M1058 650h8M1078 650h4M1098 650h4M1126 650h4M1054 654h8M1082 654h12M1126 654h4M1050 658h4M1086 658h12M1130 658h4M1046 662h8M1094 662h8M1042 666h8M1098 666h4M1134 666h4M786 670h16M1042 670h4M1098 670h4M1134 670h4M1226 670h8M786 674h16M1038 674h8M1094 674h8M1134 674h4M1222 674h12M790 678h12M1038 678h28M1094 678h4M1134 678h4M1214 678h20M1042 682h12M1058 682h16M1094 682h4M1134 682h4M1206 682h24M1074 686h24M1134 686h4M1202 686h4M1138 690h4M1202 690h4M1138 694h4M1198 694h8M674 698h8M1142 698h4M1194 698h8M670 702h4M682 702h4M1190 702h8M670 706h4M682 706h4M1146 706h4M1186 706h8M670 710h16M1174 710h16M674 714h4M694 714h8M1154 714h16M694 718h8M674 742h8M674 746h8M786 750h20M782 754h4M806 754h8M778 758h4M810 758h8M670 762h4M774 762h4M814 762h4M774 766h4M818 766h4M774 770h4M818 770h4M774 774h4M822 778h4M778 786h4M826 786h4M826 790h4M778 794h4M826 794h4M778 798h4M826 798h4M774 802h4M826 802h4M770 806h4M826 806h4M766 810h4M822 814h4M754 818h4M742 822h8M742 826h4M822 826h4M822 830h4M598 834h4M738 834h4M822 834h4M822 838h4M650 842h8M818 842h4M650 846h8M742 846h4M814 846h8"/>
<path stroke="#ff3400" d="M1222 602h12M1218 606h4M1210 610h8M1170 614h16M1194 614h20M1166 618h40M1158 622h20M1142 626h16M1138 630h4M1130 634h8M1130 638h8M1098 642h4M1134 642h4M1134 646h4M1066 650h12M1130 650h4M1062 654h20M1130 654h4M1054 658h16M1078 658h8M1134 658h4M1054 662h20M1082 662h12M1134 662h4M1050 666h20M1090 666h8M1210 666h20M1046 670h24M1090 670h8M1206 670h20M1046 674h24M1090 674h4M1138 674h4M1206 674h16M1066 678h8M1086 678h8M1138 678h4M1206 678h8M1074 682h20M1138 682h4M1202 682h4M1138 686h4M1198 686h4M1194 690h8M1142 694h4M1190 694h8M1146 698h4M1186 698h8M674 702h8M1146 702h4M1182 702h8M674 706h8M1174 706h12M1150 710h8M1162 710h12M786 754h20M782 758h8M802 758h8M778 762h4M810 762h4M810 766h8M814 770h4M818 774h4M818 778h4M778 782h4M822 782h4M782 786h4M822 786h4M782 790h4M782 794h4M822 794h4M818 798h8M778 802h4M818 802h8M774 806h8M822 806h4M770 810h4M822 810h4M762 814h4M818 814h4M758 818h4M818 818h4M750 822h8M818 822h4M746 826h4M818 826h4M742 830h4M818 830h4M742 834h4M818 834h4M742 838h4M814 838h8M742 842h4M810 842h8M810 846h4"/>
<path stroke="#ff2b00" d="M1222 606h12M1218 610h8M1214 614h4M1206 618h8M1178 622h24M1158 626h36M1142 630h28M1182 630h8M1138 634h8M1186 634h4M1138 638h4M1186 638h4M1138 642h4M1134 650h4M1134 654h4M1070 658h8M1138 658h4M1202 658h20M1074 662h8M1138 662h4M1202 662h28M1070 666h20M1138 666h4M1202 666h8M1230 666h4M1070 670h8M1086 670h4M1138 670h4M1202 670h4M1070 674h8M1082 674h8M1142 674h4M1198 674h8M1074 678h12M1142 678h4M1186 678h4M1198 678h8M1142 682h4M1194 682h8M1142 686h4M1186 686h12M1142 690h4M1186 690h8M1146 694h4M1182 694h8M1182 698h4M1150 702h4M1178 702h4M1150 706h4M1166 706h8M1158 710h4M790 758h12M782 762h4M794 762h16M778 766h4M806 766h4M778 770h4M810 770h4M778 774h4M810 774h8M778 778h4M814 778h4M818 782h4M818 790h8M814 794h8M782 798h4M814 798h4M782 802h4M814 802h4M782 806h4M814 806h8M774 810h8M818 810h4M766 814h8M814 814h4M762 818h4M814 818h4M758 822h4M814 822h4M750 826h4M814 826h4M746 830h4M814 830h4M746 834h4M814 834h4M746 838h4M810 838h4M746 842h4M806 842h4M746 846h4M806 846h4"/>
<path stroke="#ff2300" d="M1226 610h8M1218 614h16M1214 618h4M1202 622h12M1194 626h12M1170 630h12M1190 630h8M1146 634h40M1190 634h8M1142 638h8M1158 638h28M1190 638h24M1142 642h4M1182 642h32M1138 646h4M1182 646h28M1138 650h4M1182 650h28M1218 650h4M1138 654h4M1182 654h44M1142 658h4M1178 658h24M1222 658h8M1142 662h4M1178 662h16M1198 662h4M1230 662h4M1142 666h4M1182 666h20M1078 670h8M1142 670h8M1182 670h20M1078 674h4M1146 674h4M1182 674h16M1146 678h4M1178 678h8M1190 678h8M1146 682h4M1178 682h16M1146 686h4M1178 686h8M1146 690h4M1178 690h8M1178 694h4M1150 698h4M1178 698h4M1154 702h4M1170 702h8M1154 706h12M786 762h8M782 766h4M798 766h8M802 770h8M806 774h4M806 778h8M782 782h4M810 782h8M786 786h4M810 786h12M786 790h4M806 790h12M786 794h4M806 794h8M786 798h4M806 798h8M786 802h12M810 802h4M786 806h16M810 806h4M782 810h20M810 810h8M774 814h8M790 814h12M766 818h4M794 818h8M762 822h4M794 822h12M754 826h8M798 826h16M750 830h4M798 830h16M750 834h4M802 834h12M750 838h4M802 838h8M750 842h4M802 842h4M750 846h4M802 846h4"/>
<path stroke="#ff1900" d="M1218 618h16M1214 622h4M1226 622h8M1206 626h8M1198 630h16M1198 634h20M1150 638h8M1214 638h8M1146 642h4M1158 642h24M1214 642h8M1142 646h4M1166 646h16M1210 646h20M1142 650h4M1166 650h16M1210 650h8M1222 650h12M1142 654h4M1174 654h8M1226 654h8M1146 658h4M1174 658h4M1230 658h4M1146 662h4M1174 662h4M1194 662h4M1146 666h4M1174 666h8M1150 670h4M1178 670h4M1150 674h4M1174 674h8M1150 678h4M1174 678h4M1150 682h4M1174 682h4M1150 686h4M1170 686h8M1150 690h4M1174 690h4M1150 694h4M1174 694h4M1154 698h8M1170 698h8M1158 702h12M786 766h12M782 770h4M798 770h4M782 774h4M802 774h4M782 778h4M802 778h4M786 782h4M802 782h8M802 786h8M790 790h4M802 790h4M790 794h4M802 794h4M790 798h16M798 802h12M802 806h8M802 810h8M782 814h8M802 814h12M770 818h12M786 818h8M802 818h12M766 822h4M790 822h4M806 822h8M762 826h4M790 826h8M754 830h8M794 830h4M754 834h4M798 834h4M754 838h4M798 838h4M798 842h4M794 846h8"/>
<path stroke="#ff0f00" d="M1218 622h8M1214 626h20M1214 630h8M1218 634h4M1222 638h4M1150 642h8M1222 642h12M1146 646h8M1158 646h8M1230 646h4M1146 650h4M1158 650h8M1146 654h8M1158 654h16M1150 658h8M1166 658h8M1150 662h8M1170 662h4M1150 666h8M1170 666h4M1154 670h4M1170 670h8M1154 674h4M1170 674h4M1154 678h4M1170 678h4M1154 682h4M1166 682h8M1154 686h4M1166 686h4M1154 690h4M1166 690h8M1154 694h20M1162 698h8M786 770h4M794 770h4M798 774h4M786 778h4M798 778h4M798 782h4M790 786h4M798 786h4M794 790h8M794 794h8M782 818h4M770 822h20M766 826h4M786 826h4M762 830h4M786 830h8M758 834h8M790 834h8M758 838h4M790 838h8M754 842h4M766 842h16M786 842h12M754 846h4M762 846h32"/>
<path stroke="#ff0500" d="M1222 630h12M1222 634h12M1226 638h8M1154 646h4M1150 650h8M1154 654h4M1158 658h8M1158 662h12M1158 666h12M1158 670h12M1158 674h12M1158 678h12M1158 682h8M1158 686h8M1158 690h8M790 770h4M786 774h12M790 778h8M790 782h8M794 786h4M770 826h16M766 830h4M778 830h8M766 834h24M762 838h28M758 842h8M782 842h4M758 846h4"/>
<path stroke="#f80000" d="M770 830h8"/>
</g>
</g>
<path fill="#fff" d="M176.5 832.7h6.2v6.2h-6.2zM182.3 832.7h6.2v6.2h-6.2zM188.1 832.7h6.2v6.2h-6.2zM194.0 832.7h6.2v6.2h-6.2zM199.8 832.7h6.2v6.2h-6.2zM205.6 832.7h6.2v6.2h-6.2zM211.5 832.7h6.2v6.2h-6.2zM217.3 832.7h6.2v6.2h-6.2zM223.1 832.7h6.2v6.2h-6.2zM229.0 832.7h6.2v6.2h-6.2zM234.8 832.7h6.2v6.2h-6.2zM240.6 832.7h6.2v6.2h-6.2zM246.5 832.7h6.2v6.2h-6.2zM252.3 832.7h6.2v6.2h-6.2zM258.1 832.7h6.2v6.2h-6.2zM264.0 832.7h6.2v6.2h-6.2zM269.8 832.7h6.2v6.2h-6.2zM275.6 832.7h6.2v6.2h-6.2zM281.5 832.7h6.2v6.2h-6.2zM287.3 832.7h6.2v6.2h-6.2zM293.1 832.7h6.2v6.2h-6.2zM299.0 832.7h6.2v6.2h-6.2zM304.8 832.7h6.2v6.2h-6.2zM310.6 832.7h6.2v6.2h-6.2zM316.5 832.7h6.2v6.2h-6.2zM322.3 832.7h6.2v6.2h-6.2zM328.1 832.7h6.2v6.2h-6.2zM334.0 832.7h6.2v6.2h-6.2zM339.8 832.7h6.2v6.2h-6.2zM345.6 832.7h6.2v6.2h-6.2zM351.5 832.7h6.2v6.2h-6.2zM357.3 832.7h6.2v6.2h-6.2zM363.1 832.7h6.2v6.2h-6.2zM369.0 832.7h6.2v6.2h-6.2zM374.8 832.7h6.2v6.2h-6.2zM380.6 832.7h6.2v6.2h-6.2zM386.5 832.7h6.2v6.2h-6.2zM392.3 832.7h6.2v6.2h-6.2zM398.1 832.7h6.2v6.2h-6.2zM404.0 832.7h6.2v6.2h-6.2zM409.8 832.7h6.2v6.2h-6.2zM415.6 832.7h6.2v6.2h-6.2zM421.5 832.7h6.2v6.2h-6.2zM427.3 832.7h6.2v6.2h-6.2zM433.1 832.7h6.2v6.2h-6.2zM439.0 832.7h6.2v6.2h-6.2zM444.8 832.7h6.2v6.2h-6.2zM450.6 832.7h6.2v6.2h-6.2zM456.5 832.7h6.2v6.2h-6.2zM462.3 832.7h6.2v6.2h-6.2zM468.1 832.7h6.2v6.2h-6.2zM474.0 832.7h6.2v6.2h-6.2zM479.8 832.7h6.2v6.2h-6.2zM485.6 832.7h6.2v6.2h-6.2zM491.5 832.7h6.2v6.2h-6.2zM497.3 832.7h6.2v6.2h-6.2zM503.1 832.7h6.2v6.2h-6.2zM509.0 832.7h6.2v6.2h-6.2zM514.8 832.7h6.2v6.2h-6.2zM520.6 832.7h6.2v6.2h-6.2zM526.5 832.7h6.2v6.2h-6.2zM532.3 832.7h6.2v6.2h-6.2zM538.1 832.7h6.2v6.2h-6.2zM544.0 832.7h6.2v6.2h-6.2zM549.8 832.7h6.2v6.2h-6.2zM555.6 832.7h6.2v6.2h-6.2zM561.5 832.7h6.2v6.2h-6.2zM567.3 832.7h6.2v6.2h-6.2zM573.1 832.7h6.2v6.2h-6.2zM579.0 832.7h6.2v6.2h-6.2zM584.8 832.7h6.2v6.2h-6.2zM590.6 832.7h6.2v6.2h-6.2zM596.5 832.7h6.2v6.2h-6.2zM602.3 832.7h6.2v6.2h-6.2zM608.1 832.7h6.2v6.2h-6.2zM614.0 832.7h6.2v6.2h-6.2zM619.8 832.7h6.2v6.2h-6.2zM625.6 832.7h6.2v6.2h-6.2zM631.5 832.7h6.2v6.2h-6.2zM637.3 832.7h6.2v6.2h-6.2zM643.1 832.7h6.2v6.2h-6.2zM649.0 832.7h6.2v6.2h-6.2zM654.8 832.7h6.2v6.2h-6.2zM660.6 832.7h6.2v6.2h-6.2zM666.5 832.7h6.2v6.2h-6.2zM672.3 832.7h6.2v6.2h-6.2zM678.1 832.7h6.2v6.2h-6.2zM684.0 832.7h6.2v6.2h-6.2zM689.8 832.7h6.2v6.2h-6.2zM695.6 832.7h6.2v6.2h-6.2zM701.5 832.7h6.2v6.2h-6.2zM707.3 832.7h6.2v6.2h-6.2zM713.1 832.7h6.2v6.2h-6.2zM719.0 832.7h6.2v6.2h-6.2zM724.8 832.7h6.2v6.2h-6.2zM730.6 832.7h6.2v6.2h-6.2zM736.5 832.7h6.2v6.2h-6.2zM742.3 832.7h6.2v6.2h-6.2zM748.1 832.7h6.2v6.2h-6.2zM754.0 832.7h6.2v6.2h-6.2zM759.8 832.7h6.2v6.2h-6.2zM765.6 832.7h6.2v6.2h-6.2zM771.5 832.7h6.2v6.2h-6.2zM777.3 832.7h6.2v6.2h-6.2zM783.1 832.7h6.2v6.2h-6.2zM789.0 832.7h6.2v6.2h-6.2zM794.8 832.7h6.2v6.2h-6.2zM800.6 832.7h6.2v6.2h-6.2zM806.5 832.7h6.2v6.2h-6.2zM812.3 832.7h6.2v6.2h-6.2zM818.1 832.7h6.2v6.2h-6.2zM824.0 832.7h6.2v6.2h-6.2zM829.8 832.7h6.2v6.2h-6.2zM835.6 832.7h6.2v6.2h-6.2zM841.5 832.7h6.2v6.2h-6.2zM847.3 832.7h6.2v6.2h-6.2zM853.1 832.7h6.2v6.2h-6.2zM859.0 832.7h6.2v6.2h-6.2zM864.8 832.7h6.2v6.2h-6.2zM870.6 832.7h6.2v6.2h-6.2zM876.5 832.7h6.2v6.2h-6.2zM882.3 832.7h6.2v6.2h-6.2zM888.1 832.7h6.2v6.2h-6.2zM894.0 832.7h6.2v6.2h-6.2zM899.8 832.7h6.2v6.2h-6.2zM905.6 832.7h6.2v6.2h-6.2zM911.5 832.7h6.2v6.2h-6.2zM917.3 832.7h6.2v6.2h-6.2zM923.1 832.7h6.2v6.2h-6.2zM929.0 832.7h6.2v6.2h-6.2zM934.8 832.7h6.2v6.2h-6.2zM940.6 832.7h6.2v6.2h-6.2zM176.5 826.9h6.2v6.2h-6.2zM182.3 826.9h6.2v6.2h-6.2zM188.1 826.9h6.2v6.2h-6.2zM194.0 826.9h6.2v6.2h-6.2zM199.8 826.9h6.2v6.2h-6.2zM205.6 826.9h6.2v6.2h-6.2zM211.5 826.9h6.2v6.2h-6.2zM217.3 826.9h6.2v6.2h-6.2zM223.1 826.9h6.2v6.2h-6.2zM229.0 826.9h6.2v6.2h-6.2zM234.8 826.9h6.2v6.2h-6.2zM240.6 826.9h6.2v6.2h-6.2zM246.5 826.9h6.2v6.2h-6.2zM252.3 826.9h6.2v6.2h-6.2zM258.1 826.9h6.2v6.2h-6.2zM264.0 826.9h6.2v6.2h-6.2zM269.8 826.9h6.2v6.2h-6.2zM275.6 826.9h6.2v6.2h-6.2zM281.5 826.9h6.2v6.2h-6.2zM287.3 826.9h6.2v6.2h-6.2zM293.1 826.9h6.2v6.2h-6.2zM299.0 826.9h6.2v6.2h-6.2zM304.8 826.9h6.2v6.2h-6.2zM310.6 826.9h6.2v6.2h-6.2zM316.5 826.9h6.2v6.2h-6.2zM322.3 826.9h6.2v6.2h-6.2zM328.1 826.9h6.2v6.2h-6.2zM334.0 826.9h6.2v6.2h-6.2zM339.8 826.9h6.2v6.2h-6.2zM345.6 826.9h6.2v6.2h-6.2zM351.5 826.9h6.2v6.2h-6.2zM357.3 826.9h6.2v6.2h-6.2zM363.1 826.9h6.2v6.2h-6.2zM369.0 826.9h6.2v6.2h-6.2zM374.8 826.9h6.2v6.2h-6.2zM380.6 826.9h6.2v6.2h-6.2zM386.5 826.9h6.2v6.2h-6.2zM392.3 826.9h6.2v6.2h-6.2zM398.1 826.9h6.2v6.2h-6.2zM404.0 826.9h6.2v6.2h-6.2zM409.8 826.9h6.2v6.2h-6.2zM415.6 826.9h6.2v6.2h-6.2zM421.5 826.9h6.2v6.2h-6.2zM427.3 826.9h6.2v6.2h-6.2zM433.1 826.9h6.2v6.2h-6.2zM439.0 826.9h6.2v6.2h-6.2zM444.8 826.9h6.2v6.2h-6.2zM450.6 826.9h6.2v6.2h-6.2zM456.5 826.9h6.2v6.2h-6.2zM462.3 826.9h6.2v6.2h-6.2zM468.1 826.9h6.2v6.2h-6.2zM474.0 826.9h6.2v6.2h-6.2zM479.8 826.9h6.2v6.2h-6.2zM485.6 826.9h6.2v6.2h-6.2zM491.5 826.9h6.2v6.2h-6.2zM497.3 826.9h6.2v6.2h-6.2zM503.1 826.9h6.2v6.2h-6.2zM509.0 826.9h6.2v6.2h-6.2zM514.8 826.9h6.2v6.2h-6.2zM520.6 826.9h6.2v6.2h-6.2zM526.5 826.9h6.2v6.2h-6.2zM532.3 826.9h6.2v6.2h-6.2zM538.1 826.9h6.2v6.2h-6.2zM544.0 826.9h6.2v6.2h-6.2zM549.8 826.9h6.2v6.2h-6.2zM555.6 826.9h6.2v6.2h-6.2zM561.5 826.9h6.2v6.2h-6.2zM567.3 826.9h6.2v6.2h-6.2zM573.1 826.9h6.2v6.2h-6.2zM579.0 826.9h6.2v6.2h-6.2zM584.8 826.9h6.2v6.2h-6.2zM590.6 826.9h6.2v6.2h-6.2zM596.5 826.9h6.2v6.2h-6.2zM602.3 826.9h6.2v6.2h-6.2zM608.1 826.9h6.2v6.2h-6.2zM614.0 826.9h6.2v6.2h-6.2zM619.8 826.9h6.2v6.2h-6.2zM625.6 826.9h6.2v6.2h-6.2zM631.5 826.9h6.2v6.2h-6.2zM637.3 826.9h6.2v6.2h-6.2zM643.1 826.9h6.2v6.2h-6.2zM649.0 826.9h6.2v6.2h-6.2zM654.8 826.9h6.2v6.2h-6.2zM660.6 826.9h6.2v6.2h-6.2zM666.5 826.9h6.2v6.2h-6.2zM672.3 826.9h6.2v6.2h-6.2zM678.1 826.9h6.2v6.2h-6.2zM684.0 826.9h6.2v6.2h-6.2zM689.8 826.9h6.2v6.2h-6.2zM695.6 826.9h6.2v6.2h-6.2zM701.5 826.9h6.2v6.2h-6.2zM707.3 826.9h6.2v6.2h-6.2zM713.1 826.9h6.2v6.2h-6.2zM719.0 826.9h6.2v6.2h-6.2zM724.8 826.9h6.2v6.2h-6.2zM730.6 826.9h6.2v6.2h-6.2zM736.5 826.9h6.2v6.2h-6.2zM742.3 826.9h6.2v6.2h-6.2zM748.1 826.9h6.2v6.2h-6.2zM754.0 826.9h6.2v6.2h-6.2zM759.8 826.9h6.2v6.2h-6.2zM765.6 826.9h6.2v6.2h-6.2zM771.5 826.9h6.2v6.2h-6.2zM777.3 826.9h6.2v6.2h-6.2zM783.1 826.9h6.2v6.2h-6.2zM789.0 826.9h6.2v6.2h-6.2zM794.8 826.9h6.2v6.2h-6.2zM800.6 826.9h6.2v6.2h-6.2zM806.5 826.9h6.2v6.2h-6.2zM812.3 826.9h6.2v6.2h-6.2zM818.1 826.9h6.2v6.2h-6.2zM824.0 826.9h6.2v6.2h-6.2zM829.8 826.9h6.2v6.2h-6.2zM835.6 826.9h6.2v6.2h-6.2zM841.5 826.9h6.2v6.2h-6.2zM847.3 826.9h6.2v6.2h-6.2zM853.1 826.9h6.2v6.2h-6.2zM859.0 826.9h6.2v6.2h-6.2zM864.8 826.9h6.2v6.2h-6.2zM870.6 826.9h6.2v6.2h-6.2zM876.5 826.9h6.2v6.2h-6.2zM882.3 826.9h6.2v6.2h-6.2zM888.1 826.9h6.2v6.2h-6.2zM894.0 826.9h6.2v6.2h-6.2zM899.8 826.9h6.2v6.2h-6.2zM905.6 826.9h6.2v6.2h-6.2zM911.5 826.9h6.2v6.2h-6.2zM917.3 826.9h6.2v6.2h-6.2zM923.1 826.9h6.2v6.2h-6.2zM929.0 826.9h6.2v6.2h-6.2zM934.8 826.9h6.2v6.2h-6.2zM176.5 821.0h6.2v6.2h-6.2zM182.3 821.0h6.2v6.2h-6.2zM188.1 821.0h6.2v6.2h-6.2zM194.0 821.0h6.2v6.2h-6.2zM199.8 821.0h6.2v6.2h-6.2zM205.6 821.0h6.2v6.2h-6.2zM211.5 821.0h6.2v6.2h-6.2zM217.3 821.0h6.2v6.2h-6.2zM223.1 821.0h6.2v6.2h-6.2zM229.0 821.0h6.2v6.2h-6.2zM234.8 821.0h6.2v6.2h-6.2zM240.6 821.0h6.2v6.2h-6.2zM246.5 821.0h6.2v6.2h-6.2zM252.3 821.0h6.2v6.2h-6.2zM258.1 821.0h6.2v6.2h-6.2zM264.0 821.0h6.2v6.2h-6.2zM269.8 821.0h6.2v6.2h-6.2zM275.6 821.0h6.2v6.2h-6.2zM281.5 821.0h6.2v6.2h-6.2zM287.3 821.0h6.2v6.2h-6.2zM293.1 821.0h6.2v6.2h-6.2zM299.0 821.0h6.2v6.2h-6.2zM304.8 821.0h6.2v6.2h-6.2zM310.6 821.0h6.2v6.2h-6.2zM316.5 821.0h6.2v6.2h-6.2zM322.3 821.0h6.2v6.2h-6.2zM328.1 821.0h6.2v6.2h-6.2zM334.0 821.0h6.2v6.2h-6.2zM339.8 821.0h6.2v6.2h-6.2zM345.6 821.0h6.2v6.2h-6.2zM351.5 821.0h6.2v6.2h-6.2zM357.3 821.0h6.2v6.2h-6.2zM363.1 821.0h6.2v6.2h-6.2zM369.0 821.0h6.2v6.2h-6.2zM374.8 821.0h6.2v6.2h-6.2zM380.6 821.0h6.2v6.2h-6.2zM386.5 821.0h6.2v6.2h-6.2zM392.3 821.0h6.2v6.2h-6.2zM398.1 821.0h6.2v6.2h-6.2zM404.0 821.0h6.2v6.2h-6.2zM409.8 821.0h6.2v6.2h-6.2zM415.6 821.0h6.2v6.2h-6.2zM421.5 821.0h6.2v6.2h-6.2zM427.3 821.0h6.2v6.2h-6.2zM433.1 821.0h6.2v6.2h-6.2zM439.0 821.0h6.2v6.2h-6.2zM444.8 821.0h6.2v6.2h-6.2zM450.6 821.0h6.2v6.2h-6.2zM456.5 821.0h6.2v6.2h-6.2zM462.3 821.0h6.2v6.2h-6.2zM468.1 821.0h6.2v6.2h-6.2zM474.0 821.0h6.2v6.2h-6.2zM479.8 821.0h6.2v6.2h-6.2zM485.6 821.0h6.2v6.2h-6.2zM491.5 821.0h6.2v6.2h-6.2zM497.3 821.0h6.2v6.2h-6.2zM503.1 821.0h6.2v6.2h-6.2zM509.0 821.0h6.2v6.2h-6.2zM514.8 821.0h6.2v6.2h-6.2zM520.6 821.0h6.2v6.2h-6.2zM526.5 821.0h6.2v6.2h-6.2zM532.3 821.0h6.2v6.2h-6.2zM538.1 821.0h6.2v6.2h-6.2zM544.0 821.0h6.2v6.2h-6.2zM549.8 821.0h6.2v6.2h-6.2zM555.6 821.0h6.2v6.2h-6.2zM561.5 821.0h6.2v6.2h-6.2zM567.3 821.0h6.2v6.2h-6.2zM573.1 821.0h6.2v6.2h-6.2zM579.0 821.0h6.2v6.2h-6.2zM584.8 821.0h6.2v6.2h-6.2zM590.6 821.0h6.2v6.2h-6.2zM596.5 821.0h6.2v6.2h-6.2zM602.3 821.0h6.2v6.2h-6.2zM608.1 821.0h6.2v6.2h-6.2zM614.0 821.0h6.2v6.2h-6.2zM619.8 821.0h6.2v6.2h-6.2zM625.6 821.0h6.2v6.2h-6.2zM631.5 821.0h6.2v6.2h-6.2zM637.3 821.0h6.2v6.2h-6.2zM643.1 821.0h6.2v6.2h-6.2zM649.0 821.0h6.2v6.2h-6.2zM654.8 821.0h6.2v6.2h-6.2zM660.6 821.0h6.2v6.2h-6.2zM666.5 821.0h6.2v6.2h-6.2zM672.3 821.0h6.2v6.2h-6.2zM678.1 821.0h6.2v6.2h-6.2zM684.0 821.0h6.2v6.2h-6.2zM689.8 821.0h6.2v6.2h-6.2zM695.6 821.0h6.2v6.2h-6.2zM701.5 821.0h6.2v6.2h-6.2zM707.3 821.0h6.2v6.2h-6.2zM713.1 821.0h6.2v6.2h-6.2zM719.0 821.0h6.2v6.2h-6.2zM724.8 821.0h6.2v6.2h-6.2zM730.6 821.0h6.2v6.2h-6.2zM736.5 821.0h6.2v6.2h-6.2zM742.3 821.0h6.2v6.2h-6.2zM748.1 821.0h6.2v6.2h-6.2zM754.0 821.0h6.2v6.2h-6.2zM759.8 821.0h6.2v6.2h-6.2zM765.6 821.0h6.2v6.2h-6.2zM771.5 821.0h6.2v6.2h-6.2zM777.3 821.0h6.2v6.2h-6.2zM783.1 821.0h6.2v6.2h-6.2zM789.0 821.0h6.2v6.2h-6.2zM794.8 821.0h6.2v6.2h-6.2zM800.6 821.0h6.2v6.2h-6.2zM806.5 821.0h6.2v6.2h-6.2zM812.3 821.0h6.2v6.2h-6.2zM818.1 821.0h6.2v6.2h-6.2zM824.0 821.0h6.2v6.2h-6.2zM829.8 821.0h6.2v6.2h-6.2zM835.6 821.0h6.2v6.2h-6.2zM841.5 821.0h6.2v6.2h-6.2zM847.3 821.0h6.2v6.2h-6.2zM853.1 821.0h6.2v6.2h-6.2zM859.0 821.0h6.2v6.2h-6.2zM864.8 821.0h6.2v6.2h-6.2zM870.6 821.0h6.2v6.2h-6.2zM876.5 821.0h6.2v6.2h-6.2zM882.3 821.0h6.2v6.2h-6.2zM888.1 821.0h6.2v6.2h-6.2zM894.0 821.0h6.2v6.2h-6.2zM899.8 821.0h6.2v6.2h-6.2zM905.6 821.0h6.2v6.2h-6.2zM911.5 821.0h6.2v6.2h-6.2zM917.3 821.0h6.2v6.2h-6.2zM923.1 821.0h6.2v6.2h-6.2zM929.0 821.0h6.2v6.2h-6.2zM176.5 815.2h6.2v6.2h-6.2zM182.3 815.2h6.2v6.2h-6.2zM188.1 815.2h6.2v6.2h-6.2zM194.0 815.2h6.2v6.2h-6.2zM199.8 815.2h6.2v6.2h-6.2zM205.6 815.2h6.2v6.2h-6.2zM211.5 815.2h6.2v6.2h-6.2zM217.3 815.2h6.2v6.2h-6.2zM223.1 815.2h6.2v6.2h-6.2zM229.0 815.2h6.2v6.2h-6.2zM234.8 815.2h6.2v6.2h-6.2zM240.6 815.2h6.2v6.2h-6.2zM246.5 815.2h6.2v6.2h-6.2zM252.3 815.2h6.2v6.2h-6.2zM258.1 815.2h6.2v6.2h-6.2zM264.0 815.2h6.2v6.2h-6.2zM269.8 815.2h6.2v6.2h-6.2zM275.6 815.2h6.2v6.2h-6.2zM281.5 815.2h6.2v6.2h-6.2zM287.3 815.2h6.2v6.2h-6.2zM293.1 815.2h6.2v6.2h-6.2zM299.0 815.2h6.2v6.2h-6.2zM304.8 815.2h6.2v6.2h-6.2zM310.6 815.2h6.2v6.2h-6.2zM316.5 815.2h6.2v6.2h-6.2zM322.3 815.2h6.2v6.2h-6.2zM328.1 815.2h6.2v6.2h-6.2zM334.0 815.2h6.2v6.2h-6.2zM339.8 815.2h6.2v6.2h-6.2zM345.6 815.2h6.2v6.2h-6.2zM351.5 815.2h6.2v6.2h-6.2zM357.3 815.2h6.2v6.2h-6.2zM363.1 815.2h6.2v6.2h-6.2zM369.0 815.2h6.2v6.2h-6.2zM374.8 815.2h6.2v6.2h-6.2zM380.6 815.2h6.2v6.2h-6.2zM386.5 815.2h6.2v6.2h-6.2zM392.3 815.2h6.2v6.2h-6.2zM398.1 815.2h6.2v6.2h-6.2zM404.0 815.2h6.2v6.2h-6.2zM409.8 815.2h6.2v6.2h-6.2zM415.6 815.2h6.2v6.2h-6.2zM421.5 815.2h6.2v6.2h-6.2zM427.3 815.2h6.2v6.2h-6.2zM433.1 815.2h6.2v6.2h-6.2zM439.0 815.2h6.2v6.2h-6.2zM444.8 815.2h6.2v6.2h-6.2zM450.6 815.2h6.2v6.2h-6.2zM456.5 815.2h6.2v6.2h-6.2zM462.3 815.2h6.2v6.2h-6.2zM468.1 815.2h6.2v6.2h-6.2zM474.0 815.2h6.2v6.2h-6.2zM479.8 815.2h6.2v6.2h-6.2zM485.6 815.2h6.2v6.2h-6.2zM491.5 815.2h6.2v6.2h-6.2zM497.3 815.2h6.2v6.2h-6.2zM503.1 815.2h6.2v6.2h-6.2zM509.0 815.2h6.2v6.2h-6.2zM514.8 815.2h6.2v6.2h-6.2zM520.6 815.2h6.2v6.2h-6.2zM526.5 815.2h6.2v6.2h-6.2zM532.3 815.2h6.2v6.2h-6.2zM538.1 815.2h6.2v6.2h-6.2zM544.0 815.2h6.2v6.2h-6.2zM549.8 815.2h6.2v6.2h-6.2zM555.6 815.2h6.2v6.2h-6.2zM561.5 815.2h6.2v6.2h-6.2zM567.3 815.2h6.2v6.2h-6.2zM573.1 815.2h6.2v6.2h-6.2zM579.0 815.2h6.2v6.2h-6.2zM584.8 815.2h6.2v6.2h-6.2zM590.6 815.2h6.2v6.2h-6.2zM596.5 815.2h6.2v6.2h-6.2zM602.3 815.2h6.2v6.2h-6.2zM608.1 815.2h6.2v6.2h-6.2zM614.0 815.2h6.2v6.2h-6.2zM619.8 815.2h6.2v6.2h-6.2zM625.6 815.2h6.2v6.2h-6.2zM631.5 815.2h6.2v6.2h-6.2zM637.3 815.2h6.2v6.2h-6.2zM643.1 815.2h6.2v6.2h-6.2zM649.0 815.2h6.2v6.2h-6.2zM654.8 815.2h6.2v6.2h-6.2zM660.6 815.2h6.2v6.2h-6.2zM666.5 815.2h6.2v6.2h-6.2zM672.3 815.2h6.2v6.2h-6.2zM678.1 815.2h6.2v6.2h-6.2zM684.0 815.2h6.2v6.2h-6.2zM689.8 815.2h6.2v6.2h-6.2zM695.6 815.2h6.2v6.2h-6.2zM701.5 815.2h6.2v6.2h-6.2zM707.3 815.2h6.2v6.2h-6.2zM713.1 815.2h6.2v6.2h-6.2zM719.0 815.2h6.2v6.2h-6.2zM724.8 815.2h6.2v6.2h-6.2zM730.6 815.2h6.2v6.2h-6.2zM736.5 815.2h6.2v6.2h-6.2zM742.3 815.2h6.2v6.2h-6.2zM748.1 815.2h6.2v6.2h-6.2zM754.0 815.2h6.2v6.2h-6.2zM759.8 815.2h6.2v6.2h-6.2zM765.6 815.2h6.2v6.2h-6.2zM771.5 815.2h6.2v6.2h-6.2zM777.3 815.2h6.2v6.2h-6.2zM783.1 815.2h6.2v6.2h-6.2zM789.0 815.2h6.2v6.2h-6.2zM794.8 815.2h6.2v6.2h-6.2zM800.6 815.2h6.2v6.2h-6.2zM806.5 815.2h6.2v6.2h-6.2zM812.3 815.2h6.2v6.2h-6.2zM818.1 815.2h6.2v6.2h-6.2zM824.0 815.2h6.2v6.2h-6.2zM829.8 815.2h6.2v6.2h-6.2zM835.6 815.2h6.2v6.2h-6.2zM841.5 815.2h6.2v6.2h-6.2zM847.3 815.2h6.2v6.2h-6.2zM853.1 815.2h6.2v6.2h-6.2zM859.0 815.2h6.2v6.2h-6.2zM864.8 815.2h6.2v6.2h-6.2zM870.6 815.2h6.2v6.2h-6.2zM876.5 815.2h6.2v6.2h-6.2zM882.3 815.2h6.2v6.2h-6.2zM888.1 815.2h6.2v6.2h-6.2zM894.0 815.2h6.2v6.2h-6.2zM899.8 815.2h6.2v6.2h-6.2zM905.6 815.2h6.2v6.2h-6.2zM911.5 815.2h6.2v6.2h-6.2zM917.3 815.2h6.2v6.2h-6.2zM923.1 815.2h6.2v6.2h-6.2zM176.5 809.3h6.2v6.2h-6.2zM182.3 809.3h6.2v6.2h-6.2zM188.1 809.3h6.2v6.2h-6.2zM194.0 809.3h6.2v6.2h-6.2zM199.8 809.3h6.2v6.2h-6.2zM205.6 809.3h6.2v6.2h-6.2zM211.5 809.3h6.2v6.2h-6.2zM217.3 809.3h6.2v6.2h-6.2zM223.1 809.3h6.2v6.2h-6.2zM229.0 809.3h6.2v6.2h-6.2zM234.8 809.3h6.2v6.2h-6.2zM240.6 809.3h6.2v6.2h-6.2zM246.5 809.3h6.2v6.2h-6.2zM252.3 809.3h6.2v6.2h-6.2zM258.1 809.3h6.2v6.2h-6.2zM264.0 809.3h6.2v6.2h-6.2zM269.8 809.3h6.2v6.2h-6.2zM275.6 809.3h6.2v6.2h-6.2zM281.5 809.3h6.2v6.2h-6.2zM287.3 809.3h6.2v6.2h-6.2zM293.1 809.3h6.2v6.2h-6.2zM299.0 809.3h6.2v6.2h-6.2zM304.8 809.3h6.2v6.2h-6.2zM310.6 809.3h6.2v6.2h-6.2zM316.5 809.3h6.2v6.2h-6.2zM322.3 809.3h6.2v6.2h-6.2zM328.1 809.3h6.2v6.2h-6.2zM334.0 809.3h6.2v6.2h-6.2zM339.8 809.3h6.2v6.2h-6.2zM345.6 809.3h6.2v6.2h-6.2zM351.5 809.3h6.2v6.2h-6.2zM357.3 809.3h6.2v6.2h-6.2zM363.1 809.3h6.2v6.2h-6.2zM369.0 809.3h6.2v6.2h-6.2zM374.8 809.3h6.2v6.2h-6.2zM380.6 809.3h6.2v6.2h-6.2zM386.5 809.3h6.2v6.2h-6.2zM392.3 809.3h6.2v6.2h-6.2zM398.1 809.3h6.2v6.2h-6.2zM404.0 809.3h6.2v6.2h-6.2zM409.8 809.3h6.2v6.2h-6.2zM415.6 809.3h6.2v6.2h-6.2zM421.5 809.3h6.2v6.2h-6.2zM427.3 809.3h6.2v6.2h-6.2zM433.1 809.3h6.2v6.2h-6.2zM439.0 809.3h6.2v6.2h-6.2zM444.8 809.3h6.2v6.2h-6.2zM450.6 809.3h6.2v6.2h-6.2zM456.5 809.3h6.2v6.2h-6.2zM462.3 809.3h6.2v6.2h-6.2zM468.1 809.3h6.2v6.2h-6.2zM474.0 809.3h6.2v6.2h-6.2zM479.8 809.3h6.2v6.2h-6.2zM485.6 809.3h6.2v6.2h-6.2zM491.5 809.3h6.2v6.2h-6.2zM497.3 809.3h6.2v6.2h-6.2zM503.1 809.3h6.2v6.2h-6.2zM509.0 809.3h6.2v6.2h-6.2zM514.8 809.3h6.2v6.2h-6.2zM520.6 809.3h6.2v6.2h-6.2zM526.5 809.3h6.2v6.2h-6.2zM532.3 809.3h6.2v6.2h-6.2zM538.1 809.3h6.2v6.2h-6.2zM544.0 809.3h6.2v6.2h-6.2zM549.8 809.3h6.2v6.2h-6.2zM555.6 809.3h6.2v6.2h-6.2zM561.5 809.3h6.2v6.2h-6.2zM567.3 809.3h6.2v6.2h-6.2zM573.1 809.3h6.2v6.2h-6.2zM579.0 809.3h6.2v6.2h-6.2zM584.8 809.3h6.2v6.2h-6.2zM590.6 809.3h6.2v6.2h-6.2zM596.5 809.3h6.2v6.2h-6.2zM602.3 809.3h6.2v6.2h-6.2zM608.1 809.3h6.2v6.2h-6.2zM614.0 809.3h6.2v6.2h-6.2zM619.8 809.3h6.2v6.2h-6.2zM625.6 809.3h6.2v6.2h-6.2zM631.5 809.3h6.2v6.2h-6.2zM637.3 809.3h6.2v6.2h-6.2zM643.1 809.3h6.2v6.2h-6.2zM649.0 809.3h6.2v6.2h-6.2zM654.8 809.3h6.2v6.2h-6.2zM660.6 809.3h6.2v6.2h-6.2zM666.5 809.3h6.2v6.2h-6.2zM672.3 809.3h6.2v6.2h-6.2zM678.1 809.3h6.2v6.2h-6.2zM684.0 809.3h6.2v6.2h-6.2zM689.8 809.3h6.2v6.2h-6.2zM695.6 809.3h6.2v6.2h-6.2zM701.5 809.3h6.2v6.2h-6.2zM707.3 809.3h6.2v6.2h-6.2zM713.1 809.3h6.2v6.2h-6.2zM719.0 809.3h6.2v6.2h-6.2zM724.8 809.3h6.2v6.2h-6.2zM730.6 809.3h6.2v6.2h-6.2zM736.5 809.3h6.2v6.2h-6.2zM742.3 809.3h6.2v6.2h-6.2zM748.1 809.3h6.2v6.2h-6.2zM754.0 809.3h6.2v6.2h-6.2zM759.8 809.3h6.2v6.2h-6.2zM765.6 809.3h6.2v6.2h-6.2zM771.5 809.3h6.2v6.2h-6.2zM777.3 809.3h6.2v6.2h-6.2zM783.1 809.3h6.2v6.2h-6.2zM789.0 809.3h6.2v6.2h-6.2zM794.8 809.3h6.2v6.2h-6.2zM800.6 809.3h6.2v6.2h-6.2zM806.5 809.3h6.2v6.2h-6.2zM812.3 809.3h6.2v6.2h-6.2zM818.1 809.3h6.2v6.2h-6.2zM824.0 809.3h6.2v6.2h-6.2zM829.8 809.3h6.2v6.2h-6.2zM835.6 809.3h6.2v6.2h-6.2zM841.5 809.3h6.2v6.2h-6.2zM847.3 809.3h6.2v6.2h-6.2zM853.1 809.3h6.2v6.2h-6.2zM859.0 809.3h6.2v6.2h-6.2zM864.8 809.3h6.2v6.2h-6.2zM870.6 809.3h6.2v6.2h-6.2zM876.5 809.3h6.2v6.2h-6.2zM882.3 809.3h6.2v6.2h-6.2zM888.1 809.3h6.2v6.2h-6.2zM894.0 809.3h6.2v6.2h-6.2zM899.8 809.3h6.2v6.2h-6.2zM905.6 809.3h6.2v6.2h-6.2zM911.5 809.3h6.2v6.2h-6.2zM176.5 803.5h6.2v6.2h-6.2zM182.3 803.5h6.2v6.2h-6.2zM188.1 803.5h6.2v6.2h-6.2zM194.0 803.5h6.2v6.2h-6.2zM199.8 803.5h6.2v6.2h-6.2zM205.6 803.5h6.2v6.2h-6.2zM211.5 803.5h6.2v6.2h-6.2zM217.3 803.5h6.2v6.2h-6.2zM223.1 803.5h6.2v6.2h-6.2zM229.0 803.5h6.2v6.2h-6.2zM234.8 803.5h6.2v6.2h-6.2zM240.6 803.5h6.2v6.2h-6.2zM246.5 803.5h6.2v6.2h-6.2zM252.3 803.5h6.2v6.2h-6.2zM258.1 803.5h6.2v6.2h-6.2zM264.0 803.5h6.2v6.2h-6.2zM269.8 803.5h6.2v6.2h-6.2zM275.6 803.5h6.2v6.2h-6.2zM281.5 803.5h6.2v6.2h-6.2zM287.3 803.5h6.2v6.2h-6.2zM293.1 803.5h6.2v6.2h-6.2zM299.0 803.5h6.2v6.2h-6.2zM304.8 803.5h6.2v6.2h-6.2zM310.6 803.5h6.2v6.2h-6.2zM316.5 803.5h6.2v6.2h-6.2zM322.3 803.5h6.2v6.2h-6.2zM328.1 803.5h6.2v6.2h-6.2zM334.0 803.5h6.2v6.2h-6.2zM339.8 803.5h6.2v6.2h-6.2zM345.6 803.5h6.2v6.2h-6.2zM351.5 803.5h6.2v6.2h-6.2zM357.3 803.5h6.2v6.2h-6.2zM363.1 803.5h6.2v6.2h-6.2zM369.0 803.5h6.2v6.2h-6.2zM374.8 803.5h6.2v6.2h-6.2zM380.6 803.5h6.2v6.2h-6.2zM386.5 803.5h6.2v6.2h-6.2zM392.3 803.5h6.2v6.2h-6.2zM398.1 803.5h6.2v6.2h-6.2zM404.0 803.5h6.2v6.2h-6.2zM409.8 803.5h6.2v6.2h-6.2zM415.6 803.5h6.2v6.2h-6.2zM421.5 803.5h6.2v6.2h-6.2zM427.3 803.5h6.2v6.2h-6.2zM433.1 803.5h6.2v6.2h-6.2zM439.0 803.5h6.2v6.2h-6.2zM444.8 803.5h6.2v6.2h-6.2zM450.6 803.5h6.2v6.2h-6.2zM456.5 803.5h6.2v6.2h-6.2zM462.3 803.5h6.2v6.2h-6.2zM468.1 803.5h6.2v6.2h-6.2zM474.0 803.5h6.2v6.2h-6.2zM479.8 803.5h6.2v6.2h-6.2zM485.6 803.5h6.2v6.2h-6.2zM491.5 803.5h6.2v6.2h-6.2zM497.3 803.5h6.2v6.2h-6.2zM503.1 803.5h6.2v6.2h-6.2zM509.0 803.5h6.2v6.2h-6.2zM514.8 803.5h6.2v6.2h-6.2zM520.6 803.5h6.2v6.2h-6.2zM526.5 803.5h6.2v6.2h-6.2zM532.3 803.5h6.2v6.2h-6.2zM538.1 803.5h6.2v6.2h-6.2zM544.0 803.5h6.2v6.2h-6.2zM549.8 803.5h6.2v6.2h-6.2zM555.6 803.5h6.2v6.2h-6.2zM561.5 803.5h6.2v6.2h-6.2zM567.3 803.5h6.2v6.2h-6.2zM573.1 803.5h6.2v6.2h-6.2zM579.0 803.5h6.2v6.2h-6.2zM584.8 803.5h6.2v6.2h-6.2zM590.6 803.5h6.2v6.2h-6.2zM596.5 803.5h6.2v6.2h-6.2zM602.3 803.5h6.2v6.2h-6.2zM608.1 803.5h6.2v6.2h-6.2zM614.0 803.5h6.2v6.2h-6.2zM619.8 803.5h6.2v6.2h-6.2zM625.6 803.5h6.2v6.2h-6.2zM631.5 803.5h6.2v6.2h-6.2zM637.3 803.5h6.2v6.2h-6.2zM643.1 803.5h6.2v6.2h-6.2zM649.0 803.5h6.2v6.2h-6.2zM654.8 803.5h6.2v6.2h-6.2zM660.6 803.5h6.2v6.2h-6.2zM666.5 803.5h6.2v6.2h-6.2zM672.3 803.5h6.2v6.2h-6.2zM678.1 803.5h6.2v6.2h-6.2zM684.0 803.5h6.2v6.2h-6.2zM689.8 803.5h6.2v6.2h-6.2zM695.6 803.5h6.2v6.2h-6.2zM701.5 803.5h6.2v6.2h-6.2zM707.3 803.5h6.2v6.2h-6.2zM713.1 803.5h6.2v6.2h-6.2zM719.0 803.5h6.2v6.2h-6.2zM724.8 803.5h6.2v6.2h-6.2zM730.6 803.5h6.2v6.2h-6.2zM736.5 803.5h6.2v6.2h-6.2zM742.3 803.5h6.2v6.2h-6.2zM748.1 803.5h6.2v6.2h-6.2zM754.0 803.5h6.2v6.2h-6.2zM759.8 803.5h6.2v6.2h-6.2zM765.6 803.5h6.2v6.2h-6.2zM771.5 803.5h6.2v6.2h-6.2zM777.3 803.5h6.2v6.2h-6.2zM783.1 803.5h6.2v6.2h-6.2zM789.0 803.5h6.2v6.2h-6.2zM794.8 803.5h6.2v6.2h-6.2zM800.6 803.5h6.2v6.2h-6.2zM806.5 803.5h6.2v6.2h-6.2zM812.3 803.5h6.2v6.2h-6.2zM818.1 803.5h6.2v6.2h-6.2zM824.0 803.5h6.2v6.2h-6.2zM829.8 803.5h6.2v6.2h-6.2zM835.6 803.5h6.2v6.2h-6.2zM841.5 803.5h6.2v6.2h-6.2zM847.3 803.5h6.2v6.2h-6.2zM853.1 803.5h6.2v6.2h-6.2zM859.0 803.5h6.2v6.2h-6.2zM864.8 803.5h6.2v6.2h-6.2zM870.6 803.5h6.2v6.2h-6.2zM876.5 803.5h6.2v6.2h-6.2zM882.3 803.5h6.2v6.2h-6.2zM888.1 803.5h6.2v6.2h-6.2zM894.0 803.5h6.2v6.2h-6.2zM899.8 803.5h6.2v6.2h-6.2zM905.6 803.5h6.2v6.2h-6.2zM176.5 797.7h6.2v6.2h-6.2zM182.3 797.7h6.2v6.2h-6.2zM188.1 797.7h6.2v6.2h-6.2zM194.0 797.7h6.2v6.2h-6.2zM199.8 797.7h6.2v6.2h-6.2zM205.6 797.7h6.2v6.2h-6.2zM211.5 797.7h6.2v6.2h-6.2zM217.3 797.7h6.2v6.2h-6.2zM223.1 797.7h6.2v6.2h-6.2zM229.0 797.7h6.2v6.2h-6.2zM234.8 797.7h6.2v6.2h-6.2zM240.6 797.7h6.2v6.2h-6.2zM246.5 797.7h6.2v6.2h-6.2zM252.3 797.7h6.2v6.2h-6.2zM258.1 797.7h6.2v6.2h-6.2zM264.0 797.7h6.2v6.2h-6.2zM269.8 797.7h6.2v6.2h-6.2zM275.6 797.7h6.2v6.2h-6.2zM281.5 797.7h6.2v6.2h-6.2zM287.3 797.7h6.2v6.2h-6.2zM293.1 797.7h6.2v6.2h-6.2zM299.0 797.7h6.2v6.2h-6.2zM304.8 797.7h6.2v6.2h-6.2zM310.6 797.7h6.2v6.2h-6.2zM316.5 797.7h6.2v6.2h-6.2zM322.3 797.7h6.2v6.2h-6.2zM328.1 797.7h6.2v6.2h-6.2zM334.0 797.7h6.2v6.2h-6.2zM339.8 797.7h6.2v6.2h-6.2zM345.6 797.7h6.2v6.2h-6.2zM351.5 797.7h6.2v6.2h-6.2zM357.3 797.7h6.2v6.2h-6.2zM363.1 797.7h6.2v6.2h-6.2zM369.0 797.7h6.2v6.2h-6.2zM374.8 797.7h6.2v6.2h-6.2zM380.6 797.7h6.2v6.2h-6.2zM386.5 797.7h6.2v6.2h-6.2zM392.3 797.7h6.2v6.2h-6.2zM398.1 797.7h6.2v6.2h-6.2zM404.0 797.7h6.2v6.2h-6.2zM409.8 797.7h6.2v6.2h-6.2zM415.6 797.7h6.2v6.2h-6.2zM421.5 797.7h6.2v6.2h-6.2zM427.3 797.7h6.2v6.2h-6.2zM433.1 797.7h6.2v6.2h-6.2zM439.0 797.7h6.2v6.2h-6.2zM444.8 797.7h6.2v6.2h-6.2zM450.6 797.7h6.2v6.2h-6.2zM456.5 797.7h6.2v6.2h-6.2zM462.3 797.7h6.2v6.2h-6.2zM468.1 797.7h6.2v6.2h-6.2zM474.0 797.7h6.2v6.2h-6.2zM479.8 797.7h6.2v6.2h-6.2zM485.6 797.7h6.2v6.2h-6.2zM491.5 797.7h6.2v6.2h-6.2zM497.3 797.7h6.2v6.2h-6.2zM503.1 797.7h6.2v6.2h-6.2zM509.0 797.7h6.2v6.2h-6.2zM514.8 797.7h6.2v6.2h-6.2zM520.6 797.7h6.2v6.2h-6.2zM526.5 797.7h6.2v6.2h-6.2zM532.3 797.7h6.2v6.2h-6.2zM538.1 797.7h6.2v6.2h-6.2zM544.0 797.7h6.2v6.2h-6.2zM549.8 797.7h6.2v6.2h-6.2zM555.6 797.7h6.2v6.2h-6.2zM561.5 797.7h6.2v6.2h-6.2zM567.3 797.7h6.2v6.2h-6.2zM573.1 797.7h6.2v6.2h-6.2zM579.0 797.7h6.2v6.2h-6.2zM584.8 797.7h6.2v6.2h-6.2zM590.6 797.7h6.2v6.2h-6.2zM596.5 797.7h6.2v6.2h-6.2zM602.3 797.7h6.2v6.2h-6.2zM608.1 797.7h6.2v6.2h-6.2zM614.0 797.7h6.2v6.2h-6.2zM619.8 797.7h6.2v6.2h-6.2zM625.6 797.7h6.2v6.2h-6.2zM631.5 797.7h6.2v6.2h-6.2zM637.3 797.7h6.2v6.2h-6.2zM643.1 797.7h6.2v6.2h-6.2zM649.0 797.7h6.2v6.2h-6.2zM654.8 797.7h6.2v6.2h-6.2zM660.6 797.7h6.2v6.2h-6.2zM666.5 797.7h6.2v6.2h-6.2zM672.3 797.7h6.2v6.2h-6.2zM678.1 797.7h6.2v6.2h-6.2zM684.0 797.7h6.2v6.2h-6.2zM689.8 797.7h6.2v6.2h-6.2zM695.6 797.7h6.2v6.2h-6.2zM701.5 797.7h6.2v6.2h-6.2zM707.3 797.7h6.2v6.2h-6.2zM713.1 797.7h6.2v6.2h-6.2zM719.0 797.7h6.2v6.2h-6.2zM724.8 797.7h6.2v6.2h-6.2zM730.6 797.7h6.2v6.2h-6.2zM736.5 797.7h6.2v6.2h-6.2zM742.3 797.7h6.2v6.2h-6.2zM748.1 797.7h6.2v6.2h-6.2zM754.0 797.7h6.2v6.2h-6.2zM759.8 797.7h6.2v6.2h-6.2zM765.6 797.7h6.2v6.2h-6.2zM771.5 797.7h6.2v6.2h-6.2zM777.3 797.7h6.2v6.2h-6.2zM783.1 797.7h6.2v6.2h-6.2zM789.0 797.7h6.2v6.2h-6.2zM794.8 797.7h6.2v6.2h-6.2zM800.6 797.7h6.2v6.2h-6.2zM806.5 797.7h6.2v6.2h-6.2zM812.3 797.7h6.2v6.2h-6.2zM818.1 797.7h6.2v6.2h-6.2zM824.0 797.7h6.2v6.2h-6.2zM829.8 797.7h6.2v6.2h-6.2zM835.6 797.7h6.2v6.2h-6.2zM841.5 797.7h6.2v6.2h-6.2zM847.3 797.7h6.2v6.2h-6.2zM853.1 797.7h6.2v6.2h-6.2zM859.0 797.7h6.2v6.2h-6.2zM864.8 797.7h6.2v6.2h-6.2zM870.6 797.7h6.2v6.2h-6.2zM876.5 797.7h6.2v6.2h-6.2zM882.3 797.7h6.2v6.2h-6.2zM888.1 797.7h6.2v6.2h-6.2zM894.0 797.7h6.2v6.2h-6.2zM899.8 797.7h6.2v6.2h-6.2zM176.5 791.8h6.2v6.2h-6.2zM182.3 791.8h6.2v6.2h-6.2zM188.1 791.8h6.2v6.2h-6.2zM194.0 791.8h6.2v6.2h-6.2zM199.8 791.8h6.2v6.2h-6.2zM205.6 791.8h6.2v6.2h-6.2zM211.5 791.8h6.2v6.2h-6.2zM217.3 791.8h6.2v6.2h-6.2zM223.1 791.8h6.2v6.2h-6.2zM229.0 791.8h6.2v6.2h-6.2zM234.8 791.8h6.2v6.2h-6.2zM240.6 791.8h6.2v6.2h-6.2zM246.5 791.8h6.2v6.2h-6.2zM252.3 791.8h6.2v6.2h-6.2zM258.1 791.8h6.2v6.2h-6.2zM264.0 791.8h6.2v6.2h-6.2zM269.8 791.8h6.2v6.2h-6.2zM275.6 791.8h6.2v6.2h-6.2zM281.5 791.8h6.2v6.2h-6.2zM287.3 791.8h6.2v6.2h-6.2zM293.1 791.8h6.2v6.2h-6.2zM299.0 791.8h6.2v6.2h-6.2zM304.8 791.8h6.2v6.2h-6.2zM310.6 791.8h6.2v6.2h-6.2zM316.5 791.8h6.2v6.2h-6.2zM322.3 791.8h6.2v6.2h-6.2zM328.1 791.8h6.2v6.2h-6.2zM334.0 791.8h6.2v6.2h-6.2zM339.8 791.8h6.2v6.2h-6.2zM345.6 791.8h6.2v6.2h-6.2zM351.5 791.8h6.2v6.2h-6.2zM357.3 791.8h6.2v6.2h-6.2zM363.1 791.8h6.2v6.2h-6.2zM369.0 791.8h6.2v6.2h-6.2zM374.8 791.8h6.2v6.2h-6.2zM380.6 791.8h6.2v6.2h-6.2zM386.5 791.8h6.2v6.2h-6.2zM392.3 791.8h6.2v6.2h-6.2zM398.1 791.8h6.2v6.2h-6.2zM404.0 791.8h6.2v6.2h-6.2zM409.8 791.8h6.2v6.2h-6.2zM415.6 791.8h6.2v6.2h-6.2zM421.5 791.8h6.2v6.2h-6.2zM427.3 791.8h6.2v6.2h-6.2zM433.1 791.8h6.2v6.2h-6.2zM439.0 791.8h6.2v6.2h-6.2zM444.8 791.8h6.2v6.2h-6.2zM450.6 791.8h6.2v6.2h-6.2zM456.5 791.8h6.2v6.2h-6.2zM462.3 791.8h6.2v6.2h-6.2zM468.1 791.8h6.2v6.2h-6.2zM474.0 791.8h6.2v6.2h-6.2zM479.8 791.8h6.2v6.2h-6.2zM485.6 791.8h6.2v6.2h-6.2zM491.5 791.8h6.2v6.2h-6.2zM497.3 791.8h6.2v6.2h-6.2zM503.1 791.8h6.2v6.2h-6.2zM509.0 791.8h6.2v6.2h-6.2zM514.8 791.8h6.2v6.2h-6.2zM520.6 791.8h6.2v6.2h-6.2zM526.5 791.8h6.2v6.2h-6.2zM532.3 791.8h6.2v6.2h-6.2zM538.1 791.8h6.2v6.2h-6.2zM544.0 791.8h6.2v6.2h-6.2zM549.8 791.8h6.2v6.2h-6.2zM555.6 791.8h6.2v6.2h-6.2zM561.5 791.8h6.2v6.2h-6.2zM567.3 791.8h6.2v6.2h-6.2zM573.1 791.8h6.2v6.2h-6.2zM579.0 791.8h6.2v6.2h-6.2zM584.8 791.8h6.2v6.2h-6.2zM590.6 791.8h6.2v6.2h-6.2zM596.5 791.8h6.2v6.2h-6.2zM602.3 791.8h6.2v6.2h-6.2zM608.1 791.8h6.2v6.2h-6.2zM614.0 791.8h6.2v6.2h-6.2zM619.8 791.8h6.2v6.2h-6.2zM625.6 791.8h6.2v6.2h-6.2zM631.5 791.8h6.2v6.2h-6.2zM637.3 791.8h6.2v6.2h-6.2zM643.1 791.8h6.2v6.2h-6.2zM649.0 791.8h6.2v6.2h-6.2zM654.8 791.8h6.2v6.2h-6.2zM660.6 791.8h6.2v6.2h-6.2zM666.5 791.8h6.2v6.2h-6.2zM672.3 791.8h6.2v6.2h-6.2zM678.1 791.8h6.2v6.2h-6.2zM684.0 791.8h6.2v6.2h-6.2zM689.8 791.8h6.2v6.2h-6.2zM695.6 791.8h6.2v6.2h-6.2zM701.5 791.8h6.2v6.2h-6.2zM707.3 791.8h6.2v6.2h-6.2zM713.1 791.8h6.2v6.2h-6.2zM719.0 791.8h6.2v6.2h-6.2zM724.8 791.8h6.2v6.2h-6.2zM730.6 791.8h6.2v6.2h-6.2zM736.5 791.8h6.2v6.2h-6.2zM742.3 791.8h6.2v6.2h-6.2zM748.1 791.8h6.2v6.2h-6.2zM754.0 791.8h6.2v6.2h-6.2zM759.8 791.8h6.2v6.2h-6.2zM765.6 791.8h6.2v6.2h-6.2zM771.5 791.8h6.2v6.2h-6.2zM777.3 791.8h6.2v6.2h-6.2zM783.1 791.8h6.2v6.2h-6.2zM789.0 791.8h6.2v6.2h-6.2zM794.8 791.8h6.2v6.2h-6.2zM800.6 791.8h6.2v6.2h-6.2zM806.5 791.8h6.2v6.2h-6.2zM812.3 791.8h6.2v6.2h-6.2zM818.1 791.8h6.2v6.2h-6.2zM824.0 791.8h6.2v6.2h-6.2zM829.8 791.8h6.2v6.2h-6.2zM835.6 791.8h6.2v6.2h-6.2zM841.5 791.8h6.2v6.2h-6.2zM847.3 791.8h6.2v6.2h-6.2zM853.1 791.8h6.2v6.2h-6.2zM859.0 791.8h6.2v6.2h-6.2zM864.8 791.8h6.2v6.2h-6.2zM870.6 791.8h6.2v6.2h-6.2zM876.5 791.8h6.2v6.2h-6.2zM882.3 791.8h6.2v6.2h-6.2zM888.1 791.8h6.2v6.2h-6.2zM176.5 786.0h6.2v6.2h-6.2zM182.3 786.0h6.2v6.2h-6.2zM188.1 786.0h6.2v6.2h-6.2zM194.0 786.0h6.2v6.2h-6.2zM199.8 786.0h6.2v6.2h-6.2zM205.6 786.0h6.2v6.2h-6.2zM211.5 786.0h6.2v6.2h-6.2zM217.3 786.0h6.2v6.2h-6.2zM223.1 786.0h6.2v6.2h-6.2zM229.0 786.0h6.2v6.2h-6.2zM234.8 786.0h6.2v6.2h-6.2zM240.6 786.0h6.2v6.2h-6.2zM246.5 786.0h6.2v6.2h-6.2zM252.3 786.0h6.2v6.2h-6.2zM258.1 786.0h6.2v6.2h-6.2zM264.0 786.0h6.2v6.2h-6.2zM269.8 786.0h6.2v6.2h-6.2zM275.6 786.0h6.2v6.2h-6.2zM281.5 786.0h6.2v6.2h-6.2zM287.3 786.0h6.2v6.2h-6.2zM293.1 786.0h6.2v6.2h-6.2zM299.0 786.0h6.2v6.2h-6.2zM304.8 786.0h6.2v6.2h-6.2zM310.6 786.0h6.2v6.2h-6.2zM316.5 786.0h6.2v6.2h-6.2zM322.3 786.0h6.2v6.2h-6.2zM328.1 786.0h6.2v6.2h-6.2zM334.0 786.0h6.2v6.2h-6.2zM339.8 786.0h6.2v6.2h-6.2zM345.6 786.0h6.2v6.2h-6.2zM351.5 786.0h6.2v6.2h-6.2zM357.3 786.0h6.2v6.2h-6.2zM363.1 786.0h6.2v6.2h-6.2zM369.0 786.0h6.2v6.2h-6.2zM374.8 786.0h6.2v6.2h-6.2zM380.6 786.0h6.2v6.2h-6.2zM386.5 786.0h6.2v6.2h-6.2zM392.3 786.0h6.2v6.2h-6.2zM398.1 786.0h6.2v6.2h-6.2zM404.0 786.0h6.2v6.2h-6.2zM409.8 786.0h6.2v6.2h-6.2zM415.6 786.0h6.2v6.2h-6.2zM421.5 786.0h6.2v6.2h-6.2zM427.3 786.0h6.2v6.2h-6.2zM433.1 786.0h6.2v6.2h-6.2zM439.0 786.0h6.2v6.2h-6.2zM444.8 786.0h6.2v6.2h-6.2zM450.6 786.0h6.2v6.2h-6.2zM456.5 786.0h6.2v6.2h-6.2zM462.3 786.0h6.2v6.2h-6.2zM468.1 786.0h6.2v6.2h-6.2zM474.0 786.0h6.2v6.2h-6.2zM479.8 786.0h6.2v6.2h-6.2zM485.6 786.0h6.2v6.2h-6.2zM491.5 786.0h6.2v6.2h-6.2zM497.3 786.0h6.2v6.2h-6.2zM503.1 786.0h6.2v6.2h-6.2zM509.0 786.0h6.2v6.2h-6.2zM514.8 786.0h6.2v6.2h-6.2zM520.6 786.0h6.2v6.2h-6.2zM526.5 786.0h6.2v6.2h-6.2zM532.3 786.0h6.2v6.2h-6.2zM538.1 786.0h6.2v6.2h-6.2zM544.0 786.0h6.2v6.2h-6.2zM549.8 786.0h6.2v6.2h-6.2zM555.6 786.0h6.2v6.2h-6.2zM561.5 786.0h6.2v6.2h-6.2zM567.3 786.0h6.2v6.2h-6.2zM573.1 786.0h6.2v6.2h-6.2zM579.0 786.0h6.2v6.2h-6.2zM584.8 786.0h6.2v6.2h-6.2zM590.6 786.0h6.2v6.2h-6.2zM596.5 786.0h6.2v6.2h-6.2zM602.3 786.0h6.2v6.2h-6.2zM608.1 786.0h6.2v6.2h-6.2zM614.0 786.0h6.2v6.2h-6.2zM619.8 786.0h6.2v6.2h-6.2zM625.6 786.0h6.2v6.2h-6.2zM631.5 786.0h6.2v6.2h-6.2zM789.0 786.0h6.2v6.2h-6.2zM794.8 786.0h6.2v6.2h-6.2zM800.6 786.0h6.2v6.2h-6.2zM806.5 786.0h6.2v6.2h-6.2zM812.3 786.0h6.2v6.2h-6.2zM818.1 786.0h6.2v6.2h-6.2zM824.0 786.0h6.2v6.2h-6.2zM829.8 786.0h6.2v6.2h-6.2zM835.6 786.0h6.2v6.2h-6.2zM841.5 786.0h6.2v6.2h-6.2zM847.3 786.0h6.2v6.2h-6.2zM853.1 786.0h6.2v6.2h-6.2zM859.0 786.0h6.2v6.2h-6.2zM864.8 786.0h6.2v6.2h-6.2zM870.6 786.0h6.2v6.2h-6.2zM876.5 786.0h6.2v6.2h-6.2zM882.3 786.0h6.2v6.2h-6.2zM176.5 780.1h6.2v6.2h-6.2zM182.3 780.1h6.2v6.2h-6.2zM188.1 780.1h6.2v6.2h-6.2zM194.0 780.1h6.2v6.2h-6.2zM199.8 780.1h6.2v6.2h-6.2zM205.6 780.1h6.2v6.2h-6.2zM211.5 780.1h6.2v6.2h-6.2zM217.3 780.1h6.2v6.2h-6.2zM223.1 780.1h6.2v6.2h-6.2zM229.0 780.1h6.2v6.2h-6.2zM234.8 780.1h6.2v6.2h-6.2zM240.6 780.1h6.2v6.2h-6.2zM246.5 780.1h6.2v6.2h-6.2zM252.3 780.1h6.2v6.2h-6.2zM258.1 780.1h6.2v6.2h-6.2zM264.0 780.1h6.2v6.2h-6.2zM269.8 780.1h6.2v6.2h-6.2zM275.6 780.1h6.2v6.2h-6.2zM281.5 780.1h6.2v6.2h-6.2zM287.3 780.1h6.2v6.2h-6.2zM293.1 780.1h6.2v6.2h-6.2zM299.0 780.1h6.2v6.2h-6.2zM304.8 780.1h6.2v6.2h-6.2zM310.6 780.1h6.2v6.2h-6.2zM316.5 780.1h6.2v6.2h-6.2zM322.3 780.1h6.2v6.2h-6.2zM328.1 780.1h6.2v6.2h-6.2zM334.0 780.1h6.2v6.2h-6.2zM339.8 780.1h6.2v6.2h-6.2zM345.6 780.1h6.2v6.2h-6.2zM351.5 780.1h6.2v6.2h-6.2zM357.3 780.1h6.2v6.2h-6.2zM363.1 780.1h6.2v6.2h-6.2zM369.0 780.1h6.2v6.2h-6.2zM374.8 780.1h6.2v6.2h-6.2zM380.6 780.1h6.2v6.2h-6.2zM386.5 780.1h6.2v6.2h-6.2zM392.3 780.1h6.2v6.2h-6.2zM398.1 780.1h6.2v6.2h-6.2zM404.0 780.1h6.2v6.2h-6.2zM409.8 780.1h6.2v6.2h-6.2zM415.6 780.1h6.2v6.2h-6.2zM421.5 780.1h6.2v6.2h-6.2zM427.3 780.1h6.2v6.2h-6.2zM433.1 780.1h6.2v6.2h-6.2zM439.0 780.1h6.2v6.2h-6.2zM444.8 780.1h6.2v6.2h-6.2zM450.6 780.1h6.2v6.2h-6.2zM456.5 780.1h6.2v6.2h-6.2zM462.3 780.1h6.2v6.2h-6.2zM468.1 780.1h6.2v6.2h-6.2zM474.0 780.1h6.2v6.2h-6.2zM479.8 780.1h6.2v6.2h-6.2zM485.6 780.1h6.2v6.2h-6.2zM491.5 780.1h6.2v6.2h-6.2zM497.3 780.1h6.2v6.2h-6.2zM503.1 780.1h6.2v6.2h-6.2zM509.0 780.1h6.2v6.2h-6.2zM514.8 780.1h6.2v6.2h-6.2zM520.6 780.1h6.2v6.2h-6.2zM526.5 780.1h6.2v6.2h-6.2zM532.3 780.1h6.2v6.2h-6.2zM538.1 780.1h6.2v6.2h-6.2zM544.0 780.1h6.2v6.2h-6.2zM549.8 780.1h6.2v6.2h-6.2zM555.6 780.1h6.2v6.2h-6.2zM561.5 780.1h6.2v6.2h-6.2zM567.3 780.1h6.2v6.2h-6.2zM573.1 780.1h6.2v6.2h-6.2zM579.0 780.1h6.2v6.2h-6.2zM584.8 780.1h6.2v6.2h-6.2zM590.6 780.1h6.2v6.2h-6.2zM596.5 780.1h6.2v6.2h-6.2zM602.3 780.1h6.2v6.2h-6.2zM608.1 780.1h6.2v6.2h-6.2zM614.0 780.1h6.2v6.2h-6.2zM619.8 780.1h6.2v6.2h-6.2zM625.6 780.1h6.2v6.2h-6.2zM631.5 780.1h6.2v6.2h-6.2zM789.0 780.1h6.2v6.2h-6.2zM794.8 780.1h6.2v6.2h-6.2zM800.6 780.1h6.2v6.2h-6.2zM806.5 780.1h6.2v6.2h-6.2zM812.3 780.1h6.2v6.2h-6.2zM818.1 780.1h6.2v6.2h-6.2zM824.0 780.1h6.2v6.2h-6.2zM829.8 780.1h6.2v6.2h-6.2zM176.5 774.3h6.2v6.2h-6.2zM182.3 774.3h6.2v6.2h-6.2zM188.1 774.3h6.2v6.2h-6.2zM194.0 774.3h6.2v6.2h-6.2zM199.8 774.3h6.2v6.2h-6.2zM205.6 774.3h6.2v6.2h-6.2zM211.5 774.3h6.2v6.2h-6.2zM217.3 774.3h6.2v6.2h-6.2zM223.1 774.3h6.2v6.2h-6.2zM229.0 774.3h6.2v6.2h-6.2zM234.8 774.3h6.2v6.2h-6.2zM240.6 774.3h6.2v6.2h-6.2zM246.5 774.3h6.2v6.2h-6.2zM252.3 774.3h6.2v6.2h-6.2zM258.1 774.3h6.2v6.2h-6.2zM264.0 774.3h6.2v6.2h-6.2zM269.8 774.3h6.2v6.2h-6.2zM275.6 774.3h6.2v6.2h-6.2zM281.5 774.3h6.2v6.2h-6.2zM287.3 774.3h6.2v6.2h-6.2zM293.1 774.3h6.2v6.2h-6.2zM299.0 774.3h6.2v6.2h-6.2zM304.8 774.3h6.2v6.2h-6.2zM310.6 774.3h6.2v6.2h-6.2zM316.5 774.3h6.2v6.2h-6.2zM322.3 774.3h6.2v6.2h-6.2zM328.1 774.3h6.2v6.2h-6.2zM334.0 774.3h6.2v6.2h-6.2zM339.8 774.3h6.2v6.2h-6.2zM345.6 774.3h6.2v6.2h-6.2zM351.5 774.3h6.2v6.2h-6.2zM357.3 774.3h6.2v6.2h-6.2zM363.1 774.3h6.2v6.2h-6.2zM369.0 774.3h6.2v6.2h-6.2zM374.8 774.3h6.2v6.2h-6.2zM380.6 774.3h6.2v6.2h-6.2zM386.5 774.3h6.2v6.2h-6.2zM392.3 774.3h6.2v6.2h-6.2zM398.1 774.3h6.2v6.2h-6.2zM404.0 774.3h6.2v6.2h-6.2zM409.8 774.3h6.2v6.2h-6.2zM415.6 774.3h6.2v6.2h-6.2zM421.5 774.3h6.2v6.2h-6.2zM427.3 774.3h6.2v6.2h-6.2zM433.1 774.3h6.2v6.2h-6.2zM439.0 774.3h6.2v6.2h-6.2zM444.8 774.3h6.2v6.2h-6.2zM450.6 774.3h6.2v6.2h-6.2zM456.5 774.3h6.2v6.2h-6.2zM462.3 774.3h6.2v6.2h-6.2zM468.1 774.3h6.2v6.2h-6.2zM474.0 774.3h6.2v6.2h-6.2zM479.8 774.3h6.2v6.2h-6.2zM485.6 774.3h6.2v6.2h-6.2zM491.5 774.3h6.2v6.2h-6.2zM497.3 774.3h6.2v6.2h-6.2zM503.1 774.3h6.2v6.2h-6.2zM509.0 774.3h6.2v6.2h-6.2zM514.8 774.3h6.2v6.2h-6.2zM520.6 774.3h6.2v6.2h-6.2zM526.5 774.3h6.2v6.2h-6.2zM532.3 774.3h6.2v6.2h-6.2zM538.1 774.3h6.2v6.2h-6.2zM544.0 774.3h6.2v6.2h-6.2zM549.8 774.3h6.2v6.2h-6.2zM555.6 774.3h6.2v6.2h-6.2zM561.5 774.3h6.2v6.2h-6.2zM567.3 774.3h6.2v6.2h-6.2zM573.1 774.3h6.2v6.2h-6.2zM579.0 774.3h6.2v6.2h-6.2zM584.8 774.3h6.2v6.2h-6.2zM590.6 774.3h6.2v6.2h-6.2zM596.5 774.3h6.2v6.2h-6.2zM602.3 774.3h6.2v6.2h-6.2zM608.1 774.3h6.2v6.2h-6.2zM614.0 774.3h6.2v6.2h-6.2zM619.8 774.3h6.2v6.2h-6.2zM625.6 774.3h6.2v6.2h-6.2zM631.5 774.3h6.2v6.2h-6.2zM789.0 774.3h6.2v6.2h-6.2zM794.8 774.3h6.2v6.2h-6.2zM800.6 774.3h6.2v6.2h-6.2zM806.5 774.3h6.2v6.2h-6.2zM176.5 768.5h6.2v6.2h-6.2zM182.3 768.5h6.2v6.2h-6.2zM188.1 768.5h6.2v6.2h-6.2zM194.0 768.5h6.2v6.2h-6.2zM199.8 768.5h6.2v6.2h-6.2zM205.6 768.5h6.2v6.2h-6.2zM211.5 768.5h6.2v6.2h-6.2zM217.3 768.5h6.2v6.2h-6.2zM223.1 768.5h6.2v6.2h-6.2zM229.0 768.5h6.2v6.2h-6.2zM234.8 768.5h6.2v6.2h-6.2zM240.6 768.5h6.2v6.2h-6.2zM246.5 768.5h6.2v6.2h-6.2zM252.3 768.5h6.2v6.2h-6.2zM258.1 768.5h6.2v6.2h-6.2zM264.0 768.5h6.2v6.2h-6.2zM269.8 768.5h6.2v6.2h-6.2zM275.6 768.5h6.2v6.2h-6.2zM281.5 768.5h6.2v6.2h-6.2zM287.3 768.5h6.2v6.2h-6.2zM293.1 768.5h6.2v6.2h-6.2zM299.0 768.5h6.2v6.2h-6.2zM304.8 768.5h6.2v6.2h-6.2zM310.6 768.5h6.2v6.2h-6.2zM316.5 768.5h6.2v6.2h-6.2zM322.3 768.5h6.2v6.2h-6.2zM328.1 768.5h6.2v6.2h-6.2zM334.0 768.5h6.2v6.2h-6.2zM339.8 768.5h6.2v6.2h-6.2zM345.6 768.5h6.2v6.2h-6.2zM351.5 768.5h6.2v6.2h-6.2zM357.3 768.5h6.2v6.2h-6.2zM363.1 768.5h6.2v6.2h-6.2zM369.0 768.5h6.2v6.2h-6.2zM374.8 768.5h6.2v6.2h-6.2zM380.6 768.5h6.2v6.2h-6.2zM386.5 768.5h6.2v6.2h-6.2zM392.3 768.5h6.2v6.2h-6.2zM398.1 768.5h6.2v6.2h-6.2zM404.0 768.5h6.2v6.2h-6.2zM409.8 768.5h6.2v6.2h-6.2zM415.6 768.5h6.2v6.2h-6.2zM421.5 768.5h6.2v6.2h-6.2zM427.3 768.5h6.2v6.2h-6.2zM433.1 768.5h6.2v6.2h-6.2zM439.0 768.5h6.2v6.2h-6.2zM444.8 768.5h6.2v6.2h-6.2zM450.6 768.5h6.2v6.2h-6.2zM456.5 768.5h6.2v6.2h-6.2zM462.3 768.5h6.2v6.2h-6.2zM468.1 768.5h6.2v6.2h-6.2zM474.0 768.5h6.2v6.2h-6.2zM479.8 768.5h6.2v6.2h-6.2zM485.6 768.5h6.2v6.2h-6.2zM491.5 768.5h6.2v6.2h-6.2zM497.3 768.5h6.2v6.2h-6.2zM503.1 768.5h6.2v6.2h-6.2zM509.0 768.5h6.2v6.2h-6.2zM514.8 768.5h6.2v6.2h-6.2zM520.6 768.5h6.2v6.2h-6.2zM526.5 768.5h6.2v6.2h-6.2zM532.3 768.5h6.2v6.2h-6.2zM538.1 768.5h6.2v6.2h-6.2zM544.0 768.5h6.2v6.2h-6.2zM549.8 768.5h6.2v6.2h-6.2zM555.6 768.5h6.2v6.2h-6.2zM561.5 768.5h6.2v6.2h-6.2zM567.3 768.5h6.2v6.2h-6.2zM573.1 768.5h6.2v6.2h-6.2zM579.0 768.5h6.2v6.2h-6.2zM584.8 768.5h6.2v6.2h-6.2zM590.6 768.5h6.2v6.2h-6.2zM596.5 768.5h6.2v6.2h-6.2zM602.3 768.5h6.2v6.2h-6.2zM608.1 768.5h6.2v6.2h-6.2zM614.0 768.5h6.2v6.2h-6.2zM619.8 768.5h6.2v6.2h-6.2zM625.6 768.5h6.2v6.2h-6.2zM631.5 768.5h6.2v6.2h-6.2zM176.5 762.6h6.2v6.2h-6.2zM182.3 762.6h6.2v6.2h-6.2zM188.1 762.6h6.2v6.2h-6.2zM194.0 762.6h6.2v6.2h-6.2zM199.8 762.6h6.2v6.2h-6.2zM205.6 762.6h6.2v6.2h-6.2zM211.5 762.6h6.2v6.2h-6.2zM217.3 762.6h6.2v6.2h-6.2zM223.1 762.6h6.2v6.2h-6.2zM229.0 762.6h6.2v6.2h-6.2zM234.8 762.6h6.2v6.2h-6.2zM240.6 762.6h6.2v6.2h-6.2zM246.5 762.6h6.2v6.2h-6.2zM252.3 762.6h6.2v6.2h-6.2zM258.1 762.6h6.2v6.2h-6.2zM264.0 762.6h6.2v6.2h-6.2zM269.8 762.6h6.2v6.2h-6.2zM275.6 762.6h6.2v6.2h-6.2zM281.5 762.6h6.2v6.2h-6.2zM287.3 762.6h6.2v6.2h-6.2zM293.1 762.6h6.2v6.2h-6.2zM299.0 762.6h6.2v6.2h-6.2zM304.8 762.6h6.2v6.2h-6.2zM310.6 762.6h6.2v6.2h-6.2zM316.5 762.6h6.2v6.2h-6.2zM322.3 762.6h6.2v6.2h-6.2zM328.1 762.6h6.2v6.2h-6.2zM334.0 762.6h6.2v6.2h-6.2zM339.8 762.6h6.2v6.2h-6.2zM345.6 762.6h6.2v6.2h-6.2zM351.5 762.6h6.2v6.2h-6.2zM357.3 762.6h6.2v6.2h-6.2zM363.1 762.6h6.2v6.2h-6.2zM369.0 762.6h6.2v6.2h-6.2zM374.8 762.6h6.2v6.2h-6.2zM380.6 762.6h6.2v6.2h-6.2zM386.5 762.6h6.2v6.2h-6.2zM392.3 762.6h6.2v6.2h-6.2zM398.1 762.6h6.2v6.2h-6.2zM404.0 762.6h6.2v6.2h-6.2zM409.8 762.6h6.2v6.2h-6.2zM415.6 762.6h6.2v6.2h-6.2zM421.5 762.6h6.2v6.2h-6.2zM427.3 762.6h6.2v6.2h-6.2zM433.1 762.6h6.2v6.2h-6.2zM439.0 762.6h6.2v6.2h-6.2zM444.8 762.6h6.2v6.2h-6.2zM450.6 762.6h6.2v6.2h-6.2zM456.5 762.6h6.2v6.2h-6.2zM462.3 762.6h6.2v6.2h-6.2zM468.1 762.6h6.2v6.2h-6.2zM474.0 762.6h6.2v6.2h-6.2zM479.8 762.6h6.2v6.2h-6.2zM485.6 762.6h6.2v6.2h-6.2zM491.5 762.6h6.2v6.2h-6.2zM497.3 762.6h6.2v6.2h-6.2zM503.1 762.6h6.2v6.2h-6.2zM509.0 762.6h6.2v6.2h-6.2zM514.8 762.6h6.2v6.2h-6.2zM520.6 762.6h6.2v6.2h-6.2zM526.5 762.6h6.2v6.2h-6.2zM532.3 762.6h6.2v6.2h-6.2zM538.1 762.6h6.2v6.2h-6.2zM544.0 762.6h6.2v6.2h-6.2zM549.8 762.6h6.2v6.2h-6.2zM555.6 762.6h6.2v6.2h-6.2zM561.5 762.6h6.2v6.2h-6.2zM567.3 762.6h6.2v6.2h-6.2zM573.1 762.6h6.2v6.2h-6.2zM579.0 762.6h6.2v6.2h-6.2zM584.8 762.6h6.2v6.2h-6.2zM590.6 762.6h6.2v6.2h-6.2zM596.5 762.6h6.2v6.2h-6.2zM602.3 762.6h6.2v6.2h-6.2zM608.1 762.6h6.2v6.2h-6.2zM614.0 762.6h6.2v6.2h-6.2zM619.8 762.6h6.2v6.2h-6.2zM625.6 762.6h6.2v6.2h-6.2zM631.5 762.6h6.2v6.2h-6.2zM176.5 756.8h6.2v6.2h-6.2zM182.3 756.8h6.2v6.2h-6.2zM188.1 756.8h6.2v6.2h-6.2zM194.0 756.8h6.2v6.2h-6.2zM199.8 756.8h6.2v6.2h-6.2zM205.6 756.8h6.2v6.2h-6.2zM211.5 756.8h6.2v6.2h-6.2zM217.3 756.8h6.2v6.2h-6.2zM223.1 756.8h6.2v6.2h-6.2zM229.0 756.8h6.2v6.2h-6.2zM234.8 756.8h6.2v6.2h-6.2zM240.6 756.8h6.2v6.2h-6.2zM246.5 756.8h6.2v6.2h-6.2zM252.3 756.8h6.2v6.2h-6.2zM258.1 756.8h6.2v6.2h-6.2zM264.0 756.8h6.2v6.2h-6.2zM269.8 756.8h6.2v6.2h-6.2zM275.6 756.8h6.2v6.2h-6.2zM281.5 756.8h6.2v6.2h-6.2zM287.3 756.8h6.2v6.2h-6.2zM293.1 756.8h6.2v6.2h-6.2zM299.0 756.8h6.2v6.2h-6.2zM304.8 756.8h6.2v6.2h-6.2zM310.6 756.8h6.2v6.2h-6.2zM316.5 756.8h6.2v6.2h-6.2zM322.3 756.8h6.2v6.2h-6.2zM328.1 756.8h6.2v6.2h-6.2zM334.0 756.8h6.2v6.2h-6.2zM339.8 756.8h6.2v6.2h-6.2zM345.6 756.8h6.2v6.2h-6.2zM351.5 756.8h6.2v6.2h-6.2zM357.3 756.8h6.2v6.2h-6.2zM363.1 756.8h6.2v6.2h-6.2zM369.0 756.8h6.2v6.2h-6.2zM374.8 756.8h6.2v6.2h-6.2zM380.6 756.8h6.2v6.2h-6.2zM386.5 756.8h6.2v6.2h-6.2zM392.3 756.8h6.2v6.2h-6.2zM398.1 756.8h6.2v6.2h-6.2zM404.0 756.8h6.2v6.2h-6.2zM409.8 756.8h6.2v6.2h-6.2zM415.6 756.8h6.2v6.2h-6.2zM421.5 756.8h6.2v6.2h-6.2zM427.3 756.8h6.2v6.2h-6.2zM433.1 756.8h6.2v6.2h-6.2zM439.0 756.8h6.2v6.2h-6.2zM444.8 756.8h6.2v6.2h-6.2zM450.6 756.8h6.2v6.2h-6.2zM456.5 756.8h6.2v6.2h-6.2zM462.3 756.8h6.2v6.2h-6.2zM468.1 756.8h6.2v6.2h-6.2zM474.0 756.8h6.2v6.2h-6.2zM479.8 756.8h6.2v6.2h-6.2zM485.6 756.8h6.2v6.2h-6.2zM491.5 756.8h6.2v6.2h-6.2zM497.3 756.8h6.2v6.2h-6.2zM503.1 756.8h6.2v6.2h-6.2zM509.0 756.8h6.2v6.2h-6.2zM514.8 756.8h6.2v6.2h-6.2zM520.6 756.8h6.2v6.2h-6.2zM526.5 756.8h6.2v6.2h-6.2zM532.3 756.8h6.2v6.2h-6.2zM538.1 756.8h6.2v6.2h-6.2zM544.0 756.8h6.2v6.2h-6.2zM549.8 756.8h6.2v6.2h-6.2zM555.6 756.8h6.2v6.2h-6.2zM561.5 756.8h6.2v6.2h-6.2zM567.3 756.8h6.2v6.2h-6.2zM573.1 756.8h6.2v6.2h-6.2zM579.0 756.8h6.2v6.2h-6.2zM584.8 756.8h6.2v6.2h-6.2zM590.6 756.8h6.2v6.2h-6.2zM596.5 756.8h6.2v6.2h-6.2zM602.3 756.8h6.2v6.2h-6.2zM608.1 756.8h6.2v6.2h-6.2zM614.0 756.8h6.2v6.2h-6.2zM619.8 756.8h6.2v6.2h-6.2zM625.6 756.8h6.2v6.2h-6.2zM631.5 756.8h6.2v6.2h-6.2zM176.5 751.0h6.2v6.2h-6.2zM182.3 751.0h6.2v6.2h-6.2zM188.1 751.0h6.2v6.2h-6.2zM194.0 751.0h6.2v6.2h-6.2zM199.8 751.0h6.2v6.2h-6.2zM205.6 751.0h6.2v6.2h-6.2zM211.5 751.0h6.2v6.2h-6.2zM217.3 751.0h6.2v6.2h-6.2zM223.1 751.0h6.2v6.2h-6.2zM229.0 751.0h6.2v6.2h-6.2zM234.8 751.0h6.2v6.2h-6.2zM240.6 751.0h6.2v6.2h-6.2zM246.5 751.0h6.2v6.2h-6.2zM252.3 751.0h6.2v6.2h-6.2zM258.1 751.0h6.2v6.2h-6.2zM264.0 751.0h6.2v6.2h-6.2zM269.8 751.0h6.2v6.2h-6.2zM275.6 751.0h6.2v6.2h-6.2zM281.5 751.0h6.2v6.2h-6.2zM287.3 751.0h6.2v6.2h-6.2zM293.1 751.0h6.2v6.2h-6.2zM299.0 751.0h6.2v6.2h-6.2zM304.8 751.0h6.2v6.2h-6.2zM310.6 751.0h6.2v6.2h-6.2zM316.5 751.0h6.2v6.2h-6.2zM322.3 751.0h6.2v6.2h-6.2zM328.1 751.0h6.2v6.2h-6.2zM334.0 751.0h6.2v6.2h-6.2zM339.8 751.0h6.2v6.2h-6.2zM345.6 751.0h6.2v6.2h-6.2zM351.5 751.0h6.2v6.2h-6.2zM357.3 751.0h6.2v6.2h-6.2zM363.1 751.0h6.2v6.2h-6.2zM369.0 751.0h6.2v6.2h-6.2zM374.8 751.0h6.2v6.2h-6.2zM380.6 751.0h6.2v6.2h-6.2zM386.5 751.0h6.2v6.2h-6.2zM392.3 751.0h6.2v6.2h-6.2zM398.1 751.0h6.2v6.2h-6.2zM404.0 751.0h6.2v6.2h-6.2zM409.8 751.0h6.2v6.2h-6.2zM415.6 751.0h6.2v6.2h-6.2zM421.5 751.0h6.2v6.2h-6.2zM427.3 751.0h6.2v6.2h-6.2zM433.1 751.0h6.2v6.2h-6.2zM439.0 751.0h6.2v6.2h-6.2zM444.8 751.0h6.2v6.2h-6.2zM450.6 751.0h6.2v6.2h-6.2zM456.5 751.0h6.2v6.2h-6.2zM462.3 751.0h6.2v6.2h-6.2zM468.1 751.0h6.2v6.2h-6.2zM474.0 751.0h6.2v6.2h-6.2zM479.8 751.0h6.2v6.2h-6.2zM485.6 751.0h6.2v6.2h-6.2zM491.5 751.0h6.2v6.2h-6.2zM497.3 751.0h6.2v6.2h-6.2zM503.1 751.0h6.2v6.2h-6.2zM509.0 751.0h6.2v6.2h-6.2zM514.8 751.0h6.2v6.2h-6.2zM520.6 751.0h6.2v6.2h-6.2zM526.5 751.0h6.2v6.2h-6.2zM532.3 751.0h6.2v6.2h-6.2zM538.1 751.0h6.2v6.2h-6.2zM544.0 751.0h6.2v6.2h-6.2zM549.8 751.0h6.2v6.2h-6.2zM555.6 751.0h6.2v6.2h-6.2zM561.5 751.0h6.2v6.2h-6.2zM567.3 751.0h6.2v6.2h-6.2zM573.1 751.0h6.2v6.2h-6.2zM579.0 751.0h6.2v6.2h-6.2zM584.8 751.0h6.2v6.2h-6.2zM590.6 751.0h6.2v6.2h-6.2zM596.5 751.0h6.2v6.2h-6.2zM602.3 751.0h6.2v6.2h-6.2zM608.1 751.0h6.2v6.2h-6.2zM614.0 751.0h6.2v6.2h-6.2zM619.8 751.0h6.2v6.2h-6.2zM625.6 751.0h6.2v6.2h-6.2zM631.5 751.0h6.2v6.2h-6.2zM176.5 745.1h6.2v6.2h-6.2zM182.3 745.1h6.2v6.2h-6.2zM188.1 745.1h6.2v6.2h-6.2zM194.0 745.1h6.2v6.2h-6.2zM199.8 745.1h6.2v6.2h-6.2zM205.6 745.1h6.2v6.2h-6.2zM211.5 745.1h6.2v6.2h-6.2zM217.3 745.1h6.2v6.2h-6.2zM223.1 745.1h6.2v6.2h-6.2zM229.0 745.1h6.2v6.2h-6.2zM234.8 745.1h6.2v6.2h-6.2zM240.6 745.1h6.2v6.2h-6.2zM246.5 745.1h6.2v6.2h-6.2zM252.3 745.1h6.2v6.2h-6.2zM258.1 745.1h6.2v6.2h-6.2zM264.0 745.1h6.2v6.2h-6.2zM269.8 745.1h6.2v6.2h-6.2zM275.6 745.1h6.2v6.2h-6.2zM281.5 745.1h6.2v6.2h-6.2zM287.3 745.1h6.2v6.2h-6.2zM293.1 745.1h6.2v6.2h-6.2zM299.0 745.1h6.2v6.2h-6.2zM304.8 745.1h6.2v6.2h-6.2zM310.6 745.1h6.2v6.2h-6.2zM316.5 745.1h6.2v6.2h-6.2zM322.3 745.1h6.2v6.2h-6.2zM328.1 745.1h6.2v6.2h-6.2zM334.0 745.1h6.2v6.2h-6.2zM339.8 745.1h6.2v6.2h-6.2zM345.6 745.1h6.2v6.2h-6.2zM351.5 745.1h6.2v6.2h-6.2zM357.3 745.1h6.2v6.2h-6.2zM363.1 745.1h6.2v6.2h-6.2zM369.0 745.1h6.2v6.2h-6.2zM374.8 745.1h6.2v6.2h-6.2zM380.6 745.1h6.2v6.2h-6.2zM386.5 745.1h6.2v6.2h-6.2zM392.3 745.1h6.2v6.2h-6.2zM398.1 745.1h6.2v6.2h-6.2zM404.0 745.1h6.2v6.2h-6.2zM409.8 745.1h6.2v6.2h-6.2zM415.6 745.1h6.2v6.2h-6.2zM421.5 745.1h6.2v6.2h-6.2zM427.3 745.1h6.2v6.2h-6.2zM433.1 745.1h6.2v6.2h-6.2zM439.0 745.1h6.2v6.2h-6.2zM444.8 745.1h6.2v6.2h-6.2zM450.6 745.1h6.2v6.2h-6.2zM456.5 745.1h6.2v6.2h-6.2zM462.3 745.1h6.2v6.2h-6.2zM468.1 745.1h6.2v6.2h-6.2zM474.0 745.1h6.2v6.2h-6.2zM479.8 745.1h6.2v6.2h-6.2zM485.6 745.1h6.2v6.2h-6.2zM491.5 745.1h6.2v6.2h-6.2zM497.3 745.1h6.2v6.2h-6.2zM503.1 745.1h6.2v6.2h-6.2zM509.0 745.1h6.2v6.2h-6.2zM514.8 745.1h6.2v6.2h-6.2zM520.6 745.1h6.2v6.2h-6.2zM526.5 745.1h6.2v6.2h-6.2zM532.3 745.1h6.2v6.2h-6.2zM538.1 745.1h6.2v6.2h-6.2zM544.0 745.1h6.2v6.2h-6.2zM549.8 745.1h6.2v6.2h-6.2zM555.6 745.1h6.2v6.2h-6.2zM561.5 745.1h6.2v6.2h-6.2zM567.3 745.1h6.2v6.2h-6.2zM573.1 745.1h6.2v6.2h-6.2zM579.0 745.1h6.2v6.2h-6.2zM584.8 745.1h6.2v6.2h-6.2zM590.6 745.1h6.2v6.2h-6.2zM596.5 745.1h6.2v6.2h-6.2zM602.3 745.1h6.2v6.2h-6.2zM608.1 745.1h6.2v6.2h-6.2zM614.0 745.1h6.2v6.2h-6.2zM619.8 745.1h6.2v6.2h-6.2zM625.6 745.1h6.2v6.2h-6.2zM631.5 745.1h6.2v6.2h-6.2zM176.5 739.3h6.2v6.2h-6.2zM182.3 739.3h6.2v6.2h-6.2zM188.1 739.3h6.2v6.2h-6.2zM194.0 739.3h6.2v6.2h-6.2zM199.8 739.3h6.2v6.2h-6.2zM205.6 739.3h6.2v6.2h-6.2zM211.5 739.3h6.2v6.2h-6.2zM217.3 739.3h6.2v6.2h-6.2zM223.1 739.3h6.2v6.2h-6.2zM229.0 739.3h6.2v6.2h-6.2zM234.8 739.3h6.2v6.2h-6.2zM240.6 739.3h6.2v6.2h-6.2zM246.5 739.3h6.2v6.2h-6.2zM252.3 739.3h6.2v6.2h-6.2zM258.1 739.3h6.2v6.2h-6.2zM264.0 739.3h6.2v6.2h-6.2zM269.8 739.3h6.2v6.2h-6.2zM275.6 739.3h6.2v6.2h-6.2zM281.5 739.3h6.2v6.2h-6.2zM287.3 739.3h6.2v6.2h-6.2zM293.1 739.3h6.2v6.2h-6.2zM299.0 739.3h6.2v6.2h-6.2zM304.8 739.3h6.2v6.2h-6.2zM310.6 739.3h6.2v6.2h-6.2zM316.5 739.3h6.2v6.2h-6.2zM322.3 739.3h6.2v6.2h-6.2zM328.1 739.3h6.2v6.2h-6.2zM334.0 739.3h6.2v6.2h-6.2zM339.8 739.3h6.2v6.2h-6.2zM345.6 739.3h6.2v6.2h-6.2zM351.5 739.3h6.2v6.2h-6.2zM357.3 739.3h6.2v6.2h-6.2zM363.1 739.3h6.2v6.2h-6.2zM369.0 739.3h6.2v6.2h-6.2zM374.8 739.3h6.2v6.2h-6.2zM380.6 739.3h6.2v6.2h-6.2zM386.5 739.3h6.2v6.2h-6.2zM392.3 739.3h6.2v6.2h-6.2zM398.1 739.3h6.2v6.2h-6.2zM404.0 739.3h6.2v6.2h-6.2zM409.8 739.3h6.2v6.2h-6.2zM415.6 739.3h6.2v6.2h-6.2zM421.5 739.3h6.2v6.2h-6.2zM427.3 739.3h6.2v6.2h-6.2zM433.1 739.3h6.2v6.2h-6.2zM439.0 739.3h6.2v6.2h-6.2zM444.8 739.3h6.2v6.2h-6.2zM450.6 739.3h6.2v6.2h-6.2zM456.5 739.3h6.2v6.2h-6.2zM462.3 739.3h6.2v6.2h-6.2zM468.1 739.3h6.2v6.2h-6.2zM474.0 739.3h6.2v6.2h-6.2zM479.8 739.3h6.2v6.2h-6.2zM485.6 739.3h6.2v6.2h-6.2zM491.5 739.3h6.2v6.2h-6.2zM497.3 739.3h6.2v6.2h-6.2zM503.1 739.3h6.2v6.2h-6.2zM509.0 739.3h6.2v6.2h-6.2zM514.8 739.3h6.2v6.2h-6.2zM520.6 739.3h6.2v6.2h-6.2zM526.5 739.3h6.2v6.2h-6.2zM532.3 739.3h6.2v6.2h-6.2zM538.1 739.3h6.2v6.2h-6.2zM544.0 739.3h6.2v6.2h-6.2zM549.8 739.3h6.2v6.2h-6.2zM555.6 739.3h6.2v6.2h-6.2zM561.5 739.3h6.2v6.2h-6.2zM567.3 739.3h6.2v6.2h-6.2zM573.1 739.3h6.2v6.2h-6.2zM579.0 739.3h6.2v6.2h-6.2zM584.8 739.3h6.2v6.2h-6.2zM590.6 739.3h6.2v6.2h-6.2zM596.5 739.3h6.2v6.2h-6.2zM602.3 739.3h6.2v6.2h-6.2zM608.1 739.3h6.2v6.2h-6.2zM614.0 739.3h6.2v6.2h-6.2zM619.8 739.3h6.2v6.2h-6.2zM631.5 739.3h6.2v6.2h-6.2zM176.5 733.5h6.2v6.2h-6.2zM182.3 733.5h6.2v6.2h-6.2zM188.1 733.5h6.2v6.2h-6.2zM194.0 733.5h6.2v6.2h-6.2zM199.8 733.5h6.2v6.2h-6.2zM205.6 733.5h6.2v6.2h-6.2zM211.5 733.5h6.2v6.2h-6.2zM217.3 733.5h6.2v6.2h-6.2zM223.1 733.5h6.2v6.2h-6.2zM229.0 733.5h6.2v6.2h-6.2zM234.8 733.5h6.2v6.2h-6.2zM240.6 733.5h6.2v6.2h-6.2zM246.5 733.5h6.2v6.2h-6.2zM252.3 733.5h6.2v6.2h-6.2zM258.1 733.5h6.2v6.2h-6.2zM264.0 733.5h6.2v6.2h-6.2zM269.8 733.5h6.2v6.2h-6.2zM275.6 733.5h6.2v6.2h-6.2zM281.5 733.5h6.2v6.2h-6.2zM287.3 733.5h6.2v6.2h-6.2zM293.1 733.5h6.2v6.2h-6.2zM299.0 733.5h6.2v6.2h-6.2zM304.8 733.5h6.2v6.2h-6.2zM310.6 733.5h6.2v6.2h-6.2zM316.5 733.5h6.2v6.2h-6.2zM322.3 733.5h6.2v6.2h-6.2zM328.1 733.5h6.2v6.2h-6.2zM334.0 733.5h6.2v6.2h-6.2zM339.8 733.5h6.2v6.2h-6.2zM345.6 733.5h6.2v6.2h-6.2zM351.5 733.5h6.2v6.2h-6.2zM357.3 733.5h6.2v6.2h-6.2zM363.1 733.5h6.2v6.2h-6.2zM369.0 733.5h6.2v6.2h-6.2zM374.8 733.5h6.2v6.2h-6.2zM380.6 733.5h6.2v6.2h-6.2zM386.5 733.5h6.2v6.2h-6.2zM392.3 733.5h6.2v6.2h-6.2zM398.1 733.5h6.2v6.2h-6.2zM404.0 733.5h6.2v6.2h-6.2zM409.8 733.5h6.2v6.2h-6.2zM415.6 733.5h6.2v6.2h-6.2zM421.5 733.5h6.2v6.2h-6.2zM427.3 733.5h6.2v6.2h-6.2zM433.1 733.5h6.2v6.2h-6.2zM439.0 733.5h6.2v6.2h-6.2zM444.8 733.5h6.2v6.2h-6.2zM450.6 733.5h6.2v6.2h-6.2zM456.5 733.5h6.2v6.2h-6.2zM462.3 733.5h6.2v6.2h-6.2zM468.1 733.5h6.2v6.2h-6.2zM474.0 733.5h6.2v6.2h-6.2zM479.8 733.5h6.2v6.2h-6.2zM485.6 733.5h6.2v6.2h-6.2zM491.5 733.5h6.2v6.2h-6.2zM497.3 733.5h6.2v6.2h-6.2zM503.1 733.5h6.2v6.2h-6.2zM509.0 733.5h6.2v6.2h-6.2zM514.8 733.5h6.2v6.2h-6.2zM520.6 733.5h6.2v6.2h-6.2zM526.5 733.5h6.2v6.2h-6.2zM532.3 733.5h6.2v6.2h-6.2zM538.1 733.5h6.2v6.2h-6.2zM544.0 733.5h6.2v6.2h-6.2zM549.8 733.5h6.2v6.2h-6.2zM555.6 733.5h6.2v6.2h-6.2zM561.5 733.5h6.2v6.2h-6.2zM567.3 733.5h6.2v6.2h-6.2zM573.1 733.5h6.2v6.2h-6.2zM579.0 733.5h6.2v6.2h-6.2zM584.8 733.5h6.2v6.2h-6.2zM590.6 733.5h6.2v6.2h-6.2zM596.5 733.5h6.2v6.2h-6.2zM602.3 733.5h6.2v6.2h-6.2zM608.1 733.5h6.2v6.2h-6.2zM614.0 733.5h6.2v6.2h-6.2zM631.5 733.5h6.2v6.2h-6.2zM176.5 727.6h6.2v6.2h-6.2zM182.3 727.6h6.2v6.2h-6.2zM188.1 727.6h6.2v6.2h-6.2zM194.0 727.6h6.2v6.2h-6.2zM199.8 727.6h6.2v6.2h-6.2zM205.6 727.6h6.2v6.2h-6.2zM211.5 727.6h6.2v6.2h-6.2zM217.3 727.6h6.2v6.2h-6.2zM223.1 727.6h6.2v6.2h-6.2zM229.0 727.6h6.2v6.2h-6.2zM234.8 727.6h6.2v6.2h-6.2zM240.6 727.6h6.2v6.2h-6.2zM246.5 727.6h6.2v6.2h-6.2zM252.3 727.6h6.2v6.2h-6.2zM258.1 727.6h6.2v6.2h-6.2zM264.0 727.6h6.2v6.2h-6.2zM269.8 727.6h6.2v6.2h-6.2zM275.6 727.6h6.2v6.2h-6.2zM281.5 727.6h6.2v6.2h-6.2zM287.3 727.6h6.2v6.2h-6.2zM293.1 727.6h6.2v6.2h-6.2zM299.0 727.6h6.2v6.2h-6.2zM304.8 727.6h6.2v6.2h-6.2zM310.6 727.6h6.2v6.2h-6.2zM316.5 727.6h6.2v6.2h-6.2zM322.3 727.6h6.2v6.2h-6.2zM328.1 727.6h6.2v6.2h-6.2zM334.0 727.6h6.2v6.2h-6.2zM339.8 727.6h6.2v6.2h-6.2zM345.6 727.6h6.2v6.2h-6.2zM351.5 727.6h6.2v6.2h-6.2zM357.3 727.6h6.2v6.2h-6.2zM363.1 727.6h6.2v6.2h-6.2zM369.0 727.6h6.2v6.2h-6.2zM374.8 727.6h6.2v6.2h-6.2zM380.6 727.6h6.2v6.2h-6.2zM386.5 727.6h6.2v6.2h-6.2zM392.3 727.6h6.2v6.2h-6.2zM398.1 727.6h6.2v6.2h-6.2zM404.0 727.6h6.2v6.2h-6.2zM409.8 727.6h6.2v6.2h-6.2zM415.6 727.6h6.2v6.2h-6.2zM421.5 727.6h6.2v6.2h-6.2zM427.3 727.6h6.2v6.2h-6.2zM433.1 727.6h6.2v6.2h-6.2zM439.0 727.6h6.2v6.2h-6.2zM444.8 727.6h6.2v6.2h-6.2zM450.6 727.6h6.2v6.2h-6.2zM456.5 727.6h6.2v6.2h-6.2zM462.3 727.6h6.2v6.2h-6.2zM468.1 727.6h6.2v6.2h-6.2zM474.0 727.6h6.2v6.2h-6.2zM479.8 727.6h6.2v6.2h-6.2zM485.6 727.6h6.2v6.2h-6.2zM491.5 727.6h6.2v6.2h-6.2zM497.3 727.6h6.2v6.2h-6.2zM503.1 727.6h6.2v6.2h-6.2zM509.0 727.6h6.2v6.2h-6.2zM514.8 727.6h6.2v6.2h-6.2zM520.6 727.6h6.2v6.2h-6.2zM526.5 727.6h6.2v6.2h-6.2zM532.3 727.6h6.2v6.2h-6.2zM538.1 727.6h6.2v6.2h-6.2zM544.0 727.6h6.2v6.2h-6.2zM549.8 727.6h6.2v6.2h-6.2zM555.6 727.6h6.2v6.2h-6.2zM561.5 727.6h6.2v6.2h-6.2zM567.3 727.6h6.2v6.2h-6.2zM573.1 727.6h6.2v6.2h-6.2zM579.0 727.6h6.2v6.2h-6.2zM584.8 727.6h6.2v6.2h-6.2zM590.6 727.6h6.2v6.2h-6.2zM596.5 727.6h6.2v6.2h-6.2zM602.3 727.6h6.2v6.2h-6.2zM608.1 727.6h6.2v6.2h-6.2zM614.0 727.6h6.2v6.2h-6.2zM631.5 727.6h6.2v6.2h-6.2zM176.5 721.8h6.2v6.2h-6.2zM182.3 721.8h6.2v6.2h-6.2zM188.1 721.8h6.2v6.2h-6.2zM194.0 721.8h6.2v6.2h-6.2zM199.8 721.8h6.2v6.2h-6.2zM205.6 721.8h6.2v6.2h-6.2zM211.5 721.8h6.2v6.2h-6.2zM217.3 721.8h6.2v6.2h-6.2zM223.1 721.8h6.2v6.2h-6.2zM229.0 721.8h6.2v6.2h-6.2zM234.8 721.8h6.2v6.2h-6.2zM240.6 721.8h6.2v6.2h-6.2zM246.5 721.8h6.2v6.2h-6.2zM252.3 721.8h6.2v6.2h-6.2zM258.1 721.8h6.2v6.2h-6.2zM264.0 721.8h6.2v6.2h-6.2zM269.8 721.8h6.2v6.2h-6.2zM275.6 721.8h6.2v6.2h-6.2zM281.5 721.8h6.2v6.2h-6.2zM287.3 721.8h6.2v6.2h-6.2zM293.1 721.8h6.2v6.2h-6.2zM299.0 721.8h6.2v6.2h-6.2zM304.8 721.8h6.2v6.2h-6.2zM310.6 721.8h6.2v6.2h-6.2zM316.5 721.8h6.2v6.2h-6.2zM322.3 721.8h6.2v6.2h-6.2zM328.1 721.8h6.2v6.2h-6.2zM334.0 721.8h6.2v6.2h-6.2zM339.8 721.8h6.2v6.2h-6.2zM345.6 721.8h6.2v6.2h-6.2zM351.5 721.8h6.2v6.2h-6.2zM357.3 721.8h6.2v6.2h-6.2zM363.1 721.8h6.2v6.2h-6.2zM369.0 721.8h6.2v6.2h-6.2zM374.8 721.8h6.2v6.2h-6.2zM380.6 721.8h6.2v6.2h-6.2zM386.5 721.8h6.2v6.2h-6.2zM392.3 721.8h6.2v6.2h-6.2zM398.1 721.8h6.2v6.2h-6.2zM404.0 721.8h6.2v6.2h-6.2zM409.8 721.8h6.2v6.2h-6.2zM415.6 721.8h6.2v6.2h-6.2zM421.5 721.8h6.2v6.2h-6.2zM427.3 721.8h6.2v6.2h-6.2zM433.1 721.8h6.2v6.2h-6.2zM439.0 721.8h6.2v6.2h-6.2zM444.8 721.8h6.2v6.2h-6.2zM450.6 721.8h6.2v6.2h-6.2zM456.5 721.8h6.2v6.2h-6.2zM462.3 721.8h6.2v6.2h-6.2zM468.1 721.8h6.2v6.2h-6.2zM474.0 721.8h6.2v6.2h-6.2zM479.8 721.8h6.2v6.2h-6.2zM485.6 721.8h6.2v6.2h-6.2zM491.5 721.8h6.2v6.2h-6.2zM497.3 721.8h6.2v6.2h-6.2zM503.1 721.8h6.2v6.2h-6.2zM509.0 721.8h6.2v6.2h-6.2zM514.8 721.8h6.2v6.2h-6.2zM520.6 721.8h6.2v6.2h-6.2zM526.5 721.8h6.2v6.2h-6.2zM532.3 721.8h6.2v6.2h-6.2zM538.1 721.8h6.2v6.2h-6.2zM544.0 721.8h6.2v6.2h-6.2zM549.8 721.8h6.2v6.2h-6.2zM555.6 721.8h6.2v6.2h-6.2zM561.5 721.8h6.2v6.2h-6.2zM567.3 721.8h6.2v6.2h-6.2zM573.1 721.8h6.2v6.2h-6.2zM579.0 721.8h6.2v6.2h-6.2zM584.8 721.8h6.2v6.2h-6.2zM590.6 721.8h6.2v6.2h-6.2zM596.5 721.8h6.2v6.2h-6.2zM602.3 721.8h6.2v6.2h-6.2zM608.1 721.8h6.2v6.2h-6.2zM614.0 721.8h6.2v6.2h-6.2zM619.8 721.8h6.2v6.2h-6.2zM631.5 721.8h6.2v6.2h-6.2zM176.5 716.0h6.2v6.2h-6.2zM182.3 716.0h6.2v6.2h-6.2zM188.1 716.0h6.2v6.2h-6.2zM194.0 716.0h6.2v6.2h-6.2zM199.8 716.0h6.2v6.2h-6.2zM205.6 716.0h6.2v6.2h-6.2zM211.5 716.0h6.2v6.2h-6.2zM217.3 716.0h6.2v6.2h-6.2zM223.1 716.0h6.2v6.2h-6.2zM229.0 716.0h6.2v6.2h-6.2zM234.8 716.0h6.2v6.2h-6.2zM240.6 716.0h6.2v6.2h-6.2zM246.5 716.0h6.2v6.2h-6.2zM252.3 716.0h6.2v6.2h-6.2zM258.1 716.0h6.2v6.2h-6.2zM264.0 716.0h6.2v6.2h-6.2zM269.8 716.0h6.2v6.2h-6.2zM275.6 716.0h6.2v6.2h-6.2zM281.5 716.0h6.2v6.2h-6.2zM287.3 716.0h6.2v6.2h-6.2zM293.1 716.0h6.2v6.2h-6.2zM299.0 716.0h6.2v6.2h-6.2zM304.8 716.0h6.2v6.2h-6.2zM310.6 716.0h6.2v6.2h-6.2zM316.5 716.0h6.2v6.2h-6.2zM322.3 716.0h6.2v6.2h-6.2zM328.1 716.0h6.2v6.2h-6.2zM334.0 716.0h6.2v6.2h-6.2zM339.8 716.0h6.2v6.2h-6.2zM345.6 716.0h6.2v6.2h-6.2zM351.5 716.0h6.2v6.2h-6.2zM357.3 716.0h6.2v6.2h-6.2zM363.1 716.0h6.2v6.2h-6.2zM369.0 716.0h6.2v6.2h-6.2zM374.8 716.0h6.2v6.2h-6.2zM380.6 716.0h6.2v6.2h-6.2zM386.5 716.0h6.2v6.2h-6.2zM392.3 716.0h6.2v6.2h-6.2zM398.1 716.0h6.2v6.2h-6.2zM404.0 716.0h6.2v6.2h-6.2zM409.8 716.0h6.2v6.2h-6.2zM415.6 716.0h6.2v6.2h-6.2zM421.5 716.0h6.2v6.2h-6.2zM427.3 716.0h6.2v6.2h-6.2zM433.1 716.0h6.2v6.2h-6.2zM439.0 716.0h6.2v6.2h-6.2zM444.8 716.0h6.2v6.2h-6.2zM450.6 716.0h6.2v6.2h-6.2zM456.5 716.0h6.2v6.2h-6.2zM462.3 716.0h6.2v6.2h-6.2zM468.1 716.0h6.2v6.2h-6.2zM474.0 716.0h6.2v6.2h-6.2zM479.8 716.0h6.2v6.2h-6.2zM485.6 716.0h6.2v6.2h-6.2zM491.5 716.0h6.2v6.2h-6.2zM497.3 716.0h6.2v6.2h-6.2zM503.1 716.0h6.2v6.2h-6.2zM509.0 716.0h6.2v6.2h-6.2zM514.8 716.0h6.2v6.2h-6.2zM520.6 716.0h6.2v6.2h-6.2zM526.5 716.0h6.2v6.2h-6.2zM532.3 716.0h6.2v6.2h-6.2zM538.1 716.0h6.2v6.2h-6.2zM544.0 716.0h6.2v6.2h-6.2zM549.8 716.0h6.2v6.2h-6.2zM555.6 716.0h6.2v6.2h-6.2zM561.5 716.0h6.2v6.2h-6.2zM567.3 716.0h6.2v6.2h-6.2zM573.1 716.0h6.2v6.2h-6.2zM579.0 716.0h6.2v6.2h-6.2zM584.8 716.0h6.2v6.2h-6.2zM590.6 716.0h6.2v6.2h-6.2zM596.5 716.0h6.2v6.2h-6.2zM602.3 716.0h6.2v6.2h-6.2zM608.1 716.0h6.2v6.2h-6.2zM614.0 716.0h6.2v6.2h-6.2zM619.8 716.0h6.2v6.2h-6.2zM625.6 716.0h6.2v6.2h-6.2zM176.5 710.1h6.2v6.2h-6.2zM182.3 710.1h6.2v6.2h-6.2zM188.1 710.1h6.2v6.2h-6.2zM194.0 710.1h6.2v6.2h-6.2zM199.8 710.1h6.2v6.2h-6.2zM205.6 710.1h6.2v6.2h-6.2zM211.5 710.1h6.2v6.2h-6.2zM217.3 710.1h6.2v6.2h-6.2zM223.1 710.1h6.2v6.2h-6.2zM229.0 710.1h6.2v6.2h-6.2zM234.8 710.1h6.2v6.2h-6.2zM240.6 710.1h6.2v6.2h-6.2zM246.5 710.1h6.2v6.2h-6.2zM252.3 710.1h6.2v6.2h-6.2zM258.1 710.1h6.2v6.2h-6.2zM264.0 710.1h6.2v6.2h-6.2zM269.8 710.1h6.2v6.2h-6.2zM275.6 710.1h6.2v6.2h-6.2zM281.5 710.1h6.2v6.2h-6.2zM287.3 710.1h6.2v6.2h-6.2zM293.1 710.1h6.2v6.2h-6.2zM299.0 710.1h6.2v6.2h-6.2zM304.8 710.1h6.2v6.2h-6.2zM310.6 710.1h6.2v6.2h-6.2zM316.5 710.1h6.2v6.2h-6.2zM322.3 710.1h6.2v6.2h-6.2zM328.1 710.1h6.2v6.2h-6.2zM334.0 710.1h6.2v6.2h-6.2zM339.8 710.1h6.2v6.2h-6.2zM345.6 710.1h6.2v6.2h-6.2zM351.5 710.1h6.2v6.2h-6.2zM357.3 710.1h6.2v6.2h-6.2zM363.1 710.1h6.2v6.2h-6.2zM369.0 710.1h6.2v6.2h-6.2zM374.8 710.1h6.2v6.2h-6.2zM380.6 710.1h6.2v6.2h-6.2zM386.5 710.1h6.2v6.2h-6.2zM392.3 710.1h6.2v6.2h-6.2zM398.1 710.1h6.2v6.2h-6.2zM404.0 710.1h6.2v6.2h-6.2zM409.8 710.1h6.2v6.2h-6.2zM415.6 710.1h6.2v6.2h-6.2zM421.5 710.1h6.2v6.2h-6.2zM427.3 710.1h6.2v6.2h-6.2zM433.1 710.1h6.2v6.2h-6.2zM439.0 710.1h6.2v6.2h-6.2zM444.8 710.1h6.2v6.2h-6.2zM450.6 710.1h6.2v6.2h-6.2zM456.5 710.1h6.2v6.2h-6.2zM462.3 710.1h6.2v6.2h-6.2zM468.1 710.1h6.2v6.2h-6.2zM474.0 710.1h6.2v6.2h-6.2zM479.8 710.1h6.2v6.2h-6.2zM485.6 710.1h6.2v6.2h-6.2zM491.5 710.1h6.2v6.2h-6.2zM497.3 710.1h6.2v6.2h-6.2zM503.1 710.1h6.2v6.2h-6.2zM509.0 710.1h6.2v6.2h-6.2zM514.8 710.1h6.2v6.2h-6.2zM520.6 710.1h6.2v6.2h-6.2zM526.5 710.1h6.2v6.2h-6.2zM532.3 710.1h6.2v6.2h-6.2zM538.1 710.1h6.2v6.2h-6.2zM544.0 710.1h6.2v6.2h-6.2zM549.8 710.1h6.2v6.2h-6.2zM555.6 710.1h6.2v6.2h-6.2zM561.5 710.1h6.2v6.2h-6.2zM567.3 710.1h6.2v6.2h-6.2zM573.1 710.1h6.2v6.2h-6.2zM579.0 710.1h6.2v6.2h-6.2zM584.8 710.1h6.2v6.2h-6.2zM590.6 710.1h6.2v6.2h-6.2zM596.5 710.1h6.2v6.2h-6.2zM602.3 710.1h6.2v6.2h-6.2zM608.1 710.1h6.2v6.2h-6.2zM614.0 710.1h6.2v6.2h-6.2zM619.8 710.1h6.2v6.2h-6.2zM625.6 710.1h6.2v6.2h-6.2zM631.5 710.1h6.2v6.2h-6.2zM176.5 704.3h6.2v6.2h-6.2zM182.3 704.3h6.2v6.2h-6.2zM188.1 704.3h6.2v6.2h-6.2zM194.0 704.3h6.2v6.2h-6.2zM199.8 704.3h6.2v6.2h-6.2zM205.6 704.3h6.2v6.2h-6.2zM211.5 704.3h6.2v6.2h-6.2zM217.3 704.3h6.2v6.2h-6.2zM223.1 704.3h6.2v6.2h-6.2zM229.0 704.3h6.2v6.2h-6.2zM234.8 704.3h6.2v6.2h-6.2zM240.6 704.3h6.2v6.2h-6.2zM246.5 704.3h6.2v6.2h-6.2zM252.3 704.3h6.2v6.2h-6.2zM258.1 704.3h6.2v6.2h-6.2zM264.0 704.3h6.2v6.2h-6.2zM269.8 704.3h6.2v6.2h-6.2zM275.6 704.3h6.2v6.2h-6.2zM281.5 704.3h6.2v6.2h-6.2zM287.3 704.3h6.2v6.2h-6.2zM293.1 704.3h6.2v6.2h-6.2zM299.0 704.3h6.2v6.2h-6.2zM304.8 704.3h6.2v6.2h-6.2zM310.6 704.3h6.2v6.2h-6.2zM316.5 704.3h6.2v6.2h-6.2zM322.3 704.3h6.2v6.2h-6.2zM328.1 704.3h6.2v6.2h-6.2zM334.0 704.3h6.2v6.2h-6.2zM339.8 704.3h6.2v6.2h-6.2zM345.6 704.3h6.2v6.2h-6.2zM351.5 704.3h6.2v6.2h-6.2zM357.3 704.3h6.2v6.2h-6.2zM363.1 704.3h6.2v6.2h-6.2zM369.0 704.3h6.2v6.2h-6.2zM374.8 704.3h6.2v6.2h-6.2zM380.6 704.3h6.2v6.2h-6.2zM386.5 704.3h6.2v6.2h-6.2zM392.3 704.3h6.2v6.2h-6.2zM398.1 704.3h6.2v6.2h-6.2zM404.0 704.3h6.2v6.2h-6.2zM409.8 704.3h6.2v6.2h-6.2zM415.6 704.3h6.2v6.2h-6.2zM421.5 704.3h6.2v6.2h-6.2zM427.3 704.3h6.2v6.2h-6.2zM433.1 704.3h6.2v6.2h-6.2zM439.0 704.3h6.2v6.2h-6.2zM444.8 704.3h6.2v6.2h-6.2zM450.6 704.3h6.2v6.2h-6.2zM456.5 704.3h6.2v6.2h-6.2zM462.3 704.3h6.2v6.2h-6.2zM468.1 704.3h6.2v6.2h-6.2zM474.0 704.3h6.2v6.2h-6.2zM479.8 704.3h6.2v6.2h-6.2zM485.6 704.3h6.2v6.2h-6.2zM491.5 704.3h6.2v6.2h-6.2zM497.3 704.3h6.2v6.2h-6.2zM503.1 704.3h6.2v6.2h-6.2zM509.0 704.3h6.2v6.2h-6.2zM514.8 704.3h6.2v6.2h-6.2zM520.6 704.3h6.2v6.2h-6.2zM526.5 704.3h6.2v6.2h-6.2zM532.3 704.3h6.2v6.2h-6.2zM538.1 704.3h6.2v6.2h-6.2zM544.0 704.3h6.2v6.2h-6.2zM549.8 704.3h6.2v6.2h-6.2zM555.6 704.3h6.2v6.2h-6.2zM561.5 704.3h6.2v6.2h-6.2zM567.3 704.3h6.2v6.2h-6.2zM573.1 704.3h6.2v6.2h-6.2zM579.0 704.3h6.2v6.2h-6.2zM584.8 704.3h6.2v6.2h-6.2zM590.6 704.3h6.2v6.2h-6.2zM596.5 704.3h6.2v6.2h-6.2zM602.3 704.3h6.2v6.2h-6.2zM608.1 704.3h6.2v6.2h-6.2zM614.0 704.3h6.2v6.2h-6.2zM619.8 704.3h6.2v6.2h-6.2zM625.6 704.3h6.2v6.2h-6.2zM631.5 704.3h6.2v6.2h-6.2zM176.5 698.5h6.2v6.2h-6.2zM182.3 698.5h6.2v6.2h-6.2zM188.1 698.5h6.2v6.2h-6.2zM194.0 698.5h6.2v6.2h-6.2zM199.8 698.5h6.2v6.2h-6.2zM205.6 698.5h6.2v6.2h-6.2zM211.5 698.5h6.2v6.2h-6.2zM217.3 698.5h6.2v6.2h-6.2zM223.1 698.5h6.2v6.2h-6.2zM229.0 698.5h6.2v6.2h-6.2zM234.8 698.5h6.2v6.2h-6.2zM240.6 698.5h6.2v6.2h-6.2zM246.5 698.5h6.2v6.2h-6.2zM252.3 698.5h6.2v6.2h-6.2zM258.1 698.5h6.2v6.2h-6.2zM264.0 698.5h6.2v6.2h-6.2zM269.8 698.5h6.2v6.2h-6.2zM275.6 698.5h6.2v6.2h-6.2zM281.5 698.5h6.2v6.2h-6.2zM287.3 698.5h6.2v6.2h-6.2zM293.1 698.5h6.2v6.2h-6.2zM299.0 698.5h6.2v6.2h-6.2zM304.8 698.5h6.2v6.2h-6.2zM310.6 698.5h6.2v6.2h-6.2zM316.5 698.5h6.2v6.2h-6.2zM322.3 698.5h6.2v6.2h-6.2zM328.1 698.5h6.2v6.2h-6.2zM334.0 698.5h6.2v6.2h-6.2zM339.8 698.5h6.2v6.2h-6.2zM345.6 698.5h6.2v6.2h-6.2zM351.5 698.5h6.2v6.2h-6.2zM357.3 698.5h6.2v6.2h-6.2zM363.1 698.5h6.2v6.2h-6.2zM369.0 698.5h6.2v6.2h-6.2zM374.8 698.5h6.2v6.2h-6.2zM380.6 698.5h6.2v6.2h-6.2zM386.5 698.5h6.2v6.2h-6.2zM392.3 698.5h6.2v6.2h-6.2zM398.1 698.5h6.2v6.2h-6.2zM404.0 698.5h6.2v6.2h-6.2zM409.8 698.5h6.2v6.2h-6.2zM415.6 698.5h6.2v6.2h-6.2zM421.5 698.5h6.2v6.2h-6.2zM427.3 698.5h6.2v6.2h-6.2zM433.1 698.5h6.2v6.2h-6.2zM439.0 698.5h6.2v6.2h-6.2zM444.8 698.5h6.2v6.2h-6.2zM450.6 698.5h6.2v6.2h-6.2zM456.5 698.5h6.2v6.2h-6.2zM462.3 698.5h6.2v6.2h-6.2zM468.1 698.5h6.2v6.2h-6.2zM474.0 698.5h6.2v6.2h-6.2zM479.8 698.5h6.2v6.2h-6.2zM485.6 698.5h6.2v6.2h-6.2zM491.5 698.5h6.2v6.2h-6.2zM497.3 698.5h6.2v6.2h-6.2zM503.1 698.5h6.2v6.2h-6.2zM509.0 698.5h6.2v6.2h-6.2zM514.8 698.5h6.2v6.2h-6.2zM520.6 698.5h6.2v6.2h-6.2zM526.5 698.5h6.2v6.2h-6.2zM532.3 698.5h6.2v6.2h-6.2zM538.1 698.5h6.2v6.2h-6.2zM544.0 698.5h6.2v6.2h-6.2zM549.8 698.5h6.2v6.2h-6.2zM555.6 698.5h6.2v6.2h-6.2zM561.5 698.5h6.2v6.2h-6.2zM567.3 698.5h6.2v6.2h-6.2zM573.1 698.5h6.2v6.2h-6.2zM579.0 698.5h6.2v6.2h-6.2zM584.8 698.5h6.2v6.2h-6.2zM590.6 698.5h6.2v6.2h-6.2zM596.5 698.5h6.2v6.2h-6.2zM602.3 698.5h6.2v6.2h-6.2zM608.1 698.5h6.2v6.2h-6.2zM614.0 698.5h6.2v6.2h-6.2zM619.8 698.5h6.2v6.2h-6.2zM625.6 698.5h6.2v6.2h-6.2zM631.5 698.5h6.2v6.2h-6.2zM176.5 692.6h6.2v6.2h-6.2zM182.3 692.6h6.2v6.2h-6.2zM188.1 692.6h6.2v6.2h-6.2zM194.0 692.6h6.2v6.2h-6.2zM199.8 692.6h6.2v6.2h-6.2zM205.6 692.6h6.2v6.2h-6.2zM211.5 692.6h6.2v6.2h-6.2zM217.3 692.6h6.2v6.2h-6.2zM223.1 692.6h6.2v6.2h-6.2zM229.0 692.6h6.2v6.2h-6.2zM234.8 692.6h6.2v6.2h-6.2zM240.6 692.6h6.2v6.2h-6.2zM246.5 692.6h6.2v6.2h-6.2zM252.3 692.6h6.2v6.2h-6.2zM258.1 692.6h6.2v6.2h-6.2zM264.0 692.6h6.2v6.2h-6.2zM269.8 692.6h6.2v6.2h-6.2zM275.6 692.6h6.2v6.2h-6.2zM281.5 692.6h6.2v6.2h-6.2zM287.3 692.6h6.2v6.2h-6.2zM293.1 692.6h6.2v6.2h-6.2zM299.0 692.6h6.2v6.2h-6.2zM304.8 692.6h6.2v6.2h-6.2zM310.6 692.6h6.2v6.2h-6.2zM316.5 692.6h6.2v6.2h-6.2zM322.3 692.6h6.2v6.2h-6.2zM328.1 692.6h6.2v6.2h-6.2zM334.0 692.6h6.2v6.2h-6.2zM339.8 692.6h6.2v6.2h-6.2zM345.6 692.6h6.2v6.2h-6.2zM351.5 692.6h6.2v6.2h-6.2zM357.3 692.6h6.2v6.2h-6.2zM363.1 692.6h6.2v6.2h-6.2zM369.0 692.6h6.2v6.2h-6.2zM374.8 692.6h6.2v6.2h-6.2zM380.6 692.6h6.2v6.2h-6.2zM386.5 692.6h6.2v6.2h-6.2zM392.3 692.6h6.2v6.2h-6.2zM398.1 692.6h6.2v6.2h-6.2zM404.0 692.6h6.2v6.2h-6.2zM409.8 692.6h6.2v6.2h-6.2zM415.6 692.6h6.2v6.2h-6.2zM421.5 692.6h6.2v6.2h-6.2zM427.3 692.6h6.2v6.2h-6.2zM433.1 692.6h6.2v6.2h-6.2zM439.0 692.6h6.2v6.2h-6.2zM444.8 692.6h6.2v6.2h-6.2zM450.6 692.6h6.2v6.2h-6.2zM456.5 692.6h6.2v6.2h-6.2zM462.3 692.6h6.2v6.2h-6.2zM468.1 692.6h6.2v6.2h-6.2zM474.0 692.6h6.2v6.2h-6.2zM479.8 692.6h6.2v6.2h-6.2zM485.6 692.6h6.2v6.2h-6.2zM491.5 692.6h6.2v6.2h-6.2zM497.3 692.6h6.2v6.2h-6.2zM503.1 692.6h6.2v6.2h-6.2zM509.0 692.6h6.2v6.2h-6.2zM514.8 692.6h6.2v6.2h-6.2zM520.6 692.6h6.2v6.2h-6.2zM526.5 692.6h6.2v6.2h-6.2zM532.3 692.6h6.2v6.2h-6.2zM538.1 692.6h6.2v6.2h-6.2zM544.0 692.6h6.2v6.2h-6.2zM549.8 692.6h6.2v6.2h-6.2zM555.6 692.6h6.2v6.2h-6.2zM561.5 692.6h6.2v6.2h-6.2zM567.3 692.6h6.2v6.2h-6.2zM573.1 692.6h6.2v6.2h-6.2zM579.0 692.6h6.2v6.2h-6.2zM584.8 692.6h6.2v6.2h-6.2zM590.6 692.6h6.2v6.2h-6.2zM596.5 692.6h6.2v6.2h-6.2zM602.3 692.6h6.2v6.2h-6.2zM608.1 692.6h6.2v6.2h-6.2zM614.0 692.6h6.2v6.2h-6.2zM619.8 692.6h6.2v6.2h-6.2zM625.6 692.6h6.2v6.2h-6.2zM631.5 692.6h6.2v6.2h-6.2zM176.5 686.8h6.2v6.2h-6.2zM182.3 686.8h6.2v6.2h-6.2zM188.1 686.8h6.2v6.2h-6.2zM194.0 686.8h6.2v6.2h-6.2zM199.8 686.8h6.2v6.2h-6.2zM205.6 686.8h6.2v6.2h-6.2zM211.5 686.8h6.2v6.2h-6.2zM217.3 686.8h6.2v6.2h-6.2zM223.1 686.8h6.2v6.2h-6.2zM229.0 686.8h6.2v6.2h-6.2zM234.8 686.8h6.2v6.2h-6.2zM240.6 686.8h6.2v6.2h-6.2zM246.5 686.8h6.2v6.2h-6.2zM252.3 686.8h6.2v6.2h-6.2zM258.1 686.8h6.2v6.2h-6.2zM264.0 686.8h6.2v6.2h-6.2zM269.8 686.8h6.2v6.2h-6.2zM275.6 686.8h6.2v6.2h-6.2zM281.5 686.8h6.2v6.2h-6.2zM287.3 686.8h6.2v6.2h-6.2zM293.1 686.8h6.2v6.2h-6.2zM299.0 686.8h6.2v6.2h-6.2zM304.8 686.8h6.2v6.2h-6.2zM310.6 686.8h6.2v6.2h-6.2zM316.5 686.8h6.2v6.2h-6.2zM322.3 686.8h6.2v6.2h-6.2zM328.1 686.8h6.2v6.2h-6.2zM334.0 686.8h6.2v6.2h-6.2zM339.8 686.8h6.2v6.2h-6.2zM345.6 686.8h6.2v6.2h-6.2zM351.5 686.8h6.2v6.2h-6.2zM357.3 686.8h6.2v6.2h-6.2zM363.1 686.8h6.2v6.2h-6.2zM369.0 686.8h6.2v6.2h-6.2zM374.8 686.8h6.2v6.2h-6.2zM380.6 686.8h6.2v6.2h-6.2zM386.5 686.8h6.2v6.2h-6.2zM392.3 686.8h6.2v6.2h-6.2zM398.1 686.8h6.2v6.2h-6.2zM404.0 686.8h6.2v6.2h-6.2zM409.8 686.8h6.2v6.2h-6.2zM415.6 686.8h6.2v6.2h-6.2zM421.5 686.8h6.2v6.2h-6.2zM427.3 686.8h6.2v6.2h-6.2zM433.1 686.8h6.2v6.2h-6.2zM439.0 686.8h6.2v6.2h-6.2zM444.8 686.8h6.2v6.2h-6.2zM450.6 686.8h6.2v6.2h-6.2zM456.5 686.8h6.2v6.2h-6.2zM462.3 686.8h6.2v6.2h-6.2zM468.1 686.8h6.2v6.2h-6.2zM474.0 686.8h6.2v6.2h-6.2zM479.8 686.8h6.2v6.2h-6.2zM485.6 686.8h6.2v6.2h-6.2zM491.5 686.8h6.2v6.2h-6.2zM497.3 686.8h6.2v6.2h-6.2zM503.1 686.8h6.2v6.2h-6.2zM509.0 686.8h6.2v6.2h-6.2zM514.8 686.8h6.2v6.2h-6.2zM520.6 686.8h6.2v6.2h-6.2zM526.5 686.8h6.2v6.2h-6.2zM532.3 686.8h6.2v6.2h-6.2zM538.1 686.8h6.2v6.2h-6.2zM544.0 686.8h6.2v6.2h-6.2zM549.8 686.8h6.2v6.2h-6.2zM555.6 686.8h6.2v6.2h-6.2zM561.5 686.8h6.2v6.2h-6.2zM567.3 686.8h6.2v6.2h-6.2zM573.1 686.8h6.2v6.2h-6.2zM579.0 686.8h6.2v6.2h-6.2zM584.8 686.8h6.2v6.2h-6.2zM590.6 686.8h6.2v6.2h-6.2zM596.5 686.8h6.2v6.2h-6.2zM602.3 686.8h6.2v6.2h-6.2zM608.1 686.8h6.2v6.2h-6.2zM614.0 686.8h6.2v6.2h-6.2zM619.8 686.8h6.2v6.2h-6.2zM625.6 686.8h6.2v6.2h-6.2zM631.5 686.8h6.2v6.2h-6.2zM637.3 686.8h6.2v6.2h-6.2zM643.1 686.8h6.2v6.2h-6.2zM176.5 681.0h6.2v6.2h-6.2zM182.3 681.0h6.2v6.2h-6.2zM188.1 681.0h6.2v6.2h-6.2zM194.0 681.0h6.2v6.2h-6.2zM199.8 681.0h6.2v6.2h-6.2zM205.6 681.0h6.2v6.2h-6.2zM211.5 681.0h6.2v6.2h-6.2zM217.3 681.0h6.2v6.2h-6.2zM223.1 681.0h6.2v6.2h-6.2zM229.0 681.0h6.2v6.2h-6.2zM234.8 681.0h6.2v6.2h-6.2zM240.6 681.0h6.2v6.2h-6.2zM246.5 681.0h6.2v6.2h-6.2zM252.3 681.0h6.2v6.2h-6.2zM258.1 681.0h6.2v6.2h-6.2zM264.0 681.0h6.2v6.2h-6.2zM269.8 681.0h6.2v6.2h-6.2zM275.6 681.0h6.2v6.2h-6.2zM281.5 681.0h6.2v6.2h-6.2zM287.3 681.0h6.2v6.2h-6.2zM293.1 681.0h6.2v6.2h-6.2zM299.0 681.0h6.2v6.2h-6.2zM304.8 681.0h6.2v6.2h-6.2zM310.6 681.0h6.2v6.2h-6.2zM316.5 681.0h6.2v6.2h-6.2zM322.3 681.0h6.2v6.2h-6.2zM328.1 681.0h6.2v6.2h-6.2zM334.0 681.0h6.2v6.2h-6.2zM339.8 681.0h6.2v6.2h-6.2zM345.6 681.0h6.2v6.2h-6.2zM351.5 681.0h6.2v6.2h-6.2zM357.3 681.0h6.2v6.2h-6.2zM363.1 681.0h6.2v6.2h-6.2zM369.0 681.0h6.2v6.2h-6.2zM374.8 681.0h6.2v6.2h-6.2zM380.6 681.0h6.2v6.2h-6.2zM386.5 681.0h6.2v6.2h-6.2zM392.3 681.0h6.2v6.2h-6.2zM398.1 681.0h6.2v6.2h-6.2zM404.0 681.0h6.2v6.2h-6.2zM409.8 681.0h6.2v6.2h-6.2zM415.6 681.0h6.2v6.2h-6.2zM421.5 681.0h6.2v6.2h-6.2zM427.3 681.0h6.2v6.2h-6.2zM433.1 681.0h6.2v6.2h-6.2zM439.0 681.0h6.2v6.2h-6.2zM444.8 681.0h6.2v6.2h-6.2zM450.6 681.0h6.2v6.2h-6.2zM456.5 681.0h6.2v6.2h-6.2zM462.3 681.0h6.2v6.2h-6.2zM468.1 681.0h6.2v6.2h-6.2zM474.0 681.0h6.2v6.2h-6.2zM479.8 681.0h6.2v6.2h-6.2zM485.6 681.0h6.2v6.2h-6.2zM491.5 681.0h6.2v6.2h-6.2zM497.3 681.0h6.2v6.2h-6.2zM503.1 681.0h6.2v6.2h-6.2zM509.0 681.0h6.2v6.2h-6.2zM514.8 681.0h6.2v6.2h-6.2zM520.6 681.0h6.2v6.2h-6.2zM526.5 681.0h6.2v6.2h-6.2zM532.3 681.0h6.2v6.2h-6.2zM538.1 681.0h6.2v6.2h-6.2zM544.0 681.0h6.2v6.2h-6.2zM549.8 681.0h6.2v6.2h-6.2zM555.6 681.0h6.2v6.2h-6.2zM561.5 681.0h6.2v6.2h-6.2zM567.3 681.0h6.2v6.2h-6.2zM573.1 681.0h6.2v6.2h-6.2zM579.0 681.0h6.2v6.2h-6.2zM584.8 681.0h6.2v6.2h-6.2zM590.6 681.0h6.2v6.2h-6.2zM596.5 681.0h6.2v6.2h-6.2zM602.3 681.0h6.2v6.2h-6.2zM608.1 681.0h6.2v6.2h-6.2zM614.0 681.0h6.2v6.2h-6.2zM619.8 681.0h6.2v6.2h-6.2zM625.6 681.0h6.2v6.2h-6.2zM631.5 681.0h6.2v6.2h-6.2zM637.3 681.0h6.2v6.2h-6.2zM643.1 681.0h6.2v6.2h-6.2zM176.5 675.1h6.2v6.2h-6.2zM182.3 675.1h6.2v6.2h-6.2zM188.1 675.1h6.2v6.2h-6.2zM194.0 675.1h6.2v6.2h-6.2zM199.8 675.1h6.2v6.2h-6.2zM205.6 675.1h6.2v6.2h-6.2zM211.5 675.1h6.2v6.2h-6.2zM217.3 675.1h6.2v6.2h-6.2zM223.1 675.1h6.2v6.2h-6.2zM229.0 675.1h6.2v6.2h-6.2zM234.8 675.1h6.2v6.2h-6.2zM240.6 675.1h6.2v6.2h-6.2zM246.5 675.1h6.2v6.2h-6.2zM252.3 675.1h6.2v6.2h-6.2zM258.1 675.1h6.2v6.2h-6.2zM264.0 675.1h6.2v6.2h-6.2zM269.8 675.1h6.2v6.2h-6.2zM275.6 675.1h6.2v6.2h-6.2zM281.5 675.1h6.2v6.2h-6.2zM287.3 675.1h6.2v6.2h-6.2zM293.1 675.1h6.2v6.2h-6.2zM299.0 675.1h6.2v6.2h-6.2zM304.8 675.1h6.2v6.2h-6.2zM310.6 675.1h6.2v6.2h-6.2zM316.5 675.1h6.2v6.2h-6.2zM322.3 675.1h6.2v6.2h-6.2zM328.1 675.1h6.2v6.2h-6.2zM334.0 675.1h6.2v6.2h-6.2zM339.8 675.1h6.2v6.2h-6.2zM345.6 675.1h6.2v6.2h-6.2zM351.5 675.1h6.2v6.2h-6.2zM357.3 675.1h6.2v6.2h-6.2zM363.1 675.1h6.2v6.2h-6.2zM369.0 675.1h6.2v6.2h-6.2zM374.8 675.1h6.2v6.2h-6.2zM380.6 675.1h6.2v6.2h-6.2zM386.5 675.1h6.2v6.2h-6.2zM392.3 675.1h6.2v6.2h-6.2zM398.1 675.1h6.2v6.2h-6.2zM404.0 675.1h6.2v6.2h-6.2zM409.8 675.1h6.2v6.2h-6.2zM415.6 675.1h6.2v6.2h-6.2zM421.5 675.1h6.2v6.2h-6.2zM427.3 675.1h6.2v6.2h-6.2zM433.1 675.1h6.2v6.2h-6.2zM439.0 675.1h6.2v6.2h-6.2zM444.8 675.1h6.2v6.2h-6.2zM450.6 675.1h6.2v6.2h-6.2zM456.5 675.1h6.2v6.2h-6.2zM462.3 675.1h6.2v6.2h-6.2zM468.1 675.1h6.2v6.2h-6.2zM474.0 675.1h6.2v6.2h-6.2zM479.8 675.1h6.2v6.2h-6.2zM485.6 675.1h6.2v6.2h-6.2zM491.5 675.1h6.2v6.2h-6.2zM497.3 675.1h6.2v6.2h-6.2zM503.1 675.1h6.2v6.2h-6.2zM509.0 675.1h6.2v6.2h-6.2zM514.8 675.1h6.2v6.2h-6.2zM520.6 675.1h6.2v6.2h-6.2zM526.5 675.1h6.2v6.2h-6.2zM532.3 675.1h6.2v6.2h-6.2zM538.1 675.1h6.2v6.2h-6.2zM544.0 675.1h6.2v6.2h-6.2zM549.8 675.1h6.2v6.2h-6.2zM555.6 675.1h6.2v6.2h-6.2zM561.5 675.1h6.2v6.2h-6.2zM567.3 675.1h6.2v6.2h-6.2zM573.1 675.1h6.2v6.2h-6.2zM579.0 675.1h6.2v6.2h-6.2zM584.8 675.1h6.2v6.2h-6.2zM590.6 675.1h6.2v6.2h-6.2zM596.5 675.1h6.2v6.2h-6.2zM602.3 675.1h6.2v6.2h-6.2zM608.1 675.1h6.2v6.2h-6.2zM614.0 675.1h6.2v6.2h-6.2zM619.8 675.1h6.2v6.2h-6.2zM625.6 675.1h6.2v6.2h-6.2zM631.5 675.1h6.2v6.2h-6.2zM637.3 675.1h6.2v6.2h-6.2zM643.1 675.1h6.2v6.2h-6.2zM176.5 669.3h6.2v6.2h-6.2zM182.3 669.3h6.2v6.2h-6.2zM188.1 669.3h6.2v6.2h-6.2zM194.0 669.3h6.2v6.2h-6.2zM199.8 669.3h6.2v6.2h-6.2zM205.6 669.3h6.2v6.2h-6.2zM211.5 669.3h6.2v6.2h-6.2zM217.3 669.3h6.2v6.2h-6.2zM223.1 669.3h6.2v6.2h-6.2zM229.0 669.3h6.2v6.2h-6.2zM234.8 669.3h6.2v6.2h-6.2zM240.6 669.3h6.2v6.2h-6.2zM246.5 669.3h6.2v6.2h-6.2zM252.3 669.3h6.2v6.2h-6.2zM258.1 669.3h6.2v6.2h-6.2zM264.0 669.3h6.2v6.2h-6.2zM269.8 669.3h6.2v6.2h-6.2zM275.6 669.3h6.2v6.2h-6.2zM281.5 669.3h6.2v6.2h-6.2zM287.3 669.3h6.2v6.2h-6.2zM293.1 669.3h6.2v6.2h-6.2zM299.0 669.3h6.2v6.2h-6.2zM304.8 669.3h6.2v6.2h-6.2zM310.6 669.3h6.2v6.2h-6.2zM316.5 669.3h6.2v6.2h-6.2zM322.3 669.3h6.2v6.2h-6.2zM328.1 669.3h6.2v6.2h-6.2zM334.0 669.3h6.2v6.2h-6.2zM339.8 669.3h6.2v6.2h-6.2zM345.6 669.3h6.2v6.2h-6.2zM351.5 669.3h6.2v6.2h-6.2zM357.3 669.3h6.2v6.2h-6.2zM363.1 669.3h6.2v6.2h-6.2zM369.0 669.3h6.2v6.2h-6.2zM374.8 669.3h6.2v6.2h-6.2zM380.6 669.3h6.2v6.2h-6.2zM386.5 669.3h6.2v6.2h-6.2zM392.3 669.3h6.2v6.2h-6.2zM398.1 669.3h6.2v6.2h-6.2zM404.0 669.3h6.2v6.2h-6.2zM409.8 669.3h6.2v6.2h-6.2zM415.6 669.3h6.2v6.2h-6.2zM421.5 669.3h6.2v6.2h-6.2zM427.3 669.3h6.2v6.2h-6.2zM433.1 669.3h6.2v6.2h-6.2zM439.0 669.3h6.2v6.2h-6.2zM444.8 669.3h6.2v6.2h-6.2zM450.6 669.3h6.2v6.2h-6.2zM456.5 669.3h6.2v6.2h-6.2zM462.3 669.3h6.2v6.2h-6.2zM468.1 669.3h6.2v6.2h-6.2zM474.0 669.3h6.2v6.2h-6.2zM479.8 669.3h6.2v6.2h-6.2zM485.6 669.3h6.2v6.2h-6.2zM491.5 669.3h6.2v6.2h-6.2zM497.3 669.3h6.2v6.2h-6.2zM503.1 669.3h6.2v6.2h-6.2zM509.0 669.3h6.2v6.2h-6.2zM514.8 669.3h6.2v6.2h-6.2zM520.6 669.3h6.2v6.2h-6.2zM526.5 669.3h6.2v6.2h-6.2zM532.3 669.3h6.2v6.2h-6.2zM538.1 669.3h6.2v6.2h-6.2zM544.0 669.3h6.2v6.2h-6.2zM549.8 669.3h6.2v6.2h-6.2zM555.6 669.3h6.2v6.2h-6.2zM561.5 669.3h6.2v6.2h-6.2zM567.3 669.3h6.2v6.2h-6.2zM573.1 669.3h6.2v6.2h-6.2zM579.0 669.3h6.2v6.2h-6.2zM584.8 669.3h6.2v6.2h-6.2zM590.6 669.3h6.2v6.2h-6.2zM596.5 669.3h6.2v6.2h-6.2zM602.3 669.3h6.2v6.2h-6.2zM608.1 669.3h6.2v6.2h-6.2zM614.0 669.3h6.2v6.2h-6.2zM619.8 669.3h6.2v6.2h-6.2zM625.6 669.3h6.2v6.2h-6.2zM631.5 669.3h6.2v6.2h-6.2zM176.5 663.5h6.2v6.2h-6.2zM182.3 663.5h6.2v6.2h-6.2zM188.1 663.5h6.2v6.2h-6.2zM194.0 663.5h6.2v6.2h-6.2zM199.8 663.5h6.2v6.2h-6.2zM205.6 663.5h6.2v6.2h-6.2zM211.5 663.5h6.2v6.2h-6.2zM217.3 663.5h6.2v6.2h-6.2zM223.1 663.5h6.2v6.2h-6.2zM229.0 663.5h6.2v6.2h-6.2zM234.8 663.5h6.2v6.2h-6.2zM240.6 663.5h6.2v6.2h-6.2zM246.5 663.5h6.2v6.2h-6.2zM252.3 663.5h6.2v6.2h-6.2zM258.1 663.5h6.2v6.2h-6.2zM264.0 663.5h6.2v6.2h-6.2zM269.8 663.5h6.2v6.2h-6.2zM275.6 663.5h6.2v6.2h-6.2zM281.5 663.5h6.2v6.2h-6.2zM287.3 663.5h6.2v6.2h-6.2zM293.1 663.5h6.2v6.2h-6.2zM299.0 663.5h6.2v6.2h-6.2zM304.8 663.5h6.2v6.2h-6.2zM310.6 663.5h6.2v6.2h-6.2zM316.5 663.5h6.2v6.2h-6.2zM322.3 663.5h6.2v6.2h-6.2zM328.1 663.5h6.2v6.2h-6.2zM334.0 663.5h6.2v6.2h-6.2zM339.8 663.5h6.2v6.2h-6.2zM345.6 663.5h6.2v6.2h-6.2zM351.5 663.5h6.2v6.2h-6.2zM357.3 663.5h6.2v6.2h-6.2zM363.1 663.5h6.2v6.2h-6.2zM369.0 663.5h6.2v6.2h-6.2zM374.8 663.5h6.2v6.2h-6.2zM380.6 663.5h6.2v6.2h-6.2zM386.5 663.5h6.2v6.2h-6.2zM392.3 663.5h6.2v6.2h-6.2zM398.1 663.5h6.2v6.2h-6.2zM404.0 663.5h6.2v6.2h-6.2zM409.8 663.5h6.2v6.2h-6.2zM415.6 663.5h6.2v6.2h-6.2zM421.5 663.5h6.2v6.2h-6.2zM427.3 663.5h6.2v6.2h-6.2zM433.1 663.5h6.2v6.2h-6.2zM439.0 663.5h6.2v6.2h-6.2zM444.8 663.5h6.2v6.2h-6.2zM450.6 663.5h6.2v6.2h-6.2zM456.5 663.5h6.2v6.2h-6.2zM462.3 663.5h6.2v6.2h-6.2zM468.1 663.5h6.2v6.2h-6.2zM474.0 663.5h6.2v6.2h-6.2zM479.8 663.5h6.2v6.2h-6.2zM485.6 663.5h6.2v6.2h-6.2zM491.5 663.5h6.2v6.2h-6.2zM497.3 663.5h6.2v6.2h-6.2zM503.1 663.5h6.2v6.2h-6.2zM509.0 663.5h6.2v6.2h-6.2zM514.8 663.5h6.2v6.2h-6.2zM520.6 663.5h6.2v6.2h-6.2zM526.5 663.5h6.2v6.2h-6.2zM532.3 663.5h6.2v6.2h-6.2zM538.1 663.5h6.2v6.2h-6.2zM544.0 663.5h6.2v6.2h-6.2zM549.8 663.5h6.2v6.2h-6.2zM555.6 663.5h6.2v6.2h-6.2zM561.5 663.5h6.2v6.2h-6.2zM567.3 663.5h6.2v6.2h-6.2zM573.1 663.5h6.2v6.2h-6.2zM579.0 663.5h6.2v6.2h-6.2zM584.8 663.5h6.2v6.2h-6.2zM590.6 663.5h6.2v6.2h-6.2zM596.5 663.5h6.2v6.2h-6.2zM602.3 663.5h6.2v6.2h-6.2zM608.1 663.5h6.2v6.2h-6.2zM614.0 663.5h6.2v6.2h-6.2zM619.8 663.5h6.2v6.2h-6.2zM625.6 663.5h6.2v6.2h-6.2zM176.5 657.6h6.2v6.2h-6.2zM182.3 657.6h6.2v6.2h-6.2zM188.1 657.6h6.2v6.2h-6.2zM194.0 657.6h6.2v6.2h-6.2zM199.8 657.6h6.2v6.2h-6.2zM205.6 657.6h6.2v6.2h-6.2zM211.5 657.6h6.2v6.2h-6.2zM217.3 657.6h6.2v6.2h-6.2zM223.1 657.6h6.2v6.2h-6.2zM229.0 657.6h6.2v6.2h-6.2zM234.8 657.6h6.2v6.2h-6.2zM240.6 657.6h6.2v6.2h-6.2zM246.5 657.6h6.2v6.2h-6.2zM252.3 657.6h6.2v6.2h-6.2zM258.1 657.6h6.2v6.2h-6.2zM264.0 657.6h6.2v6.2h-6.2zM269.8 657.6h6.2v6.2h-6.2zM275.6 657.6h6.2v6.2h-6.2zM281.5 657.6h6.2v6.2h-6.2zM287.3 657.6h6.2v6.2h-6.2zM293.1 657.6h6.2v6.2h-6.2zM299.0 657.6h6.2v6.2h-6.2zM304.8 657.6h6.2v6.2h-6.2zM310.6 657.6h6.2v6.2h-6.2zM316.5 657.6h6.2v6.2h-6.2zM322.3 657.6h6.2v6.2h-6.2zM328.1 657.6h6.2v6.2h-6.2zM334.0 657.6h6.2v6.2h-6.2zM339.8 657.6h6.2v6.2h-6.2zM345.6 657.6h6.2v6.2h-6.2zM351.5 657.6h6.2v6.2h-6.2zM357.3 657.6h6.2v6.2h-6.2zM363.1 657.6h6.2v6.2h-6.2zM369.0 657.6h6.2v6.2h-6.2zM374.8 657.6h6.2v6.2h-6.2zM380.6 657.6h6.2v6.2h-6.2zM386.5 657.6h6.2v6.2h-6.2zM392.3 657.6h6.2v6.2h-6.2zM398.1 657.6h6.2v6.2h-6.2zM404.0 657.6h6.2v6.2h-6.2zM409.8 657.6h6.2v6.2h-6.2zM415.6 657.6h6.2v6.2h-6.2zM421.5 657.6h6.2v6.2h-6.2zM427.3 657.6h6.2v6.2h-6.2zM433.1 657.6h6.2v6.2h-6.2zM439.0 657.6h6.2v6.2h-6.2zM444.8 657.6h6.2v6.2h-6.2zM450.6 657.6h6.2v6.2h-6.2zM456.5 657.6h6.2v6.2h-6.2zM462.3 657.6h6.2v6.2h-6.2zM468.1 657.6h6.2v6.2h-6.2zM474.0 657.6h6.2v6.2h-6.2zM479.8 657.6h6.2v6.2h-6.2zM485.6 657.6h6.2v6.2h-6.2zM491.5 657.6h6.2v6.2h-6.2zM497.3 657.6h6.2v6.2h-6.2zM503.1 657.6h6.2v6.2h-6.2zM509.0 657.6h6.2v6.2h-6.2zM514.8 657.6h6.2v6.2h-6.2zM520.6 657.6h6.2v6.2h-6.2zM526.5 657.6h6.2v6.2h-6.2zM532.3 657.6h6.2v6.2h-6.2zM538.1 657.6h6.2v6.2h-6.2zM544.0 657.6h6.2v6.2h-6.2zM549.8 657.6h6.2v6.2h-6.2zM555.6 657.6h6.2v6.2h-6.2zM561.5 657.6h6.2v6.2h-6.2zM567.3 657.6h6.2v6.2h-6.2zM573.1 657.6h6.2v6.2h-6.2zM579.0 657.6h6.2v6.2h-6.2zM584.8 657.6h6.2v6.2h-6.2zM590.6 657.6h6.2v6.2h-6.2zM596.5 657.6h6.2v6.2h-6.2zM602.3 657.6h6.2v6.2h-6.2zM608.1 657.6h6.2v6.2h-6.2zM614.0 657.6h6.2v6.2h-6.2zM619.8 657.6h6.2v6.2h-6.2zM625.6 657.6h6.2v6.2h-6.2zM176.5 651.8h6.2v6.2h-6.2zM182.3 651.8h6.2v6.2h-6.2zM188.1 651.8h6.2v6.2h-6.2zM194.0 651.8h6.2v6.2h-6.2zM199.8 651.8h6.2v6.2h-6.2zM205.6 651.8h6.2v6.2h-6.2zM211.5 651.8h6.2v6.2h-6.2zM217.3 651.8h6.2v6.2h-6.2zM223.1 651.8h6.2v6.2h-6.2zM229.0 651.8h6.2v6.2h-6.2zM234.8 651.8h6.2v6.2h-6.2zM240.6 651.8h6.2v6.2h-6.2zM246.5 651.8h6.2v6.2h-6.2zM252.3 651.8h6.2v6.2h-6.2zM258.1 651.8h6.2v6.2h-6.2zM264.0 651.8h6.2v6.2h-6.2zM269.8 651.8h6.2v6.2h-6.2zM275.6 651.8h6.2v6.2h-6.2zM281.5 651.8h6.2v6.2h-6.2zM287.3 651.8h6.2v6.2h-6.2zM293.1 651.8h6.2v6.2h-6.2zM299.0 651.8h6.2v6.2h-6.2zM304.8 651.8h6.2v6.2h-6.2zM310.6 651.8h6.2v6.2h-6.2zM316.5 651.8h6.2v6.2h-6.2zM322.3 651.8h6.2v6.2h-6.2zM328.1 651.8h6.2v6.2h-6.2zM334.0 651.8h6.2v6.2h-6.2zM339.8 651.8h6.2v6.2h-6.2zM345.6 651.8h6.2v6.2h-6.2zM351.5 651.8h6.2v6.2h-6.2zM357.3 651.8h6.2v6.2h-6.2zM363.1 651.8h6.2v6.2h-6.2zM369.0 651.8h6.2v6.2h-6.2zM374.8 651.8h6.2v6.2h-6.2zM380.6 651.8h6.2v6.2h-6.2zM386.5 651.8h6.2v6.2h-6.2zM392.3 651.8h6.2v6.2h-6.2zM398.1 651.8h6.2v6.2h-6.2zM404.0 651.8h6.2v6.2h-6.2zM409.8 651.8h6.2v6.2h-6.2zM415.6 651.8h6.2v6.2h-6.2zM421.5 651.8h6.2v6.2h-6.2zM427.3 651.8h6.2v6.2h-6.2zM433.1 651.8h6.2v6.2h-6.2zM439.0 651.8h6.2v6.2h-6.2zM444.8 651.8h6.2v6.2h-6.2zM450.6 651.8h6.2v6.2h-6.2zM456.5 651.8h6.2v6.2h-6.2zM462.3 651.8h6.2v6.2h-6.2zM468.1 651.8h6.2v6.2h-6.2zM474.0 651.8h6.2v6.2h-6.2zM479.8 651.8h6.2v6.2h-6.2zM485.6 651.8h6.2v6.2h-6.2zM491.5 651.8h6.2v6.2h-6.2zM497.3 651.8h6.2v6.2h-6.2zM503.1 651.8h6.2v6.2h-6.2zM509.0 651.8h6.2v6.2h-6.2zM514.8 651.8h6.2v6.2h-6.2zM520.6 651.8h6.2v6.2h-6.2zM526.5 651.8h6.2v6.2h-6.2zM532.3 651.8h6.2v6.2h-6.2zM538.1 651.8h6.2v6.2h-6.2zM544.0 651.8h6.2v6.2h-6.2zM549.8 651.8h6.2v6.2h-6.2zM555.6 651.8h6.2v6.2h-6.2zM561.5 651.8h6.2v6.2h-6.2zM567.3 651.8h6.2v6.2h-6.2zM573.1 651.8h6.2v6.2h-6.2zM579.0 651.8h6.2v6.2h-6.2zM584.8 651.8h6.2v6.2h-6.2zM590.6 651.8h6.2v6.2h-6.2zM596.5 651.8h6.2v6.2h-6.2zM602.3 651.8h6.2v6.2h-6.2zM608.1 651.8h6.2v6.2h-6.2zM614.0 651.8h6.2v6.2h-6.2zM619.8 651.8h6.2v6.2h-6.2zM625.6 651.8h6.2v6.2h-6.2zM176.5 645.9h6.2v6.2h-6.2zM182.3 645.9h6.2v6.2h-6.2zM188.1 645.9h6.2v6.2h-6.2zM194.0 645.9h6.2v6.2h-6.2zM199.8 645.9h6.2v6.2h-6.2zM205.6 645.9h6.2v6.2h-6.2zM211.5 645.9h6.2v6.2h-6.2zM217.3 645.9h6.2v6.2h-6.2zM223.1 645.9h6.2v6.2h-6.2zM229.0 645.9h6.2v6.2h-6.2zM234.8 645.9h6.2v6.2h-6.2zM240.6 645.9h6.2v6.2h-6.2zM246.5 645.9h6.2v6.2h-6.2zM252.3 645.9h6.2v6.2h-6.2zM258.1 645.9h6.2v6.2h-6.2zM264.0 645.9h6.2v6.2h-6.2zM269.8 645.9h6.2v6.2h-6.2zM275.6 645.9h6.2v6.2h-6.2zM281.5 645.9h6.2v6.2h-6.2zM287.3 645.9h6.2v6.2h-6.2zM293.1 645.9h6.2v6.2h-6.2zM299.0 645.9h6.2v6.2h-6.2zM304.8 645.9h6.2v6.2h-6.2zM310.6 645.9h6.2v6.2h-6.2zM316.5 645.9h6.2v6.2h-6.2zM322.3 645.9h6.2v6.2h-6.2zM328.1 645.9h6.2v6.2h-6.2zM334.0 645.9h6.2v6.2h-6.2zM339.8 645.9h6.2v6.2h-6.2zM345.6 645.9h6.2v6.2h-6.2zM351.5 645.9h6.2v6.2h-6.2zM357.3 645.9h6.2v6.2h-6.2zM363.1 645.9h6.2v6.2h-6.2zM369.0 645.9h6.2v6.2h-6.2zM374.8 645.9h6.2v6.2h-6.2zM380.6 645.9h6.2v6.2h-6.2zM386.5 645.9h6.2v6.2h-6.2zM392.3 645.9h6.2v6.2h-6.2zM398.1 645.9h6.2v6.2h-6.2zM404.0 645.9h6.2v6.2h-6.2zM409.8 645.9h6.2v6.2h-6.2zM415.6 645.9h6.2v6.2h-6.2zM421.5 645.9h6.2v6.2h-6.2zM427.3 645.9h6.2v6.2h-6.2zM433.1 645.9h6.2v6.2h-6.2zM439.0 645.9h6.2v6.2h-6.2zM444.8 645.9h6.2v6.2h-6.2zM450.6 645.9h6.2v6.2h-6.2zM456.5 645.9h6.2v6.2h-6.2zM462.3 645.9h6.2v6.2h-6.2zM468.1 645.9h6.2v6.2h-6.2zM474.0 645.9h6.2v6.2h-6.2zM479.8 645.9h6.2v6.2h-6.2zM485.6 645.9h6.2v6.2h-6.2zM491.5 645.9h6.2v6.2h-6.2zM497.3 645.9h6.2v6.2h-6.2zM503.1 645.9h6.2v6.2h-6.2zM509.0 645.9h6.2v6.2h-6.2zM514.8 645.9h6.2v6.2h-6.2zM520.6 645.9h6.2v6.2h-6.2zM526.5 645.9h6.2v6.2h-6.2zM532.3 645.9h6.2v6.2h-6.2zM538.1 645.9h6.2v6.2h-6.2zM544.0 645.9h6.2v6.2h-6.2zM549.8 645.9h6.2v6.2h-6.2zM555.6 645.9h6.2v6.2h-6.2zM561.5 645.9h6.2v6.2h-6.2zM567.3 645.9h6.2v6.2h-6.2zM573.1 645.9h6.2v6.2h-6.2zM579.0 645.9h6.2v6.2h-6.2zM584.8 645.9h6.2v6.2h-6.2zM590.6 645.9h6.2v6.2h-6.2zM596.5 645.9h6.2v6.2h-6.2zM602.3 645.9h6.2v6.2h-6.2zM608.1 645.9h6.2v6.2h-6.2zM614.0 645.9h6.2v6.2h-6.2zM619.8 645.9h6.2v6.2h-6.2zM176.5 640.1h6.2v6.2h-6.2zM182.3 640.1h6.2v6.2h-6.2zM188.1 640.1h6.2v6.2h-6.2zM194.0 640.1h6.2v6.2h-6.2zM199.8 640.1h6.2v6.2h-6.2zM205.6 640.1h6.2v6.2h-6.2zM211.5 640.1h6.2v6.2h-6.2zM217.3 640.1h6.2v6.2h-6.2zM223.1 640.1h6.2v6.2h-6.2zM229.0 640.1h6.2v6.2h-6.2zM234.8 640.1h6.2v6.2h-6.2zM240.6 640.1h6.2v6.2h-6.2zM246.5 640.1h6.2v6.2h-6.2zM252.3 640.1h6.2v6.2h-6.2zM258.1 640.1h6.2v6.2h-6.2zM264.0 640.1h6.2v6.2h-6.2zM269.8 640.1h6.2v6.2h-6.2zM275.6 640.1h6.2v6.2h-6.2zM281.5 640.1h6.2v6.2h-6.2zM287.3 640.1h6.2v6.2h-6.2zM293.1 640.1h6.2v6.2h-6.2zM299.0 640.1h6.2v6.2h-6.2zM304.8 640.1h6.2v6.2h-6.2zM310.6 640.1h6.2v6.2h-6.2zM316.5 640.1h6.2v6.2h-6.2zM322.3 640.1h6.2v6.2h-6.2zM328.1 640.1h6.2v6.2h-6.2zM334.0 640.1h6.2v6.2h-6.2zM339.8 640.1h6.2v6.2h-6.2zM345.6 640.1h6.2v6.2h-6.2zM351.5 640.1h6.2v6.2h-6.2zM357.3 640.1h6.2v6.2h-6.2zM363.1 640.1h6.2v6.2h-6.2zM369.0 640.1h6.2v6.2h-6.2zM374.8 640.1h6.2v6.2h-6.2zM380.6 640.1h6.2v6.2h-6.2zM386.5 640.1h6.2v6.2h-6.2zM392.3 640.1h6.2v6.2h-6.2zM398.1 640.1h6.2v6.2h-6.2zM404.0 640.1h6.2v6.2h-6.2zM409.8 640.1h6.2v6.2h-6.2zM415.6 640.1h6.2v6.2h-6.2zM421.5 640.1h6.2v6.2h-6.2zM427.3 640.1h6.2v6.2h-6.2zM433.1 640.1h6.2v6.2h-6.2zM439.0 640.1h6.2v6.2h-6.2zM444.8 640.1h6.2v6.2h-6.2zM450.6 640.1h6.2v6.2h-6.2zM456.5 640.1h6.2v6.2h-6.2zM462.3 640.1h6.2v6.2h-6.2zM468.1 640.1h6.2v6.2h-6.2zM474.0 640.1h6.2v6.2h-6.2zM479.8 640.1h6.2v6.2h-6.2zM485.6 640.1h6.2v6.2h-6.2zM491.5 640.1h6.2v6.2h-6.2zM497.3 640.1h6.2v6.2h-6.2zM503.1 640.1h6.2v6.2h-6.2zM509.0 640.1h6.2v6.2h-6.2zM514.8 640.1h6.2v6.2h-6.2zM520.6 640.1h6.2v6.2h-6.2zM526.5 640.1h6.2v6.2h-6.2zM532.3 640.1h6.2v6.2h-6.2zM538.1 640.1h6.2v6.2h-6.2zM544.0 640.1h6.2v6.2h-6.2zM549.8 640.1h6.2v6.2h-6.2zM555.6 640.1h6.2v6.2h-6.2zM561.5 640.1h6.2v6.2h-6.2zM567.3 640.1h6.2v6.2h-6.2zM573.1 640.1h6.2v6.2h-6.2zM579.0 640.1h6.2v6.2h-6.2zM584.8 640.1h6.2v6.2h-6.2zM590.6 640.1h6.2v6.2h-6.2zM596.5 640.1h6.2v6.2h-6.2zM602.3 640.1h6.2v6.2h-6.2zM608.1 640.1h6.2v6.2h-6.2zM614.0 640.1h6.2v6.2h-6.2zM619.8 640.1h6.2v6.2h-6.2zM176.5 634.3h6.2v6.2h-6.2zM182.3 634.3h6.2v6.2h-6.2zM188.1 634.3h6.2v6.2h-6.2zM194.0 634.3h6.2v6.2h-6.2zM199.8 634.3h6.2v6.2h-6.2zM205.6 634.3h6.2v6.2h-6.2zM211.5 634.3h6.2v6.2h-6.2zM217.3 634.3h6.2v6.2h-6.2zM223.1 634.3h6.2v6.2h-6.2zM229.0 634.3h6.2v6.2h-6.2zM234.8 634.3h6.2v6.2h-6.2zM240.6 634.3h6.2v6.2h-6.2zM246.5 634.3h6.2v6.2h-6.2zM252.3 634.3h6.2v6.2h-6.2zM258.1 634.3h6.2v6.2h-6.2zM264.0 634.3h6.2v6.2h-6.2zM269.8 634.3h6.2v6.2h-6.2zM275.6 634.3h6.2v6.2h-6.2zM281.5 634.3h6.2v6.2h-6.2zM287.3 634.3h6.2v6.2h-6.2zM293.1 634.3h6.2v6.2h-6.2zM299.0 634.3h6.2v6.2h-6.2zM304.8 634.3h6.2v6.2h-6.2zM310.6 634.3h6.2v6.2h-6.2zM316.5 634.3h6.2v6.2h-6.2zM322.3 634.3h6.2v6.2h-6.2zM328.1 634.3h6.2v6.2h-6.2zM334.0 634.3h6.2v6.2h-6.2zM339.8 634.3h6.2v6.2h-6.2zM345.6 634.3h6.2v6.2h-6.2zM351.5 634.3h6.2v6.2h-6.2zM357.3 634.3h6.2v6.2h-6.2zM363.1 634.3h6.2v6.2h-6.2zM369.0 634.3h6.2v6.2h-6.2zM374.8 634.3h6.2v6.2h-6.2zM380.6 634.3h6.2v6.2h-6.2zM386.5 634.3h6.2v6.2h-6.2zM392.3 634.3h6.2v6.2h-6.2zM398.1 634.3h6.2v6.2h-6.2zM404.0 634.3h6.2v6.2h-6.2zM409.8 634.3h6.2v6.2h-6.2zM415.6 634.3h6.2v6.2h-6.2zM421.5 634.3h6.2v6.2h-6.2zM427.3 634.3h6.2v6.2h-6.2zM433.1 634.3h6.2v6.2h-6.2zM439.0 634.3h6.2v6.2h-6.2zM444.8 634.3h6.2v6.2h-6.2zM450.6 634.3h6.2v6.2h-6.2zM456.5 634.3h6.2v6.2h-6.2zM462.3 634.3h6.2v6.2h-6.2zM468.1 634.3h6.2v6.2h-6.2zM474.0 634.3h6.2v6.2h-6.2zM479.8 634.3h6.2v6.2h-6.2zM485.6 634.3h6.2v6.2h-6.2zM491.5 634.3h6.2v6.2h-6.2zM497.3 634.3h6.2v6.2h-6.2zM503.1 634.3h6.2v6.2h-6.2zM509.0 634.3h6.2v6.2h-6.2zM514.8 634.3h6.2v6.2h-6.2zM520.6 634.3h6.2v6.2h-6.2zM526.5 634.3h6.2v6.2h-6.2zM532.3 634.3h6.2v6.2h-6.2zM538.1 634.3h6.2v6.2h-6.2zM544.0 634.3h6.2v6.2h-6.2zM549.8 634.3h6.2v6.2h-6.2zM555.6 634.3h6.2v6.2h-6.2zM561.5 634.3h6.2v6.2h-6.2zM567.3 634.3h6.2v6.2h-6.2zM573.1 634.3h6.2v6.2h-6.2zM579.0 634.3h6.2v6.2h-6.2zM584.8 634.3h6.2v6.2h-6.2zM590.6 634.3h6.2v6.2h-6.2zM596.5 634.3h6.2v6.2h-6.2zM602.3 634.3h6.2v6.2h-6.2zM608.1 634.3h6.2v6.2h-6.2zM614.0 634.3h6.2v6.2h-6.2zM619.8 634.3h6.2v6.2h-6.2zM176.5 628.4h6.2v6.2h-6.2zM182.3 628.4h6.2v6.2h-6.2zM188.1 628.4h6.2v6.2h-6.2zM194.0 628.4h6.2v6.2h-6.2zM199.8 628.4h6.2v6.2h-6.2zM205.6 628.4h6.2v6.2h-6.2zM211.5 628.4h6.2v6.2h-6.2zM217.3 628.4h6.2v6.2h-6.2zM223.1 628.4h6.2v6.2h-6.2zM229.0 628.4h6.2v6.2h-6.2zM234.8 628.4h6.2v6.2h-6.2zM240.6 628.4h6.2v6.2h-6.2zM246.5 628.4h6.2v6.2h-6.2zM252.3 628.4h6.2v6.2h-6.2zM258.1 628.4h6.2v6.2h-6.2zM264.0 628.4h6.2v6.2h-6.2zM269.8 628.4h6.2v6.2h-6.2zM275.6 628.4h6.2v6.2h-6.2zM281.5 628.4h6.2v6.2h-6.2zM287.3 628.4h6.2v6.2h-6.2zM293.1 628.4h6.2v6.2h-6.2zM299.0 628.4h6.2v6.2h-6.2zM304.8 628.4h6.2v6.2h-6.2zM310.6 628.4h6.2v6.2h-6.2zM316.5 628.4h6.2v6.2h-6.2zM322.3 628.4h6.2v6.2h-6.2zM328.1 628.4h6.2v6.2h-6.2zM334.0 628.4h6.2v6.2h-6.2zM339.8 628.4h6.2v6.2h-6.2zM345.6 628.4h6.2v6.2h-6.2zM351.5 628.4h6.2v6.2h-6.2zM357.3 628.4h6.2v6.2h-6.2zM363.1 628.4h6.2v6.2h-6.2zM369.0 628.4h6.2v6.2h-6.2zM374.8 628.4h6.2v6.2h-6.2zM380.6 628.4h6.2v6.2h-6.2zM386.5 628.4h6.2v6.2h-6.2zM392.3 628.4h6.2v6.2h-6.2zM398.1 628.4h6.2v6.2h-6.2zM404.0 628.4h6.2v6.2h-6.2zM409.8 628.4h6.2v6.2h-6.2zM415.6 628.4h6.2v6.2h-6.2zM421.5 628.4h6.2v6.2h-6.2zM427.3 628.4h6.2v6.2h-6.2zM433.1 628.4h6.2v6.2h-6.2zM439.0 628.4h6.2v6.2h-6.2zM444.8 628.4h6.2v6.2h-6.2zM450.6 628.4h6.2v6.2h-6.2zM456.5 628.4h6.2v6.2h-6.2zM462.3 628.4h6.2v6.2h-6.2zM468.1 628.4h6.2v6.2h-6.2zM474.0 628.4h6.2v6.2h-6.2zM479.8 628.4h6.2v6.2h-6.2zM485.6 628.4h6.2v6.2h-6.2zM491.5 628.4h6.2v6.2h-6.2zM497.3 628.4h6.2v6.2h-6.2zM503.1 628.4h6.2v6.2h-6.2zM509.0 628.4h6.2v6.2h-6.2zM514.8 628.4h6.2v6.2h-6.2zM520.6 628.4h6.2v6.2h-6.2zM526.5 628.4h6.2v6.2h-6.2zM532.3 628.4h6.2v6.2h-6.2zM538.1 628.4h6.2v6.2h-6.2zM544.0 628.4h6.2v6.2h-6.2zM549.8 628.4h6.2v6.2h-6.2zM555.6 628.4h6.2v6.2h-6.2zM561.5 628.4h6.2v6.2h-6.2zM567.3 628.4h6.2v6.2h-6.2zM573.1 628.4h6.2v6.2h-6.2zM579.0 628.4h6.2v6.2h-6.2zM584.8 628.4h6.2v6.2h-6.2zM590.6 628.4h6.2v6.2h-6.2zM596.5 628.4h6.2v6.2h-6.2zM602.3 628.4h6.2v6.2h-6.2zM608.1 628.4h6.2v6.2h-6.2zM614.0 628.4h6.2v6.2h-6.2zM619.8 628.4h6.2v6.2h-6.2zM176.5 622.6h6.2v6.2h-6.2zM182.3 622.6h6.2v6.2h-6.2zM188.1 622.6h6.2v6.2h-6.2zM194.0 622.6h6.2v6.2h-6.2zM199.8 622.6h6.2v6.2h-6.2zM205.6 622.6h6.2v6.2h-6.2zM211.5 622.6h6.2v6.2h-6.2zM217.3 622.6h6.2v6.2h-6.2zM223.1 622.6h6.2v6.2h-6.2zM229.0 622.6h6.2v6.2h-6.2zM234.8 622.6h6.2v6.2h-6.2zM240.6 622.6h6.2v6.2h-6.2zM246.5 622.6h6.2v6.2h-6.2zM252.3 622.6h6.2v6.2h-6.2zM258.1 622.6h6.2v6.2h-6.2zM264.0 622.6h6.2v6.2h-6.2zM269.8 622.6h6.2v6.2h-6.2zM275.6 622.6h6.2v6.2h-6.2zM281.5 622.6h6.2v6.2h-6.2zM287.3 622.6h6.2v6.2h-6.2zM293.1 622.6h6.2v6.2h-6.2zM299.0 622.6h6.2v6.2h-6.2zM304.8 622.6h6.2v6.2h-6.2zM310.6 622.6h6.2v6.2h-6.2zM316.5 622.6h6.2v6.2h-6.2zM322.3 622.6h6.2v6.2h-6.2zM328.1 622.6h6.2v6.2h-6.2zM334.0 622.6h6.2v6.2h-6.2zM339.8 622.6h6.2v6.2h-6.2zM345.6 622.6h6.2v6.2h-6.2zM351.5 622.6h6.2v6.2h-6.2zM357.3 622.6h6.2v6.2h-6.2zM363.1 622.6h6.2v6.2h-6.2zM369.0 622.6h6.2v6.2h-6.2zM374.8 622.6h6.2v6.2h-6.2zM380.6 622.6h6.2v6.2h-6.2zM386.5 622.6h6.2v6.2h-6.2zM392.3 622.6h6.2v6.2h-6.2zM398.1 622.6h6.2v6.2h-6.2zM404.0 622.6h6.2v6.2h-6.2zM409.8 622.6h6.2v6.2h-6.2zM415.6 622.6h6.2v6.2h-6.2zM421.5 622.6h6.2v6.2h-6.2zM427.3 622.6h6.2v6.2h-6.2zM433.1 622.6h6.2v6.2h-6.2zM439.0 622.6h6.2v6.2h-6.2zM444.8 622.6h6.2v6.2h-6.2zM450.6 622.6h6.2v6.2h-6.2zM456.5 622.6h6.2v6.2h-6.2zM462.3 622.6h6.2v6.2h-6.2zM468.1 622.6h6.2v6.2h-6.2zM474.0 622.6h6.2v6.2h-6.2zM479.8 622.6h6.2v6.2h-6.2zM485.6 622.6h6.2v6.2h-6.2zM491.5 622.6h6.2v6.2h-6.2zM497.3 622.6h6.2v6.2h-6.2zM503.1 622.6h6.2v6.2h-6.2zM509.0 622.6h6.2v6.2h-6.2zM514.8 622.6h6.2v6.2h-6.2zM520.6 622.6h6.2v6.2h-6.2zM526.5 622.6h6.2v6.2h-6.2zM532.3 622.6h6.2v6.2h-6.2zM538.1 622.6h6.2v6.2h-6.2zM544.0 622.6h6.2v6.2h-6.2zM549.8 622.6h6.2v6.2h-6.2zM555.6 622.6h6.2v6.2h-6.2zM561.5 622.6h6.2v6.2h-6.2zM567.3 622.6h6.2v6.2h-6.2zM573.1 622.6h6.2v6.2h-6.2zM579.0 622.6h6.2v6.2h-6.2zM584.8 622.6h6.2v6.2h-6.2zM590.6 622.6h6.2v6.2h-6.2zM596.5 622.6h6.2v6.2h-6.2zM602.3 622.6h6.2v6.2h-6.2zM608.1 622.6h6.2v6.2h-6.2zM614.0 622.6h6.2v6.2h-6.2zM176.5 616.7h6.2v6.2h-6.2zM182.3 616.7h6.2v6.2h-6.2zM188.1 616.7h6.2v6.2h-6.2zM194.0 616.7h6.2v6.2h-6.2zM199.8 616.7h6.2v6.2h-6.2zM205.6 616.7h6.2v6.2h-6.2zM211.5 616.7h6.2v6.2h-6.2zM217.3 616.7h6.2v6.2h-6.2zM223.1 616.7h6.2v6.2h-6.2zM229.0 616.7h6.2v6.2h-6.2zM234.8 616.7h6.2v6.2h-6.2zM240.6 616.7h6.2v6.2h-6.2zM246.5 616.7h6.2v6.2h-6.2zM252.3 616.7h6.2v6.2h-6.2zM258.1 616.7h6.2v6.2h-6.2zM264.0 616.7h6.2v6.2h-6.2zM269.8 616.7h6.2v6.2h-6.2zM275.6 616.7h6.2v6.2h-6.2zM281.5 616.7h6.2v6.2h-6.2zM287.3 616.7h6.2v6.2h-6.2zM293.1 616.7h6.2v6.2h-6.2zM299.0 616.7h6.2v6.2h-6.2zM304.8 616.7h6.2v6.2h-6.2zM310.6 616.7h6.2v6.2h-6.2zM316.5 616.7h6.2v6.2h-6.2zM322.3 616.7h6.2v6.2h-6.2zM328.1 616.7h6.2v6.2h-6.2zM334.0 616.7h6.2v6.2h-6.2zM339.8 616.7h6.2v6.2h-6.2zM345.6 616.7h6.2v6.2h-6.2zM351.5 616.7h6.2v6.2h-6.2zM357.3 616.7h6.2v6.2h-6.2zM363.1 616.7h6.2v6.2h-6.2zM369.0 616.7h6.2v6.2h-6.2zM374.8 616.7h6.2v6.2h-6.2zM380.6 616.7h6.2v6.2h-6.2zM386.5 616.7h6.2v6.2h-6.2zM392.3 616.7h6.2v6.2h-6.2zM398.1 616.7h6.2v6.2h-6.2zM404.0 616.7h6.2v6.2h-6.2zM409.8 616.7h6.2v6.2h-6.2zM415.6 616.7h6.2v6.2h-6.2zM421.5 616.7h6.2v6.2h-6.2zM427.3 616.7h6.2v6.2h-6.2zM433.1 616.7h6.2v6.2h-6.2zM439.0 616.7h6.2v6.2h-6.2zM444.8 616.7h6.2v6.2h-6.2zM450.6 616.7h6.2v6.2h-6.2zM456.5 616.7h6.2v6.2h-6.2zM462.3 616.7h6.2v6.2h-6.2zM468.1 616.7h6.2v6.2h-6.2zM474.0 616.7h6.2v6.2h-6.2zM479.8 616.7h6.2v6.2h-6.2zM485.6 616.7h6.2v6.2h-6.2zM491.5 616.7h6.2v6.2h-6.2zM497.3 616.7h6.2v6.2h-6.2zM503.1 616.7h6.2v6.2h-6.2zM509.0 616.7h6.2v6.2h-6.2zM514.8 616.7h6.2v6.2h-6.2zM520.6 616.7h6.2v6.2h-6.2zM526.5 616.7h6.2v6.2h-6.2zM532.3 616.7h6.2v6.2h-6.2zM538.1 616.7h6.2v6.2h-6.2zM544.0 616.7h6.2v6.2h-6.2zM549.8 616.7h6.2v6.2h-6.2zM555.6 616.7h6.2v6.2h-6.2zM561.5 616.7h6.2v6.2h-6.2zM567.3 616.7h6.2v6.2h-6.2zM573.1 616.7h6.2v6.2h-6.2zM579.0 616.7h6.2v6.2h-6.2zM584.8 616.7h6.2v6.2h-6.2zM590.6 616.7h6.2v6.2h-6.2zM596.5 616.7h6.2v6.2h-6.2zM602.3 616.7h6.2v6.2h-6.2zM608.1 616.7h6.2v6.2h-6.2zM176.5 610.9h6.2v6.2h-6.2zM182.3 610.9h6.2v6.2h-6.2zM188.1 610.9h6.2v6.2h-6.2zM194.0 610.9h6.2v6.2h-6.2zM199.8 610.9h6.2v6.2h-6.2zM205.6 610.9h6.2v6.2h-6.2zM211.5 610.9h6.2v6.2h-6.2zM217.3 610.9h6.2v6.2h-6.2zM223.1 610.9h6.2v6.2h-6.2zM229.0 610.9h6.2v6.2h-6.2zM234.8 610.9h6.2v6.2h-6.2zM240.6 610.9h6.2v6.2h-6.2zM246.5 610.9h6.2v6.2h-6.2zM252.3 610.9h6.2v6.2h-6.2zM258.1 610.9h6.2v6.2h-6.2zM264.0 610.9h6.2v6.2h-6.2zM269.8 610.9h6.2v6.2h-6.2zM275.6 610.9h6.2v6.2h-6.2zM281.5 610.9h6.2v6.2h-6.2zM287.3 610.9h6.2v6.2h-6.2zM293.1 610.9h6.2v6.2h-6.2zM299.0 610.9h6.2v6.2h-6.2zM304.8 610.9h6.2v6.2h-6.2zM310.6 610.9h6.2v6.2h-6.2zM316.5 610.9h6.2v6.2h-6.2zM322.3 610.9h6.2v6.2h-6.2zM328.1 610.9h6.2v6.2h-6.2zM334.0 610.9h6.2v6.2h-6.2zM339.8 610.9h6.2v6.2h-6.2zM345.6 610.9h6.2v6.2h-6.2zM351.5 610.9h6.2v6.2h-6.2zM357.3 610.9h6.2v6.2h-6.2zM363.1 610.9h6.2v6.2h-6.2zM369.0 610.9h6.2v6.2h-6.2zM374.8 610.9h6.2v6.2h-6.2zM380.6 610.9h6.2v6.2h-6.2zM386.5 610.9h6.2v6.2h-6.2zM392.3 610.9h6.2v6.2h-6.2zM398.1 610.9h6.2v6.2h-6.2zM404.0 610.9h6.2v6.2h-6.2zM409.8 610.9h6.2v6.2h-6.2zM415.6 610.9h6.2v6.2h-6.2zM421.5 610.9h6.2v6.2h-6.2zM427.3 610.9h6.2v6.2h-6.2zM433.1 610.9h6.2v6.2h-6.2zM439.0 610.9h6.2v6.2h-6.2zM444.8 610.9h6.2v6.2h-6.2zM450.6 610.9h6.2v6.2h-6.2zM456.5 610.9h6.2v6.2h-6.2zM462.3 610.9h6.2v6.2h-6.2zM468.1 610.9h6.2v6.2h-6.2zM474.0 610.9h6.2v6.2h-6.2zM479.8 610.9h6.2v6.2h-6.2zM485.6 610.9h6.2v6.2h-6.2zM491.5 610.9h6.2v6.2h-6.2zM497.3 610.9h6.2v6.2h-6.2zM503.1 610.9h6.2v6.2h-6.2zM509.0 610.9h6.2v6.2h-6.2zM514.8 610.9h6.2v6.2h-6.2zM520.6 610.9h6.2v6.2h-6.2zM526.5 610.9h6.2v6.2h-6.2zM532.3 610.9h6.2v6.2h-6.2zM538.1 610.9h6.2v6.2h-6.2zM544.0 610.9h6.2v6.2h-6.2zM549.8 610.9h6.2v6.2h-6.2zM555.6 610.9h6.2v6.2h-6.2zM561.5 610.9h6.2v6.2h-6.2zM567.3 610.9h6.2v6.2h-6.2zM573.1 610.9h6.2v6.2h-6.2zM579.0 610.9h6.2v6.2h-6.2zM584.8 610.9h6.2v6.2h-6.2zM590.6 610.9h6.2v6.2h-6.2zM596.5 610.9h6.2v6.2h-6.2zM602.3 610.9h6.2v6.2h-6.2zM176.5 605.0h6.2v6.2h-6.2zM182.3 605.0h6.2v6.2h-6.2zM188.1 605.0h6.2v6.2h-6.2zM194.0 605.0h6.2v6.2h-6.2zM199.8 605.0h6.2v6.2h-6.2zM205.6 605.0h6.2v6.2h-6.2zM211.5 605.0h6.2v6.2h-6.2zM217.3 605.0h6.2v6.2h-6.2zM223.1 605.0h6.2v6.2h-6.2zM229.0 605.0h6.2v6.2h-6.2zM234.8 605.0h6.2v6.2h-6.2zM240.6 605.0h6.2v6.2h-6.2zM246.5 605.0h6.2v6.2h-6.2zM252.3 605.0h6.2v6.2h-6.2zM258.1 605.0h6.2v6.2h-6.2zM264.0 605.0h6.2v6.2h-6.2zM269.8 605.0h6.2v6.2h-6.2zM275.6 605.0h6.2v6.2h-6.2zM281.5 605.0h6.2v6.2h-6.2zM287.3 605.0h6.2v6.2h-6.2zM293.1 605.0h6.2v6.2h-6.2zM299.0 605.0h6.2v6.2h-6.2zM304.8 605.0h6.2v6.2h-6.2zM310.6 605.0h6.2v6.2h-6.2zM316.5 605.0h6.2v6.2h-6.2zM322.3 605.0h6.2v6.2h-6.2zM328.1 605.0h6.2v6.2h-6.2zM334.0 605.0h6.2v6.2h-6.2zM339.8 605.0h6.2v6.2h-6.2zM345.6 605.0h6.2v6.2h-6.2zM351.5 605.0h6.2v6.2h-6.2zM357.3 605.0h6.2v6.2h-6.2zM363.1 605.0h6.2v6.2h-6.2zM369.0 605.0h6.2v6.2h-6.2zM374.8 605.0h6.2v6.2h-6.2zM380.6 605.0h6.2v6.2h-6.2zM386.5 605.0h6.2v6.2h-6.2zM392.3 605.0h6.2v6.2h-6.2zM398.1 605.0h6.2v6.2h-6.2zM404.0 605.0h6.2v6.2h-6.2zM409.8 605.0h6.2v6.2h-6.2zM415.6 605.0h6.2v6.2h-6.2zM421.5 605.0h6.2v6.2h-6.2zM427.3 605.0h6.2v6.2h-6.2zM433.1 605.0h6.2v6.2h-6.2zM439.0 605.0h6.2v6.2h-6.2zM444.8 605.0h6.2v6.2h-6.2zM450.6 605.0h6.2v6.2h-6.2zM456.5 605.0h6.2v6.2h-6.2zM462.3 605.0h6.2v6.2h-6.2zM468.1 605.0h6.2v6.2h-6.2zM474.0 605.0h6.2v6.2h-6.2zM479.8 605.0h6.2v6.2h-6.2zM485.6 605.0h6.2v6.2h-6.2zM491.5 605.0h6.2v6.2h-6.2zM497.3 605.0h6.2v6.2h-6.2zM503.1 605.0h6.2v6.2h-6.2zM509.0 605.0h6.2v6.2h-6.2zM514.8 605.0h6.2v6.2h-6.2zM520.6 605.0h6.2v6.2h-6.2zM526.5 605.0h6.2v6.2h-6.2zM532.3 605.0h6.2v6.2h-6.2zM538.1 605.0h6.2v6.2h-6.2zM544.0 605.0h6.2v6.2h-6.2zM549.8 605.0h6.2v6.2h-6.2zM555.6 605.0h6.2v6.2h-6.2zM561.5 605.0h6.2v6.2h-6.2zM567.3 605.0h6.2v6.2h-6.2zM573.1 605.0h6.2v6.2h-6.2zM579.0 605.0h6.2v6.2h-6.2zM584.8 605.0h6.2v6.2h-6.2zM590.6 605.0h6.2v6.2h-6.2zM176.5 599.2h6.2v6.2h-6.2zM182.3 599.2h6.2v6.2h-6.2zM188.1 599.2h6.2v6.2h-6.2zM194.0 599.2h6.2v6.2h-6.2zM199.8 599.2h6.2v6.2h-6.2zM205.6 599.2h6.2v6.2h-6.2zM211.5 599.2h6.2v6.2h-6.2zM217.3 599.2h6.2v6.2h-6.2zM223.1 599.2h6.2v6.2h-6.2zM229.0 599.2h6.2v6.2h-6.2zM234.8 599.2h6.2v6.2h-6.2zM240.6 599.2h6.2v6.2h-6.2zM246.5 599.2h6.2v6.2h-6.2zM252.3 599.2h6.2v6.2h-6.2zM258.1 599.2h6.2v6.2h-6.2zM264.0 599.2h6.2v6.2h-6.2zM269.8 599.2h6.2v6.2h-6.2zM275.6 599.2h6.2v6.2h-6.2zM281.5 599.2h6.2v6.2h-6.2zM287.3 599.2h6.2v6.2h-6.2zM293.1 599.2h6.2v6.2h-6.2zM299.0 599.2h6.2v6.2h-6.2zM304.8 599.2h6.2v6.2h-6.2zM310.6 599.2h6.2v6.2h-6.2zM316.5 599.2h6.2v6.2h-6.2zM322.3 599.2h6.2v6.2h-6.2zM328.1 599.2h6.2v6.2h-6.2zM334.0 599.2h6.2v6.2h-6.2zM339.8 599.2h6.2v6.2h-6.2zM345.6 599.2h6.2v6.2h-6.2zM351.5 599.2h6.2v6.2h-6.2zM357.3 599.2h6.2v6.2h-6.2zM363.1 599.2h6.2v6.2h-6.2zM369.0 599.2h6.2v6.2h-6.2zM374.8 599.2h6.2v6.2h-6.2zM380.6 599.2h6.2v6.2h-6.2zM386.5 599.2h6.2v6.2h-6.2zM392.3 599.2h6.2v6.2h-6.2zM398.1 599.2h6.2v6.2h-6.2zM404.0 599.2h6.2v6.2h-6.2zM409.8 599.2h6.2v6.2h-6.2zM415.6 599.2h6.2v6.2h-6.2zM421.5 599.2h6.2v6.2h-6.2zM427.3 599.2h6.2v6.2h-6.2zM433.1 599.2h6.2v6.2h-6.2zM439.0 599.2h6.2v6.2h-6.2zM444.8 599.2h6.2v6.2h-6.2zM450.6 599.2h6.2v6.2h-6.2zM456.5 599.2h6.2v6.2h-6.2zM462.3 599.2h6.2v6.2h-6.2zM468.1 599.2h6.2v6.2h-6.2zM474.0 599.2h6.2v6.2h-6.2zM479.8 599.2h6.2v6.2h-6.2zM485.6 599.2h6.2v6.2h-6.2zM491.5 599.2h6.2v6.2h-6.2zM497.3 599.2h6.2v6.2h-6.2zM503.1 599.2h6.2v6.2h-6.2zM509.0 599.2h6.2v6.2h-6.2zM514.8 599.2h6.2v6.2h-6.2zM520.6 599.2h6.2v6.2h-6.2zM526.5 599.2h6.2v6.2h-6.2zM532.3 599.2h6.2v6.2h-6.2zM538.1 599.2h6.2v6.2h-6.2zM544.0 599.2h6.2v6.2h-6.2zM549.8 599.2h6.2v6.2h-6.2zM555.6 599.2h6.2v6.2h-6.2zM561.5 599.2h6.2v6.2h-6.2zM567.3 599.2h6.2v6.2h-6.2zM573.1 599.2h6.2v6.2h-6.2zM579.0 599.2h6.2v6.2h-6.2zM584.8 599.2h6.2v6.2h-6.2zM176.5 593.3h6.2v6.2h-6.2zM182.3 593.3h6.2v6.2h-6.2zM188.1 593.3h6.2v6.2h-6.2zM194.0 593.3h6.2v6.2h-6.2zM199.8 593.3h6.2v6.2h-6.2zM205.6 593.3h6.2v6.2h-6.2zM211.5 593.3h6.2v6.2h-6.2zM217.3 593.3h6.2v6.2h-6.2zM223.1 593.3h6.2v6.2h-6.2zM229.0 593.3h6.2v6.2h-6.2zM234.8 593.3h6.2v6.2h-6.2zM240.6 593.3h6.2v6.2h-6.2zM246.5 593.3h6.2v6.2h-6.2zM252.3 593.3h6.2v6.2h-6.2zM258.1 593.3h6.2v6.2h-6.2zM264.0 593.3h6.2v6.2h-6.2zM269.8 593.3h6.2v6.2h-6.2zM275.6 593.3h6.2v6.2h-6.2zM281.5 593.3h6.2v6.2h-6.2zM287.3 593.3h6.2v6.2h-6.2zM293.1 593.3h6.2v6.2h-6.2zM299.0 593.3h6.2v6.2h-6.2zM304.8 593.3h6.2v6.2h-6.2zM310.6 593.3h6.2v6.2h-6.2zM316.5 593.3h6.2v6.2h-6.2zM322.3 593.3h6.2v6.2h-6.2zM328.1 593.3h6.2v6.2h-6.2zM334.0 593.3h6.2v6.2h-6.2zM339.8 593.3h6.2v6.2h-6.2zM345.6 593.3h6.2v6.2h-6.2zM351.5 593.3h6.2v6.2h-6.2zM357.3 593.3h6.2v6.2h-6.2zM363.1 593.3h6.2v6.2h-6.2zM369.0 593.3h6.2v6.2h-6.2zM374.8 593.3h6.2v6.2h-6.2zM380.6 593.3h6.2v6.2h-6.2zM386.5 593.3h6.2v6.2h-6.2zM392.3 593.3h6.2v6.2h-6.2zM398.1 593.3h6.2v6.2h-6.2zM404.0 593.3h6.2v6.2h-6.2zM409.8 593.3h6.2v6.2h-6.2zM415.6 593.3h6.2v6.2h-6.2zM421.5 593.3h6.2v6.2h-6.2zM427.3 593.3h6.2v6.2h-6.2zM433.1 593.3h6.2v6.2h-6.2zM439.0 593.3h6.2v6.2h-6.2zM444.8 593.3h6.2v6.2h-6.2zM450.6 593.3h6.2v6.2h-6.2zM456.5 593.3h6.2v6.2h-6.2zM462.3 593.3h6.2v6.2h-6.2zM468.1 593.3h6.2v6.2h-6.2zM474.0 593.3h6.2v6.2h-6.2zM479.8 593.3h6.2v6.2h-6.2zM485.6 593.3h6.2v6.2h-6.2zM491.5 593.3h6.2v6.2h-6.2zM497.3 593.3h6.2v6.2h-6.2zM503.1 593.3h6.2v6.2h-6.2zM509.0 593.3h6.2v6.2h-6.2zM514.8 593.3h6.2v6.2h-6.2zM520.6 593.3h6.2v6.2h-6.2zM526.5 593.3h6.2v6.2h-6.2zM532.3 593.3h6.2v6.2h-6.2zM538.1 593.3h6.2v6.2h-6.2zM544.0 593.3h6.2v6.2h-6.2zM549.8 593.3h6.2v6.2h-6.2zM555.6 593.3h6.2v6.2h-6.2zM561.5 593.3h6.2v6.2h-6.2zM567.3 593.3h6.2v6.2h-6.2zM573.1 593.3h6.2v6.2h-6.2zM176.5 587.5h6.2v6.3h-6.2zM182.3 587.5h6.2v6.3h-6.2zM188.1 587.5h6.2v6.3h-6.2zM194.0 587.5h6.2v6.3h-6.2zM199.8 587.5h6.2v6.3h-6.2zM205.6 587.5h6.2v6.3h-6.2zM211.5 587.5h6.2v6.3h-6.2zM217.3 587.5h6.2v6.3h-6.2zM223.1 587.5h6.2v6.3h-6.2zM229.0 587.5h6.2v6.3h-6.2zM234.8 587.5h6.2v6.3h-6.2zM240.6 587.5h6.2v6.3h-6.2zM246.5 587.5h6.2v6.3h-6.2zM252.3 587.5h6.2v6.3h-6.2zM258.1 587.5h6.2v6.3h-6.2zM264.0 587.5h6.2v6.3h-6.2zM269.8 587.5h6.2v6.3h-6.2zM275.6 587.5h6.2v6.3h-6.2zM281.5 587.5h6.2v6.3h-6.2zM287.3 587.5h6.2v6.3h-6.2zM293.1 587.5h6.2v6.3h-6.2zM299.0 587.5h6.2v6.3h-6.2zM304.8 587.5h6.2v6.3h-6.2zM310.6 587.5h6.2v6.3h-6.2zM316.5 587.5h6.2v6.3h-6.2zM322.3 587.5h6.2v6.3h-6.2zM328.1 587.5h6.2v6.3h-6.2zM334.0 587.5h6.2v6.3h-6.2zM339.8 587.5h6.2v6.3h-6.2zM345.6 587.5h6.2v6.3h-6.2zM351.5 587.5h6.2v6.3h-6.2zM357.3 587.5h6.2v6.3h-6.2zM363.1 587.5h6.2v6.3h-6.2zM369.0 587.5h6.2v6.3h-6.2zM374.8 587.5h6.2v6.3h-6.2zM380.6 587.5h6.2v6.3h-6.2zM386.5 587.5h6.2v6.3h-6.2zM392.3 587.5h6.2v6.3h-6.2zM398.1 587.5h6.2v6.3h-6.2zM404.0 587.5h6.2v6.3h-6.2zM409.8 587.5h6.2v6.3h-6.2zM415.6 587.5h6.2v6.3h-6.2zM421.5 587.5h6.2v6.3h-6.2zM427.3 587.5h6.2v6.3h-6.2zM433.1 587.5h6.2v6.3h-6.2zM439.0 587.5h6.2v6.3h-6.2zM444.8 587.5h6.2v6.3h-6.2zM450.6 587.5h6.2v6.3h-6.2zM456.5 587.5h6.2v6.3h-6.2zM462.3 587.5h6.2v6.3h-6.2zM468.1 587.5h6.2v6.3h-6.2zM474.0 587.5h6.2v6.3h-6.2zM479.8 587.5h6.2v6.3h-6.2zM485.6 587.5h6.2v6.3h-6.2zM491.5 587.5h6.2v6.3h-6.2zM497.3 587.5h6.2v6.3h-6.2zM503.1 587.5h6.2v6.3h-6.2zM509.0 587.5h6.2v6.3h-6.2zM514.8 587.5h6.2v6.3h-6.2zM520.6 587.5h6.2v6.3h-6.2zM526.5 587.5h6.2v6.3h-6.2zM532.3 587.5h6.2v6.3h-6.2zM538.1 587.5h6.2v6.3h-6.2zM544.0 587.5h6.2v6.3h-6.2zM549.8 587.5h6.2v6.3h-6.2zM555.6 587.5h6.2v6.3h-6.2zM561.5 587.5h6.2v6.3h-6.2zM176.5 581.6h6.2v6.3h-6.2zM182.3 581.6h6.2v6.3h-6.2zM188.1 581.6h6.2v6.3h-6.2zM194.0 581.6h6.2v6.3h-6.2zM199.8 581.6h6.2v6.3h-6.2zM205.6 581.6h6.2v6.3h-6.2zM211.5 581.6h6.2v6.3h-6.2zM217.3 581.6h6.2v6.3h-6.2zM223.1 581.6h6.2v6.3h-6.2zM229.0 581.6h6.2v6.3h-6.2zM234.8 581.6h6.2v6.3h-6.2zM240.6 581.6h6.2v6.3h-6.2zM246.5 581.6h6.2v6.3h-6.2zM252.3 581.6h6.2v6.3h-6.2zM258.1 581.6h6.2v6.3h-6.2zM264.0 581.6h6.2v6.3h-6.2zM269.8 581.6h6.2v6.3h-6.2zM275.6 581.6h6.2v6.3h-6.2zM281.5 581.6h6.2v6.3h-6.2zM287.3 581.6h6.2v6.3h-6.2zM293.1 581.6h6.2v6.3h-6.2zM299.0 581.6h6.2v6.3h-6.2zM304.8 581.6h6.2v6.3h-6.2zM310.6 581.6h6.2v6.3h-6.2zM316.5 581.6h6.2v6.3h-6.2zM322.3 581.6h6.2v6.3h-6.2zM328.1 581.6h6.2v6.3h-6.2zM334.0 581.6h6.2v6.3h-6.2zM339.8 581.6h6.2v6.3h-6.2zM345.6 581.6h6.2v6.3h-6.2zM351.5 581.6h6.2v6.3h-6.2zM357.3 581.6h6.2v6.3h-6.2zM363.1 581.6h6.2v6.3h-6.2zM369.0 581.6h6.2v6.3h-6.2zM374.8 581.6h6.2v6.3h-6.2zM380.6 581.6h6.2v6.3h-6.2zM386.5 581.6h6.2v6.3h-6.2zM392.3 581.6h6.2v6.3h-6.2zM398.1 581.6h6.2v6.3h-6.2zM404.0 581.6h6.2v6.3h-6.2zM409.8 581.6h6.2v6.3h-6.2zM415.6 581.6h6.2v6.3h-6.2zM421.5 581.6h6.2v6.3h-6.2zM427.3 581.6h6.2v6.3h-6.2zM433.1 581.6h6.2v6.3h-6.2zM439.0 581.6h6.2v6.3h-6.2zM444.8 581.6h6.2v6.3h-6.2zM450.6 581.6h6.2v6.3h-6.2zM456.5 581.6h6.2v6.3h-6.2zM462.3 581.6h6.2v6.3h-6.2zM468.1 581.6h6.2v6.3h-6.2zM474.0 581.6h6.2v6.3h-6.2zM479.8 581.6h6.2v6.3h-6.2zM485.6 581.6h6.2v6.3h-6.2zM491.5 581.6h6.2v6.3h-6.2zM497.3 581.6h6.2v6.3h-6.2zM503.1 581.6h6.2v6.3h-6.2zM509.0 581.6h6.2v6.3h-6.2zM514.8 581.6h6.2v6.3h-6.2zM520.6 581.6h6.2v6.3h-6.2zM526.5 581.6h6.2v6.3h-6.2zM532.3 581.6h6.2v6.3h-6.2zM538.1 581.6h6.2v6.3h-6.2zM544.0 581.6h6.2v6.3h-6.2zM176.5 575.8h6.2v6.3h-6.2zM182.3 575.8h6.2v6.3h-6.2zM188.1 575.8h6.2v6.3h-6.2zM194.0 575.8h6.2v6.3h-6.2zM199.8 575.8h6.2v6.3h-6.2zM205.6 575.8h6.2v6.3h-6.2zM211.5 575.8h6.2v6.3h-6.2zM217.3 575.8h6.2v6.3h-6.2zM223.1 575.8h6.2v6.3h-6.2zM229.0 575.8h6.2v6.3h-6.2zM234.8 575.8h6.2v6.3h-6.2zM240.6 575.8h6.2v6.3h-6.2zM246.5 575.8h6.2v6.3h-6.2zM252.3 575.8h6.2v6.3h-6.2zM258.1 575.8h6.2v6.3h-6.2zM264.0 575.8h6.2v6.3h-6.2zM269.8 575.8h6.2v6.3h-6.2zM275.6 575.8h6.2v6.3h-6.2zM281.5 575.8h6.2v6.3h-6.2zM287.3 575.8h6.2v6.3h-6.2zM293.1 575.8h6.2v6.3h-6.2zM299.0 575.8h6.2v6.3h-6.2zM304.8 575.8h6.2v6.3h-6.2zM310.6 575.8h6.2v6.3h-6.2zM316.5 575.8h6.2v6.3h-6.2zM322.3 575.8h6.2v6.3h-6.2zM328.1 575.8h6.2v6.3h-6.2zM334.0 575.8h6.2v6.3h-6.2zM339.8 575.8h6.2v6.3h-6.2zM345.6 575.8h6.2v6.3h-6.2zM351.5 575.8h6.2v6.3h-6.2zM357.3 575.8h6.2v6.3h-6.2zM363.1 575.8h6.2v6.3h-6.2zM369.0 575.8h6.2v6.3h-6.2zM374.8 575.8h6.2v6.3h-6.2zM380.6 575.8h6.2v6.3h-6.2zM386.5 575.8h6.2v6.3h-6.2zM392.3 575.8h6.2v6.3h-6.2zM398.1 575.8h6.2v6.3h-6.2zM404.0 575.8h6.2v6.3h-6.2zM409.8 575.8h6.2v6.3h-6.2zM415.6 575.8h6.2v6.3h-6.2zM421.5 575.8h6.2v6.3h-6.2zM427.3 575.8h6.2v6.3h-6.2zM433.1 575.8h6.2v6.3h-6.2zM439.0 575.8h6.2v6.3h-6.2zM444.8 575.8h6.2v6.3h-6.2zM450.6 575.8h6.2v6.3h-6.2zM456.5 575.8h6.2v6.3h-6.2zM462.3 575.8h6.2v6.3h-6.2zM468.1 575.8h6.2v6.3h-6.2zM474.0 575.8h6.2v6.3h-6.2zM176.5 569.9h6.2v6.3h-6.2zM182.3 569.9h6.2v6.3h-6.2zM188.1 569.9h6.2v6.3h-6.2zM194.0 569.9h6.2v6.3h-6.2zM199.8 569.9h6.2v6.3h-6.2zM205.6 569.9h6.2v6.3h-6.2zM211.5 569.9h6.2v6.3h-6.2zM217.3 569.9h6.2v6.3h-6.2zM223.1 569.9h6.2v6.3h-6.2zM229.0 569.9h6.2v6.3h-6.2zM234.8 569.9h6.2v6.3h-6.2zM240.6 569.9h6.2v6.3h-6.2zM246.5 569.9h6.2v6.3h-6.2zM252.3 569.9h6.2v6.3h-6.2zM258.1 569.9h6.2v6.3h-6.2zM264.0 569.9h6.2v6.3h-6.2zM269.8 569.9h6.2v6.3h-6.2zM275.6 569.9h6.2v6.3h-6.2zM281.5 569.9h6.2v6.3h-6.2zM287.3 569.9h6.2v6.3h-6.2zM293.1 569.9h6.2v6.3h-6.2zM299.0 569.9h6.2v6.3h-6.2zM304.8 569.9h6.2v6.3h-6.2zM310.6 569.9h6.2v6.3h-6.2zM316.5 569.9h6.2v6.3h-6.2zM322.3 569.9h6.2v6.3h-6.2zM328.1 569.9h6.2v6.3h-6.2zM334.0 569.9h6.2v6.3h-6.2zM339.8 569.9h6.2v6.3h-6.2zM345.6 569.9h6.2v6.3h-6.2zM351.5 569.9h6.2v6.3h-6.2zM357.3 569.9h6.2v6.3h-6.2zM363.1 569.9h6.2v6.3h-6.2zM369.0 569.9h6.2v6.3h-6.2zM374.8 569.9h6.2v6.3h-6.2zM380.6 569.9h6.2v6.3h-6.2zM386.5 569.9h6.2v6.3h-6.2zM392.3 569.9h6.2v6.3h-6.2zM398.1 569.9h6.2v6.3h-6.2zM404.0 569.9h6.2v6.3h-6.2zM409.8 569.9h6.2v6.3h-6.2zM415.6 569.9h6.2v6.3h-6.2zM421.5 569.9h6.2v6.3h-6.2zM427.3 569.9h6.2v6.3h-6.2zM433.1 569.9h6.2v6.3h-6.2zM439.0 569.9h6.2v6.3h-6.2zM444.8 569.9h6.2v6.3h-6.2zM450.6 569.9h6.2v6.3h-6.2zM456.5 569.9h6.2v6.3h-6.2zM462.3 569.9h6.2v6.3h-6.2zM468.1 569.9h6.2v6.3h-6.2zM176.5 564.1h6.2v6.3h-6.2zM182.3 564.1h6.2v6.3h-6.2zM188.1 564.1h6.2v6.3h-6.2zM194.0 564.1h6.2v6.3h-6.2zM199.8 564.1h6.2v6.3h-6.2zM205.6 564.1h6.2v6.3h-6.2zM211.5 564.1h6.2v6.3h-6.2zM217.3 564.1h6.2v6.3h-6.2zM223.1 564.1h6.2v6.3h-6.2zM229.0 564.1h6.2v6.3h-6.2zM234.8 564.1h6.2v6.3h-6.2zM240.6 564.1h6.2v6.3h-6.2zM246.5 564.1h6.2v6.3h-6.2zM252.3 564.1h6.2v6.3h-6.2zM258.1 564.1h6.2v6.3h-6.2zM264.0 564.1h6.2v6.3h-6.2zM269.8 564.1h6.2v6.3h-6.2zM275.6 564.1h6.2v6.3h-6.2zM281.5 564.1h6.2v6.3h-6.2zM287.3 564.1h6.2v6.3h-6.2zM293.1 564.1h6.2v6.3h-6.2zM299.0 564.1h6.2v6.3h-6.2zM304.8 564.1h6.2v6.3h-6.2zM310.6 564.1h6.2v6.3h-6.2zM316.5 564.1h6.2v6.3h-6.2zM322.3 564.1h6.2v6.3h-6.2zM328.1 564.1h6.2v6.3h-6.2zM334.0 564.1h6.2v6.3h-6.2zM339.8 564.1h6.2v6.3h-6.2zM345.6 564.1h6.2v6.3h-6.2zM351.5 564.1h6.2v6.3h-6.2zM357.3 564.1h6.2v6.3h-6.2zM363.1 564.1h6.2v6.3h-6.2zM369.0 564.1h6.2v6.3h-6.2zM374.8 564.1h6.2v6.3h-6.2zM380.6 564.1h6.2v6.3h-6.2zM386.5 564.1h6.2v6.3h-6.2zM392.3 564.1h6.2v6.3h-6.2zM398.1 564.1h6.2v6.3h-6.2zM404.0 564.1h6.2v6.3h-6.2zM409.8 564.1h6.2v6.3h-6.2zM415.6 564.1h6.2v6.3h-6.2zM421.5 564.1h6.2v6.3h-6.2zM427.3 564.1h6.2v6.3h-6.2zM433.1 564.1h6.2v6.3h-6.2zM439.0 564.1h6.2v6.3h-6.2zM444.8 564.1h6.2v6.3h-6.2zM450.6 564.1h6.2v6.3h-6.2zM456.5 564.1h6.2v6.3h-6.2zM462.3 564.1h6.2v6.3h-6.2zM176.5 558.2h6.2v6.3h-6.2zM182.3 558.2h6.2v6.3h-6.2zM188.1 558.2h6.2v6.3h-6.2zM194.0 558.2h6.2v6.3h-6.2zM199.8 558.2h6.2v6.3h-6.2zM205.6 558.2h6.2v6.3h-6.2zM211.5 558.2h6.2v6.3h-6.2zM217.3 558.2h6.2v6.3h-6.2zM223.1 558.2h6.2v6.3h-6.2zM229.0 558.2h6.2v6.3h-6.2zM234.8 558.2h6.2v6.3h-6.2zM240.6 558.2h6.2v6.3h-6.2zM246.5 558.2h6.2v6.3h-6.2zM252.3 558.2h6.2v6.3h-6.2zM258.1 558.2h6.2v6.3h-6.2zM264.0 558.2h6.2v6.3h-6.2zM269.8 558.2h6.2v6.3h-6.2zM275.6 558.2h6.2v6.3h-6.2zM281.5 558.2h6.2v6.3h-6.2zM287.3 558.2h6.2v6.3h-6.2zM293.1 558.2h6.2v6.3h-6.2zM299.0 558.2h6.2v6.3h-6.2zM304.8 558.2h6.2v6.3h-6.2zM310.6 558.2h6.2v6.3h-6.2zM316.5 558.2h6.2v6.3h-6.2zM322.3 558.2h6.2v6.3h-6.2zM328.1 558.2h6.2v6.3h-6.2zM334.0 558.2h6.2v6.3h-6.2zM339.8 558.2h6.2v6.3h-6.2zM345.6 558.2h6.2v6.3h-6.2zM351.5 558.2h6.2v6.3h-6.2zM357.3 558.2h6.2v6.3h-6.2zM363.1 558.2h6.2v6.3h-6.2zM369.0 558.2h6.2v6.3h-6.2zM374.8 558.2h6.2v6.3h-6.2zM380.6 558.2h6.2v6.3h-6.2zM386.5 558.2h6.2v6.3h-6.2zM392.3 558.2h6.2v6.3h-6.2zM398.1 558.2h6.2v6.3h-6.2zM404.0 558.2h6.2v6.3h-6.2zM409.8 558.2h6.2v6.3h-6.2zM415.6 558.2h6.2v6.3h-6.2zM421.5 558.2h6.2v6.3h-6.2zM427.3 558.2h6.2v6.3h-6.2zM433.1 558.2h6.2v6.3h-6.2zM439.0 558.2h6.2v6.3h-6.2zM444.8 558.2h6.2v6.3h-6.2zM450.6 558.2h6.2v6.3h-6.2zM456.5 558.2h6.2v6.3h-6.2zM176.5 552.3h6.2v6.3h-6.2zM182.3 552.3h6.2v6.3h-6.2zM188.1 552.3h6.2v6.3h-6.2zM194.0 552.3h6.2v6.3h-6.2zM199.8 552.3h6.2v6.3h-6.2zM205.6 552.3h6.2v6.3h-6.2zM211.5 552.3h6.2v6.3h-6.2zM217.3 552.3h6.2v6.3h-6.2zM223.1 552.3h6.2v6.3h-6.2zM229.0 552.3h6.2v6.3h-6.2zM234.8 552.3h6.2v6.3h-6.2zM240.6 552.3h6.2v6.3h-6.2zM246.5 552.3h6.2v6.3h-6.2zM252.3 552.3h6.2v6.3h-6.2zM258.1 552.3h6.2v6.3h-6.2zM264.0 552.3h6.2v6.3h-6.2zM269.8 552.3h6.2v6.3h-6.2zM275.6 552.3h6.2v6.3h-6.2zM281.5 552.3h6.2v6.3h-6.2zM287.3 552.3h6.2v6.3h-6.2zM293.1 552.3h6.2v6.3h-6.2zM299.0 552.3h6.2v6.3h-6.2zM304.8 552.3h6.2v6.3h-6.2zM310.6 552.3h6.2v6.3h-6.2zM316.5 552.3h6.2v6.3h-6.2zM322.3 552.3h6.2v6.3h-6.2zM328.1 552.3h6.2v6.3h-6.2zM334.0 552.3h6.2v6.3h-6.2zM339.8 552.3h6.2v6.3h-6.2zM345.6 552.3h6.2v6.3h-6.2zM351.5 552.3h6.2v6.3h-6.2zM357.3 552.3h6.2v6.3h-6.2zM363.1 552.3h6.2v6.3h-6.2zM369.0 552.3h6.2v6.3h-6.2zM374.8 552.3h6.2v6.3h-6.2zM380.6 552.3h6.2v6.3h-6.2zM386.5 552.3h6.2v6.3h-6.2zM392.3 552.3h6.2v6.3h-6.2zM398.1 552.3h6.2v6.3h-6.2zM404.0 552.3h6.2v6.3h-6.2zM409.8 552.3h6.2v6.3h-6.2zM415.6 552.3h6.2v6.3h-6.2zM421.5 552.3h6.2v6.3h-6.2zM427.3 552.3h6.2v6.3h-6.2zM433.1 552.3h6.2v6.3h-6.2zM439.0 552.3h6.2v6.3h-6.2zM444.8 552.3h6.2v6.3h-6.2zM176.5 546.5h6.2v6.3h-6.2zM182.3 546.5h6.2v6.3h-6.2zM188.1 546.5h6.2v6.3h-6.2zM194.0 546.5h6.2v6.3h-6.2zM199.8 546.5h6.2v6.3h-6.2zM205.6 546.5h6.2v6.3h-6.2zM211.5 546.5h6.2v6.3h-6.2zM217.3 546.5h6.2v6.3h-6.2zM223.1 546.5h6.2v6.3h-6.2zM229.0 546.5h6.2v6.3h-6.2zM234.8 546.5h6.2v6.3h-6.2zM240.6 546.5h6.2v6.3h-6.2zM246.5 546.5h6.2v6.3h-6.2zM252.3 546.5h6.2v6.3h-6.2zM258.1 546.5h6.2v6.3h-6.2zM264.0 546.5h6.2v6.3h-6.2zM269.8 546.5h6.2v6.3h-6.2zM275.6 546.5h6.2v6.3h-6.2zM281.5 546.5h6.2v6.3h-6.2zM287.3 546.5h6.2v6.3h-6.2zM293.1 546.5h6.2v6.3h-6.2zM299.0 546.5h6.2v6.3h-6.2zM304.8 546.5h6.2v6.3h-6.2zM310.6 546.5h6.2v6.3h-6.2zM316.5 546.5h6.2v6.3h-6.2zM322.3 546.5h6.2v6.3h-6.2zM328.1 546.5h6.2v6.3h-6.2zM334.0 546.5h6.2v6.3h-6.2zM339.8 546.5h6.2v6.3h-6.2zM345.6 546.5h6.2v6.3h-6.2zM351.5 546.5h6.2v6.3h-6.2zM357.3 546.5h6.2v6.3h-6.2zM363.1 546.5h6.2v6.3h-6.2zM369.0 546.5h6.2v6.3h-6.2zM374.8 546.5h6.2v6.3h-6.2zM380.6 546.5h6.2v6.3h-6.2zM386.5 546.5h6.2v6.3h-6.2zM392.3 546.5h6.2v6.3h-6.2zM398.1 546.5h6.2v6.3h-6.2zM404.0 546.5h6.2v6.3h-6.2zM409.8 546.5h6.2v6.3h-6.2zM415.6 546.5h6.2v6.3h-6.2zM421.5 546.5h6.2v6.3h-6.2zM427.3 546.5h6.2v6.3h-6.2zM433.1 546.5h6.2v6.3h-6.2zM439.0 546.5h6.2v6.3h-6.2zM176.5 540.6h6.2v6.3h-6.2zM182.3 540.6h6.2v6.3h-6.2zM188.1 540.6h6.2v6.3h-6.2zM194.0 540.6h6.2v6.3h-6.2zM199.8 540.6h6.2v6.3h-6.2zM205.6 540.6h6.2v6.3h-6.2zM211.5 540.6h6.2v6.3h-6.2zM217.3 540.6h6.2v6.3h-6.2zM223.1 540.6h6.2v6.3h-6.2zM229.0 540.6h6.2v6.3h-6.2zM234.8 540.6h6.2v6.3h-6.2zM240.6 540.6h6.2v6.3h-6.2zM246.5 540.6h6.2v6.3h-6.2zM252.3 540.6h6.2v6.3h-6.2zM258.1 540.6h6.2v6.3h-6.2zM264.0 540.6h6.2v6.3h-6.2zM269.8 540.6h6.2v6.3h-6.2zM275.6 540.6h6.2v6.3h-6.2zM281.5 540.6h6.2v6.3h-6.2zM287.3 540.6h6.2v6.3h-6.2zM293.1 540.6h6.2v6.3h-6.2zM299.0 540.6h6.2v6.3h-6.2zM304.8 540.6h6.2v6.3h-6.2zM310.6 540.6h6.2v6.3h-6.2zM316.5 540.6h6.2v6.3h-6.2zM322.3 540.6h6.2v6.3h-6.2zM328.1 540.6h6.2v6.3h-6.2zM334.0 540.6h6.2v6.3h-6.2zM339.8 540.6h6.2v6.3h-6.2zM345.6 540.6h6.2v6.3h-6.2zM351.5 540.6h6.2v6.3h-6.2zM357.3 540.6h6.2v6.3h-6.2zM363.1 540.6h6.2v6.3h-6.2zM369.0 540.6h6.2v6.3h-6.2zM374.8 540.6h6.2v6.3h-6.2zM380.6 540.6h6.2v6.3h-6.2zM386.5 540.6h6.2v6.3h-6.2zM392.3 540.6h6.2v6.3h-6.2zM398.1 540.6h6.2v6.3h-6.2zM404.0 540.6h6.2v6.3h-6.2zM409.8 540.6h6.2v6.3h-6.2zM415.6 540.6h6.2v6.3h-6.2zM421.5 540.6h6.2v6.3h-6.2zM427.3 540.6h6.2v6.3h-6.2zM433.1 540.6h6.2v6.3h-6.2zM439.0 540.6h6.2v6.3h-6.2zM176.5 534.7h6.2v6.3h-6.2zM182.3 534.7h6.2v6.3h-6.2zM188.1 534.7h6.2v6.3h-6.2zM194.0 534.7h6.2v6.3h-6.2zM199.8 534.7h6.2v6.3h-6.2zM205.6 534.7h6.2v6.3h-6.2zM211.5 534.7h6.2v6.3h-6.2zM217.3 534.7h6.2v6.3h-6.2zM223.1 534.7h6.2v6.3h-6.2zM229.0 534.7h6.2v6.3h-6.2zM234.8 534.7h6.2v6.3h-6.2zM240.6 534.7h6.2v6.3h-6.2zM246.5 534.7h6.2v6.3h-6.2zM252.3 534.7h6.2v6.3h-6.2zM258.1 534.7h6.2v6.3h-6.2zM264.0 534.7h6.2v6.3h-6.2zM269.8 534.7h6.2v6.3h-6.2zM275.6 534.7h6.2v6.3h-6.2zM281.5 534.7h6.2v6.3h-6.2zM287.3 534.7h6.2v6.3h-6.2zM293.1 534.7h6.2v6.3h-6.2zM299.0 534.7h6.2v6.3h-6.2zM304.8 534.7h6.2v6.3h-6.2zM310.6 534.7h6.2v6.3h-6.2zM316.5 534.7h6.2v6.3h-6.2zM322.3 534.7h6.2v6.3h-6.2zM328.1 534.7h6.2v6.3h-6.2zM334.0 534.7h6.2v6.3h-6.2zM339.8 534.7h6.2v6.3h-6.2zM345.6 534.7h6.2v6.3h-6.2zM351.5 534.7h6.2v6.3h-6.2zM357.3 534.7h6.2v6.3h-6.2zM363.1 534.7h6.2v6.3h-6.2zM369.0 534.7h6.2v6.3h-6.2zM374.8 534.7h6.2v6.3h-6.2zM380.6 534.7h6.2v6.3h-6.2zM386.5 534.7h6.2v6.3h-6.2zM392.3 534.7h6.2v6.3h-6.2zM398.1 534.7h6.2v6.3h-6.2zM404.0 534.7h6.2v6.3h-6.2zM409.8 534.7h6.2v6.3h-6.2zM415.6 534.7h6.2v6.3h-6.2zM421.5 534.7h6.2v6.3h-6.2zM427.3 534.7h6.2v6.3h-6.2zM433.1 534.7h6.2v6.3h-6.2zM176.5 528.9h6.2v6.3h-6.2zM182.3 528.9h6.2v6.3h-6.2zM188.1 528.9h6.2v6.3h-6.2zM194.0 528.9h6.2v6.3h-6.2zM199.8 528.9h6.2v6.3h-6.2zM205.6 528.9h6.2v6.3h-6.2zM211.5 528.9h6.2v6.3h-6.2zM217.3 528.9h6.2v6.3h-6.2zM223.1 528.9h6.2v6.3h-6.2zM229.0 528.9h6.2v6.3h-6.2zM234.8 528.9h6.2v6.3h-6.2zM240.6 528.9h6.2v6.3h-6.2zM246.5 528.9h6.2v6.3h-6.2zM252.3 528.9h6.2v6.3h-6.2zM258.1 528.9h6.2v6.3h-6.2zM264.0 528.9h6.2v6.3h-6.2zM269.8 528.9h6.2v6.3h-6.2zM275.6 528.9h6.2v6.3h-6.2zM281.5 528.9h6.2v6.3h-6.2zM287.3 528.9h6.2v6.3h-6.2zM293.1 528.9h6.2v6.3h-6.2zM299.0 528.9h6.2v6.3h-6.2zM304.8 528.9h6.2v6.3h-6.2zM310.6 528.9h6.2v6.3h-6.2zM316.5 528.9h6.2v6.3h-6.2zM322.3 528.9h6.2v6.3h-6.2zM328.1 528.9h6.2v6.3h-6.2zM334.0 528.9h6.2v6.3h-6.2zM339.8 528.9h6.2v6.3h-6.2zM345.6 528.9h6.2v6.3h-6.2zM351.5 528.9h6.2v6.3h-6.2zM357.3 528.9h6.2v6.3h-6.2zM363.1 528.9h6.2v6.3h-6.2zM369.0 528.9h6.2v6.3h-6.2zM374.8 528.9h6.2v6.3h-6.2zM380.6 528.9h6.2v6.3h-6.2zM386.5 528.9h6.2v6.3h-6.2zM392.3 528.9h6.2v6.3h-6.2zM398.1 528.9h6.2v6.3h-6.2zM404.0 528.9h6.2v6.3h-6.2zM409.8 528.9h6.2v6.3h-6.2zM415.6 528.9h6.2v6.3h-6.2zM421.5 528.9h6.2v6.3h-6.2zM176.5 523.0h6.2v6.3h-6.2zM182.3 523.0h6.2v6.3h-6.2zM188.1 523.0h6.2v6.3h-6.2zM194.0 523.0h6.2v6.3h-6.2zM199.8 523.0h6.2v6.3h-6.2zM205.6 523.0h6.2v6.3h-6.2zM211.5 523.0h6.2v6.3h-6.2zM217.3 523.0h6.2v6.3h-6.2zM223.1 523.0h6.2v6.3h-6.2zM229.0 523.0h6.2v6.3h-6.2zM234.8 523.0h6.2v6.3h-6.2zM240.6 523.0h6.2v6.3h-6.2zM246.5 523.0h6.2v6.3h-6.2zM252.3 523.0h6.2v6.3h-6.2zM258.1 523.0h6.2v6.3h-6.2zM264.0 523.0h6.2v6.3h-6.2zM269.8 523.0h6.2v6.3h-6.2zM275.6 523.0h6.2v6.3h-6.2zM281.5 523.0h6.2v6.3h-6.2zM287.3 523.0h6.2v6.3h-6.2zM293.1 523.0h6.2v6.3h-6.2zM299.0 523.0h6.2v6.3h-6.2zM304.8 523.0h6.2v6.3h-6.2zM310.6 523.0h6.2v6.3h-6.2zM316.5 523.0h6.2v6.3h-6.2zM322.3 523.0h6.2v6.3h-6.2zM328.1 523.0h6.2v6.3h-6.2zM334.0 523.0h6.2v6.3h-6.2zM339.8 523.0h6.2v6.3h-6.2zM345.6 523.0h6.2v6.3h-6.2zM351.5 523.0h6.2v6.3h-6.2zM357.3 523.0h6.2v6.3h-6.2zM363.1 523.0h6.2v6.3h-6.2zM369.0 523.0h6.2v6.3h-6.2zM374.8 523.0h6.2v6.3h-6.2zM380.6 523.0h6.2v6.3h-6.2zM386.5 523.0h6.2v6.3h-6.2zM392.3 523.0h6.2v6.3h-6.2zM398.1 523.0h6.2v6.3h-6.2zM404.0 523.0h6.2v6.3h-6.2zM409.8 523.0h6.2v6.3h-6.2zM415.6 523.0h6.2v6.3h-6.2zM176.5 517.1h6.2v6.3h-6.2zM182.3 517.1h6.2v6.3h-6.2zM188.1 517.1h6.2v6.3h-6.2zM194.0 517.1h6.2v6.3h-6.2zM199.8 517.1h6.2v6.3h-6.2zM205.6 517.1h6.2v6.3h-6.2zM211.5 517.1h6.2v6.3h-6.2zM217.3 517.1h6.2v6.3h-6.2zM223.1 517.1h6.2v6.3h-6.2zM229.0 517.1h6.2v6.3h-6.2zM234.8 517.1h6.2v6.3h-6.2zM240.6 517.1h6.2v6.3h-6.2zM246.5 517.1h6.2v6.3h-6.2zM252.3 517.1h6.2v6.3h-6.2zM258.1 517.1h6.2v6.3h-6.2zM264.0 517.1h6.2v6.3h-6.2zM269.8 517.1h6.2v6.3h-6.2zM275.6 517.1h6.2v6.3h-6.2zM281.5 517.1h6.2v6.3h-6.2zM287.3 517.1h6.2v6.3h-6.2zM293.1 517.1h6.2v6.3h-6.2zM299.0 517.1h6.2v6.3h-6.2zM304.8 517.1h6.2v6.3h-6.2zM310.6 517.1h6.2v6.3h-6.2zM316.5 517.1h6.2v6.3h-6.2zM322.3 517.1h6.2v6.3h-6.2zM328.1 517.1h6.2v6.3h-6.2zM334.0 517.1h6.2v6.3h-6.2zM339.8 517.1h6.2v6.3h-6.2zM345.6 517.1h6.2v6.3h-6.2zM351.5 517.1h6.2v6.3h-6.2zM357.3 517.1h6.2v6.3h-6.2zM363.1 517.1h6.2v6.3h-6.2zM369.0 517.1h6.2v6.3h-6.2zM374.8 517.1h6.2v6.3h-6.2zM380.6 517.1h6.2v6.3h-6.2zM386.5 517.1h6.2v6.3h-6.2zM392.3 517.1h6.2v6.3h-6.2zM398.1 517.1h6.2v6.3h-6.2zM404.0 517.1h6.2v6.3h-6.2zM176.5 511.2h6.2v6.3h-6.2zM182.3 511.2h6.2v6.3h-6.2zM188.1 511.2h6.2v6.3h-6.2zM194.0 511.2h6.2v6.3h-6.2zM199.8 511.2h6.2v6.3h-6.2zM205.6 511.2h6.2v6.3h-6.2zM211.5 511.2h6.2v6.3h-6.2zM217.3 511.2h6.2v6.3h-6.2zM223.1 511.2h6.2v6.3h-6.2zM229.0 511.2h6.2v6.3h-6.2zM234.8 511.2h6.2v6.3h-6.2zM240.6 511.2h6.2v6.3h-6.2zM246.5 511.2h6.2v6.3h-6.2zM252.3 511.2h6.2v6.3h-6.2zM258.1 511.2h6.2v6.3h-6.2zM264.0 511.2h6.2v6.3h-6.2zM269.8 511.2h6.2v6.3h-6.2zM275.6 511.2h6.2v6.3h-6.2zM281.5 511.2h6.2v6.3h-6.2zM287.3 511.2h6.2v6.3h-6.2zM293.1 511.2h6.2v6.3h-6.2zM299.0 511.2h6.2v6.3h-6.2zM304.8 511.2h6.2v6.3h-6.2zM310.6 511.2h6.2v6.3h-6.2zM316.5 511.2h6.2v6.3h-6.2zM322.3 511.2h6.2v6.3h-6.2zM328.1 511.2h6.2v6.3h-6.2zM334.0 511.2h6.2v6.3h-6.2zM339.8 511.2h6.2v6.3h-6.2zM345.6 511.2h6.2v6.3h-6.2zM351.5 511.2h6.2v6.3h-6.2zM357.3 511.2h6.2v6.3h-6.2zM363.1 511.2h6.2v6.3h-6.2zM369.0 511.2h6.2v6.3h-6.2zM374.8 511.2h6.2v6.3h-6.2zM380.6 511.2h6.2v6.3h-6.2zM386.5 511.2h6.2v6.3h-6.2zM176.5 505.4h6.2v6.3h-6.2zM182.3 505.4h6.2v6.3h-6.2zM188.1 505.4h6.2v6.3h-6.2zM194.0 505.4h6.2v6.3h-6.2zM199.8 505.4h6.2v6.3h-6.2zM205.6 505.4h6.2v6.3h-6.2zM211.5 505.4h6.2v6.3h-6.2zM217.3 505.4h6.2v6.3h-6.2zM223.1 505.4h6.2v6.3h-6.2zM229.0 505.4h6.2v6.3h-6.2zM234.8 505.4h6.2v6.3h-6.2zM240.6 505.4h6.2v6.3h-6.2zM246.5 505.4h6.2v6.3h-6.2zM252.3 505.4h6.2v6.3h-6.2zM258.1 505.4h6.2v6.3h-6.2zM264.0 505.4h6.2v6.3h-6.2zM269.8 505.4h6.2v6.3h-6.2zM275.6 505.4h6.2v6.3h-6.2zM281.5 505.4h6.2v6.3h-6.2zM287.3 505.4h6.2v6.3h-6.2zM293.1 505.4h6.2v6.3h-6.2zM299.0 505.4h6.2v6.3h-6.2zM304.8 505.4h6.2v6.3h-6.2zM310.6 505.4h6.2v6.3h-6.2zM316.5 505.4h6.2v6.3h-6.2zM322.3 505.4h6.2v6.3h-6.2zM328.1 505.4h6.2v6.3h-6.2zM334.0 505.4h6.2v6.3h-6.2zM339.8 505.4h6.2v6.3h-6.2zM345.6 505.4h6.2v6.3h-6.2zM351.5 505.4h6.2v6.3h-6.2zM357.3 505.4h6.2v6.3h-6.2zM363.1 505.4h6.2v6.3h-6.2zM369.0 505.4h6.2v6.3h-6.2zM374.8 505.4h6.2v6.3h-6.2zM380.6 505.4h6.2v6.3h-6.2zM386.5 505.4h6.2v6.3h-6.2zM176.5 499.5h6.2v6.3h-6.2zM182.3 499.5h6.2v6.3h-6.2zM188.1 499.5h6.2v6.3h-6.2zM194.0 499.5h6.2v6.3h-6.2zM199.8 499.5h6.2v6.3h-6.2zM205.6 499.5h6.2v6.3h-6.2zM211.5 499.5h6.2v6.3h-6.2zM217.3 499.5h6.2v6.3h-6.2zM223.1 499.5h6.2v6.3h-6.2zM229.0 499.5h6.2v6.3h-6.2zM234.8 499.5h6.2v6.3h-6.2zM240.6 499.5h6.2v6.3h-6.2zM246.5 499.5h6.2v6.3h-6.2zM252.3 499.5h6.2v6.3h-6.2zM258.1 499.5h6.2v6.3h-6.2zM264.0 499.5h6.2v6.3h-6.2zM269.8 499.5h6.2v6.3h-6.2zM275.6 499.5h6.2v6.3h-6.2zM281.5 499.5h6.2v6.3h-6.2zM287.3 499.5h6.2v6.3h-6.2zM293.1 499.5h6.2v6.3h-6.2zM299.0 499.5h6.2v6.3h-6.2zM304.8 499.5h6.2v6.3h-6.2zM310.6 499.5h6.2v6.3h-6.2zM316.5 499.5h6.2v6.3h-6.2zM322.3 499.5h6.2v6.3h-6.2zM328.1 499.5h6.2v6.3h-6.2zM334.0 499.5h6.2v6.3h-6.2zM339.8 499.5h6.2v6.3h-6.2zM345.6 499.5h6.2v6.3h-6.2zM351.5 499.5h6.2v6.3h-6.2zM357.3 499.5h6.2v6.3h-6.2zM363.1 499.5h6.2v6.3h-6.2zM369.0 499.5h6.2v6.3h-6.2zM374.8 499.5h6.2v6.3h-6.2zM380.6 499.5h6.2v6.3h-6.2zM386.5 499.5h6.2v6.3h-6.2zM176.5 493.6h6.2v6.3h-6.2zM182.3 493.6h6.2v6.3h-6.2zM188.1 493.6h6.2v6.3h-6.2zM194.0 493.6h6.2v6.3h-6.2zM199.8 493.6h6.2v6.3h-6.2zM205.6 493.6h6.2v6.3h-6.2zM211.5 493.6h6.2v6.3h-6.2zM217.3 493.6h6.2v6.3h-6.2zM223.1 493.6h6.2v6.3h-6.2zM229.0 493.6h6.2v6.3h-6.2zM234.8 493.6h6.2v6.3h-6.2zM240.6 493.6h6.2v6.3h-6.2zM246.5 493.6h6.2v6.3h-6.2zM252.3 493.6h6.2v6.3h-6.2zM258.1 493.6h6.2v6.3h-6.2zM264.0 493.6h6.2v6.3h-6.2zM269.8 493.6h6.2v6.3h-6.2zM275.6 493.6h6.2v6.3h-6.2zM281.5 493.6h6.2v6.3h-6.2zM287.3 493.6h6.2v6.3h-6.2zM293.1 493.6h6.2v6.3h-6.2zM299.0 493.6h6.2v6.3h-6.2zM304.8 493.6h6.2v6.3h-6.2zM310.6 493.6h6.2v6.3h-6.2zM316.5 493.6h6.2v6.3h-6.2zM322.3 493.6h6.2v6.3h-6.2zM328.1 493.6h6.2v6.3h-6.2zM334.0 493.6h6.2v6.3h-6.2zM339.8 493.6h6.2v6.3h-6.2zM345.6 493.6h6.2v6.3h-6.2zM351.5 493.6h6.2v6.3h-6.2zM357.3 493.6h6.2v6.3h-6.2zM363.1 493.6h6.2v6.3h-6.2zM369.0 493.6h6.2v6.3h-6.2zM374.8 493.6h6.2v6.3h-6.2zM380.6 493.6h6.2v6.3h-6.2zM176.5 487.7h6.2v6.3h-6.2zM182.3 487.7h6.2v6.3h-6.2zM188.1 487.7h6.2v6.3h-6.2zM194.0 487.7h6.2v6.3h-6.2zM199.8 487.7h6.2v6.3h-6.2zM205.6 487.7h6.2v6.3h-6.2zM211.5 487.7h6.2v6.3h-6.2zM217.3 487.7h6.2v6.3h-6.2zM223.1 487.7h6.2v6.3h-6.2zM229.0 487.7h6.2v6.3h-6.2zM234.8 487.7h6.2v6.3h-6.2zM240.6 487.7h6.2v6.3h-6.2zM246.5 487.7h6.2v6.3h-6.2zM252.3 487.7h6.2v6.3h-6.2zM258.1 487.7h6.2v6.3h-6.2zM264.0 487.7h6.2v6.3h-6.2zM269.8 487.7h6.2v6.3h-6.2zM275.6 487.7h6.2v6.3h-6.2zM281.5 487.7h6.2v6.3h-6.2zM287.3 487.7h6.2v6.3h-6.2zM293.1 487.7h6.2v6.3h-6.2zM299.0 487.7h6.2v6.3h-6.2zM304.8 487.7h6.2v6.3h-6.2zM310.6 487.7h6.2v6.3h-6.2zM316.5 487.7h6.2v6.3h-6.2zM322.3 487.7h6.2v6.3h-6.2zM328.1 487.7h6.2v6.3h-6.2zM334.0 487.7h6.2v6.3h-6.2zM339.8 487.7h6.2v6.3h-6.2zM345.6 487.7h6.2v6.3h-6.2zM351.5 487.7h6.2v6.3h-6.2zM357.3 487.7h6.2v6.3h-6.2zM363.1 487.7h6.2v6.3h-6.2zM369.0 487.7h6.2v6.3h-6.2zM176.5 481.8h6.2v6.3h-6.2zM182.3 481.8h6.2v6.3h-6.2zM188.1 481.8h6.2v6.3h-6.2zM194.0 481.8h6.2v6.3h-6.2zM199.8 481.8h6.2v6.3h-6.2zM205.6 481.8h6.2v6.3h-6.2zM211.5 481.8h6.2v6.3h-6.2zM217.3 481.8h6.2v6.3h-6.2zM223.1 481.8h6.2v6.3h-6.2zM229.0 481.8h6.2v6.3h-6.2zM234.8 481.8h6.2v6.3h-6.2zM240.6 481.8h6.2v6.3h-6.2zM246.5 481.8h6.2v6.3h-6.2zM252.3 481.8h6.2v6.3h-6.2zM258.1 481.8h6.2v6.3h-6.2zM264.0 481.8h6.2v6.3h-6.2zM269.8 481.8h6.2v6.3h-6.2zM275.6 481.8h6.2v6.3h-6.2zM281.5 481.8h6.2v6.3h-6.2zM287.3 481.8h6.2v6.3h-6.2zM293.1 481.8h6.2v6.3h-6.2zM299.0 481.8h6.2v6.3h-6.2zM304.8 481.8h6.2v6.3h-6.2zM310.6 481.8h6.2v6.3h-6.2zM316.5 481.8h6.2v6.3h-6.2zM322.3 481.8h6.2v6.3h-6.2zM328.1 481.8h6.2v6.3h-6.2zM334.0 481.8h6.2v6.3h-6.2zM339.8 481.8h6.2v6.3h-6.2zM345.6 481.8h6.2v6.3h-6.2zM351.5 481.8h6.2v6.3h-6.2zM369.0 481.8h6.2v6.3h-6.2zM374.8 481.8h6.2v6.3h-6.2zM380.6 481.8h6.2v6.3h-6.2zM176.5 475.9h6.2v6.3h-6.2zM182.3 475.9h6.2v6.3h-6.2zM188.1 475.9h6.2v6.3h-6.2zM194.0 475.9h6.2v6.3h-6.2zM199.8 475.9h6.2v6.3h-6.2zM205.6 475.9h6.2v6.3h-6.2zM211.5 475.9h6.2v6.3h-6.2zM217.3 475.9h6.2v6.3h-6.2zM223.1 475.9h6.2v6.3h-6.2zM229.0 475.9h6.2v6.3h-6.2zM234.8 475.9h6.2v6.3h-6.2zM240.6 475.9h6.2v6.3h-6.2zM246.5 475.9h6.2v6.3h-6.2zM252.3 475.9h6.2v6.3h-6.2zM258.1 475.9h6.2v6.3h-6.2zM264.0 475.9h6.2v6.3h-6.2zM269.8 475.9h6.2v6.3h-6.2zM275.6 475.9h6.2v6.3h-6.2zM281.5 475.9h6.2v6.3h-6.2zM293.1 475.9h6.2v6.3h-6.2zM299.0 475.9h6.2v6.3h-6.2zM304.8 475.9h6.2v6.3h-6.2zM310.6 475.9h6.2v6.3h-6.2zM316.5 475.9h6.2v6.3h-6.2zM322.3 475.9h6.2v6.3h-6.2zM328.1 475.9h6.2v6.3h-6.2zM334.0 475.9h6.2v6.3h-6.2zM339.8 475.9h6.2v6.3h-6.2zM345.6 475.9h6.2v6.3h-6.2zM369.0 475.9h6.2v6.3h-6.2zM374.8 475.9h6.2v6.3h-6.2zM380.6 475.9h6.2v6.3h-6.2zM386.5 475.9h6.2v6.3h-6.2zM176.5 470.0h6.2v6.3h-6.2zM182.3 470.0h6.2v6.3h-6.2zM188.1 470.0h6.2v6.3h-6.2zM194.0 470.0h6.2v6.3h-6.2zM199.8 470.0h6.2v6.3h-6.2zM205.6 470.0h6.2v6.3h-6.2zM211.5 470.0h6.2v6.3h-6.2zM217.3 470.0h6.2v6.3h-6.2zM223.1 470.0h6.2v6.3h-6.2zM229.0 470.0h6.2v6.3h-6.2zM234.8 470.0h6.2v6.3h-6.2zM240.6 470.0h6.2v6.3h-6.2zM246.5 470.0h6.2v6.3h-6.2zM252.3 470.0h6.2v6.3h-6.2zM258.1 470.0h6.2v6.3h-6.2zM264.0 470.0h6.2v6.3h-6.2zM304.8 470.0h6.2v6.3h-6.2zM310.6 470.0h6.2v6.3h-6.2zM316.5 470.0h6.2v6.3h-6.2zM322.3 470.0h6.2v6.3h-6.2zM328.1 470.0h6.2v6.3h-6.2zM334.0 470.0h6.2v6.3h-6.2zM339.8 470.0h6.2v6.3h-6.2zM345.6 470.0h6.2v6.3h-6.2zM351.5 470.0h6.2v6.3h-6.2zM369.0 470.0h6.2v6.3h-6.2zM374.8 470.0h6.2v6.3h-6.2zM380.6 470.0h6.2v6.3h-6.2zM386.5 470.0h6.2v6.3h-6.2zM176.5 464.1h6.2v6.3h-6.2zM182.3 464.1h6.2v6.3h-6.2zM188.1 464.1h6.2v6.3h-6.2zM194.0 464.1h6.2v6.3h-6.2zM199.8 464.1h6.2v6.3h-6.2zM205.6 464.1h6.2v6.3h-6.2zM211.5 464.1h6.2v6.3h-6.2zM217.3 464.1h6.2v6.3h-6.2zM374.8 464.1h6.2v6.3h-6.2zM380.6 464.1h6.2v6.3h-6.2zM386.5 464.1h6.2v6.3h-6.2zM176.5 458.2h6.2v6.3h-6.2zM182.3 458.2h6.2v6.3h-6.2zM188.1 458.2h6.2v6.3h-6.2zM194.0 458.2h6.2v6.3h-6.2zM199.8 458.2h6.2v6.3h-6.2zM205.6 458.2h6.2v6.3h-6.2zM211.5 458.2h6.2v6.3h-6.2zM176.5 452.3h6.2v6.3h-6.2zM182.3 452.3h6.2v6.3h-6.2zM188.1 452.3h6.2v6.3h-6.2zM194.0 452.3h6.2v6.3h-6.2zM199.8 452.3h6.2v6.3h-6.2zM205.6 452.3h6.2v6.3h-6.2zM211.5 452.3h6.2v6.3h-6.2zM176.5 446.4h6.2v6.3h-6.2zM182.3 446.4h6.2v6.3h-6.2zM188.1 446.4h6.2v6.3h-6.2zM194.0 446.4h6.2v6.3h-6.2zM199.8 446.4h6.2v6.3h-6.2zM176.5 440.5h6.2v6.3h-6.2zM182.3 440.5h6.2v6.3h-6.2zM606 716H650V762H606ZM646 690V712.9H651.9V718.8H663.7V725H681V736.9H692.8V731H704.3V736.9H727.9V742.4H739.7V748.3H757.4V754.2H769.2V760.1H775.1V777.8H792V800H600V690ZM477.4 579H500.1V584.5H477.4ZM505.8 579H549V584.5H505.8ZM189.2 269.9H208.2V276.2H189.2ZM202.1 276H214.1V294.2H202.1ZM237.1 282H278.1V294.2H237.1ZM242.9 294H278.1V299.9H242.9ZM943 835.5H979V838H943Z"/>
<path fill="#808080" stroke="#000" stroke-width="1" stroke-linejoin="round" d="M168.4 440.0L175.6 443.6L180.4 444.8L184.0 450.8L202.0 452.0L212.8 460.4L218.8 476.0L238.0 474.8L265.6 473.6L271.6 479.6L283.6 483.2L292.0 485.1L305.2 480.8L314.8 471.2L358.0 471.7L341.2 476.0L355.6 492.8L362.8 491.6L384.4 498.8L390.4 512.0L386.8 524.0L402.4 521.1L418.0 531.2L440.8 546.8L444.4 554.0L443.2 563.6L451.6 561.9L469.6 574.4L478.0 582.8L490.0 585.2L498.0 585.2L522.0 582.8L546.0 587.6L570.0 597.2L588.0 608.0L608.4 620.0L619.2 632.0L620.4 647.6L627.6 663.2L631.2 677.6L644.4 680.0L643.2 698.0L632.4 711.2L615.6 725.6L610.3 749.6L624.0 744.8L628.8 760.4L633.6 744.8L633.6 731.6L643.2 725.6L655.2 727.5L666.0 725.6L679.2 729.2L678.0 738.8L672.7 754.4L676.8 758.0L685.2 741.2L693.6 737.6L706.8 737.6L718.8 744.8L729.6 748.4L748.8 753.2L752.4 760.4L763.2 757.3L768.0 766.4L773.5 777.2L769.7 787.5L781.2 784.4L794.4 778.4L807.6 780.8L817.9 786.1L830.0 786.1L842.0 792.3L854.0 792.3L864.8 788.0L878.0 788.5L890.0 797.6L911.6 812.0L928.4 827.6L938.0 832.4L944.0 838.4L944.0 845.0L165.0 845.0Z M170.0 250.0L178.6 257.7L182.0 264.9L195.1 265.1L186.3 270.9L205.0 274.7L215.1 284.9L206.9 295.1L199.2 287.0L187.7 287.0L178.6 289.4L170.0 291.0Z M242.1 284.9L269.7 284.6L276.9 291.1L270.7 297.3L261.1 297.5L252.5 299.3L242.9 297.3Z M366.1 339.4L372.5 340.6L374.6 335.0L378.7 341.4L372.5 340.9L368.6 347.0Z M371.2 472.4L386.3 470.0L386.3 479.6L379.6 486.8L367.6 487.3L374.8 482.7L374.8 474.8Z"/>
<path fill="#000" stroke="#000" stroke-width="1" d="M381.9 373.1L387.5 375.9L389.8 379.3L390.5 381.5L386.0 378.1Z M196.0 431.6L200.8 434.0L203.9 438.8L199.1 435.9Z"/>
<rect x="1224" y="128" width="1.2" height="709" fill="#fff" opacity="0.85"/>
<line x1="339.5" y1="129.9" x2="339.5" y2="837" stroke="#000" stroke-width="1.2" stroke-dasharray="1.2 2.8"/>
<line x1="549.5" y1="129.9" x2="549.5" y2="837" stroke="#000" stroke-width="1.2" stroke-dasharray="1.2 2.8"/>
<line x1="759.5" y1="129.9" x2="759.5" y2="837" stroke="#000" stroke-width="1.2" stroke-dasharray="1.2 2.8"/>
<line x1="969.5" y1="129.9" x2="969.5" y2="837" stroke="#000" stroke-width="1.2" stroke-dasharray="1.2 2.8"/>
<line x1="1180.5" y1="129.9" x2="1180.5" y2="837" stroke="#000" stroke-width="1.2" stroke-dasharray="1.2 2.8"/>
<line x1="179.9" y1="150.5" x2="1225" y2="150.5" stroke="#000" stroke-width="1.2" stroke-dasharray="1.2 2.8"/>
<line x1="179.9" y1="297.5" x2="1225" y2="297.5" stroke="#000" stroke-width="1.2" stroke-dasharray="1.2 2.8"/>
<line x1="179.9" y1="440.5" x2="1225" y2="440.5" stroke="#000" stroke-width="1.2" stroke-dasharray="1.2 2.8"/>
<line x1="179.9" y1="581.5" x2="1225" y2="581.5" stroke="#000" stroke-width="1.2" stroke-dasharray="1.2 2.8"/>
<line x1="179.9" y1="722" x2="1225" y2="722" stroke="#000" stroke-width="1.2" stroke-dasharray="1.2 2.8"/>
</g>
<rect x="176" y="126" width="1051" height="713" fill="none" stroke="#000" stroke-width="4" stroke-linejoin="round"/>
<rect x="173" y="839" width="3.1" height="3" fill="#fff"/>
<rect x="337.5" y="128" width="4.2" height="8.7" rx="0.4" fill="#000"/>
<rect x="337.5" y="828.4" width="4.2" height="8.7" rx="0.4" fill="#000"/>
<rect x="547.6" y="128" width="4.2" height="8.7" rx="0.4" fill="#000"/>
<rect x="547.6" y="828.4" width="4.2" height="8.7" rx="0.4" fill="#000"/>
<rect x="757.7" y="128" width="4.2" height="8.7" rx="0.4" fill="#000"/>
<rect x="757.7" y="828.4" width="4.2" height="8.7" rx="0.4" fill="#000"/>
<rect x="967.8" y="128" width="4.2" height="8.7" rx="0.4" fill="#000"/>
<rect x="967.8" y="828.4" width="4.2" height="8.7" rx="0.4" fill="#000"/>
<rect x="1177.9" y="128" width="4.2" height="8.7" rx="0.4" fill="#000"/>
<rect x="1177.9" y="828.4" width="4.2" height="8.7" rx="0.4" fill="#000"/>
<rect x="178" y="148.75" width="8.6" height="3.9" rx="0.4" fill="#000"/>
<rect x="1216.3" y="148.65" width="8.7" height="3.9" rx="0.4" fill="#000"/>
<rect x="178" y="295.5" width="8.6" height="3.9" rx="0.4" fill="#000"/>
<rect x="1216.3" y="295.4" width="8.7" height="3.9" rx="0.4" fill="#000"/>
<rect x="178" y="438.35" width="8.6" height="3.9" rx="0.4" fill="#000"/>
<rect x="1216.3" y="438.25" width="8.7" height="3.9" rx="0.4" fill="#000"/>
<rect x="178" y="579.75" width="8.6" height="3.9" rx="0.4" fill="#000"/>
<rect x="1216.3" y="579.65" width="8.7" height="3.9" rx="0.4" fill="#000"/>
<rect x="178" y="720.15" width="8.6" height="3.9" rx="0.4" fill="#000"/>
<rect x="1216.3" y="720.05" width="8.7" height="3.9" rx="0.4" fill="#000"/>
<text transform="translate(340.8 861.2) scale(1.02 1)" font-size="17" text-anchor="middle" fill="#000">63<tspan font-size="13" dy="-7.5">o</tspan><tspan dy="7.5">W</tspan></text>
<text transform="translate(550.9 861.2) scale(1.02 1)" font-size="17" text-anchor="middle" fill="#000">54<tspan font-size="13" dy="-7.5">o</tspan><tspan dy="7.5">W</tspan></text>
<text transform="translate(761 861.2) scale(1.02 1)" font-size="17" text-anchor="middle" fill="#000">45<tspan font-size="13" dy="-7.5">o</tspan><tspan dy="7.5">W</tspan></text>
<text transform="translate(971.1 861.2) scale(1.02 1)" font-size="17" text-anchor="middle" fill="#000">36<tspan font-size="13" dy="-7.5">o</tspan><tspan dy="7.5">W</tspan></text>
<text transform="translate(1181.2 861.2) scale(1.02 1)" font-size="17" text-anchor="middle" fill="#000">27<tspan font-size="13" dy="-7.5">o</tspan><tspan dy="7.5">W</tspan></text>
<text transform="translate(171.3 159.6) scale(1.035 1)" font-size="17" text-anchor="end" fill="#000">24<tspan font-size="13" dy="-7.5">o</tspan><tspan dy="7.5">N</tspan></text>
<text transform="translate(171.3 306.35) scale(1.035 1)" font-size="17" text-anchor="end" fill="#000">18<tspan font-size="13" dy="-7.5">o</tspan><tspan dy="7.5">N</tspan></text>
<text transform="translate(171.3 449.2) scale(1.035 1)" font-size="17" text-anchor="end" fill="#000">12<tspan font-size="13" dy="-7.5">o</tspan><tspan dy="7.5">N</tspan></text>
<text transform="translate(171.3 590.6) scale(1.035 1)" font-size="17" text-anchor="end" fill="#000">6<tspan font-size="13" dy="-7.5">o</tspan><tspan dy="7.5">N</tspan></text>
<text transform="translate(165 731) scale(1.035 1)" font-size="17" text-anchor="end" fill="#000">0<tspan font-size="13" dy="-7.5">o</tspan><tspan dy="7.5"></tspan></text>
<text transform="translate(706.1 76.1) scale(1.021 1)" font-size="31" text-anchor="middle" fill="#000" font-weight="bold">AVHRR Sea Surface Temperature</text>
<text transform="translate(700.8 116) scale(1.034 1)" font-size="24.5" text-anchor="middle" fill="#000" font-weight="bold">2018-12-11</text>
<g shape-rendering="crispEdges">
<rect x="177.50" y="880.5" width="11.12" height="19" fill="#b085c9"/>
<rect x="188.12" y="880.5" width="11.12" height="19" fill="#a675c1"/>
<rect x="198.74" y="880.5" width="11.12" height="19" fill="#9c66ba"/>
<rect x="209.36" y="880.5" width="11.12" height="19" fill="#9256b2"/>
<rect x="219.98" y="880.5" width="11.12" height="19" fill="#8846aa"/>
<rect x="230.60" y="880.5" width="11.12" height="19" fill="#7f37a3"/>
<rect x="241.22" y="880.5" width="11.12" height="19" fill="#75279b"/>
<rect x="251.84" y="880.5" width="11.12" height="19" fill="#6b1793"/>
<rect x="262.46" y="880.5" width="11.12" height="19" fill="#61088c"/>
<rect x="273.08" y="880.5" width="11.12" height="19" fill="#5a008a"/>
<rect x="283.70" y="880.5" width="11.12" height="19" fill="#550090"/>
<rect x="294.32" y="880.5" width="11.12" height="19" fill="#4f0098"/>
<rect x="304.94" y="880.5" width="11.12" height="19" fill="#4800a1"/>
<rect x="315.56" y="880.5" width="11.12" height="19" fill="#4200a9"/>
<rect x="326.18" y="880.5" width="11.12" height="19" fill="#3c00b1"/>
<rect x="336.80" y="880.5" width="11.12" height="19" fill="#3500b9"/>
<rect x="347.42" y="880.5" width="11.12" height="19" fill="#2f00c1"/>
<rect x="358.04" y="880.5" width="11.12" height="19" fill="#2900ca"/>
<rect x="368.66" y="880.5" width="11.12" height="19" fill="#2300d2"/>
<rect x="379.28" y="880.5" width="11.12" height="19" fill="#1c00da"/>
<rect x="389.90" y="880.5" width="11.12" height="19" fill="#1600e2"/>
<rect x="400.52" y="880.5" width="11.12" height="19" fill="#1000ea"/>
<rect x="411.14" y="880.5" width="11.12" height="19" fill="#0900f3"/>
<rect x="421.76" y="880.5" width="11.12" height="19" fill="#0300fb"/>
<rect x="432.38" y="880.5" width="11.12" height="19" fill="#0000ff"/>
<rect x="443.00" y="880.5" width="11.12" height="19" fill="#0000ff"/>
<rect x="453.62" y="880.5" width="11.12" height="19" fill="#0008f4"/>
<rect x="464.24" y="880.5" width="11.12" height="19" fill="#0016df"/>
<rect x="474.86" y="880.5" width="11.12" height="19" fill="#0026ca"/>
<rect x="485.48" y="880.5" width="11.12" height="19" fill="#0034b5"/>
<rect x="496.10" y="880.5" width="11.12" height="19" fill="#0141a5"/>
<rect x="506.72" y="880.5" width="11.12" height="19" fill="#024a9b"/>
<rect x="517.34" y="880.5" width="11.12" height="19" fill="#025291"/>
<rect x="527.96" y="880.5" width="11.12" height="19" fill="#045c87"/>
<rect x="538.58" y="880.5" width="11.12" height="19" fill="#04647d"/>
<rect x="549.20" y="880.5" width="11.12" height="19" fill="#066e71"/>
<rect x="559.82" y="880.5" width="11.12" height="19" fill="#077763"/>
<rect x="570.44" y="880.5" width="11.12" height="19" fill="#088055"/>
<rect x="581.06" y="880.5" width="11.12" height="19" fill="#098947"/>
<rect x="591.68" y="880.5" width="11.12" height="19" fill="#099139"/>
<rect x="602.30" y="880.5" width="11.12" height="19" fill="#0a9e28"/>
<rect x="612.92" y="880.5" width="11.12" height="19" fill="#0aad14"/>
<rect x="623.54" y="880.5" width="11.12" height="19" fill="#11b60a"/>
<rect x="634.16" y="880.5" width="11.12" height="19" fill="#1fb90a"/>
<rect x="644.78" y="880.5" width="11.12" height="19" fill="#2cbc09"/>
<rect x="655.40" y="880.5" width="11.12" height="19" fill="#3abf09"/>
<rect x="666.02" y="880.5" width="11.12" height="19" fill="#48c209"/>
<rect x="676.64" y="880.5" width="11.12" height="19" fill="#56c509"/>
<rect x="687.26" y="880.5" width="11.12" height="19" fill="#63c808"/>
<rect x="697.88" y="880.5" width="11.12" height="19" fill="#71cb08"/>
<rect x="708.50" y="880.5" width="11.12" height="19" fill="#81d007"/>
<rect x="719.12" y="880.5" width="11.12" height="19" fill="#92d706"/>
<rect x="729.74" y="880.5" width="11.12" height="19" fill="#a2de04"/>
<rect x="740.36" y="880.5" width="11.12" height="19" fill="#b4e402"/>
<rect x="750.98" y="880.5" width="11.12" height="19" fill="#c4eb01"/>
<rect x="761.60" y="880.5" width="11.12" height="19" fill="#d3f000"/>
<rect x="772.22" y="880.5" width="11.12" height="19" fill="#e0f400"/>
<rect x="782.84" y="880.5" width="11.12" height="19" fill="#ecf900"/>
<rect x="793.46" y="880.5" width="11.12" height="19" fill="#f9fd00"/>
<rect x="804.08" y="880.5" width="11.12" height="19" fill="#fffc00"/>
<rect x="814.70" y="880.5" width="11.12" height="19" fill="#fff600"/>
<rect x="825.32" y="880.5" width="11.12" height="19" fill="#fff000"/>
<rect x="835.94" y="880.5" width="11.12" height="19" fill="#ffea00"/>
<rect x="846.56" y="880.5" width="11.12" height="19" fill="#ffe400"/>
<rect x="857.18" y="880.5" width="11.12" height="19" fill="#ffde00"/>
<rect x="867.80" y="880.5" width="11.12" height="19" fill="#ffd900"/>
<rect x="878.42" y="880.5" width="11.12" height="19" fill="#ffd300"/>
<rect x="889.04" y="880.5" width="11.12" height="19" fill="#ffcd00"/>
<rect x="899.66" y="880.5" width="11.12" height="19" fill="#ffc700"/>
<rect x="910.28" y="880.5" width="11.12" height="19" fill="#ffc100"/>
<rect x="920.90" y="880.5" width="11.12" height="19" fill="#ffba00"/>
<rect x="931.52" y="880.5" width="11.12" height="19" fill="#ffb300"/>
<rect x="942.14" y="880.5" width="11.12" height="19" fill="#ffac00"/>
<rect x="952.76" y="880.5" width="11.12" height="19" fill="#ffa500"/>
<rect x="963.38" y="880.5" width="11.12" height="19" fill="#ff9f00"/>
<rect x="974.00" y="880.5" width="11.12" height="19" fill="#ff9700"/>
<rect x="984.62" y="880.5" width="11.12" height="19" fill="#ff9000"/>
<rect x="995.24" y="880.5" width="11.12" height="19" fill="#ff8a00"/>
<rect x="1005.86" y="880.5" width="11.12" height="19" fill="#ff8200"/>
<rect x="1016.48" y="880.5" width="11.12" height="19" fill="#ff7c00"/>
<rect x="1027.10" y="880.5" width="11.12" height="19" fill="#ff7300"/>
<rect x="1037.72" y="880.5" width="11.12" height="19" fill="#ff6a00"/>
<rect x="1048.34" y="880.5" width="11.12" height="19" fill="#ff6100"/>
<rect x="1058.96" y="880.5" width="11.12" height="19" fill="#ff5800"/>
<rect x="1069.58" y="880.5" width="11.12" height="19" fill="#ff5000"/>
<rect x="1080.20" y="880.5" width="11.12" height="19" fill="#ff4600"/>
<rect x="1090.82" y="880.5" width="11.12" height="19" fill="#ff3d00"/>
<rect x="1101.44" y="880.5" width="11.12" height="19" fill="#ff3400"/>
<rect x="1112.06" y="880.5" width="11.12" height="19" fill="#ff2b00"/>
<rect x="1122.68" y="880.5" width="11.12" height="19" fill="#ff2300"/>
<rect x="1133.30" y="880.5" width="11.12" height="19" fill="#ff1900"/>
<rect x="1143.92" y="880.5" width="11.12" height="19" fill="#ff0f00"/>
<rect x="1154.54" y="880.5" width="11.12" height="19" fill="#ff0500"/>
<rect x="1165.16" y="880.5" width="11.12" height="19" fill="#f80000"/>
<rect x="1175.78" y="880.5" width="11.12" height="19" fill="#eb0000"/>
<rect x="1186.40" y="880.5" width="11.12" height="19" fill="#dd0000"/>
<rect x="1197.02" y="880.5" width="11.12" height="19" fill="#cf0000"/>
<rect x="1207.64" y="880.5" width="11.12" height="19" fill="#c20000"/>
<rect x="1218.26" y="880.5" width="11.12" height="19" fill="#b40000"/>
<rect x="1228.88" y="880.5" width="10.62" height="19" fill="#a70000"/>
</g>
<rect x="177.5" y="880.5" width="1062" height="19" fill="none" stroke="#262626" stroke-width="1"/>
<line x1="283.7" y1="889.5" x2="283.7" y2="899.5" stroke="#262626" stroke-width="1"/>
<line x1="389.9" y1="889.5" x2="389.9" y2="899.5" stroke="#262626" stroke-width="1"/>
<line x1="496.1" y1="889.5" x2="496.1" y2="899.5" stroke="#262626" stroke-width="1"/>
<line x1="602.3" y1="889.5" x2="602.3" y2="899.5" stroke="#262626" stroke-width="1"/>
<line x1="708.5" y1="889.5" x2="708.5" y2="899.5" stroke="#262626" stroke-width="1"/>
<line x1="814.7" y1="889.5" x2="814.7" y2="899.5" stroke="#262626" stroke-width="1"/>
<line x1="920.9" y1="889.5" x2="920.9" y2="899.5" stroke="#262626" stroke-width="1"/>
<line x1="1027.1" y1="889.5" x2="1027.1" y2="899.5" stroke="#262626" stroke-width="1"/>
<line x1="1133.3" y1="889.5" x2="1133.3" y2="899.5" stroke="#262626" stroke-width="1"/>
<text transform="translate(177.9 924) scale(1 1)" font-size="17" text-anchor="middle" fill="#262626">20</text>
<text transform="translate(284.1 924) scale(1 1)" font-size="17" text-anchor="middle" fill="#262626">21</text>
<text transform="translate(390.3 924) scale(1 1)" font-size="17" text-anchor="middle" fill="#262626">22</text>
<text transform="translate(496.5 924) scale(1 1)" font-size="17" text-anchor="middle" fill="#262626">23</text>
<text transform="translate(602.7 924) scale(1 1)" font-size="17" text-anchor="middle" fill="#262626">24</text>
<text transform="translate(708.9 924) scale(1 1)" font-size="17" text-anchor="middle" fill="#262626">25</text>
<text transform="translate(815.1 924) scale(1 1)" font-size="17" text-anchor="middle" fill="#262626">26</text>
<text transform="translate(921.3 924) scale(1 1)" font-size="17" text-anchor="middle" fill="#262626">27</text>
<text transform="translate(1027.5 924) scale(1 1)" font-size="17" text-anchor="middle" fill="#262626">28</text>
<text transform="translate(1133.7 924) scale(1 1)" font-size="17" text-anchor="middle" fill="#262626">29</text>
<text transform="translate(1239.9 924) scale(1 1)" font-size="17" text-anchor="middle" fill="#262626">30</text>
<text transform="translate(708.7 948) scale(1.03 1)" font-size="17" text-anchor="middle" fill="#262626">°C</text>
</svg></body></html>
